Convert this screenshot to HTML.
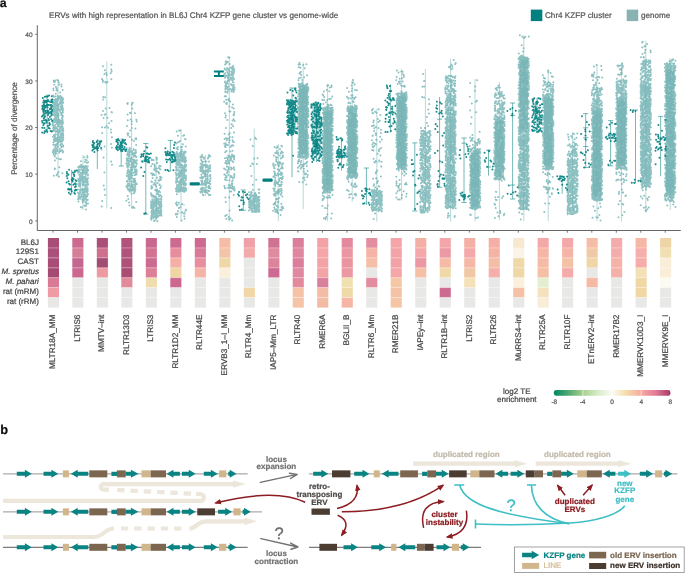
<!DOCTYPE html>
<html><head><meta charset="utf-8"><style>
html,body{margin:0;padding:0;background:#fff;}
svg{display:block;font-family:"Liberation Sans",sans-serif;will-change:transform;text-rendering:geometricPrecision;}
</style></head><body>
<svg width="685" height="574" viewBox="0 0 685 574">
<rect width="685" height="574" fill="#fff"/>
<defs><linearGradient id="gg" x1="0" y1="0" x2="0" y2="1"><stop offset="0" stop-color="#72b2b3" stop-opacity="0"/><stop offset="0.07" stop-color="#72b2b3" stop-opacity="1"/><stop offset="0.93" stop-color="#72b2b3" stop-opacity="1"/><stop offset="1" stop-color="#72b2b3" stop-opacity="0"/></linearGradient><linearGradient id="gt" x1="0" y1="0" x2="0" y2="1"><stop offset="0" stop-color="#00807f" stop-opacity="0"/><stop offset="0.07" stop-color="#00807f" stop-opacity="1"/><stop offset="0.93" stop-color="#00807f" stop-opacity="1"/><stop offset="1" stop-color="#00807f" stop-opacity="0"/></linearGradient></defs>
<g id="chart">
<rect x="299" y="83.7" width="8.5" height="74" fill="url(#gg)" opacity="0.72"/>
<rect x="323.4" y="107" width="8.5" height="86" fill="url(#gg)" opacity="0.72"/>
<rect x="348" y="106" width="8.5" height="72.4" fill="url(#gg)" opacity="0.72"/>
<rect x="397.4" y="92.6" width="8.5" height="76.9" fill="url(#gg)" opacity="0.72"/>
<rect x="446.4" y="95" width="8.5" height="114" fill="url(#gg)" opacity="0.3"/>
<rect x="470.8" y="149" width="8.5" height="60.4" fill="url(#gg)" opacity="0.72"/>
<rect x="495.2" y="117" width="8.5" height="63" fill="url(#gg)" opacity="0.72"/>
<rect x="519.6" y="56" width="8.5" height="78.5" fill="url(#gg)" opacity="0.72"/>
<rect x="519.6" y="134.5" width="8.5" height="74.9" fill="url(#gg)" opacity="0.3"/>
<rect x="544" y="94.5" width="8.5" height="74.9" fill="url(#gg)" opacity="0.72"/>
<rect x="592.8" y="106.7" width="8.5" height="94" fill="url(#gg)" opacity="0.72"/>
<rect x="617.2" y="97" width="8.5" height="72.4" fill="url(#gg)" opacity="0.72"/>
<rect x="641.6" y="82.3" width="8.5" height="104.5" fill="url(#gg)" opacity="0.3"/>
<rect x="666" y="63.1" width="8.5" height="135.9" fill="url(#gg)" opacity="0.72"/>
<path d="M58 79.5V177.2M83 155V210M106.8 61.3V208.4M131.6 101.7V208.4M156.2 157V221.5M181 129.3V221.3M177 204.8H185M177 212.9H185M205.4 155V196M229.3 56.5V221.3M225.3 188.2H233.3M254.2 128.6V212.1M278.3 144V221.3M303.2 62.5V209M327.6 83.7V221.3M352.2 79.2V202M376.8 108.8V221.6M372.8 162H380.8M401.6 68.9V200.6M425.4 68.9V212.7M450.6 58.8V221.6M475 78.8V221.6M499.4 82.3V220M523.8 35.2V221M519.8 209.4H527.8M548.2 70V221M572.6 132.8V214.7M597 64.8V221M621.4 63.1V221.6M645.8 40.5V211.8M670.2 57.9V210" stroke="#72b2b3" stroke-width="0.5" fill="none"/>
<path d="M54.3 84.8h0M53.5 90.2h0M56.6 88.3h0M58.1 80.5h0M57.3 80.1h0M53.7 80.7h0M61.5 86.5h0M55.1 81.5h0M62.7 89.9h0M56.9 89h0M53.2 95.6h0M55.8 93.7h0M53.9 81.9h0M61.4 84.6h0M58.9 82.5h0M56.6 90h0M53.4 88.5h0M54.9 80.5h0M57.2 90.7h0M58.9 84.7h0M55.9 87h0M60.1 92.6h0M58.8 97h0M62 98.1h0M55.8 98.9h0M54 99.9h0M60.7 97.7h0M57.9 96.6h0M59.8 96.2h0M58.8 99.1h0M56 99.5h0M59 98.8h0M57.5 98.3h0M62.7 99.4h0M59.7 97.9h0M60.1 96.2h0M63.2 98.6h0M55.7 99.3h0M59.8 97.5h0M57.6 96.1h0M53.9 96.7h0M60.8 96.2h0M55.3 96.5h0M61.9 97.6h0M57.5 96.3h0M62.1 98.2h0M61.9 99.3h0M57.1 111.7h0M62.1 115.1h0M54.3 140.2h0M55.2 107.4h0M57.8 109.8h0M55.5 124.7h0M57.1 100.2h0M58.7 115.5h0M60 140h0M59.2 121.7h0M53.3 128.4h0M61 137.8h0M61.2 136.7h0M56.9 116.5h0M59.4 104.3h0M53.4 102.6h0M54.4 108.8h0M53.3 114.3h0M54.3 100h0M56.6 104.3h0M62 101.1h0M54.3 125.8h0M56.4 110.6h0M54 115.3h0M63.2 135.7h0M57.8 119.6h0M53.8 103.6h0M55.5 114.4h0M54.4 134.8h0M62.8 101h0M54.3 122.2h0M53 122.8h0M63.1 122.2h0M60.1 136.3h0M56.6 111h0M60.9 107h0M61 122.4h0M55.1 113.8h0M63.1 134.1h0M61.2 135.8h0M60.5 134.4h0M58.2 109.5h0M53 114.9h0M55.7 101.2h0M60 110.9h0M57.4 140.2h0M63.2 139.4h0M56.6 140.1h0M55.1 109.3h0M54.9 108.3h0M62.2 126.2h0M57.8 135.3h0M61.2 127.4h0M59.7 103.6h0M61 138.2h0M57.8 131.5h0M61.1 107.5h0M61.2 114h0M56.9 140.8h0M62.7 116.9h0M54.5 130.4h0M54.3 105.3h0M61.2 138h0M61.5 106.1h0M59.7 141.2h0M58.5 114.7h0M52.9 105.5h0M59.6 140.8h0M62.6 122.1h0M61.9 118.2h0M54.9 134.7h0M55.8 110.6h0M58.9 110.1h0M57.1 110.9h0M62.3 105.5h0M57.6 114.9h0M62.3 124.5h0M62.4 117.7h0M58.3 121.1h0M52.9 122h0M54.6 118.5h0M61.2 100.2h0M57.7 107.2h0M58.6 130.5h0M58.2 113.7h0M61 123.3h0M58.6 104.5h0M55.6 110.4h0M58.1 132.4h0M60.8 123.6h0M57.4 138.3h0M58.1 125.7h0M60 121.5h0M58.4 119h0M62.7 120.1h0M62 129.4h0M55.5 139.6h0M62.7 123.5h0M54.2 135.3h0M57.4 105.1h0M55.3 103h0M59.8 103.1h0M62.2 132.9h0M60.3 106.5h0M54.2 127.7h0M63 137.1h0M62.8 109.2h0M57.9 116.7h0M61.5 141.6h0M57.3 106.8h0M56.3 121.7h0M56.1 108.2h0M52.9 130.3h0M57.4 123.3h0M56.2 100.8h0M58.1 126.2h0M63.1 102.7h0M63 133.1h0M55.5 104.4h0M61 101.7h0M54.1 111.4h0M62.4 117.7h0M55.4 134.4h0M62.4 106.3h0M60.1 124h0M53.3 103.8h0M57.2 128.9h0M62.6 103h0M61.2 126.6h0M61.8 103.5h0M61.8 102.8h0M56.3 119.1h0M62.5 123.2h0M54.1 111.3h0M55.2 122.1h0M54.4 104.6h0M54.8 102.1h0M55.9 113.1h0M55.8 131.9h0M54.6 121h0M52.9 114.6h0M52.9 110.5h0M58.5 130.8h0M57.7 108h0M53.8 139.3h0M57.3 134.4h0M61.5 120.8h0M58.1 116.5h0M63.1 128.9h0M61.5 114.4h0M59.4 129.7h0M56.4 117h0M54.1 102.3h0M60.6 103h0M54.4 110.7h0M61.6 103.5h0M59.8 136.6h0M55.3 111.8h0M57.6 112.3h0M57.4 106.6h0M62.9 111.1h0M58.5 140.9h0M62.9 110.3h0M56.5 113h0M56.7 100h0M58 119.9h0M58.1 108.4h0M55.5 100.2h0M56.9 103.8h0M52.9 101.8h0M55.2 112.8h0M58.3 124.6h0M59.7 131.5h0M62 130.1h0M56.2 116.4h0M54.3 141.4h0M59.5 130.4h0M61.6 101.8h0M59.3 137.5h0M61.3 130.8h0M58.3 105.9h0M61.6 121.2h0M61.5 133.8h0M62.2 124.5h0M60 128.7h0M53 109.7h0M56.5 105.6h0M61.6 104.4h0M59.4 123.5h0M59.9 126.3h0M52.7 120.6h0M60.6 133.5h0M58.4 121.1h0M53.4 127.7h0M55.4 130.9h0M55.5 103.1h0M54.9 130.6h0M63 131.1h0M56.8 120.7h0M59.9 120.1h0M59.2 132.2h0M53.5 127h0M55.4 106.2h0M55.9 131.2h0M52.8 123.8h0M55.5 102.5h0M60 128.2h0M55.8 128.4h0M57.6 121.7h0M54 119.6h0M54.8 137.5h0M62.6 141.1h0M57.6 100.7h0M63 134.4h0M55.5 118.9h0M62.7 108.8h0M58.9 108.8h0M58.3 106h0M54.1 140h0M58.1 134.4h0M60.2 137.2h0M62.2 109.7h0M53 120.4h0M57.9 100.2h0M55.9 118.9h0M56.3 105.9h0M61.6 113.3h0M60.7 100.1h0M54 135.2h0M60.3 138.9h0M55.8 137.9h0M56.9 115.6h0M58.9 141.9h0M57.2 115.1h0M53.2 111.6h0M61.5 104.3h0M62.6 112h0M55.5 110.5h0M54.7 121.5h0M62.8 115.7h0M61.3 137.1h0M62.4 126.5h0M58.5 139.5h0M53.2 130.2h0M57.5 130.8h0M59.5 131.6h0M53.2 112h0M54 138.9h0M56.3 119.8h0M60.5 112.5h0M55.5 141h0M55.9 127.6h0M56.9 123.4h0M54.4 107h0M62.3 108.7h0M55 120.9h0M63.3 138.1h0M54.2 118.9h0M53.7 108.1h0M53.7 114.4h0M55.4 110h0M62.1 123.9h0M57.1 131.5h0M58.3 117.4h0M56.3 115.8h0M55.6 102.6h0M54 140.6h0M59.4 121.1h0M55 136.2h0M55.3 111.4h0M57.4 116.8h0M61.7 140.1h0M52.9 136.7h0M60.2 101.4h0M57.7 137.6h0M52.7 124.7h0M62.5 116.4h0M61.8 134.7h0M55.3 140.8h0M54.3 104.6h0M59.9 121.9h0M60.4 139.5h0M60.8 127.2h0M58.5 119.2h0M61 101.7h0M62.5 109.8h0M55.9 127.1h0M55.4 105.4h0M60.1 126.7h0M53.4 104.7h0M58.9 122h0M55.1 116.3h0M52.8 125.2h0M57.6 112.7h0M59.5 140.3h0M57.7 137.1h0M55.3 109.9h0M60.2 140.3h0M52.9 112.9h0M59.8 120.9h0M55.4 117.6h0M62.5 128h0M53.1 109.5h0M57.2 114.2h0M54.8 128.7h0M60.5 133.5h0M54.9 121.2h0M56 140.7h0M55.1 134.4h0M60.8 109.3h0M62.8 112.4h0M54.7 120.8h0M57.1 109.4h0M62.8 127.9h0M56.9 106.1h0M63 108.9h0M53.2 106h0M56.9 102.5h0M62.1 137.7h0M63.3 130.8h0M56.2 139.1h0M62.6 107.8h0M53 131.3h0M56.7 127.9h0M56.2 115.7h0M52.7 107.1h0M56.4 111.8h0M54 140.1h0M54.9 140.5h0M61.4 115h0M57.3 151h0M57.7 142.5h0M62.4 146.1h0M56.6 144.1h0M53 151.9h0M61.3 146.5h0M53.1 150.4h0M53.4 142.4h0M55.4 152.1h0M62.2 150.2h0M55.6 145.7h0M59.2 152.5h0M60.3 144.9h0M55.6 145.5h0M60.7 142h0M59.4 152.1h0M53 152.4h0M57.7 144.6h0M62.8 152.5h0M55.4 146.3h0M57.9 146.7h0M54.6 152.2h0M60.5 150.8h0M60.9 151.1h0M56.2 148.7h0M56.5 145.5h0M53.5 150.6h0M60.7 144.2h0M53.4 144.7h0M58.6 142.4h0M63.1 145.6h0M63.2 151.7h0M53.6 144.9h0M58 143.1h0M57.4 149.8h0M57.1 144.6h0M59.8 148.8h0M61.7 150.2h0M54 149.3h0M55.8 151.2h0M56.7 148.2h0M54.8 150.1h0M55.3 144.7h0M62.1 143.7h0M56.2 148.4h0M63.2 146.4h0M55.2 147.6h0M59.6 150.9h0M53.8 152.9h0M61.4 147.2h0M62.4 173.2h0M55.8 154h0M54.7 155.9h0M58.9 176.4h0M56.6 175.3h0M57.5 173.8h0M60.9 159.2h0M53.8 175.7h0M59.3 167.3h0M56.6 158.2h0M54.9 156.4h0M59.1 159.1h0M54.9 168.6h0M56.2 153.3h0M54.7 169.3h0M54.9 160.5h0M58.5 172.1h0M53.8 154.5h0M81.2 164.7h0M87.3 157.6h0M85 161.9h0M88.1 162.3h0M86.6 160.2h0M86.8 162.7h0M85.4 159.8h0M81 161.3h0M84.3 157.3h0M87.4 155.9h0M78 171.4h0M87.5 169.9h0M79.2 178.8h0M78.1 167.1h0M84.4 191.6h0M85.5 191.8h0M84 168.4h0M86.4 179.4h0M87.1 196.3h0M86.9 168.4h0M87.7 199.8h0M79.9 170h0M78.1 170.1h0M86.3 197.4h0M86.4 189.5h0M80.7 189.4h0M78.7 169.7h0M79.9 194h0M82.2 177.8h0M80.4 166.8h0M85.3 176.5h0M81.1 179.6h0M83 201.7h0M84.3 197.5h0M82.1 167.1h0M85.9 182.1h0M85.2 178.8h0M80 185.9h0M78.7 197.9h0M79.5 196.3h0M79.8 166h0M88.1 194.2h0M82.9 166.2h0M86.1 184.2h0M82.9 172.8h0M86.5 178.8h0M87.7 175.6h0M80 176.5h0M83 191.9h0M84.4 170.1h0M86.1 169h0M86 191.8h0M81.5 189.2h0M81.9 180.8h0M78.6 198.9h0M78 198.9h0M80.5 173.6h0M83 199.3h0M87.1 180h0M82.6 174.6h0M85.7 185.7h0M84.6 193.9h0M81.2 178.9h0M86.6 171.7h0M85.6 190.5h0M82.4 172.3h0M83.8 194.6h0M82.6 170.7h0M80.2 198.7h0M80.9 173.1h0M86.6 192h0M79.4 171.7h0M81.2 175.2h0M79.4 185.3h0M79.7 178.1h0M85.4 202.1h0M87.9 169.8h0M81.8 169.8h0M86.1 202.4h0M82.3 193.1h0M84.5 173.3h0M79.9 170h0M78.1 180.4h0M86.1 180.8h0M83 191.7h0M82.6 189.4h0M84.1 171.2h0M85.6 181h0M82.3 199.6h0M85.6 187.2h0M80.1 181.6h0M87 192.7h0M85.1 194.6h0M84.9 197.5h0M82.5 189.7h0M84.4 177.6h0M82.1 169.6h0M85.3 194.9h0M80.4 189.3h0M82.5 181.7h0M82 189h0M87.6 191h0M84.6 172.8h0M81.8 194.8h0M88 184.1h0M83.5 167.4h0M86 172h0M83.2 200.8h0M83.8 169.7h0M85.3 186h0M84.5 185h0M83.2 196.7h0M87.7 181.2h0M85 173.8h0M85.8 180.5h0M88.1 170.5h0M78.3 179.2h0M81.9 176.2h0M82.1 166.5h0M85.1 181.6h0M80.5 179h0M85.6 174.3h0M83.3 200.8h0M86.2 174.1h0M79.9 180.5h0M85.9 170.8h0M84.4 196h0M83.7 183.4h0M87.9 174.4h0M84.5 179.1h0M86.4 196.3h0M80.8 183.3h0M79 186.3h0M81.5 196.8h0M80.5 197.5h0M80.4 179.9h0M79.7 181.8h0M85.4 166.1h0M80.3 176.4h0M82.8 177.2h0M84.5 181.9h0M81.5 190.4h0M86.8 200.4h0M86.5 168.1h0M86 199.5h0M86.5 171.2h0M77.9 189.4h0M87.8 166.4h0M80.4 190.3h0M79.2 169.8h0M85.9 174.6h0M79.3 178.8h0M86.1 199.5h0M87.1 172.2h0M86 188.5h0M87.2 190.7h0M86.6 195.2h0M85 173.3h0M85.6 185.6h0M87.1 182.2h0M80.5 186.5h0M79.2 174.7h0M78.3 184.2h0M79.2 183.3h0M83 184.2h0M86.8 186h0M86.6 166.2h0M83.7 183.3h0M86.6 190.6h0M82.1 179.9h0M78.5 201.5h0M84.4 189.6h0M84.2 167.1h0M87.6 191.3h0M88.1 178.2h0M82.8 184.9h0M78.1 199.2h0M84.3 192.6h0M86.8 178.5h0M82.7 179.5h0M85.9 185.4h0M82.3 173.8h0M83.6 181.6h0M80.8 196.6h0M82 196.6h0M80.6 184.6h0M88 184.7h0M86.1 190.2h0M81.1 178.2h0M83.9 177.1h0M86 189.5h0M85.4 167.5h0M83.5 198.8h0M80.9 167.8h0M79.7 166.2h0M84.2 200.1h0M86.1 190.3h0M84.2 199.7h0M84.3 188.8h0M84 191.8h0M80 191.2h0M82.6 190.7h0M78.8 194.2h0M78.1 172.7h0M87.4 194.7h0M81.6 190.3h0M86 196.4h0M80.4 186.8h0M82.2 177.2h0M82.3 177.8h0M87.6 189.7h0M83.7 168h0M79 167.5h0M83.8 196h0M82.4 200h0M81.8 166.5h0M87.6 187.9h0M82.7 202.3h0M78.8 181.3h0M80 189.8h0M77.9 171.6h0M84.9 166.2h0M87.9 170.5h0M86.9 169.3h0M77.9 170.8h0M80.3 192.6h0M79.7 193.1h0M85.9 167.9h0M86.8 192.4h0M78.6 193h0M85.2 189.3h0M87.6 183h0M87.9 175.4h0M77.8 192.5h0M84.6 166.5h0M78.5 196.2h0M85.4 177.5h0M86.8 172.1h0M78.3 184h0M83.8 179.6h0M84.9 206.1h0M86.2 204h0M84.5 205.5h0M82.1 207.4h0M86 205.7h0M86 209.6h0M80.8 207h0M88 203.4h0M102.2 133h0M105.7 108.6h0M111.7 71.4h0M107.5 82.1h0M111.6 112h0M105.7 114.2h0M103.2 97h0M112 137.3h0M101.9 79.3h0M105.2 82h0M111.1 132.4h0M102 127.3h0M109 123.3h0M111.9 112.4h0M103 66.3h0M111.5 120.9h0M104.7 114.8h0M109.5 108.1h0M104.9 70.2h0M102.8 82h0M103.3 99.5h0M103 80.6h0M101.6 114.9h0M103.6 117.9h0M111.3 64.8h0M111.4 79.2h0M110.9 129.6h0M106.2 72.9h0M111.3 69.6h0M108.2 127.7h0M105.1 97.3h0M106.6 126.2h0M103 111h0M102.1 79.3h0M107.4 117.7h0M110.7 73.3h0M105.9 82.8h0M104.4 74.1h0M105 127.5h0M106.7 75.1h0M111.1 161.6h0M111.9 147.8h0M111 143.9h0M103.7 185.4h0M104.5 172.5h0M103.6 157.5h0M112 164.8h0M111.3 207.9h0M104.6 146.6h0M102.1 200.9h0M104.6 189.4h0M101.7 206.5h0M105.1 194.9h0M101.5 149.5h0M135 113.3h0M127.3 103.4h0M128.4 133.5h0M132.7 102.8h0M131.8 127.9h0M127.4 133.6h0M133.9 141.1h0M127.6 104h0M131.6 124.2h0M127.6 114.6h0M127.8 120.3h0M135.4 128.6h0M132.4 108.6h0M128 135.6h0M136.2 139.2h0M130.8 119.5h0M131.9 139.8h0M136.3 119.8h0M129.9 137h0M129.9 112.8h0M136.7 121.6h0M136 138.2h0M135.3 138.7h0M131.8 104.4h0M136.2 145.1h0M130.8 113.2h0M130.2 130.5h0M127 125.9h0M131.7 121.5h0M127.8 102.9h0M134.5 190.7h0M133 189.2h0M135.7 183.6h0M126.7 186.9h0M129.1 176.1h0M129.2 177.8h0M136.1 171.7h0M129 175.2h0M130.9 170.7h0M129.3 189.8h0M133.2 161.2h0M132.6 153h0M131.7 190.1h0M131.2 159.6h0M127.9 171.3h0M127.7 153.2h0M130.6 160.7h0M128.9 160.5h0M132.1 151.6h0M132.8 184.9h0M133.2 173h0M133.8 156.6h0M132.1 168.1h0M131.3 174.8h0M128.9 161.5h0M131.7 157.5h0M132.5 164.7h0M130 148.2h0M128.8 185.9h0M131.5 172.4h0M136.8 160.3h0M134.5 160.8h0M127 154.7h0M131 186.3h0M130.4 150.4h0M134.1 167.2h0M128.7 152.5h0M134.1 190.2h0M129.9 154.5h0M133.5 163.3h0M135.3 175h0M131.8 184.1h0M134.2 180.4h0M131.3 181.4h0M133.8 182.5h0M127.6 188.2h0M126.3 186.3h0M132.5 181.6h0M136.5 169.8h0M130.7 173h0M135.6 182.4h0M130.3 174.6h0M131.2 167.7h0M129.4 179.7h0M132.2 165h0M129.7 164.7h0M135.3 182.6h0M131 169.8h0M129.5 155.9h0M132.4 154.1h0M127.2 173.5h0M129.7 188.5h0M135.2 185.1h0M128.5 190.2h0M136 166.6h0M126.8 148.2h0M131.6 172.7h0M134.5 188.5h0M136.9 171.6h0M131.8 170.6h0M130.4 178.1h0M132.6 163.5h0M136.3 163.3h0M131.9 177.7h0M130.3 152.1h0M132.3 165.5h0M135.6 173.1h0M131.5 190.4h0M132.9 167.2h0M129.9 191.8h0M134.9 171.2h0M129.7 155.3h0M135.1 191h0M127.5 170.4h0M133.6 187.3h0M136.8 184.1h0M130.8 187h0M129.4 154.6h0M131.7 170.4h0M128.2 156h0M132.7 175.6h0M136.8 163.3h0M126.7 175.9h0M134.6 165.9h0M133.6 161.3h0M129.5 147.9h0M132.5 185h0M128.4 177.3h0M132.2 169.8h0M133.2 159.5h0M136.9 171.2h0M130.7 173.1h0M128 153.1h0M127.4 181.3h0M128.1 152.1h0M135 170.8h0M134.8 174.9h0M126.4 150.5h0M129.7 181.8h0M130.1 179.4h0M129.1 155.2h0M135.9 152.1h0M130 173.5h0M130.4 167.6h0M135.7 150.1h0M136.5 173.5h0M132.9 167.2h0M126.8 158.7h0M135.4 188.9h0M135.8 161.6h0M129.5 183.8h0M136.5 174.4h0M136.4 169.7h0M130.4 158.5h0M128.6 179.5h0M135.6 161.4h0M134.7 169.2h0M128.1 158.5h0M128.3 163.6h0M129.4 190.7h0M127.5 172.6h0M130.4 171.3h0M127 165.6h0M135.1 153.2h0M128.9 163.3h0M129.3 156.2h0M126.7 158.2h0M129.9 177.1h0M133.8 154.6h0M129.2 151.8h0M127.7 184.7h0M135.2 167.3h0M128 183.4h0M134 163.3h0M136.5 164.4h0M136.4 156.9h0M128.7 170.1h0M127.7 167.8h0M129.1 179h0M132.5 187.6h0M128.9 164h0M128.6 174.6h0M127.6 186.3h0M132.1 170.4h0M134.5 159.7h0M133.3 164.7h0M129.6 172.8h0M127.2 165h0M135.3 155.5h0M133.3 161.9h0M132.3 152.5h0M131.6 163.7h0M127 160.9h0M128.7 161.5h0M133.9 153.3h0M130.6 160.2h0M134.5 188h0M135.4 186.8h0M129.2 153.6h0M133.5 149h0M130 177.1h0M133.3 166h0M128.9 178.7h0M130 185.2h0M128.2 175.6h0M136 152.8h0M133.9 180.2h0M126.7 149.5h0M128.4 154.9h0M130.3 161.1h0M129.6 149.4h0M128.2 176h0M132.3 184.9h0M129 179.4h0M133.6 167h0M126.3 163.2h0M134.5 184.7h0M126.8 160.4h0M132.7 185.5h0M128.9 149.8h0M134.7 152.6h0M136 157h0M127.2 180.9h0M130.5 178.5h0M135.1 180.8h0M127.3 160.2h0M130.8 189.6h0M133.6 188.9h0M135.1 180.4h0M131.1 175.5h0M133.7 150.1h0M131.7 166.7h0M127.7 188.8h0M126.8 181.5h0M134.8 178.8h0M132.1 159.3h0M133.1 190.6h0M128.9 171.8h0M130.1 150.3h0M128.4 165.9h0M127.7 161.5h0M133.4 179h0M128.9 158.2h0M131 170.5h0M130 189.2h0M135.7 161h0M132.3 154h0M134.9 162.5h0M134.4 172h0M133.4 155.2h0M131.2 174.2h0M135.1 181.6h0M129.4 152.8h0M128.5 163.7h0M129.3 150.4h0M133.7 156.4h0M127.5 167.5h0M131.3 162.1h0M128.1 163.8h0M126.4 150.9h0M134.3 207.9h0M133.9 193.3h0M132.3 207.7h0M131.5 193.7h0M128.3 198.9h0M126.4 200.7h0M133.1 206.7h0M136.2 202h0M129 202.4h0M127.8 195.9h0M134.5 192.4h0M129.4 205.4h0M153.6 159.9h0M156.8 159.7h0M157 158.2h0M156.3 157.6h0M151.8 160.2h0M151.7 159.2h0M160.1 176.8h0M158.5 180.4h0M152.1 187.1h0M158.5 194.7h0M159.7 165.8h0M152.7 175.2h0M156.9 193.7h0M152.4 187.7h0M151.5 187.7h0M154.8 170.2h0M157.2 163h0M154.1 169.4h0M155.4 185.5h0M157.5 191.4h0M156.9 190.8h0M160.1 192.3h0M158.8 168h0M159 173.6h0M159.7 184.6h0M154.9 166.5h0M160.9 186.5h0M151.4 186h0M152 182.1h0M159.4 180.3h0M160.7 166.2h0M153.6 184.4h0M155.6 168.8h0M157.1 189.7h0M151.1 166.2h0M159.4 166.1h0M156.8 168.5h0M158.2 171.9h0M152.4 174.9h0M156.6 191h0M159.5 184.9h0M151 193.3h0M152.5 173.6h0M160.2 178.8h0M151.3 188.5h0M159.6 168.4h0M155.1 184.6h0M152.6 178h0M155.1 190h0M157.4 190.9h0M154.4 165h0M160.4 169.5h0M151.4 181.6h0M154.7 168h0M157 177.7h0M154.6 175.1h0M157 162.7h0M151.1 173.3h0M161.4 177.4h0M152.4 164h0M153.8 184.3h0M156.2 171.4h0M156.9 171h0M161 179.7h0M151.3 194.7h0M159.1 180.7h0M159.1 190.9h0M157.6 183.1h0M153.9 174.3h0M160.2 188.3h0M158.1 193h0M159 172.4h0M156.3 186.5h0M154.6 183.1h0M155.2 180.4h0M154.5 164.5h0M161.4 196.3h0M154.8 196.9h0M153.4 196h0M152.3 196.4h0M160.1 195h0M155.6 196.8h0M154.1 197.3h0M151.6 195.7h0M154.2 196.2h0M156.7 197.9h0M154.5 198.7h0M157.1 198.7h0M152.8 195.3h0M161.4 197.3h0M159.1 196.4h0M160.1 207.3h0M156 200.3h0M153.8 216.4h0M151.1 204h0M153.7 202.2h0M153.2 212.6h0M153 206.7h0M160.1 210.6h0M153 211.5h0M161.1 213.2h0M151.7 210.6h0M160.2 214.6h0M152.3 205.6h0M156.6 202.6h0M157.7 215.9h0M153.1 216.8h0M158.8 205.3h0M155.2 211.5h0M154.5 212.1h0M155.3 200.1h0M157.5 199.9h0M156.1 205.5h0M153.6 210.5h0M151 207.9h0M156.9 216.9h0M151.5 218.1h0M158.6 210.8h0M151.9 205.4h0M152.4 202h0M151.9 213.8h0M155.4 214.7h0M157.1 209.4h0M157.9 209.7h0M154.4 210.6h0M153.6 213.3h0M159 212.7h0M154.2 214h0M161.3 213.9h0M153.8 207.7h0M160.9 209.1h0M151 201.5h0M157.8 208.2h0M154.7 213.9h0M153.3 218.1h0M151.9 213.6h0M152.3 199.5h0M156.2 200.2h0M152.8 209.7h0M154.8 217.1h0M152.8 201.9h0M160.7 213.2h0M151.2 202.1h0M153.5 214h0M156.2 218h0M154.5 211.3h0M155.8 214.5h0M160.5 205.2h0M158.7 201.1h0M157.7 200.3h0M160.1 206.8h0M156.9 200.2h0M160.6 206.9h0M157.5 217.2h0M153.6 203.3h0M155.5 204.1h0M153.1 203.5h0M157.7 213.7h0M161.4 204.8h0M156.9 203.2h0M160 202h0M153.7 215.8h0M159.6 213.5h0M154.4 204.5h0M160.3 208.4h0M158.1 202.1h0M155.7 210.5h0M160.3 210.2h0M160.3 203h0M159.2 206h0M152.8 215.7h0M161.4 215.7h0M151.2 204.7h0M161.2 201.2h0M160.6 199.2h0M158.7 201.9h0M152.7 200.9h0M151.9 212.2h0M160.6 205.6h0M160.2 212.8h0M151.2 217.9h0M159.3 203.5h0M151.3 212.3h0M153.4 208.7h0M152 207.3h0M161.4 199.4h0M160.2 205.1h0M156.1 201.3h0M155.4 201.6h0M158.2 202.5h0M158.7 201.9h0M152.1 208.7h0M156.2 205.8h0M154.6 216.7h0M161.2 203.2h0M158.7 216h0M152.8 204.3h0M151.6 204.1h0M156.3 199.8h0M156.8 206.9h0M151 206h0M157.8 212.3h0M156.7 209.5h0M161.3 212.3h0M158.5 215.9h0M154.3 206.7h0M161.2 207.1h0M155 206.5h0M152.4 206.9h0M151 218.3h0M160.7 210.7h0M157.4 203.9h0M153.5 206.3h0M152.1 202.8h0M159.2 215.3h0M151.4 216.5h0M154.3 212.4h0M156.7 211.5h0M161.2 205.1h0M158.8 199h0M156.3 215.5h0M161.4 210.4h0M157.6 203.5h0M154.9 213.3h0M155.1 212.7h0M157.4 209.2h0M154.3 212.1h0M156.7 211.1h0M157.4 203.3h0M160.5 204.1h0M158.5 208.1h0M156 209.1h0M152.4 203.3h0M156.5 216.9h0M156.5 209.1h0M153.4 214.7h0M159.6 202.3h0M157.7 207.9h0M160.4 215h0M151.4 215.7h0M159.7 206.4h0M152.2 214.8h0M153.6 202h0M154.7 201h0M156.4 214.5h0M151.8 207.7h0M161.5 206.6h0M155.7 212.4h0M159.4 208.2h0M152.5 213.6h0M154.8 212.1h0M153.4 209h0M154.5 206.2h0M151.1 206.4h0M156.9 202.9h0M152.8 200.1h0M153.8 212.9h0M153.5 205.3h0M151.9 215.1h0M160 211.3h0M155.4 202.9h0M157.4 221.2h0M151.4 219.7h0M154.8 219.9h0M154 220.9h0M177.8 147h0M181.6 149.6h0M179 130.4h0M180 141.1h0M179.1 141.8h0M184.1 135.3h0M183.2 135.7h0M182 147h0M185.6 139.3h0M185 139.1h0M180.3 130.6h0M176.2 143.4h0M176.5 148.4h0M177.6 142.5h0M181.6 149.7h0M181 147h0M182.9 144.2h0M177.9 135.8h0M177.2 147.8h0M177.9 149.6h0M176.7 131.5h0M185.8 146.6h0M182.7 168.2h0M185.3 161.9h0M177.3 179.2h0M183.1 153.7h0M184.6 153.1h0M178.2 163.3h0M179.1 175h0M177.3 174.2h0M179.1 188.4h0M177.3 185.6h0M186.1 183.9h0M176 167.3h0M182.5 166.8h0M181.5 160.5h0M180.6 155.2h0M180.3 181h0M176.9 179h0M177 185h0M186.3 188.9h0M181.3 189.5h0M179.4 163.2h0M181 181.9h0M176.7 189.2h0M184.9 171.1h0M181.4 175.7h0M177.2 155h0M185.2 162.4h0M178.1 185.7h0M176 188.9h0M186 175.7h0M185.7 165.4h0M176.2 178.1h0M180.5 164.9h0M183.6 161.4h0M184 158.7h0M176.4 163.5h0M176.7 174.1h0M184.1 173.8h0M180.6 175.6h0M181.1 152.8h0M182.6 155.3h0M181.8 156.8h0M179.7 165.7h0M177.4 178.3h0M185.7 158.3h0M184.6 164.9h0M180.8 186.9h0M176.7 157.5h0M176.9 187.1h0M181.4 171.5h0M180.7 156.2h0M181.4 158.1h0M179.6 172h0M180 159.4h0M177 159.7h0M184.9 161.1h0M185.1 171.8h0M185.7 152h0M184.1 171.2h0M183 174.6h0M183.7 160.7h0M178.5 157.6h0M179.9 152.7h0M178.8 172.4h0M176.6 187.6h0M178.2 174.9h0M184 175.6h0M176.4 180.3h0M182.1 161.4h0M176.1 191.3h0M183 176.5h0M179.3 184.5h0M180.6 184.3h0M175.8 188.8h0M180.1 189.6h0M176.6 167.9h0M183.5 161.3h0M177.3 179h0M177.2 165.4h0M178 159.4h0M186 164.8h0M184.1 191.9h0M181 170.9h0M185.3 183h0M182.4 181.9h0M182.3 159.5h0M184 185.7h0M183.3 155.2h0M177.4 165.6h0M182.8 190.6h0M177.1 181.7h0M185.6 185h0M183.6 188.1h0M184.2 185.2h0M180.3 175.4h0M184 184.9h0M178.9 186.8h0M181.3 190.4h0M176.9 189.8h0M184 190.7h0M184.6 161.6h0M177.8 160.8h0M178.2 170h0M185.3 171.4h0M183.2 179.2h0M184 167.3h0M182.9 183.6h0M184.5 189.6h0M176.6 167.9h0M184.6 177.9h0M182 165.2h0M184.1 185.4h0M180.9 151.6h0M176.9 152.1h0M180.1 184.4h0M180.5 176h0M178 165h0M184.7 165.8h0M178.8 176.5h0M178.6 155h0M180.4 179.9h0M184.3 178.2h0M182.9 156.3h0M184.4 153.1h0M178.6 158.9h0M179.5 190.3h0M185.1 160.5h0M185.2 176.2h0M181 167.4h0M181.1 190.2h0M177.7 191.5h0M177.4 185.1h0M175.7 172.8h0M185.7 158.5h0M184.3 169.9h0M179.4 161.6h0M181.6 155.5h0M181.1 186.4h0M185.5 166.7h0M182.8 187.7h0M182.3 154.5h0M185.9 169.4h0M182.7 166.1h0M179.7 177.1h0M182.9 172.6h0M181 188.2h0M186 166.2h0M184.5 153.7h0M181.6 179.2h0M183.7 169.6h0M183.4 187.6h0M176.1 181.8h0M177.2 164.6h0M185.1 190.1h0M181.9 157.3h0M176.2 174.8h0M183.6 167.3h0M178.7 177.4h0M178.8 182.4h0M180.2 173.5h0M182.6 191.1h0M182.9 184.1h0M185.9 166.8h0M183 180.2h0M177.4 162.7h0M184.5 174.8h0M179.4 183.6h0M181.2 157.1h0M177.4 187h0M177.5 181.4h0M176.3 164.1h0M179.8 163.5h0M185.9 190.7h0M179 159h0M177.8 189.7h0M180.3 164.4h0M178.5 155.8h0M179.8 167.4h0M178.5 190.5h0M185.3 159.7h0M184.6 169.7h0M184 177.3h0M177.3 164.2h0M180.7 182.1h0M182.8 174.1h0M178.6 182h0M185.4 166.1h0M178.8 172.9h0M178.5 177h0M176.1 182.7h0M181.7 185h0M185.7 165.8h0M178.3 162.2h0M181.5 154.2h0M182.9 182h0M184.3 168.2h0M179 155.9h0M186 177.6h0M183 177.1h0M179.9 182.8h0M183.6 189.6h0M179.9 165.3h0M179.4 184.1h0M184.9 158.9h0M181.2 173h0M185.3 178.6h0M179.3 156.8h0M180.1 154.1h0M184.7 171.8h0M181.8 178.5h0M181.8 167.8h0M184.7 162.5h0M184.6 183.4h0M182.8 157.5h0M181 182h0M185.2 187.9h0M184.4 181.6h0M185 177.7h0M183.2 156.7h0M182.2 180h0M176.4 162.6h0M184.4 175.9h0M178 162.5h0M176.7 160.5h0M186 178.8h0M179.5 184h0M176.5 179.8h0M179.1 185.4h0M182.4 151.5h0M178.6 157h0M180.4 153.8h0M184.3 173.9h0M184.5 153h0M178.1 155.9h0M179.3 177h0M181.7 164.8h0M184.1 160.2h0M184.6 159.9h0M181.4 184.2h0M183.9 152.6h0M181 152.6h0M176.4 168.6h0M183.4 177h0M179.9 175.1h0M181.9 172.2h0M184.9 160.6h0M184.2 191.8h0M179.2 190.4h0M176.5 191.4h0M177.1 170.8h0M182.9 169.8h0M180.5 180.2h0M177.7 165.3h0M178.7 167.8h0M183.5 159.3h0M180.3 172.4h0M183.2 159.4h0M178.5 159.4h0M183.1 174.1h0M183.6 190.9h0M185.5 189.9h0M183.3 180.7h0M177.9 153.9h0M184.9 151.9h0M182.4 180.7h0M179.5 162.1h0M182.4 158h0M178.9 191.7h0M177.6 153.2h0M185.2 165.8h0M180.5 184.1h0M176.8 155.5h0M183.9 157.6h0M186.2 170.5h0M184.1 188.4h0M184.4 170.7h0M176.9 156.6h0M181.1 174.3h0M178.4 159.9h0M185.3 152.3h0M185.7 180.2h0M180.3 191.2h0M179.8 181.1h0M184.6 184.4h0M175.8 156.8h0M181.9 160.1h0M175.8 166.8h0M184 185.1h0M176.2 170.2h0M181.4 187.5h0M179.1 154.3h0M185.1 176.8h0M182.5 171.1h0M178.3 159.8h0M179.8 188.2h0M182 155.6h0M177.8 156.5h0M181.9 169.9h0M183.2 177.2h0M176.4 169.2h0M176.3 180.8h0M179.9 170.5h0M183.3 178.7h0M182.6 161.1h0M180.7 179.5h0M185.3 157.2h0M176.4 175.7h0M186.2 161.1h0M179.9 160.7h0M184.4 183.4h0M183.6 177.1h0M176.7 153h0M184.2 191h0M176.2 152.9h0M185.6 161.2h0M182.8 160.3h0M182.5 189.2h0M178.5 188.7h0M175.9 157.6h0M176.8 182.1h0M183.2 190.9h0M184.3 159h0M181.1 158h0M184 155.7h0M185.4 187.5h0M184.7 151.5h0M184.4 174h0M182.3 171.8h0M184.2 175.5h0M176.3 154.6h0M178.8 208h0M175.8 203.6h0M176 213.8h0M184.3 216.3h0M177 205.4h0M177.9 211h0M176.9 204.6h0M181.5 220.6h0M176.7 202.3h0M184.7 213.4h0M176.8 216.9h0M178.9 202.8h0M177.3 214.3h0M186.1 209.8h0M175.8 214.5h0M176.9 194.2h0M182 212.3h0M180.5 207.2h0M182.2 203.9h0M185.4 211h0M184.1 213.5h0M184.6 218.7h0M203 161.7h0M202.1 155.1h0M201.8 164h0M206.3 161.6h0M202 161.6h0M201.1 156.4h0M204.2 164.8h0M206.1 161.5h0M200.8 157.2h0M209.1 155.1h0M210.3 156.3h0M207.8 158.6h0M208.5 156.4h0M204 157.5h0M201.3 160.2h0M208.5 157.5h0M204.1 157.9h0M202.5 162.6h0M202.4 156.9h0M204 158.8h0M205.1 161.4h0M200.6 163.7h0M209 161.6h0M200.4 157.3h0M201.3 159.4h0M207.6 177.4h0M201.3 167.5h0M201.9 177.9h0M204.8 171.2h0M200.8 168.2h0M205.1 174.8h0M206 190.3h0M202.5 166.9h0M206.1 185.1h0M210.3 188.5h0M201.3 188.2h0M205.7 190.5h0M201.9 171.5h0M202.4 188.3h0M202.9 167.2h0M205 190h0M200.9 184.7h0M203.5 177.2h0M207.1 170.5h0M201.4 174.8h0M205.2 191.6h0M200.2 169.9h0M205.6 182.6h0M205.1 165.7h0M205.8 185h0M205.4 171.3h0M207 181.3h0M208.6 168.9h0M207.9 190.5h0M204 188.1h0M202 189.4h0M206.4 171.1h0M201 189.3h0M200.5 170.9h0M201.6 176.9h0M208 170.2h0M210.1 180.7h0M207.3 175.9h0M210.2 165.3h0M205.2 171.3h0M210.2 178.8h0M210.6 178.3h0M202.4 181.8h0M202.2 187.5h0M204.9 192h0M210.3 171.1h0M204.4 173.7h0M207.2 174.3h0M204.1 165.6h0M208.9 169.4h0M206.5 165h0M204.9 172h0M207.6 180.2h0M202.6 168.7h0M210.3 168.3h0M201.6 169h0M206.3 179.1h0M200.7 188.9h0M201.9 171.3h0M204.9 180.8h0M209.5 176h0M209.2 182.9h0M203 190.8h0M204.4 190.4h0M209.8 166.4h0M200.3 167.8h0M203.2 172.8h0M209.3 191.1h0M205.7 176.3h0M208.7 187.9h0M205.5 182.6h0M202.7 168.1h0M206.3 182.8h0M209.6 186.6h0M202.1 191h0M209.6 167.1h0M202 180.4h0M202.8 183.7h0M204 171.4h0M207.3 179.1h0M208 167h0M205.1 181.9h0M208.6 183.1h0M205.1 165.3h0M207.6 183.3h0M202 182.5h0M208.4 190.9h0M204.7 171.3h0M202.3 190.9h0M210.3 176h0M202.6 189.3h0M203.9 184.9h0M208.2 182.9h0M202.5 168.4h0M202.9 170.8h0M201.5 166h0M204.6 176h0M206.3 167.1h0M206.2 190.4h0M207.6 174.6h0M202 176.8h0M200.3 178h0M201.8 183.3h0M210.3 175h0M209 185.7h0M206.8 182.3h0M210.3 184h0M208.2 170.3h0M202.8 173.1h0M206.5 187.2h0M209.4 187.9h0M202.2 180.9h0M205.8 165.4h0M203 184.6h0M200.2 166.9h0M207.5 169.7h0M202.5 165.1h0M207.6 172.2h0M200.3 191.7h0M210 168.1h0M201.7 191.2h0M205.6 174.1h0M204.5 173.6h0M202.8 177.9h0M201 166.5h0M201.1 169.4h0M207.5 181.8h0M208.5 172.1h0M203.7 184.7h0M202.1 178.3h0M206 190.1h0M201.7 166.4h0M204.2 183.7h0M202.5 184.4h0M208.6 186.5h0M206.3 167.5h0M207.6 170.2h0M208.5 186.7h0M201.1 171.2h0M206.1 182.9h0M202.1 168.7h0M201.2 180.7h0M202.7 182.1h0M204.6 172h0M207.8 179.4h0M207.8 165.8h0M203.2 171h0M207.4 182.3h0M209.7 181.6h0M203.4 170.5h0M202.9 194.7h0M202.5 192.6h0M208.9 195.1h0M210.3 194.9h0M203.4 195.2h0M207.7 193.3h0M206.6 192.2h0M200.6 192.4h0M225.6 61.8h0M233.3 66.1h0M226.1 61.3h0M229.4 57.7h0M227.8 61.9h0M229.6 63.9h0M225.1 64.5h0M228.1 57.2h0M226.7 61.5h0M226.4 63.4h0M229.1 75h0M232.2 85.1h0M228.7 76.4h0M233.9 90.6h0M225.1 82.7h0M230.8 78.5h0M224.4 74h0M233.6 92h0M228.9 70.1h0M227.2 82.7h0M232 68.6h0M228.6 86.6h0M228.2 69h0M234.2 69.2h0M227.1 68.1h0M225.4 86.5h0M224.7 69.5h0M229.6 71h0M225.8 88.2h0M232.1 71.3h0M227.6 77.7h0M226.6 70h0M225.2 91.8h0M231.9 73.5h0M233.6 89.7h0M234.1 79h0M227.1 82.3h0M231.6 78.8h0M225.4 85.7h0M234.2 71.8h0M232.6 69.5h0M226.6 75.5h0M229 73.4h0M225.6 92.3h0M227.4 88.8h0M231.9 71.2h0M226 75.6h0M232.7 77.6h0M230.1 89h0M232.1 67.1h0M233.5 82.4h0M227.5 91.3h0M232.7 88.6h0M227.9 73.6h0M227.7 76.4h0M225.2 76.5h0M233.6 72.6h0M230.7 77.4h0M232 89.6h0M233.7 73.1h0M234.5 87.5h0M232 85.5h0M226.7 87.7h0M228 83.7h0M225.4 88.4h0M227.6 80.7h0M227.7 87.9h0M233 88.5h0M225.5 89.4h0M231.9 90.9h0M230.9 84.2h0M233.2 68h0M228.8 80.9h0M232.3 75.5h0M233.2 86.9h0M227.6 72.3h0M225.1 73.2h0M224.3 75.2h0M226.4 87.3h0M224.7 68.6h0M226.1 85.8h0M228.3 78.7h0M234.1 87.4h0M230.7 74.8h0M229 89.8h0M231.8 89.9h0M233.3 74.8h0M225.1 81.5h0M232.8 81.9h0M229.1 80.1h0M233.3 77.5h0M226.2 83.9h0M227.9 76.1h0M231.4 91.4h0M233.7 70h0M230.3 67.7h0M231.6 77.9h0M225 77.8h0M232.7 80.3h0M227.8 87.1h0M231.9 72.5h0M226.3 87.4h0M234.5 89.5h0M228 77.9h0M233.9 85h0M227.2 72h0M231.8 75.3h0M229.8 71.6h0M231.1 79.7h0M234.1 70.5h0M229.9 137h0M225.9 127.9h0M229.8 133h0M233.2 126.3h0M233.8 108.6h0M224.2 101.7h0M233.5 114.9h0M234.1 132.6h0M233.9 115.2h0M225.5 117.4h0M232.5 120.6h0M230.4 111.4h0M226.9 104h0M229.4 111.2h0M225 113.3h0M227.6 92.8h0M231.9 124.4h0M226.7 103h0M225.9 115.5h0M233.6 119.3h0M230.2 101.5h0M231.9 124.6h0M231.5 124.2h0M232.9 104.6h0M224.6 133.7h0M228.7 134.5h0M224.7 96.3h0M231.2 128h0M228.9 98.8h0M234.6 120.9h0M232.1 107.5h0M226.1 103.4h0M228.3 99.7h0M227.2 120h0M226.3 99.7h0M226 96.3h0M229.3 106.6h0M229.1 100.7h0M234.3 112.1h0M234 114.1h0M226.1 162.9h0M225.5 169.6h0M224.8 146.3h0M234.3 175.6h0M227.8 159.2h0M227.7 160.4h0M228.2 175h0M233.2 145.4h0M224.1 168.5h0M231.7 183.7h0M230.7 156.5h0M228.3 187.6h0M227.2 160.8h0M231 167.5h0M234.1 177.4h0M227.9 145h0M232.4 183.8h0M231.2 169.5h0M234 155.7h0M228.3 167.2h0M225.2 147h0M232.5 186.4h0M227.4 138.5h0M229.3 163.4h0M233.5 157h0M229.6 156.2h0M230.8 188.1h0M227.5 163.2h0M230.5 158.3h0M226.8 180.2h0M228.1 157.4h0M233.7 157h0M226.9 166.6h0M232.7 155.3h0M231.3 145.8h0M226 138.2h0M232.5 140.3h0M226.4 145.1h0M226.8 140.2h0M231.6 177.3h0M234 187.1h0M233.8 167.3h0M233.8 141.9h0M226 160.9h0M233.1 178.1h0M225 158.2h0M232 185h0M234.4 169.8h0M224.6 139.1h0M224.2 143.8h0M230.7 176h0M225.7 143.2h0M230.5 147h0M234.3 174h0M234.4 156.8h0M228.1 160.9h0M226.5 150.9h0M234.5 190.6h0M225.9 175.8h0M225.6 146.9h0M231.8 156.3h0M229.6 140.2h0M224.4 174.4h0M232.4 161.2h0M228.8 168.7h0M230.4 185.5h0M228.2 155.5h0M233.1 188.9h0M229.9 187.3h0M225.9 144.8h0M231.3 158.1h0M232.5 137.3h0M229.5 180.2h0M232.5 137.3h0M231.1 159.8h0M231.7 168.3h0M234.2 159.5h0M233.8 189.6h0M227.4 170.8h0M226.9 157.7h0M232.4 186.7h0M232.7 180.3h0M231.3 191.5h0M232 154.5h0M230.5 151.4h0M233.1 145.7h0M226.9 163.9h0M224.9 187.8h0M232 188.2h0M232.1 145.2h0M233.6 168.5h0M228.5 169.3h0M224.9 188.3h0M225.1 179.7h0M225.2 152.2h0M228.7 184.9h0M226.7 177h0M230.9 177.2h0M229.2 142.4h0M226.3 176.7h0M226.9 173h0M233.8 157.4h0M234.6 188.9h0M230.1 160.5h0M232 181.5h0M233.2 162.1h0M234.1 159.1h0M225.3 163h0M225.5 178.2h0M224.6 174.4h0M229.7 191.4h0M225.4 177.7h0M228 172h0M232.6 150.7h0M229.1 138.8h0M233 141.8h0M224.4 186.1h0M229 162.6h0M231.7 176.5h0M233.9 155.9h0M225.4 197.4h0M225.3 215.9h0M229.3 197.4h0M225.7 201.9h0M229 219.2h0M226.7 215h0M226.3 218.7h0M230.5 218.6h0M232.2 220.5h0M229.6 210.5h0M228.7 217h0M233.7 194.9h0M256.1 179.8h0M251.4 175.9h0M257.6 158.2h0M258.7 189.6h0M256.1 139.1h0M253.2 163.9h0M250.4 139.6h0M254.1 158.6h0M252.8 145.9h0M257 163.9h0M250.6 166.1h0M252.8 184.8h0M259.3 189.5h0M255.1 137.8h0M253 189.9h0M252.2 163.5h0M251.1 192.1h0M251.9 192.4h0M254.9 193.9h0M256.2 194.8h0M259 193.1h0M254.7 193.9h0M256 194.6h0M255.3 193.1h0M259.2 192.9h0M259.2 192.7h0M249 192.2h0M251.1 193.7h0M250.2 203.7h0M256 209.3h0M258.7 206.7h0M256.1 212h0M248.9 207.2h0M253.4 195.8h0M252.2 211.6h0M249 204.7h0M258.5 202.1h0M257.6 205.1h0M251 195.2h0M257.7 198.1h0M258.8 196.7h0M258.2 199.6h0M252.3 203.8h0M253.2 211.5h0M249.6 206.9h0M259.3 209.2h0M256.8 196.9h0M250.5 199.6h0M255.9 201.2h0M259.4 211.3h0M255.5 212h0M250.6 206.2h0M254.7 207.4h0M258.4 201.1h0M250.4 199.4h0M250.5 197.7h0M257.4 205.1h0M254.2 197.7h0M254.8 204.8h0M254.7 202.1h0M249.5 195.3h0M251.4 202.2h0M251.5 207.9h0M251.5 209.1h0M254 196.6h0M252.5 201.6h0M251.3 208.1h0M257.7 206.5h0M254.2 202.7h0M255.3 210.8h0M249.6 198.1h0M252.4 196.4h0M255.8 196.5h0M252.2 202.2h0M258.8 203.8h0M250.5 199.2h0M252.3 200.2h0M256.4 210.6h0M250.7 202.3h0M250.2 195.8h0M255.8 209.5h0M255.5 197.7h0M254.3 196h0M250 200.7h0M256.5 207.7h0M250.7 203.7h0M253.5 206.5h0M249.9 206.3h0M248.9 210.4h0M253.1 198.8h0M249.8 198.4h0M259.4 206.8h0M251.7 200.7h0M251.3 206.5h0M256.2 201.9h0M250.6 202.4h0M254.7 196.2h0M258.7 211.9h0M254.2 196.7h0M251 203.4h0M254.2 206.5h0M252 208.8h0M257.5 211h0M250.4 203.1h0M250.2 203.3h0M256.3 206.7h0M259.2 204.9h0M256.5 195.8h0M250.1 208.7h0M249.5 200.5h0M256.6 205h0M256.3 201h0M256.4 201.3h0M259.3 199.7h0M248.9 202.5h0M256.6 196.6h0M255.6 209.8h0M258.1 197.7h0M250.1 207.3h0M256 201.5h0M249.3 195.1h0M258.2 201h0M252.3 212h0M257.2 210.5h0M255.1 209.8h0M255.7 211.6h0M254.9 211.2h0M254.4 198.4h0M252.5 203.3h0M254.3 201.4h0M251.3 205.1h0M254.2 199.7h0M253.3 203.6h0M250.9 206.4h0M251.8 204.1h0M256.4 208.2h0M254.4 208.4h0M258.7 199.3h0M252.9 203.7h0M253.2 200h0M257.6 207.1h0M256.6 203.3h0M253.7 198.6h0M252.1 201.1h0M256.9 201.1h0M251.1 207.5h0M257.2 199h0M256.1 206.2h0M256.3 205.9h0M249.5 199.7h0M249.2 201.2h0M254.5 211.4h0M259.1 206.5h0M251.3 208.8h0M250.1 200.8h0M256.7 208.6h0M252.8 203.3h0M254.1 199.6h0M258.4 207.2h0M258.1 209.5h0M253.4 202.5h0M259.2 200.4h0M250.6 198.1h0M258.7 199.8h0M252.4 209.6h0M258.3 209.6h0M250.9 202.3h0M252.9 208.2h0M258.5 197h0M253.1 202.5h0M251.6 205.2h0M253 195.3h0M249 201.5h0M257 201.4h0M256.1 200.7h0M250.9 205.7h0M256 195.3h0M252 205.4h0M258 198.4h0M251.4 210.5h0M255 205h0M249.3 200.5h0M255.7 200.6h0M254.3 205.3h0M251.2 197.1h0M253.3 200.3h0M258.5 201.2h0M259.4 197h0M258 199.1h0M255.1 199.2h0M249.3 201.5h0M257.5 208.6h0M257.1 199.6h0M259.4 203.2h0M252.9 195.9h0M255.5 198.9h0M257.8 208.3h0M253 204.4h0M276.5 147.9h0M282 146.4h0M277.4 146.5h0M276.8 151.1h0M274.7 147h0M280 148.9h0M277.3 147.3h0M281.4 145.7h0M281.8 179.2h0M280.8 174.2h0M275.3 153.1h0M280.2 209.7h0M278.3 192.4h0M275.1 180.1h0M279.8 161.9h0M275.7 193.5h0M274.4 190.5h0M274.8 188.6h0M276.3 182.3h0M274.4 184.8h0M279.5 180.7h0M276.3 159.6h0M278.8 192.6h0M281.3 188.8h0M275.4 186.1h0M281.8 178.3h0M281 185.8h0M277.8 173.5h0M281.7 210.3h0M274.1 191h0M273.4 188.5h0M283.3 208.1h0M275.8 195.6h0M274.9 202.7h0M278.5 201.7h0M282.4 152.4h0M281.8 178.1h0M278.6 193.2h0M275.2 203.7h0M276.6 205.9h0M276.6 153h0M273.8 155.4h0M274.3 189.3h0M276.1 161.1h0M282.8 168.3h0M282.2 206.4h0M277.7 211.5h0M276 199.7h0M281.6 207.6h0M275.4 195.8h0M282.8 157h0M279.5 184.9h0M274.5 203.7h0M277.9 193.8h0M277.8 199.1h0M283.1 163.3h0M280.9 168.5h0M275.6 201.9h0M277.2 193.6h0M275.3 165h0M276.9 209.3h0M278.3 182.3h0M281 153h0M282.3 196.6h0M275.2 173.1h0M280.8 172.5h0M277.3 191.3h0M274.6 183.2h0M278 207.2h0M281.3 182.2h0M280.7 163.4h0M281.6 172.8h0M275.9 157.1h0M278.1 190h0M279.1 174.3h0M277.6 164.6h0M281.5 151.5h0M281.8 166.8h0M279.4 184.9h0M274.3 189.4h0M276.1 198.6h0M281.3 203.8h0M281.6 192.6h0M280.1 177.9h0M275 209.2h0M277.4 157.5h0M274.6 182.3h0M282.2 164.8h0M274.6 175h0M279.1 162.5h0M278 162.9h0M277.7 184h0M281.9 182h0M282.9 152.4h0M273.4 163.5h0M279 198h0M275.3 184.1h0M276.2 198.8h0M275.4 195.5h0M279.9 186.2h0M278.1 174h0M279.8 155.4h0M274.6 193.4h0M280.8 184.8h0M281.9 157.5h0M273.5 204.2h0M273.9 166.5h0M273.9 166.7h0M275.7 181.1h0M277.9 169.6h0M281.4 174h0M274.2 195.3h0M273.1 165h0M274.1 171.4h0M281.3 193.7h0M275.2 211.8h0M281 153.6h0M282.9 176.4h0M276.3 175.2h0M283 155.8h0M277.7 182.5h0M281.1 177.9h0M278 201.8h0M277.3 162.2h0M277.3 205.5h0M278.9 191.5h0M279.1 179.4h0M278.9 166.3h0M273.8 203.9h0M282.3 173.8h0M273.1 210.8h0M279.7 189.5h0M278 202.6h0M276.2 159.3h0M280.7 194.7h0M279.8 163.8h0M280 191.3h0M277.7 152.7h0M279.3 171.1h0M274.4 171.8h0M276 192.1h0M276.2 199.4h0M281.6 184.5h0M280.8 158.4h0M282.9 155.5h0M280.7 152.9h0M274.9 173.8h0M278.3 175.4h0M274.3 176.6h0M276.2 183.1h0M277.1 210.1h0M275.4 177.8h0M276.4 210.2h0M281.8 190.6h0M281 175.3h0M274.2 168.3h0M277.8 154h0M275.2 204.4h0M281.1 178.1h0M274.6 168.2h0M277.5 182.9h0M282.5 208.4h0M278.9 165.8h0M273.4 176.7h0M282.7 178.4h0M279.2 169.8h0M273.7 194.5h0M274.2 207.5h0M280.6 214.9h0M277 212.3h0M278 213.3h0M299.5 62.8h0M298.8 67.2h0M300 64.4h0M299.4 73.5h0M302.3 79.9h0M300.5 67.8h0M298.4 80.3h0M298.9 78.2h0M302.2 82.5h0M307.1 75.2h0M298.6 64.6h0M304.1 77.2h0M300.8 77.8h0M299.9 73h0M300.9 71.8h0M301.1 74.9h0M304.7 68.3h0M306.4 64.3h0M300.3 73h0M303.3 64.9h0M305.5 121h0M302.3 111.4h0M300.8 149.8h0M307.4 156.3h0M307.9 157h0M306.5 102.7h0M300.1 129h0M304.8 157.5h0M303.8 143.6h0M307.1 89.6h0M300.6 96.7h0M300 129.3h0M305.5 117.9h0M304.9 90.8h0M302.9 91.4h0M305.2 131.8h0M299.9 86.9h0M302 154.8h0M301.9 115.1h0M305.7 135.2h0M302.2 131.8h0M303.4 125.8h0M308 97.6h0M306.1 155.1h0M302.8 157.1h0M300.5 145.8h0M305.5 138.7h0M306.7 153.2h0M300.7 148.8h0M302.9 142h0M301.8 106.8h0M306.8 142.8h0M305 146.2h0M299.6 96.3h0M300.1 125.7h0M299 108.6h0M305.5 95.2h0M306.9 100.2h0M306.9 108.1h0M300.7 106.1h0M298 112.9h0M301.9 115.9h0M307 84.6h0M297.9 111.5h0M300.3 154.8h0M298.2 102.4h0M305.4 91.1h0M303.2 126.8h0M300.9 101.9h0M301.8 155.5h0M307.3 156.9h0M306.9 92.9h0M305.4 85.3h0M305.3 143.6h0M306.5 124.4h0M303.6 95.1h0M302.1 103.4h0M305.4 97.9h0M306.2 126.1h0M304.3 130.2h0M306.5 151.9h0M301.4 125.6h0M301.8 152.4h0M301.4 91.3h0M307.8 136h0M304.9 131.5h0M306.1 153.1h0M302.8 116.7h0M301.3 139.9h0M304.5 91.8h0M300.5 143.6h0M307.4 134.3h0M299.3 93.1h0M301.4 120.2h0M308.5 154h0M306.3 116.7h0M299.7 130.4h0M299.7 155.6h0M302.7 89.3h0M303 85h0M308 114.2h0M306.9 114.3h0M304.1 141.4h0M301.1 101.3h0M302.1 120.1h0M303.3 131.5h0M304.3 107.6h0M300 157.4h0M298 108.5h0M298.5 90.6h0M306.8 115h0M308.1 135.3h0M304.1 145.6h0M298 126.7h0M300.7 112.1h0M298.6 129.6h0M301.9 123.8h0M302.2 120.1h0M305.7 91.3h0M304.2 142.9h0M304.3 92.3h0M308.4 148.2h0M298.4 139.8h0M304.9 148.7h0M307.7 104.2h0M307.4 144.8h0M304 102h0M301 111.7h0M304.4 140h0M303.7 108.3h0M303.9 152.4h0M303.9 151.3h0M298.2 157.1h0M303.8 117.7h0M308.2 137.5h0M303 129.8h0M303.6 130.6h0M307.9 135.9h0M301.3 84.7h0M298.5 148.6h0M298.2 142.2h0M306.4 131.7h0M301.9 101.3h0M305.4 100.5h0M304.3 122.8h0M304.1 107.8h0M306.2 154.3h0M300.5 154.1h0M302 121.9h0M306.4 109.3h0M303.8 96.6h0M307.8 141h0M300.8 85.1h0M307.8 120.2h0M306.8 95.8h0M303.7 113.1h0M298.6 152.4h0M299.6 108.1h0M301.1 93.6h0M304.1 135.6h0M306.4 92.7h0M299.4 121.2h0M306.6 144.4h0M307.9 99.7h0M300.3 143.7h0M307.1 83.8h0M298.9 144.8h0M306.1 140.4h0M306.7 130.6h0M301.4 156.6h0M307.7 145.4h0M305.1 106.9h0M306.9 134.3h0M300.8 125.6h0M303.7 102.3h0M307 93.7h0M300.5 149.5h0M305 135.3h0M306.2 92.7h0M301.1 140.4h0M300.9 91h0M302.8 140.8h0M299.6 144h0M301.6 91.6h0M299.6 148.8h0M305.9 89.1h0M305 90.5h0M300.5 89.9h0M307.2 132.8h0M302.7 114h0M301.5 86h0M306.3 101.6h0M306.2 136.6h0M305.3 123h0M302 93.1h0M300.9 105.4h0M300.2 138.4h0M300.9 107.8h0M304.7 147.6h0M301.9 119.3h0M307.9 151.9h0M303.9 117h0M300.6 147.5h0M299 102.8h0M306 120.8h0M302.5 95.3h0M303 157h0M306.8 112h0M301.9 149.7h0M304.6 92.8h0M307.7 138.5h0M301.2 132.5h0M301 121.8h0M302.9 116.7h0M307.5 151.2h0M303 152.2h0M299.4 155.1h0M304.7 151.9h0M302.3 148.3h0M298.2 157h0M306.6 146.4h0M306.7 111.4h0M305.9 99.5h0M302.3 118.4h0M306.4 98.2h0M298.8 137.8h0M300.2 156.1h0M302.3 111.5h0M307.3 126.4h0M304.6 153.6h0M299 110.8h0M303.4 88.8h0M302.6 126.9h0M302.3 156.4h0M302.3 109.7h0M307.9 96.4h0M303.7 127.4h0M300.6 115.2h0M303.1 107h0M308.3 116.7h0M300.1 125.4h0M299.6 87.7h0M306.2 109.3h0M300.4 149.5h0M302.6 141.4h0M303.5 123.5h0M298.6 86.8h0M305.2 133.1h0M307.6 111.8h0M301.1 144.4h0M303.8 88.7h0M300.3 132.1h0M303.1 86.9h0M305.7 86.2h0M300.9 130h0M300.4 116.7h0M299.8 97.5h0M302.7 144.1h0M301.6 136.6h0M304.2 143.4h0M302.1 132.1h0M299.9 125.3h0M305 155.8h0M304.7 123.1h0M301.4 91.1h0M306.8 100.8h0M302.6 84.7h0M306.2 148h0M301.1 136.9h0M305.4 100.9h0M305.6 105.8h0M306 109.6h0M306.5 126.1h0M301.9 156.6h0M298 156.7h0M298.2 148.6h0M302 124.1h0M301.2 140.7h0M306.2 99.1h0M305.9 124.4h0M298.3 119.9h0M300.2 140.8h0M297.9 118.6h0M305 102.9h0M304.6 140.2h0M305.7 116.5h0M300.1 133.2h0M304.2 123.3h0M300 137.6h0M301.5 106.7h0M301.6 90.8h0M304 137.7h0M305.7 96.5h0M305.9 92.3h0M298.9 94.6h0M303.4 102.3h0M307.3 103.7h0M300.9 153.1h0M305.3 139.2h0M300.6 125.2h0M308 154h0M301.4 84.7h0M300 107.5h0M307.4 115.5h0M306.8 85.5h0M298 106.6h0M300.8 150.3h0M299.1 99.4h0M299.2 110.9h0M300.6 97h0M302.6 126.5h0M303.5 106.3h0M305.6 141h0M307.6 109.1h0M303.9 142.3h0M301.4 118.9h0M307.3 93.6h0M298.9 128.7h0M307.3 152.2h0M305.3 86.2h0M303.6 101.3h0M301.6 145.4h0M305 120.6h0M304.5 97.9h0M308.3 115.2h0M305.4 97.6h0M300.8 86.7h0M299.5 92.4h0M299.7 122.8h0M298.9 142.5h0M307 129.8h0M300.2 93.1h0M302.9 140.3h0M301.5 152.7h0M308 113.2h0M308.1 109.1h0M300 149.6h0M307.9 124.1h0M306.9 92.4h0M305.8 141h0M299 128.2h0M299 154.6h0M305.6 141.7h0M305.2 107.2h0M305.9 114.1h0M307.8 86.9h0M306.4 112.1h0M306.5 118.6h0M303.7 106h0M303.1 85.6h0M307 89.6h0M302.4 133.8h0M307.9 155.8h0M298.8 154.5h0M305.6 135.8h0M298.1 128.5h0M302.5 152.1h0M306.5 127.7h0M298.2 104.1h0M300.8 152h0M299.3 86.7h0M305.7 157.3h0M299.5 99.2h0M304.9 150.1h0M299.3 126.8h0M307.9 114.3h0M302.3 83.9h0M308.5 87.9h0M308 91.4h0M305.7 145.9h0M305.3 86.8h0M303.1 120.2h0M303.3 94.4h0M299.3 143.1h0M302.4 148.5h0M300.4 103.4h0M304.8 117.7h0M307.3 125.9h0M303.3 121.5h0M300.2 156.9h0M301.4 84.9h0M299.2 106.9h0M298.3 114.6h0M303 151.8h0M305.3 148.7h0M305.9 137.7h0M305.6 106h0M303.8 98.9h0M306.1 127.8h0M301.5 96.1h0M306.4 144.7h0M299.2 156.1h0M299 99.3h0M305.8 137.3h0M306.2 131.7h0M303.9 121.9h0M304.8 151.9h0M304.1 132.2h0M305.9 120.2h0M299.3 126.1h0M302.4 115.2h0M303.8 115.7h0M302 110.5h0M301.8 115.3h0M298.9 155.6h0M305.5 85h0M302.7 112.9h0M301.8 127.5h0M298.1 101.4h0M307.9 148.4h0M302.8 104.9h0M298.5 107.7h0M306.8 149.8h0M300.6 101.5h0M306.3 135.4h0M302 118.5h0M306.4 101h0M307 147.6h0M304.2 92.2h0M305.5 156.6h0M299.4 117.7h0M305.7 88.2h0M306.5 88.8h0M302.9 133h0M307.8 149.7h0M299 129.3h0M302.4 127.3h0M307.7 102.2h0M299.2 137.7h0M301.5 100.6h0M301.3 126.1h0M306.5 116.2h0M305.5 97.2h0M307.9 108.2h0M301.4 154.1h0M299.1 128.5h0M304.5 114.1h0M301.5 130.9h0M299.2 86.2h0M299.7 125.2h0M304.5 106.4h0M303.4 150.4h0M304.1 102.5h0M306.2 104.1h0M300.7 95.2h0M307.5 116.2h0M299.9 95.9h0M300.2 93.4h0M302.1 108.3h0M302.2 139.9h0M302.1 118.9h0M307.5 141h0M307.7 115.2h0M308.3 102.2h0M305.1 122.6h0M300.8 111.9h0M307.3 93.7h0M305.3 110.3h0M303.5 117.8h0M299.8 99h0M305.1 108.6h0M297.9 123.9h0M302.5 136.3h0M300.7 88.8h0M306.6 99.4h0M301.4 124.4h0M301 102.1h0M301.6 104.4h0M306.3 142.2h0M307.3 135.4h0M299.1 132.1h0M299.6 87h0M303.5 102.8h0M304.1 144.5h0M300.5 115.5h0M305.9 156.3h0M298.4 109h0M300.6 156.4h0M299.1 146.4h0M301.7 132h0M301 149.5h0M300 91.2h0M308.3 143.3h0M305.1 131.3h0M300.8 104.6h0M308.3 90.1h0M304.4 86.9h0M299.9 109.6h0M307.8 116h0M299.6 102h0M304.9 130.3h0M299.8 121.5h0M299.1 148.4h0M300.5 96.6h0M302.9 121.7h0M305.6 124.7h0M302.9 149.9h0M306.7 86.8h0M301.3 85.1h0M304.3 94.3h0M299.3 141.6h0M306.9 105.5h0M299 134.7h0M306.3 134.5h0M299.5 113.9h0M301.3 132.5h0M299.6 93.6h0M299.2 113.5h0M303.7 112.2h0M302.2 124.6h0M298.8 142.9h0M307.8 108.1h0M307.7 147.7h0M303.6 140.3h0M304 142h0M300.6 92.4h0M307.2 90.9h0M302.2 107.5h0M299 123.5h0M306.3 135.9h0M307.2 142.6h0M299.4 107.2h0M305.2 140.1h0M301.5 111.2h0M306.7 95.1h0M306.5 117.8h0M301.3 108.8h0M305.8 121.7h0M301.6 149h0M302.2 135h0M306 147.4h0M301.7 124.8h0M307.3 104h0M301.1 143h0M300 90h0M298.3 155.1h0M303.5 143.6h0M303.6 124.7h0M303.8 114.1h0M307.7 90.4h0M299.4 91.3h0M304.7 133.5h0M305.2 143.4h0M298.4 152.6h0M300.4 84.5h0M299.5 141.3h0M306.1 123h0M303.5 95.3h0M305.8 150.4h0M303 113.1h0M308.1 104.3h0M305.1 141.6h0M305.7 106.2h0M306.4 119.7h0M307.2 110.6h0M302.7 134.4h0M306.4 125.3h0M308.1 122.9h0M307.4 84.2h0M303.1 136.5h0M299.5 146.6h0M305.5 108.7h0M301.9 144.6h0M304.8 157.3h0M299.2 87.1h0M303.9 89.3h0M300.7 107.5h0M298.7 116.8h0M306.8 151h0M302.6 125h0M304.3 106.5h0M308.2 109.4h0M305.6 154.5h0M298.7 144.8h0M301.6 92.9h0M302.4 93h0M306.7 156.7h0M300.2 154.6h0M298.1 100.1h0M298.5 104h0M301.1 122.8h0M303.8 133.6h0M301.1 127.9h0M305.2 138.1h0M302.9 136.6h0M300.9 118h0M302.8 86.7h0M299.9 129.3h0M307.2 147.3h0M306.6 146.9h0M299.8 119.8h0M305.7 103.8h0M299.1 156.6h0M301.6 84.2h0M304.2 109.5h0M306.8 92h0M307.5 108.7h0M301.1 108.1h0M308.1 96.7h0M306.7 127.3h0M303.7 88.4h0M308.3 137.9h0M299 153h0M308.5 111.3h0M308 123.3h0M298.2 102.5h0M300.7 153.7h0M301.7 125.2h0M307.8 126.4h0M307.2 153.8h0M306.6 102.7h0M302.3 85.1h0M300.6 153.6h0M304.1 110.9h0M305.4 101.2h0M298.9 132h0M298.7 151.8h0M301.6 135.2h0M298.7 94.3h0M306.4 157.5h0M306.3 117.7h0M307.7 155.5h0M300.8 123.1h0M308.3 122.1h0M305 137.7h0M302.2 146.1h0M306.9 125.1h0M307 98.4h0M303.6 85.5h0M299.5 126.2h0M302.6 151.9h0M302.3 97.4h0M302.4 127.5h0M298.9 83.9h0M299.3 136.5h0M306.5 102.6h0M307.2 147.5h0M298 96.6h0M304.2 139.5h0M298.1 110.7h0M300.4 115.6h0M308.3 127.2h0M298.7 99.2h0M299 135.1h0M302.6 100.2h0M301.3 156.7h0M302.9 107.1h0M302.2 95.7h0M301.3 135.5h0M299.9 142.6h0M304.5 91.2h0M307.6 117.2h0M305.8 91.5h0M301.8 133.3h0M304.4 93.2h0M302.9 139.8h0M305.2 118.7h0M302.4 128.8h0M302.8 97.5h0M307.4 124.4h0M303.8 157.3h0M300.3 108h0M305.7 130.4h0M305.2 102h0M302 157.6h0M302.5 153.2h0M307.1 132h0M301.6 98.7h0M298.6 156.5h0M303 106.4h0M304.6 138.8h0M305 152.5h0M298.7 83.8h0M302.5 86.4h0M303.5 85.7h0M300 130.5h0M302.3 147.1h0M301.7 154.7h0M303.6 129.6h0M306.2 103.2h0M300.5 84h0M307.3 107.4h0M298.3 120.7h0M304.4 105.8h0M299.1 143.6h0M302 141.4h0M302.4 122.5h0M308.4 116.1h0M307.6 151.7h0M305.3 138.1h0M298.3 94.2h0M305 145.2h0M301.2 130.4h0M307.7 103.5h0M298.1 123.1h0M301.6 108.9h0M308.3 88.7h0M306.5 150.5h0M302.3 84h0M305.6 92h0M306.3 143.6h0M299.2 142.3h0M298.9 84.7h0M306.7 146h0M300.4 121.9h0M299.2 147.1h0M297.9 107.7h0M302.3 156.4h0M306.4 140.8h0M308.4 126.7h0M307.7 141h0M298.8 155h0M300.3 139.2h0M301.5 107.7h0M298.5 156.9h0M299.3 115.9h0M303.2 157.5h0M303.4 135.6h0M301.5 140.5h0M305.8 114.3h0M307.3 176.9h0M306.9 166.1h0M304 177.8h0M303.9 168.8h0M298.9 159.8h0M299.2 166.2h0M305.5 159h0M304.4 177.7h0M305.6 163.3h0M304.5 180.2h0M303.9 163.9h0M300.8 168.5h0M307.1 161.8h0M307.8 175h0M300.7 162.4h0M298.5 171.6h0M303.6 166h0M307.5 170.9h0M304.7 173.5h0M306.2 173.7h0M297.9 167.7h0M306.3 184.5h0M299.1 161.2h0M304.9 163.8h0M298.1 161.3h0M298 171.2h0M302 164.8h0M297.9 163.3h0M300.5 164.8h0M302.3 166.6h0M301.3 167.5h0M306.8 158.2h0M303.1 177.9h0M300.4 157.8h0M302.7 182.3h0M306.6 163.3h0M299.2 182h0M303.8 171.4h0M301.3 160.9h0M305 174.6h0M328.1 104.8h0M329.8 87.5h0M331.5 105.2h0M330.9 98.7h0M327.2 85.7h0M325.9 102.6h0M331.5 87.1h0M322.4 100.1h0M328.2 85.2h0M328.8 105.9h0M323.4 104.1h0M324.2 97.1h0M323.9 91.4h0M322.8 94.5h0M329.2 99h0M330.4 104.8h0M331.5 85.5h0M332.2 96.4h0M323.2 95.2h0M324.1 100.1h0M328 106.6h0M327.5 104.7h0M329.3 91.3h0M327.2 100.2h0M326.8 90.1h0M324.7 168.5h0M327.4 120.6h0M323 163.6h0M332.6 130.3h0M330.5 130h0M323.2 133.3h0M331.5 148.8h0M322.8 173.8h0M328.9 167.5h0M329.3 148.5h0M324.2 151.9h0M323.7 166.8h0M331.3 133.6h0M327.7 155.9h0M327.5 168.1h0M328.2 140h0M326 108.9h0M332.9 110.4h0M329.2 185.1h0M331.4 120.6h0M330.8 131.3h0M328.7 163h0M325.1 170.8h0M328.1 178.7h0M331.2 172.1h0M326.7 128.9h0M323.1 138.1h0M329.6 182.3h0M328.1 149.1h0M323 182.7h0M329.6 137.8h0M327.6 153h0M324.7 129.3h0M325.9 164.6h0M331.9 187.6h0M325.2 190.4h0M323.4 151.2h0M323.1 137.9h0M332.4 150.1h0M326.2 172.6h0M332.2 130.8h0M331.3 111.5h0M323 180.6h0M329.1 188.8h0M326.8 140.4h0M327.9 159.3h0M331.8 181.6h0M322.4 135.1h0M329.2 174h0M323.1 163.3h0M331.8 113.5h0M327.3 138.3h0M324.4 190.7h0M323 161.6h0M330.1 155.3h0M330.4 120.5h0M331.1 190.3h0M332.3 175h0M328.1 168.6h0M330.8 177.9h0M329.4 161.1h0M325.9 122.3h0M331.4 135h0M325.4 174.2h0M322.9 192.5h0M325.8 112.3h0M332.4 113.6h0M326.4 137.8h0M327.9 180.5h0M327 161.2h0M332.4 146.6h0M327.9 130.8h0M323.8 148.2h0M327.7 119.6h0M326.9 175.7h0M332.2 112.1h0M331.7 118.8h0M329.2 110.9h0M325.1 119.6h0M330.3 143.3h0M326.7 144.4h0M327.8 141.6h0M332.4 131.1h0M323.7 123.4h0M326 154.2h0M322.7 169h0M326.2 165.2h0M325.5 186.7h0M325.7 144.2h0M325.3 152.9h0M326.7 164.6h0M325.4 167.9h0M328.2 146.3h0M329.2 168.8h0M323.2 143.9h0M323.9 116.7h0M324.2 122.8h0M325.9 163.9h0M324.8 185.1h0M324.2 128.1h0M329.5 119.4h0M325 156.7h0M329.5 176.7h0M328.7 143.9h0M327 163.5h0M326.2 114.9h0M326.3 188.4h0M323.2 161.9h0M331.5 173.6h0M326.2 139.1h0M325 151.1h0M323.7 125h0M327.7 166.1h0M332.5 189.2h0M332.3 182.2h0M322.6 179.1h0M332.6 118.1h0M328.8 182.1h0M326.9 160.3h0M323.8 143.5h0M325.2 154.1h0M331.5 117.5h0M331.6 156.4h0M328.4 132.3h0M331.1 130.8h0M329.2 125h0M325.8 154.7h0M327.5 113.9h0M331 152h0M324.3 124.5h0M330.8 133.3h0M329 127h0M323.2 109.8h0M327.6 167.9h0M327.3 116.7h0M326.4 187.9h0M326.8 154.9h0M322.8 150.5h0M328.4 182.9h0M325.3 136.9h0M332.2 123.1h0M326.3 179.3h0M328.2 158.9h0M322.7 124.2h0M324 170.2h0M322.5 155.6h0M324 108.9h0M328.8 163.2h0M329.3 192.2h0M322.4 151.9h0M327.5 189.4h0M322.7 180.8h0M327.3 178.8h0M326.6 125.6h0M328.5 113.5h0M329.7 125.8h0M329.6 121.9h0M329.8 160.1h0M325.4 188.7h0M326.5 165.7h0M331 183.9h0M328.7 172.7h0M331.9 129.5h0M332.4 190.3h0M331 136.1h0M331.2 165.4h0M327.1 176h0M330.7 141h0M328 163.3h0M322.6 182.1h0M327.2 108.2h0M331.2 115.4h0M331.7 114.6h0M323.7 126.4h0M329.5 171.8h0M328.6 142.3h0M332.4 154.6h0M328 150.7h0M326.7 146.7h0M323.5 166.3h0M332.1 166.5h0M328.1 172.5h0M323.3 137.4h0M328 114.9h0M331.5 182.7h0M330.2 122.8h0M327.4 176.4h0M324.3 180.8h0M327.8 135.9h0M327.1 169.5h0M331.5 133h0M326.7 140.7h0M327.4 126.2h0M326.1 167.7h0M327.5 163.9h0M332.5 108h0M328.1 131.8h0M324.5 189.5h0M324.5 112.5h0M331.3 120.2h0M322.7 151.5h0M327.7 130.4h0M325.5 122h0M327 184.8h0M328.6 127.1h0M327.8 116.7h0M323.2 162.7h0M325.6 154.2h0M328.8 171h0M328.7 185.2h0M324.3 122.7h0M330.9 167.5h0M326.7 112.4h0M327.3 131.3h0M328.2 182h0M330.4 171h0M328.9 130.9h0M327.3 139.3h0M329.4 152.6h0M331.2 121.5h0M325.6 120.8h0M332.7 180h0M332.4 138.5h0M332.4 110.2h0M322.7 124.3h0M324 172.5h0M322.4 171.7h0M326.1 117.7h0M327.3 114.3h0M330.1 136.8h0M332.5 149.4h0M324.1 179.5h0M331.8 185.9h0M327.9 155.6h0M325.7 121.6h0M324.4 125.9h0M325.7 159.8h0M328.4 173h0M323.2 178.1h0M327.7 179.9h0M324.8 161.4h0M326.6 166.9h0M328.5 169h0M325.5 119.1h0M322.5 171.7h0M328.1 161.3h0M325.8 168.5h0M327.4 148h0M323.1 171.4h0M325.1 150.9h0M325.1 157.7h0M324.8 124.7h0M326.2 184h0M330.1 182.7h0M328.2 130.1h0M332.2 107.8h0M323.5 161.3h0M327.5 151.6h0M325.4 164.7h0M328.9 185.2h0M331 113.3h0M325.5 183.1h0M331.4 168.2h0M323 182.8h0M324.9 179h0M329.6 176h0M331.9 147h0M332.8 176.1h0M328.4 189.4h0M329.4 170.2h0M327.6 141.4h0M324.6 150.7h0M331.3 129.5h0M329.7 179.8h0M327.7 166.2h0M329.4 156.3h0M327 107.6h0M324.5 190.4h0M323.1 147.2h0M331 128.9h0M330.8 109.8h0M331.5 175.6h0M332.2 129.1h0M327.1 139h0M328.1 188.8h0M323.5 165.6h0M325.1 107.4h0M331 116.1h0M332.5 128.5h0M324.3 165.3h0M325.7 168.1h0M323.1 152.3h0M330.6 178.6h0M329.6 157h0M323.7 136.2h0M330.1 135h0M323.7 155.4h0M327.3 127.7h0M322.8 108.2h0M323.7 145.7h0M323.7 183.4h0M330.7 171.4h0M328 134.1h0M328.8 192.3h0M332.6 140.3h0M332.4 129.3h0M326.8 133.7h0M329.2 134.1h0M329.6 182.9h0M332.8 122.7h0M327.7 169.2h0M323.4 180.1h0M330.6 158.4h0M329.4 173.8h0M327.4 112.4h0M328.7 130.1h0M327.1 141.1h0M328.5 153.3h0M325.3 183.6h0M324.3 130.6h0M331.3 116.7h0M323.6 186.1h0M331.9 138h0M332.7 181.3h0M325.5 192.4h0M324.9 112.7h0M322.5 150.2h0M327.3 128.8h0M323.9 165.6h0M325.8 117.6h0M323.6 114.8h0M330.8 115.9h0M322.8 182.6h0M331.2 176.2h0M325.5 163h0M323.2 177.5h0M332.4 111h0M332 126h0M322.8 171.9h0M329.2 115.1h0M329.4 119.6h0M324.8 164.8h0M324.5 148h0M329 181.9h0M328.9 166.4h0M331.7 112.2h0M327.8 174h0M327.5 157.8h0M328 172h0M327.8 130.9h0M322.4 125.4h0M331.5 151.8h0M324.5 168.9h0M328.5 150.7h0M327.2 156.8h0M329.6 150.8h0M327.8 182.8h0M329.5 174.4h0M325 117.3h0M326.1 134h0M325.4 149.2h0M330.1 192.8h0M329.7 138.9h0M324 186.5h0M332.5 161.1h0M331.6 139.3h0M325.7 176.1h0M330.8 119.4h0M326 142.7h0M330 146.9h0M332 183.9h0M324.2 172.9h0M322.4 138.8h0M325.9 124.3h0M327.3 122.2h0M329.2 118.3h0M324.9 142.4h0M325.8 166h0M331.2 109.1h0M331.6 171.9h0M325.1 132.3h0M323.9 166.9h0M329.2 190.1h0M322.8 154.2h0M326.8 131.4h0M323.8 191.3h0M323.1 157.9h0M330.2 190.5h0M330.2 176.9h0M324.9 122.5h0M328.1 110.4h0M324.3 114h0M332.1 122h0M325.3 174.9h0M324 190.5h0M326.3 119.1h0M323.3 176.3h0M328.1 174.8h0M325.9 175.7h0M323.3 110.6h0M327.7 169.2h0M324.4 172.7h0M324.5 131h0M329.8 180.2h0M330 120.3h0M327.2 110.3h0M330.4 129.1h0M329.5 168.8h0M322.8 124h0M329.7 162h0M331.2 107.8h0M326.1 184.2h0M329.2 151.6h0M329.2 186.6h0M330.4 151.3h0M322.6 149.1h0M326.7 154.1h0M326.5 135.8h0M325.6 126h0M331.7 171.2h0M331.3 146.3h0M327.8 117.8h0M330.6 171h0M324.1 140.3h0M328.8 189.6h0M326 163.2h0M328.3 116.7h0M331.7 141.8h0M330.3 164h0M330.3 156h0M332.9 118.5h0M328.6 156.9h0M323.3 123.3h0M330 167.7h0M325 164.3h0M330.4 148.9h0M331.9 162.1h0M330.5 114.7h0M328.9 108.1h0M323.1 152.9h0M329.4 143h0M323.1 181.6h0M330.7 150.8h0M331.8 117h0M325.9 187.7h0M323.8 125h0M326.7 125.9h0M332.2 167.8h0M332.4 155h0M329.3 143.7h0M326.7 107h0M323.7 109h0M323.5 176.6h0M327.9 132.8h0M322.6 152.2h0M329.5 116.5h0M323.3 141.8h0M326.2 148.2h0M322.8 193h0M323.1 122.5h0M332.5 154.4h0M323.5 173.9h0M326.1 153.4h0M329.8 191h0M325 159h0M327.9 144.6h0M328.3 139.6h0M326.8 114.7h0M326.5 191.9h0M330.3 150.5h0M330.1 176.9h0M329.8 139.8h0M328.8 124.2h0M324.3 108.4h0M326 122.1h0M322.5 170.5h0M323.3 182.4h0M332.4 188.7h0M331.2 159.8h0M327 187.9h0M322.7 180.6h0M329.2 174.2h0M323.9 173.8h0M327.8 114.2h0M329.6 159.2h0M328.3 122.4h0M325 190.3h0M332.5 177.5h0M327 164.9h0M327.3 143h0M323.1 117.7h0M324.1 131.1h0M326.1 184.4h0M328.3 182.3h0M331.8 184.2h0M327.1 168.2h0M328.3 128h0M331.1 133.8h0M329 110.7h0M326.8 136.2h0M332.7 153.6h0M326.1 192.4h0M332.4 189.3h0M328.3 152.2h0M330.7 124h0M330.4 148.7h0M328.9 186.3h0M328.1 166.8h0M327.2 118.3h0M324.2 112.4h0M326.3 191.3h0M326.9 118.6h0M328.7 112.2h0M324.6 126.6h0M332.1 161.8h0M329.9 108.2h0M327.5 157.1h0M322.4 143.2h0M327.8 137.3h0M332.8 135.8h0M331.3 136.3h0M330.7 176.7h0M327.6 149.3h0M323.5 179.5h0M322.4 126.3h0M327.1 149.3h0M332.2 189.2h0M327.6 141.9h0M330.3 116h0M324.1 151.6h0M322.8 182.4h0M327.4 123.6h0M323.8 192.7h0M330.7 129.9h0M332.1 135.9h0M324.8 108.6h0M331.3 133.6h0M329.4 115.8h0M332.6 183.3h0M322.8 176.3h0M324.6 148.5h0M324.9 117.5h0M328.4 170.2h0M325.3 118.2h0M332.1 112.7h0M327.3 171.9h0M332.7 189.7h0M325 124.8h0M329 123.5h0M327.8 158.2h0M327.9 173.6h0M329.4 134.1h0M322.8 188.6h0M323.8 148.8h0M326.9 171.3h0M329.4 179.1h0M328.4 189.5h0M332.6 158.2h0M325.9 176.1h0M332.1 115.9h0M332.1 112.5h0M329.3 187.3h0M328.7 188.6h0M328.6 171.1h0M323.1 126.1h0M327.1 170.9h0M328.2 117.7h0M325.1 129.8h0M328.9 182.3h0M331 171.3h0M327.1 144.6h0M326.1 144.2h0M331.7 174h0M329.8 132.6h0M322.4 125.5h0M330.5 165.9h0M332.8 135.4h0M325.7 168.8h0M331.2 172.4h0M332 119.1h0M325.2 144.4h0M327.9 139.5h0M325.4 152.3h0M329 112.2h0M329.7 168.7h0M331.4 141.1h0M323.7 108.5h0M328.2 108.6h0M324.7 152h0M322.3 152.2h0M332.5 110.1h0M323 183.2h0M327.7 163.4h0M331.2 153.3h0M332.3 162.1h0M332 165.6h0M331 117h0M332.1 134.5h0M332.5 175.1h0M326.4 172h0M330.6 152h0M328 112h0M329.9 155.9h0M328.7 136.4h0M326.3 170.3h0M331.9 165.6h0M327.9 138.8h0M331.2 148.6h0M325.3 130.2h0M329.2 140.8h0M332.7 120.3h0M330 150.3h0M322.6 142.5h0M328.4 140.2h0M332.7 114.8h0M327.2 157.5h0M324.9 109.5h0M329.2 136h0M327.4 122h0M328.3 130.3h0M327.8 166.2h0M328.9 171.5h0M329.3 114.2h0M330.3 148.6h0M326 187.6h0M324.7 180.1h0M322.4 162.9h0M327 177.9h0M327.6 146.1h0M324.7 139h0M328.9 166.5h0M325.2 111.7h0M325.3 187.1h0M328.4 132.2h0M332.3 139.1h0M323.7 191.5h0M324.1 126.3h0M325.3 145.2h0M331.7 165h0M322.6 113.1h0M325.6 116.6h0M326.9 118.5h0M330 138.3h0M332.7 190.2h0M329.1 143.2h0M328.8 118.4h0M331.7 183h0M324.1 119.1h0M329.7 184.6h0M323 172.6h0M322.5 160.2h0M330.7 170.4h0M322.3 134.7h0M332.9 170h0M326.2 160.4h0M330.9 135.3h0M326.2 190.3h0M332.9 126h0M327 143.8h0M330 133.7h0M327.3 191.5h0M326.5 180.5h0M330.8 143.3h0M330.3 190.5h0M331.1 167.6h0M332.4 186h0M326.4 152.7h0M327.9 107.6h0M322.3 137.6h0M325.6 192.4h0M322.5 187.2h0M330.6 137.9h0M329.4 164.9h0M323.3 149h0M330.4 178.5h0M328.3 148.1h0M327.5 176.1h0M327.4 147.9h0M330.1 170.3h0M330.5 135.8h0M329.4 139.3h0M331.8 139.5h0M330.5 187.9h0M326 139.8h0M328.7 144.3h0M328.1 109.9h0M323 186.8h0M328.4 183.6h0M330 192.8h0M330.3 168.8h0M323.5 143.2h0M331.6 180.5h0M324.6 169h0M327.8 149.9h0M327.5 138.3h0M332.7 146.3h0M332.6 160.9h0M324.2 185.1h0M326.3 173.3h0M328.3 158.4h0M325.5 170.6h0M326.2 165.3h0M327.5 174.3h0M332.9 162.3h0M322.4 131.1h0M327.9 184h0M331.1 162.6h0M326.4 183.6h0M326.4 191.9h0M331.1 169.5h0M326.8 138.2h0M325.9 138.5h0M331.3 142.4h0M332.8 112.2h0M328.2 175h0M325.5 162.2h0M331.6 172.8h0M327.6 139.8h0M325 125.8h0M329.1 180.3h0M329.1 145.5h0M322.3 122.9h0M328.4 137.7h0M328 122.9h0M325.1 135h0M326.1 170.6h0M330.2 170.8h0M322.6 139.3h0M328.1 179.5h0M329.6 156.9h0M331.9 154.2h0M332.6 107.8h0M326.6 160h0M331.8 185h0M322.4 158.3h0M326.7 160.6h0M331.1 156.4h0M331.3 118.3h0M325 133.7h0M323.4 110.2h0M327.9 130h0M324.1 187.8h0M326.3 131.9h0M326.1 162h0M323.9 164.6h0M328.4 110.8h0M323.7 169.2h0M329.4 111.1h0M332.1 112.6h0M324 166.4h0M322.9 142.2h0M326 114.5h0M331.9 182.5h0M329.1 171.8h0M327.7 157.2h0M327.6 163.4h0M331.2 141.2h0M326.6 132.9h0M332.5 165.4h0M326.9 136.6h0M324.5 141.6h0M330.7 137.5h0M327.4 123.2h0M328.4 131.4h0M323.5 173.5h0M324.3 148.8h0M329.5 162.6h0M324.7 126h0M325.8 133.1h0M331.6 183.8h0M326.5 175.1h0M324.4 146.3h0M332.4 146.6h0M326.5 114.9h0M331.3 123.8h0M327.5 132.9h0M329.6 111.5h0M330.8 151.2h0M330.2 169h0M325 129.6h0M322.8 158.4h0M329.9 187.6h0M326.1 149.4h0M328.2 113.7h0M323.5 173.5h0M329.6 115.5h0M330.7 147.4h0M332.7 142.4h0M325.7 182h0M328.5 153.1h0M331 145.7h0M331 167.6h0M327.7 128.7h0M328.5 153.7h0M330.9 108.4h0M324 145.5h0M328.2 180.5h0M330.1 170.7h0M332 160.6h0M325.8 111.8h0M329 197.6h0M322.6 199.2h0M324.1 196.9h0M327.1 208.3h0M322.4 206.1h0M325 207.9h0M322.9 195.6h0M326.5 197.3h0M327.2 197.7h0M330.1 197.6h0M325.7 217.8h0M332.5 195h0M329.2 195.4h0M327.4 214.4h0M323.9 218.2h0M331.9 213.4h0M331.3 218.4h0M327.7 205.4h0M326.3 217h0M322.6 200.2h0M323.8 198.8h0M325.6 219.3h0M353.1 79.9h0M353.6 102h0M351.4 95.4h0M352.6 101.2h0M352.2 88.6h0M348.9 91.8h0M355.7 97.2h0M347 96.7h0M355 90.1h0M352.3 82.7h0M352.6 97.5h0M347.1 88.1h0M348.7 98.1h0M352.5 95.3h0M348.1 98.6h0M354.8 105.3h0M348.9 102.6h0M350.9 98.5h0M354.3 98h0M356.9 90.2h0M351.8 90.9h0M348.5 98.4h0M350.4 103.2h0M348.4 103h0M353.2 82.5h0M351.6 85.6h0M354.6 84.6h0M354.2 99h0M347.4 115.7h0M347.8 148.2h0M352.7 157.8h0M355.6 173.5h0M355.7 153.4h0M350 142.7h0M354.4 110.4h0M353.6 154.2h0M351.7 143.1h0M350.9 172.5h0M357 116.1h0M356.4 161.1h0M351.5 177.4h0M352.1 117.3h0M351 141.5h0M349.6 162.9h0M349.1 176.3h0M355.7 126.6h0M354.6 122.9h0M351.2 125.8h0M349.5 140h0M356.9 165.6h0M348.6 173h0M351.6 107.9h0M352.7 159.6h0M357.4 175.6h0M349.7 155.4h0M347.6 135.1h0M354.9 134.5h0M348.9 128.9h0M356.4 145h0M348.1 152.7h0M349.3 137.3h0M351.3 164.8h0M356.2 138.1h0M351.7 127.5h0M350.1 177h0M353.8 145.1h0M353.6 130.2h0M355.7 136.5h0M354.6 146.3h0M354.3 147.5h0M348.5 134.2h0M350.4 132.3h0M355.1 107h0M352 144h0M347.6 157h0M354.5 115.1h0M356.1 108.9h0M357.1 142.8h0M351.2 168.2h0M351.5 130.9h0M351.8 161.7h0M357.4 158.1h0M352.3 160.2h0M352.1 159.7h0M351.4 148.1h0M357.4 173.7h0M352.8 147.1h0M352.9 113.5h0M349.5 173.3h0M349.6 162.1h0M349.9 157.7h0M355.1 149.1h0M355.8 108.3h0M349.5 143.9h0M352.8 128.2h0M348.8 159.7h0M349.4 111.1h0M351.2 151.9h0M354.6 161.2h0M353.1 132.6h0M353.4 116.6h0M349.4 152.9h0M348.4 154.3h0M352.7 176.4h0M354 172.8h0M354.7 121.5h0M350.9 150.5h0M355 156.2h0M349.2 155.2h0M356.5 175.9h0M356.7 137.4h0M350.6 177.9h0M349.5 119.8h0M348.4 141.5h0M354.7 123.2h0M353.4 107.4h0M354.4 135.5h0M352 124.7h0M347.1 121.4h0M350.8 168.6h0M356.8 127.4h0M352.6 132.8h0M351.3 116.2h0M355.6 169.4h0M356.6 165.2h0M347.5 122.7h0M353.8 115.4h0M350.8 145.5h0M349.2 157.6h0M351.3 150h0M355.1 116.1h0M355.4 119.3h0M351.5 161.1h0M349.1 138.8h0M354.3 116.1h0M352.9 132.8h0M349.7 132.6h0M355 117.8h0M348.5 137.3h0M348.5 169.2h0M348.6 122.6h0M355.1 146.5h0M356.7 108.2h0M355.7 156.9h0M351.5 136.5h0M349.7 112.8h0M349.9 169h0M355.7 171.2h0M348.4 172.7h0M355.7 136.6h0M349.5 128.5h0M352.6 107.5h0M349.1 145.8h0M353.6 124.8h0M355.2 118.5h0M351.4 169.1h0M352.9 115.4h0M348 127.4h0M352.8 157.4h0M349.5 125.7h0M356.6 158.4h0M353.1 131.5h0M351.8 122h0M350.1 148h0M352.6 149.8h0M348.2 109.1h0M348.5 136h0M353.2 145.6h0M356.3 151.3h0M355.1 150h0M356.2 114.4h0M353.2 173.3h0M352.7 165.9h0M348.6 137.5h0M354.5 140.8h0M356.4 163.5h0M356.9 143.5h0M347.1 132.9h0M352.6 136.9h0M349.4 162h0M354.6 107.8h0M355.9 119.8h0M348.3 147h0M355.1 143.7h0M357 122.2h0M348.5 110.1h0M354.1 149h0M356.7 149.6h0M347.4 120.6h0M350.6 144.9h0M351.1 134.7h0M349.9 169.9h0M352.9 156.1h0M356.6 126.6h0M350.1 124.5h0M354.3 119.9h0M350.8 156.2h0M353.2 114.5h0M352.7 130.4h0M346.9 153.5h0M355.6 109.3h0M347.8 168.8h0M351.4 122.1h0M350.2 166.3h0M347.9 175.2h0M347.5 171.5h0M357.2 149.6h0M356.6 158.3h0M357 131.4h0M349.8 171.4h0M356.6 161.9h0M351.1 121.5h0M353 161.8h0M351.5 172.4h0M348.7 138.4h0M356.2 125.9h0M356.4 124.9h0M352.9 164.1h0M346.9 127.9h0M355.7 114.5h0M357.1 175.4h0M356.8 126.3h0M350.8 137.9h0M355.6 171.8h0M349.9 155.1h0M348.8 113.8h0M348.9 125.1h0M350.2 147.3h0M356.2 121.6h0M346.9 132.7h0M352.7 106.7h0M352.8 108.1h0M351.9 107.9h0M352.6 150.8h0M355.8 121.7h0M355.5 176.4h0M357.2 173.5h0M352.7 132.6h0M355.2 136h0M349.3 118.2h0M352.7 138.7h0M350.5 177.7h0M351 106.3h0M347.9 169.5h0M353.3 143.6h0M350.4 166.8h0M357 150h0M352.9 176.4h0M353.8 130.5h0M354.1 158.9h0M351 154.9h0M350.6 157.8h0M348 122.8h0M348.7 146.1h0M350.1 126.4h0M351.3 132.9h0M352.5 176.6h0M351.1 145.8h0M355.5 145.6h0M352.3 143.8h0M348.9 131.4h0M347.8 121.4h0M347.3 126.6h0M353 136.1h0M354.9 114.3h0M353.5 138.7h0M355.3 137.1h0M348.2 155.2h0M349.7 145.7h0M350.8 160.1h0M347.3 122.2h0M348.2 177.4h0M356.8 124.2h0M351.3 109.7h0M354.1 137.3h0M357.2 162.6h0M347.8 129.1h0M347 121.6h0M353.5 125.5h0M348 170.7h0M356.3 125.4h0M351.1 148.5h0M347.5 111.2h0M353.4 121.7h0M352.2 110.2h0M346.9 165.2h0M351.3 126.8h0M354.7 150.2h0M351.5 155.1h0M353.5 130.5h0M356.7 139.3h0M353.1 144.3h0M352 154.2h0M353.9 141.6h0M357.5 149.4h0M352.1 128.1h0M355.5 176.6h0M350.1 146.1h0M351.3 118.9h0M351.5 136.9h0M352 124.5h0M348 147.5h0M354.4 153.7h0M349.5 120.1h0M351.9 108.8h0M351.3 154.9h0M353.3 148.6h0M347.5 109.2h0M356.7 142.7h0M351.6 157.1h0M348.3 124.8h0M355 152.8h0M347.8 134.4h0M354.4 126.1h0M351.1 161.8h0M351 170.2h0M349.1 107.7h0M354.4 170.4h0M349.9 112.3h0M352 134.6h0M356.7 107.8h0M349.7 144.5h0M353 108.3h0M354.5 173.5h0M356.2 168.2h0M347.5 154.2h0M353.1 128.5h0M349.2 136.1h0M356.1 110.9h0M350.1 154.3h0M356.1 140h0M353.6 116.4h0M356.5 122.9h0M356.9 164h0M352.3 133.7h0M350.6 129.3h0M357.2 175h0M356.5 178h0M353.9 141.4h0M351.5 171.7h0M355.4 172.5h0M350.7 126.6h0M348.6 156h0M349 124.5h0M356.5 113.7h0M355.6 178.2h0M354.8 142.5h0M351.6 155.7h0M348.3 143.7h0M350.5 123.5h0M353.9 131.9h0M349.4 123.5h0M355.2 169.3h0M355.2 173.5h0M352.1 120.1h0M355.4 166.4h0M352 122.5h0M347 148.7h0M354.8 123.6h0M351.6 154.3h0M352.5 147.3h0M347.8 131h0M355.1 159.7h0M355.1 137.5h0M354.2 165.9h0M357.1 164.5h0M356.9 108.9h0M355.1 138.7h0M347.9 159.4h0M347.8 148.5h0M350.5 159h0M349.8 133.3h0M353.7 164.6h0M354.8 127.6h0M355.4 119.4h0M355 149.8h0M357.3 150.6h0M351.8 156.3h0M352.9 148.8h0M350.1 126.7h0M355.6 163.8h0M354.2 175.9h0M351.1 142.5h0M353.8 157.1h0M354.8 174.3h0M349.9 133.8h0M355.2 109.3h0M351.1 137h0M352.1 109.8h0M349.8 171h0M354.9 159.8h0M353.2 153.8h0M354 124.1h0M357.1 148.3h0M350.7 143.3h0M353.5 171.6h0M353.8 130.7h0M348.9 117h0M351.8 170h0M349.2 164.1h0M349.4 140.1h0M353.2 164.1h0M351 134.5h0M349.1 121.3h0M350.2 156h0M351 113.6h0M357.4 138.8h0M351.2 133.9h0M354.5 176.4h0M351.1 139.2h0M348.5 122.3h0M353.7 140.2h0M352 113.7h0M353.3 118.5h0M354 130.9h0M351.2 162.7h0M347.7 133.7h0M353.5 121.3h0M348.4 164.4h0M356.6 176.7h0M352.6 132.5h0M350.4 154.7h0M354.6 132.5h0M351.5 141.1h0M348.1 146.7h0M350 140.1h0M352.5 118.1h0M352.5 156.8h0M354 142.1h0M357.3 136.5h0M347 121.5h0M354.3 147.2h0M351.1 133.7h0M349.5 130.8h0M356.1 163.3h0M352.9 126.2h0M348.3 139.3h0M352.5 159.1h0M356.5 177.7h0M349.7 171.4h0M355.5 113.9h0M354.2 113.8h0M354.4 118.7h0M347.8 109.9h0M352.4 168.8h0M357.2 138.6h0M349.3 162.8h0M351 157.1h0M350.2 139.6h0M350.1 122.4h0M348.9 125.7h0M350.9 169.3h0M355.5 146.6h0M348.6 155.1h0M356.8 175h0M350.4 166.8h0M353.7 166.1h0M350.9 108.3h0M352.7 156.5h0M355.3 174.6h0M357.3 166.5h0M356.5 130.8h0M355.4 106.2h0M352.2 112.4h0M347.7 137.9h0M355.2 152.1h0M349.5 122.2h0M352.5 161.8h0M350.2 107.3h0M349.8 174.3h0M351.7 126.9h0M355.5 170.2h0M354 133.9h0M347.6 108h0M353.6 132.9h0M347.4 116.2h0M348.9 167.8h0M347.8 110h0M349.9 111.7h0M353.9 147.9h0M352.4 126.7h0M353 130.1h0M353.5 113.9h0M356.7 106h0M352.8 121.2h0M351.6 119.7h0M353.7 125.2h0M355.9 162.4h0M351.7 176.5h0M350.6 145.8h0M352.3 126.9h0M347.5 176.5h0M350.3 160.1h0M349.7 149.3h0M352.2 158h0M351.6 128.5h0M347.9 106.3h0M347.8 171.7h0M354 134.8h0M356.8 108.6h0M357.1 121h0M353.1 137.4h0M347.8 149.7h0M354.8 142.6h0M354.7 163.2h0M348.3 155.3h0M352.3 135.6h0M355 108.9h0M352.9 113.4h0M348.6 125.3h0M353.5 175h0M353.3 159h0M356.1 146.9h0M350.9 110.6h0M353.2 121.9h0M356.7 134.6h0M349.8 122.9h0M354.5 172.4h0M350.9 137.1h0M348.5 159.1h0M349.3 158.3h0M347.7 164.4h0M356 172.2h0M348.6 107.8h0M355.6 172.2h0M355.4 127.1h0M349.5 148h0M351.3 155.8h0M355.9 116.3h0M349.5 157.9h0M354.1 136.9h0M349.6 132.9h0M357 144.1h0M349.6 112.9h0M357.3 141h0M347 177.9h0M348.4 152.5h0M348.3 121h0M357.4 142.2h0M350.8 175.9h0M354.2 171h0M356.4 111.4h0M357.3 125.8h0M356.4 115.6h0M352.4 143.1h0M352.1 119.2h0M352.8 161h0M352.6 177h0M348.3 171.5h0M353.3 159.3h0M350.5 169.9h0M355.5 139.5h0M350.8 124.5h0M353.8 167.3h0M347.1 141.4h0M351.3 161.3h0M351 123.2h0M355.8 115.9h0M357.1 163.7h0M348.6 154.8h0M357.5 136.6h0M350.5 106.1h0M348.7 116.8h0M353.5 125.9h0M356.1 110.9h0M348.7 137.1h0M352.5 113.3h0M352.2 131.3h0M350.7 113.8h0M347.8 142.6h0M355.8 142.3h0M348.3 148.7h0M347.8 151.7h0M347 116.3h0M348.8 144.4h0M348.2 126.2h0M348.4 170.8h0M355.4 154.8h0M353.1 138.5h0M355.6 130.1h0M347.7 155.6h0M348.4 157h0M348.8 140.8h0M353.8 141.1h0M350.3 159.1h0M351.7 110h0M352.8 172.2h0M355 150.8h0M357 152.2h0M354.7 175.1h0M348.4 164.4h0M354.4 125.2h0M356 148h0M350.4 162h0M353.9 118.4h0M352.1 114h0M351.2 126h0M353.6 153.4h0M347.5 150.7h0M354.4 170.7h0M353.4 171.7h0M356.3 152.8h0M353.6 160h0M347.2 108.9h0M355.9 157.9h0M349.1 134h0M355.8 138h0M348.3 160.7h0M349.1 120.6h0M349.6 160h0M351.3 170.3h0M351.3 120h0M356.2 116.1h0M351.3 107.7h0M347.3 133.4h0M357.4 122.1h0M351.4 168.2h0M356.5 169.2h0M354.6 168.1h0M352.3 147.1h0M353.3 157.9h0M348.8 176.5h0M354.9 171h0M355.9 138h0M351 126.7h0M357.2 147.8h0M355.9 123.6h0M356.7 153.6h0M353.9 127.7h0M356.3 170.3h0M355.8 156.6h0M352.8 151.9h0M352.4 119.9h0M356.9 176.7h0M350.1 109h0M355.8 123.3h0M355 119.2h0M350.5 120.2h0M348.2 176.4h0M349.8 148.1h0M347.6 160.7h0M349.6 155h0M350.4 175.3h0M347.2 154.5h0M353.6 174h0M354.8 172.2h0M354.8 110.4h0M349 133.6h0M353.9 170.5h0M347.7 131.3h0M347.5 153h0M347.4 123.3h0M354.8 118.5h0M357.4 125.4h0M355.4 126.2h0M353.7 159.3h0M348.4 149.8h0M356.7 166h0M348.9 144.5h0M349.6 112.2h0M350.3 176.4h0M352.5 126.3h0M355.3 108.5h0M350.2 162.4h0M356.4 108.2h0M355 164.6h0M357 121.2h0M347.2 152.4h0M354.3 177.1h0M356.3 119.3h0M353.6 149.2h0M349.2 108h0M347 163.4h0M347.6 120h0M348.4 148.2h0M351.7 162.8h0M356.6 162.6h0M348.9 176.4h0M355.3 187h0M356.8 186.2h0M353.5 186.3h0M354.6 184.4h0M351.4 185.1h0M355.7 195.5h0M348.7 181.7h0M355 183.4h0M354.5 194.3h0M349.4 197.5h0M347 190.1h0M353.3 186.7h0M355.3 184.5h0M351.6 183.4h0M349.3 194.5h0M351.1 194.1h0M348 179.5h0M355.6 193.8h0M356 194.4h0M355.2 194.1h0M353.2 198.2h0M348.6 190.9h0M373.6 150.5h0M377.1 183h0M374.3 146h0M381.9 139.4h0M380 141.8h0M377.9 118.9h0M374 130.9h0M375.7 133.5h0M375.8 161.1h0M373.1 178.7h0M376.1 178.3h0M375.7 173.2h0M381 129.7h0M379.2 160.5h0M379 151.2h0M379.4 186.5h0M375.2 187.5h0M380.9 133h0M380.9 176.5h0M375.9 144.2h0M373.6 185.7h0M373.3 122.3h0M375.9 133.4h0M376.4 139.9h0M375.1 111.7h0M372.1 150.1h0M381.1 147.9h0M381.5 161.8h0M376.7 178.6h0M372.1 110.5h0M380.4 155.6h0M372.9 135.7h0M377.2 170.4h0M372.9 146.8h0M377.6 153.8h0M381.1 166.5h0M380.3 115h0M375.9 134.9h0M380.1 136.7h0M372.3 144.6h0M373.1 147.3h0M372 110.1h0M376.3 139.7h0M372.9 108.9h0M377.3 182h0M377.2 188.4h0M378.8 186.3h0M372 140.2h0M379.9 120.8h0M374.7 162.6h0M378.3 122.1h0M374.1 184.3h0M377.2 189.8h0M373.4 125.7h0M381.3 166.6h0M374 125.3h0M373.7 120.4h0M375.9 127.1h0M378.5 128.1h0M374.3 128.3h0M373.3 142.8h0M372.5 113h0M378.6 109.2h0M376.6 112.8h0M378 181h0M375.8 133.7h0M374.9 143.5h0M373.2 113.2h0M373.7 120.4h0M372.6 135.7h0M373.6 158.8h0M378.8 150.2h0M379.4 149.2h0M376.2 172.1h0M372 126h0M375.4 204.5h0M372.4 196.1h0M381 193.8h0M380.5 199.9h0M374.1 207.7h0M380.9 194.7h0M377.8 195h0M376.4 209.7h0M381.6 198.9h0M381.3 208.1h0M373.9 204.8h0M371.7 191h0M377.3 209.4h0M381.7 208.5h0M381.8 195h0M373.4 195.8h0M382.1 195.7h0M375.2 209.7h0M380.2 200.1h0M381 206.9h0M374 197.6h0M381.4 200.8h0M380.7 202.9h0M376.9 194.1h0M377.5 209.3h0M380.1 206.7h0M378.8 199.3h0M376.2 204.5h0M380.1 200.9h0M382 208.5h0M378.7 197.7h0M380.5 201.6h0M376.4 195h0M380 195.4h0M371.6 204.9h0M373 192.3h0M379.7 202.4h0M372.3 197.2h0M378 202.3h0M374.4 199h0M374 197.3h0M375.5 207.1h0M377.3 205h0M374.5 194.8h0M380.6 204.1h0M373.1 209.3h0M372.6 195.4h0M375.6 194h0M381.2 205.1h0M373 202.4h0M373 197.9h0M377.6 195.9h0M373.3 200.5h0M381 195.8h0M377.9 203.2h0M374.7 196.8h0M371.7 206h0M381.6 203.7h0M372 203.3h0M379.8 190.7h0M376 193.9h0M378.7 203.7h0M378.7 196h0M376.5 209.2h0M378.8 198.3h0M378.8 208.3h0M379.8 209.5h0M374.2 210.1h0M373.7 204.1h0M375.1 192.5h0M374.6 209.9h0M381.3 196.5h0M379.5 210.6h0M380.2 197.4h0M371.6 191.4h0M375 191.3h0M380.6 195.1h0M380.5 199.4h0M375.4 200.2h0M372 197.1h0M381.6 199.5h0M381.4 210.4h0M376.2 192.1h0M373.1 207.5h0M373.7 191.4h0M379.3 191.8h0M382 205h0M378.9 191.1h0M373.4 206.7h0M381.9 191.7h0M372.2 206.6h0M378.5 193.9h0M376.1 193.6h0M372.5 193.1h0M377.3 200.2h0M371.5 207.8h0M372.3 197.5h0M373.3 201.6h0M381.8 197h0M378.6 203.6h0M373.6 202.7h0M381.8 204.4h0M380.4 191.9h0M373.6 197.2h0M380.5 203.8h0M373.6 193.5h0M373.7 200.5h0M382 200.6h0M376 190.5h0M373.3 194.2h0M381.5 202.4h0M377.4 199.9h0M380.6 204.7h0M375 210.3h0M381.2 193.7h0M380.9 202.7h0M379.9 193.1h0M372.9 192.5h0M375.3 192.5h0M378.5 198.7h0M376.1 209.7h0M375.9 202.1h0M374.3 198h0M374.2 190.1h0M380 205.2h0M376.2 204.4h0M373.5 198.6h0M382.1 195.1h0M375.8 202.3h0M376.7 201.2h0M375.9 196.2h0M381 199h0M374.6 208.7h0M373.9 199.6h0M372.9 210h0M371.6 200.1h0M376.4 199.7h0M373.1 190.3h0M376.5 200.5h0M372.1 196.4h0M375.2 196.8h0M377.9 192.2h0M377.1 194.6h0M371.7 204.9h0M378.3 200.5h0M378.8 208.8h0M378.5 207.6h0M380.1 194.7h0M376.7 205.9h0M372 209.4h0M375.3 209.1h0M379.9 201.4h0M376.8 193.5h0M371.9 190.3h0M373.8 210.1h0M372.8 199h0M376.9 209.6h0M374.4 208h0M374.1 199.7h0M379 202.4h0M377.7 202h0M381.6 196.5h0M373.3 190.4h0M381.8 204h0M374.1 207.8h0M376.3 209.8h0M378.4 202h0M380.8 203h0M374.8 208.9h0M374.8 208.7h0M373.2 204.4h0M374.7 203.4h0M378.5 210.9h0M381.7 198.1h0M379.4 192.4h0M371.7 203.6h0M372.7 199.7h0M372.6 211h0M377.3 203.3h0M381.4 192.6h0M378.1 202.1h0M373.1 195.5h0M371.9 196.8h0M376.8 194.2h0M379.6 198.2h0M373.7 193h0M378.8 201h0M373.7 196.6h0M375.4 192.6h0M379.9 198h0M375.1 213.5h0M373.7 218.9h0M381.8 211.4h0M401.4 91.2h0M396.7 77.1h0M399.9 81.2h0M401.3 71.6h0M400 83.5h0M403 86.3h0M396.8 70.4h0M402.7 81.4h0M398.7 82.1h0M403.9 77.1h0M401.9 78.3h0M403 74.3h0M396.3 80.3h0M404.8 86.8h0M406.3 92.3h0M401.2 85.5h0M403.8 75.2h0M399.7 78.8h0M402.7 71.7h0M404.5 85.7h0M398.5 72.5h0M397.7 84h0M406.1 160.8h0M399.1 141.1h0M404.4 135.8h0M403.2 119.1h0M405.9 138.8h0M403.4 152.3h0M405.7 134.5h0M403.6 138.9h0M397.4 116.5h0M398.7 135.5h0M398.6 167.2h0M399.8 161.5h0M402.4 107.3h0M406.8 117.4h0M397.4 140.1h0M397.5 116.4h0M401.9 130.6h0M403.4 116.9h0M405 126.8h0M399 144.8h0M396.6 156.4h0M396.6 110.7h0M402 165.8h0M406.8 157.3h0M405.8 99.6h0M403.7 94.2h0M400.4 153.6h0M404.4 161h0M399.3 130.9h0M397.1 104.8h0M401.9 134.2h0M401.9 107h0M399.5 98.7h0M397.9 144.1h0M397.7 132.8h0M398.5 160.4h0M406 164.2h0M399.3 166.8h0M397 145h0M403.6 167.4h0M397.8 95.4h0M400 100.7h0M404.7 164.7h0M404.9 117.7h0M402.1 93.4h0M397.1 122.5h0M403.3 163.3h0M403.1 169.2h0M397.7 140.4h0M405.8 129.2h0M403.1 135.6h0M400.1 128h0M398.6 93.5h0M397.3 106.9h0M404.3 96.8h0M403.7 169.1h0M398.5 156.5h0M400.3 157.9h0M398.8 158.3h0M401.9 115.6h0M399 109.8h0M404.7 148.5h0M403.2 168.2h0M401.3 119.6h0M402.6 137.6h0M402.3 163.1h0M401.4 166.5h0M396.6 126.9h0M401.4 117.5h0M401 93.5h0M399.1 101.5h0M406 160.6h0M402.5 101.4h0M396.9 130h0M402 115.5h0M402.3 125.3h0M402.8 97.7h0M398.3 139.6h0M406.2 136.2h0M402.8 161.1h0M404.2 132.6h0M403.8 127.5h0M402.2 121.3h0M402.5 149h0M400.4 139h0M403.2 119.5h0M401 126.9h0M399.4 121.7h0M405.6 140.7h0M403.2 107.6h0M403.1 133.5h0M400.5 143.6h0M400.2 93.4h0M403 132.7h0M403.3 163.9h0M400 142.8h0M397.7 153.7h0M401.5 160.7h0M403.6 127.5h0M406.9 134.3h0M397 101.9h0M398.7 138.3h0M406.9 110.1h0M399.4 133.3h0M398.7 120.6h0M397.7 112h0M404.1 167.7h0M397.5 120.3h0M405.7 167.6h0M405.5 99.9h0M406.7 135h0M400.9 126.5h0M402.4 93.2h0M405.6 111h0M405.7 109.8h0M404.9 118.3h0M406.2 147.5h0M400.1 136.8h0M398.8 112.8h0M399.5 100.5h0M405 117h0M401.6 93.1h0M398 131.6h0M398.5 145.9h0M398.1 149.7h0M399.6 160.2h0M397.9 99.9h0M397.7 108.3h0M406.6 116.7h0M400.5 121.4h0M397.1 150.5h0M405.5 99.3h0M398.2 117.8h0M404.2 106.7h0M400.5 167.8h0M401.2 147.3h0M399.6 108.3h0M399 118.7h0M397.3 153.6h0M404.1 122.3h0M406.5 95.1h0M403.2 139.9h0M398.5 107.4h0M406.6 157.4h0M405 93.7h0M397.1 108h0M397.3 138.5h0M405.2 157.3h0M397.8 114.6h0M404.2 132.1h0M403.8 95.5h0M400.3 102.1h0M397.2 105.3h0M399.5 133.7h0M405.9 162.7h0M401.7 148.4h0M399.8 142.3h0M402.1 128.7h0M401 125h0M406.8 158.1h0M405.4 149.2h0M397.1 116.1h0M401.6 109.7h0M404.1 151.4h0M404.6 163h0M396.9 115.6h0M399.8 129.7h0M405.9 159.5h0M404.5 134h0M401.8 148.5h0M406.4 126.6h0M402.4 153.9h0M397.9 168.5h0M402.1 151.8h0M397.6 117.3h0M405.5 137.3h0M405.8 106.1h0M398.4 168.5h0M401.4 135.1h0M397.6 118.4h0M406.3 113.2h0M406.4 157.2h0M401.6 130.9h0M400.8 97.3h0M406.8 137.3h0M403.3 97.5h0M406.6 96.2h0M403.7 108.1h0M398.5 141.4h0M400.8 128.1h0M400.5 106.3h0M403.8 97.5h0M402 167.3h0M401.8 123.3h0M404.1 103.7h0M397.4 145.7h0M397.6 121.7h0M396.5 146.5h0M397 159.5h0M398.3 156.8h0M403.8 133.3h0M405.6 164.8h0M403.9 104.3h0M398.1 125.7h0M406.2 128.1h0M403.7 94.1h0M405.7 134.3h0M398.9 129.1h0M397.4 158.1h0M399.4 145.6h0M398.1 96.7h0M398 158h0M397.9 163.2h0M396.9 164h0M402 143.3h0M406.1 138.5h0M406.8 110h0M404.9 136.4h0M406.9 111.9h0M401.3 148h0M405.6 109.3h0M406.8 135.7h0M404.2 160.6h0M398.1 148.1h0M403.9 156.4h0M397 100.1h0M398.6 100.4h0M404.4 151.4h0M400.2 146h0M397.9 164.7h0M401 110.1h0M404.1 112.6h0M404.2 156.8h0M402.4 117.5h0M402.1 116.8h0M397.9 133.4h0M404.9 157.6h0M397.3 152.4h0M404.2 110.6h0M402.8 154.7h0M400.8 164.3h0M401.3 110h0M400.3 115.8h0M399.7 152.8h0M402.6 147.4h0M401.7 94.3h0M403.2 159.3h0M403.1 158.1h0M396.7 169.1h0M398.4 125.3h0M399.4 150.8h0M403.2 143.7h0M402.8 93.9h0M399 117.9h0M403 142.2h0M403.8 109h0M396.9 98.4h0M406.1 160.9h0M406.8 165.4h0M402.3 149.6h0M402 133.3h0M406.5 165.2h0M398.4 126.1h0M400.8 134h0M406.1 154.8h0M397.2 140.3h0M397.7 133.7h0M405 133.9h0M401.3 144.4h0M406.2 104.8h0M401.5 159.6h0M403.5 96.6h0M400.5 123.4h0M399.2 121.7h0M403.2 103.4h0M400.9 132.5h0M401.6 150.3h0M399.1 105h0M403.4 135.6h0M404.2 141.3h0M404.4 120.1h0M399 137.4h0M402.9 102.2h0M406.4 157.7h0M405 155.4h0M398.9 138h0M405.4 115.4h0M401.4 113.6h0M396.5 134.8h0M398.4 101.2h0M404.6 153.8h0M398 99.3h0M398.1 168.5h0M402.5 154.1h0M404.1 159.7h0M404.5 100.1h0M396.7 147.6h0M399.4 165.1h0M401.9 128.3h0M402.3 135.3h0M405.3 97.7h0M397.3 132.8h0M398.3 131.3h0M403.9 125.8h0M398 150.6h0M406.6 114.7h0M398.3 140.9h0M398.9 139.5h0M403.3 98.3h0M397.8 101.2h0M406.5 144.8h0M404.2 97.9h0M396.9 103.6h0M396.5 93.9h0M405.9 148.8h0M397.9 93.6h0M400.6 96.2h0M398.3 117.4h0M397.4 155.3h0M397.8 141.2h0M397.7 142.9h0M406.8 107.7h0M401.1 113.1h0M406.9 143.4h0M397.5 134.8h0M403.5 144h0M400.4 137.5h0M397 155.7h0M402.1 134.6h0M404.6 163.2h0M400.4 111h0M400.3 138.4h0M406.8 97.4h0M397.8 127.5h0M396.5 104.3h0M397.8 162.6h0M406.3 135.9h0M402.6 151.7h0M403.4 114.5h0M398.5 154.6h0M400.7 110.2h0M405.7 138.6h0M399.1 138.1h0M397.9 148.4h0M396.4 100.8h0M402.4 136.9h0M402.2 128.3h0M398.5 107.1h0M400.6 137.6h0M406 131h0M404.2 128.5h0M401.5 97.3h0M398.4 96.7h0M400.4 107.1h0M406.2 104.8h0M399.5 115.7h0M400.2 98.1h0M402.1 152.9h0M402.8 161.3h0M400.8 142.1h0M401.1 156.8h0M398.7 103.3h0M396.9 153.9h0M402.9 106.5h0M401.2 145.1h0M400.8 142.8h0M396.7 138h0M406.6 124.3h0M399.9 136.8h0M406.6 140.5h0M400.7 128.4h0M405.3 155.8h0M403.4 110h0M400 115.6h0M400.1 154.3h0M401.5 162.9h0M397.7 159.3h0M396.7 123.7h0M405.7 158.6h0M401.2 130h0M400.4 167.2h0M397.8 116.1h0M404.8 163.3h0M404 133.1h0M403.4 156.9h0M403.2 100.9h0M401.3 159.6h0M403.1 125.4h0M398.7 107.3h0M406.8 144.9h0M403.3 101.3h0M396.7 131.3h0M399.5 105h0M397.7 145.8h0M402.9 121.3h0M406.9 150.6h0M398.3 157h0M402.7 135.6h0M402.6 135.1h0M398.8 122h0M405.6 143.9h0M403.3 145.1h0M399 166.3h0M405.1 136.8h0M396.3 142.8h0M405 131.9h0M400.5 108.2h0M401.1 168.2h0M402.6 134.4h0M401.1 158h0M403.8 161.7h0M402.8 123.5h0M396.8 115.7h0M396.8 129.9h0M405.2 115.6h0M398.4 167.2h0M400 105.4h0M397.8 127.2h0M398 154.6h0M399.2 134.1h0M397.5 142.3h0M405.3 130.6h0M398.3 93.9h0M405.2 98.2h0M398.9 144.2h0M398.1 161.8h0M404 130.2h0M397 138.8h0M398.3 96.2h0M405.8 165.3h0M396.8 115.7h0M398.4 141.4h0M406 161.2h0M404.5 152.7h0M405.1 152.5h0M404 121.8h0M403.7 93.6h0M406.7 126.8h0M401.1 153h0M402.5 147h0M396.4 140h0M399 109.9h0M406 146.7h0M404.3 140.9h0M397.8 141.5h0M402.5 112.2h0M400.7 150.6h0M399.8 146h0M398.1 116.8h0M402.4 124.4h0M406.2 101h0M404.1 93.2h0M406.2 119.3h0M396.6 114.6h0M400.3 145.7h0M403.4 155.5h0M403.3 126.5h0M399.8 145h0M403.2 107.6h0M396.8 136.4h0M400.9 105h0M401.9 99.5h0M399.4 123h0M404.1 150.3h0M402.6 97.8h0M402.7 168.9h0M398.8 168.3h0M399.8 109.6h0M398 110.6h0M401.6 112.2h0M404.5 155h0M404.4 95.7h0M399.1 141.7h0M405.4 93.1h0M399 103h0M404.7 116h0M406 165.3h0M405.3 157.9h0M396.9 128.9h0M397.8 110.7h0M397.7 101.5h0M396.8 117.1h0M405.4 115.3h0M401.7 111.2h0M396.5 158h0M402.1 148.5h0M405.7 94.9h0M397.4 153.8h0M402.4 166.5h0M398.6 141.4h0M403.8 95h0M398.2 147.5h0M402.4 95.2h0M400 116.3h0M402.3 159.4h0M403.7 101.7h0M402.3 148h0M401.3 165.9h0M396.9 142.6h0M399.5 115.7h0M401.7 125.6h0M403.6 101.4h0M399 96.8h0M396.6 137.6h0M404.9 117.9h0M400.3 148.9h0M404.3 105.4h0M397.2 159.4h0M402.1 124.8h0M398.4 145.9h0M402.8 155.8h0M406.4 154h0M403.4 145.2h0M399.2 115.5h0M404.9 121.3h0M399.3 138.4h0M401.8 162h0M403.2 167.9h0M400 149.1h0M401.4 168.9h0M400.6 144.4h0M398.2 132.8h0M400.7 120.9h0M398 149.7h0M403.1 107.8h0M405.6 129h0M401 94.1h0M404.3 156.5h0M401.8 119.7h0M396.4 123.1h0M398.7 98.8h0M398.3 159.7h0M402.2 114.6h0M403.2 146.2h0M399.9 116.4h0M404.7 93.6h0M399.4 121.6h0M401.5 108.5h0M399.8 104.1h0M398.3 100.7h0M399.8 133.2h0M405.5 100.8h0M400.7 97.2h0M396.9 115.1h0M401 115.3h0M399 145.6h0M405.8 121.8h0M401 141.4h0M404.6 108.9h0M398.8 164.2h0M400.3 158h0M396.6 129.4h0M398.9 111.3h0M405.1 108.2h0M399.7 165.7h0M399.5 154.3h0M398.4 137.3h0M401.8 162.5h0M404.7 138h0M401.5 132.9h0M401.3 147.3h0M399.5 136.9h0M398.7 104.3h0M402.6 167.3h0M398.3 94h0M401.7 137.5h0M405.9 168.7h0M404.8 98.1h0M404.2 168.2h0M400.3 165.9h0M403.6 141h0M403.9 153.9h0M399.9 155.7h0M402.6 153.8h0M399.7 166.5h0M405.4 140.3h0M403.7 151h0M397.9 103.8h0M403.2 117.1h0M403.3 95.1h0M398.4 101.8h0M402.1 113.9h0M406.3 147.8h0M397.2 110.2h0M402.6 158.6h0M403.9 163.3h0M400.1 102.6h0M401.1 109.5h0M405.4 114.6h0M398.3 161.5h0M406.5 169.5h0M405.6 122.2h0M404.1 165.3h0M403 120.5h0M399.9 151.6h0M397.2 129.2h0M404.7 104.6h0M403.7 116.3h0M403.8 125.6h0M397.2 114.6h0M399 143.9h0M401.2 108.3h0M405.7 130.8h0M400.9 146.2h0M402.7 126.5h0M399.5 102.6h0M406.3 139h0M398.5 138.8h0M404.7 167h0M400.2 109.7h0M404.4 95.2h0M405.1 109.4h0M404.5 147.8h0M398.9 136h0M402.6 95.4h0M401.8 93.6h0M397.8 152.1h0M402 126.2h0M398.4 104.2h0M398.1 139.5h0M398.6 104.3h0M405.8 164.6h0M402.4 101.2h0M396.6 124.2h0M403.2 111.9h0M406.5 94.1h0M400 114.6h0M397.8 165.6h0M401.3 102.6h0M399.7 116.7h0M406.4 137.4h0M396.8 124.5h0M405.3 121.3h0M396.9 125.9h0M398.7 111.8h0M399.7 119.6h0M403.9 144.2h0M397.8 96h0M405.6 155.8h0M398.2 153.2h0M397.1 145.9h0M398.6 144.5h0M405.2 157.2h0M404 128.5h0M405.8 165.2h0M402.8 142.4h0M403.5 120h0M401.2 103.4h0M397.3 99.1h0M400.8 144h0M406.4 108.6h0M402 114.9h0M398.3 130.3h0M404.3 169h0M399.5 161.2h0M405.9 162.7h0M398.2 165h0M397.2 104.6h0M403.7 99.5h0M401.2 96.5h0M404 119.9h0M403.9 96.2h0M399.4 166.3h0M404.2 123.6h0M405.3 116.1h0M398.7 169.2h0M397.8 128.8h0M400.5 135.5h0M404 167.4h0M404.9 168.9h0M400.4 156h0M397.5 143.7h0M406.1 119.4h0M398.1 168h0M400.6 130.6h0M402.6 140.3h0M405.6 112.7h0M404.5 127.2h0M406.7 148.1h0M402.5 132.2h0M398.7 152h0M404.9 96.1h0M404.2 146h0M398.4 154.1h0M403.1 160.1h0M402.2 165.2h0M396.9 159.2h0M402.2 105.3h0M400.4 143.9h0M405.7 98.1h0M405.7 98.1h0M403.8 110.5h0M398.8 138.2h0M398.9 117.9h0M399.2 133.6h0M399.3 134.4h0M403.7 101.9h0M406.4 112.7h0M399.1 123.8h0M405.9 147.8h0M404.1 121.1h0M406.8 118.1h0M396.7 115.7h0M402.1 92.9h0M399.3 140.6h0M400.6 124.4h0M398.3 120.5h0M403.4 134.5h0M405.6 94.7h0M401.3 112.5h0M403.4 109.3h0M402.5 123.8h0M401.7 124h0M406.7 99.3h0M399.8 125.3h0M399.4 157.7h0M400.8 153.4h0M402.4 101.6h0M398.4 114.2h0M406.2 168.7h0M404.9 184.2h0M399.5 190.3h0M402.5 173.5h0M404.3 175.4h0M398.6 188h0M406.6 193.7h0M406.6 184.4h0M396.5 183.5h0M400 183.9h0M401.8 198h0M398 199.4h0M396.5 181.4h0M403.8 171.1h0M398.7 170.5h0M406.1 183h0M396.3 176.8h0M403.7 191.3h0M406.1 173.8h0M406.2 196.4h0M402.1 195.1h0M397.6 191.3h0M400.1 189.5h0M399.6 179.9h0M404.9 172h0M396.4 193.3h0M396.5 185.5h0M398.1 186.5h0M399.7 199.4h0M399.1 185.8h0M396.4 197.6h0M424.2 81.1h0M422.2 96.9h0M428.1 126.1h0M422.5 86.8h0M424.3 86.5h0M428.3 109.5h0M421 127.9h0M424.1 81h0M424.9 128h0M428.9 113.6h0M424.1 97.5h0M426.9 117.1h0M423 130.6h0M425.3 128.1h0M426.9 122.9h0M429.2 103.9h0M423.1 73.9h0M428.8 99.2h0M428.4 146.2h0M423.8 138.2h0M427.7 168.9h0M429.1 173.7h0M424.2 187.6h0M424.2 173.6h0M423.3 202.3h0M422.7 145.8h0M428.7 151.5h0M422.7 187.1h0M429.6 165.3h0M422.5 209.5h0M420.7 208.1h0M423.5 212.6h0M420.4 209h0M429.9 187.2h0M426.2 198h0M422.6 143.7h0M429.3 208h0M423.7 149.1h0M423.3 181.1h0M429.3 148.4h0M426.8 140.1h0M425.1 164.1h0M428 202.2h0M420.3 194.3h0M428.5 197.2h0M422.5 131.1h0M429.3 190.7h0M429.5 175.1h0M422.9 138.2h0M428.5 198h0M426.1 149.2h0M427.9 166.8h0M423.5 163.5h0M427.5 193.2h0M427.7 160.6h0M425.4 152.4h0M423.7 146.3h0M421 165.2h0M423.8 156.5h0M425.5 157.7h0M429.1 204.5h0M421.5 155.2h0M429.5 138.2h0M427.9 193.1h0M424.4 205.2h0M421.1 145h0M428.2 163.6h0M424.7 138h0M422.4 137.6h0M427 176.2h0M423.5 208h0M420.8 150h0M420.5 146.3h0M421.3 131.1h0M424.9 174.8h0M425.2 205.1h0M421.6 138.1h0M430.5 188.2h0M422.6 192.2h0M424.7 159.2h0M423.1 166.4h0M420.4 143.6h0M430.4 202.9h0M424.1 210.9h0M422.3 187.2h0M420.1 140.2h0M428.6 158.2h0M422.6 174.1h0M425.8 170.3h0M424.8 147h0M424.8 206.9h0M427.8 211.9h0M429.8 141.5h0M424.8 187.6h0M427.1 146.4h0M425 146.5h0M424.5 143.4h0M426.4 210h0M426.7 172.9h0M426.5 184.5h0M422.4 154.3h0M430 180.5h0M425.3 202.2h0M426.3 155.1h0M425.4 134.8h0M430.4 195h0M422.2 138.4h0M426.6 170.2h0M421.2 209.7h0M425.2 141.5h0M420.4 195.8h0M427.6 162.1h0M422 165.4h0M428.2 136.8h0M425.8 172.7h0M428.2 186.8h0M424 163.8h0M420.9 206.1h0M425 194.5h0M422.8 174.5h0M423.3 208h0M420.7 157.2h0M428.9 203.8h0M421.7 135.1h0M420.4 154.6h0M429.1 171.7h0M425.4 189.8h0M423.3 211h0M422.9 157h0M425 180.2h0M425.3 141.2h0M429.4 210h0M429.2 182h0M425.4 170.7h0M422.2 187.9h0M425.4 179.5h0M425.4 155.3h0M426.9 145.5h0M424.8 140.4h0M425.8 135.5h0M428.8 138.9h0M428.7 132.5h0M430.2 155.4h0M421.6 157.9h0M422.7 185.7h0M425.2 197.4h0M426.4 152.8h0M422.9 149.2h0M422.6 137.7h0M421.8 148.9h0M424.9 165h0M425.9 179.6h0M426.6 186.7h0M429.2 169.5h0M423 142.6h0M429.7 132h0M424.4 202.9h0M426.1 199.8h0M429.7 207.1h0M423.1 158.1h0M430.2 165h0M423.9 169.2h0M424.2 132.9h0M424.5 206.6h0M429.6 195.9h0M427.9 207.6h0M423.3 171.6h0M428.6 207.8h0M420.7 191.7h0M427.4 184h0M423.6 142h0M422.8 168.1h0M421.7 139.8h0M420.2 168.4h0M424.5 195.8h0M422.8 153.8h0M426.4 156.8h0M424.7 189.4h0M426.2 189.4h0M427.8 197.3h0M420.4 193.5h0M421.3 159.7h0M421.8 198.8h0M423.7 206.5h0M427.5 143.4h0M424 146.1h0M426.8 166.9h0M427.1 173.3h0M430.4 195.8h0M424.6 181.7h0M423.8 171.5h0M425.9 199.1h0M428.8 187.9h0M429.5 187.9h0M427.5 168.1h0M425.3 203.3h0M423.1 198.1h0M429.1 144h0M430.3 176.1h0M422.8 179.9h0M429.6 140.9h0M421.9 151.7h0M427.7 174.1h0M420.6 177.9h0M427.3 194.9h0M429.9 157.6h0M428.2 171.4h0M423.4 138.4h0M427.4 192.8h0M427.4 188.3h0M429.2 133.3h0M422.7 134.4h0M425.4 155.7h0M424.6 138.8h0M423.7 142.4h0M421.3 159.1h0M420.4 196.6h0M429.6 147.4h0M430.1 164.1h0M425.6 156.1h0M424.4 174.1h0M424.4 211.8h0M425.5 196.1h0M429.1 159.5h0M420.3 206.5h0M428.1 179.9h0M424.4 172.4h0M421.8 189.8h0M422.2 169.8h0M428.4 201.6h0M428.4 163.4h0M427 175.3h0M428.3 150.5h0M430.7 184h0M424.4 152.4h0M422.8 194.7h0M429.1 193.5h0M427.8 144.6h0M423 154.7h0M428.4 159.8h0M424.2 183.1h0M428.7 186.8h0M429.3 147h0M426.8 173.6h0M422.4 201.3h0M427.6 169.2h0M424.2 132.3h0M424.9 175.3h0M429 172.2h0M427.7 140.3h0M421 154.1h0M421.5 168.8h0M421.9 168.5h0M421.6 167.3h0M422.3 212.4h0M426.5 167.2h0M421.5 186.1h0M424 200.3h0M424.7 137.8h0M423.9 181.8h0M423.4 190.5h0M430 197.7h0M420.8 197.7h0M425.7 165.3h0M422.1 162.3h0M421.4 179.1h0M424.5 144.7h0M424.2 212.4h0M427.2 209.9h0M429.8 183.8h0M427.9 178.6h0M428.5 169.6h0M420.1 202.5h0M420.4 207.3h0M420.9 183.3h0M424.7 192.8h0M429 142.2h0M429.6 151.2h0M426 162.4h0M428.2 167.4h0M425.5 160h0M423.7 149.8h0M422.9 140h0M427.4 153.7h0M421.7 142.9h0M426.9 210.5h0M429.3 138h0M426.6 193h0M425.8 209.6h0M420.2 142.4h0M425 138.4h0M428.9 176.2h0M420.9 136.8h0M424 138.8h0M428.4 207.5h0M426.4 134.6h0M422.5 145.8h0M422.7 157.3h0M422.5 155.2h0M426.4 159.1h0M427.8 177h0M420.4 153.8h0M423.4 177.7h0M424.4 148.2h0M426.4 208.3h0M420.6 189.6h0M427.5 175.4h0M428.2 201.6h0M430.6 135.1h0M428.3 132.3h0M429.9 169.5h0M428 208.4h0M427 137.8h0M424.6 140.6h0M423.3 141.6h0M425.8 135.3h0M422.7 138.5h0M423.2 194.5h0M429.3 178.3h0M428.8 183h0M422.7 207.2h0M430.6 146.2h0M423.5 206h0M421 206.7h0M429.3 149.6h0M429.2 139.5h0M428.3 149.2h0M425.4 141.4h0M426 177.9h0M420.5 201.5h0M429.1 188.9h0M422.6 173.6h0M424.7 196.1h0M428.3 152.4h0M428.8 193.4h0M420.3 171.3h0M426 132.9h0M426.7 134h0M428.3 141.9h0M427.4 132.6h0M430.7 149.2h0M425.6 169.8h0M423.1 200.4h0M423.2 210.4h0M423.1 134h0M426.4 161h0M429.7 136.4h0M428 194.5h0M420.7 211.8h0M429.2 187.1h0M424.5 145.6h0M429.9 147.3h0M428.9 169.5h0M426.5 151.6h0M423.7 192h0M421 152.9h0M424.4 182.3h0M423.5 147.3h0M421.4 157.1h0M421.7 179.4h0M423.9 148.7h0M427.6 211.8h0M429.1 148.4h0M423.6 207.7h0M426.8 196.1h0M429.7 176.3h0M427 185.8h0M424.9 207.5h0M420.2 139.5h0M425.1 190.1h0M430.4 202.6h0M422.2 151.8h0M420.3 177.8h0M420.9 139.2h0M424.8 155.3h0M427.4 147h0M428.9 193h0M428.1 175.6h0M427.8 196h0M426.2 156.9h0M422.7 198.4h0M420.2 160.3h0M421.3 180.1h0M422.1 167.4h0M429.5 140.5h0M430.3 157.9h0M426.3 191.3h0M427 170.6h0M422.1 197.2h0M423 175.2h0M422.4 146.3h0M430 195.4h0M422 166.3h0M423.4 145.4h0M429.5 161.4h0M425.3 173.9h0M422 182.2h0M424.8 161.3h0M423.3 136.3h0M426.5 177.7h0M420.9 152.7h0M421.7 177.6h0M430.3 131.3h0M430 190.8h0M428.3 157h0M426.8 200.6h0M423 133.8h0M424.7 161.6h0M422.1 177.8h0M420.3 149.1h0M421.3 163.8h0M420.3 150.1h0M422.5 199.8h0M426.2 172.5h0M425.9 134.4h0M422.6 196.5h0M427.8 182.5h0M423.9 176.8h0M427.2 172.8h0M427.9 166.7h0M428.1 192.2h0M421.6 166.4h0M423.2 145.2h0M420.7 176.9h0M421.7 156.4h0M422.2 174.7h0M420.8 198.2h0M428 160.2h0M424.3 199.1h0M429.4 208h0M423.6 177h0M427.4 146.8h0M427 135.9h0M422.1 149.7h0M424.2 181.3h0M421.7 135.6h0M424.2 195.5h0M426.7 194.7h0M423.7 131.2h0M422.7 180h0M430.7 141.8h0M427.1 157.5h0M430.6 167.1h0M420.4 149.6h0M427.5 184.1h0M421.3 199.2h0M425.1 145.4h0M421.5 153.8h0M420.6 142.5h0M421.5 166h0M421.1 133.3h0M426.9 188.4h0M428.6 159.2h0M424.5 134.7h0M420.7 207.2h0M425.2 143.2h0M420.8 159.7h0M428.5 199.6h0M424.5 178.9h0M425.4 176.5h0M423.5 177.5h0M425.6 197.6h0M426.3 150.3h0M425.4 194.5h0M425.9 157.5h0M422 187.4h0M424.4 203.4h0M425.6 165.2h0M421.9 193.1h0M425.3 146h0M424.7 132.3h0M422.2 141.5h0M429.6 160.9h0M423.1 181h0M425.5 183.1h0M424.8 131.2h0M428.7 188.4h0M420.3 209.9h0M424.1 173h0M428.8 167.4h0M425.9 166.7h0M429.3 193h0M425.7 178.7h0M424.1 139.3h0M428.3 146.6h0M421.5 185.8h0M429.4 178.3h0M424.1 200.3h0M425.7 160.9h0M430.4 165.1h0M429.6 200.6h0M421.2 212.7h0M423.9 208.3h0M426.5 152.3h0M422.3 163.6h0M422 210.7h0M424.3 137.9h0M428.6 198.4h0M424.4 168.1h0M428.6 142.4h0M422.4 192.9h0M429.6 185.6h0M422.6 160.4h0M426.7 191.8h0M420.1 163.2h0M427.6 157.5h0M425.2 146.3h0M423.8 193.9h0M427.3 141.2h0M426.5 187h0M424 205.1h0M424.9 172.7h0M423.6 200.9h0M424 150.7h0M428 198.3h0M428.8 146.3h0M423.7 211.7h0M427.4 195.5h0M422.6 181.3h0M429.3 131.1h0M428.8 158.1h0M429.2 200.8h0M427.8 190.9h0M430.1 198h0M429.4 206.1h0M429.9 157.3h0M422.1 138.5h0M425.9 201.8h0M423.6 208.9h0M421.7 136.4h0M428.7 203.2h0M427 166h0M430 134h0M422.2 154.1h0M425.2 170.7h0M427.7 170.8h0M428.5 146.1h0M424.3 157.6h0M450 67.5h0M452.4 68.2h0M451.5 75.8h0M448.7 75.8h0M451.5 69.3h0M450.2 66.6h0M455.7 62.9h0M453.8 60.1h0M449 67h0M455.3 64.1h0M451.4 64.6h0M452.3 66h0M450.9 86.6h0M445.6 78h0M445.3 88.4h0M448.3 85.9h0M448.7 90.1h0M447 76.9h0M452.1 82.3h0M454.1 89.4h0M451.2 94.2h0M452.4 76.9h0M451.7 82.7h0M449.5 79.3h0M452.5 80.6h0M449.2 94h0M452 85.6h0M449.1 90.5h0M452.2 81.1h0M450.6 81.9h0M451.2 88h0M449 94.5h0M449.6 80.1h0M454.4 93.1h0M447.1 77.1h0M453.6 80.5h0M447.1 89.1h0M454.5 91h0M449 91.5h0M448.1 91.6h0M446.8 93.7h0M448.5 83.5h0M453.4 91.6h0M451 86.1h0M451.5 81.6h0M453 76.9h0M450.1 94.2h0M451.5 84.8h0M455.1 83.2h0M450.5 80.1h0M453.2 89.1h0M446.6 81.8h0M446.6 89.1h0M445.5 91.7h0M453.9 92.7h0M454.7 85.6h0M452.4 90.8h0M446.3 80.9h0M446.3 78.2h0M452.7 88.8h0M449.4 94h0M454.4 82.9h0M455.7 91h0M455.4 76.2h0M453.8 83.8h0M451 80h0M452.9 90.3h0M446.2 89.2h0M445.9 93.4h0M451.3 91.6h0M447.7 87.8h0M453.4 91h0M455.2 80.7h0M454.4 83.9h0M449.3 80.4h0M445.7 80h0M446.9 78.7h0M450.4 85.8h0M455 78h0M450.8 88.1h0M449.7 81.2h0M449.8 93.3h0M455.1 85.6h0M454.3 83.6h0M452.8 77.3h0M448.2 78.3h0M454.6 77.6h0M453.7 93h0M446.5 85.5h0M454.8 85.9h0M445.3 89.7h0M455.4 94.8h0M445.5 87.2h0M451.9 89.6h0M450 76.1h0M446 76.3h0M453.4 88.9h0M447 82.2h0M447.7 81.2h0M448.2 86.6h0M445.5 93.3h0M451.9 80.4h0M446.2 146h0M448.3 139.1h0M447.8 186h0M452.5 167.9h0M445.8 142.5h0M446.4 156h0M455.1 122.4h0M455.5 115h0M445.6 113.2h0M454.2 98.5h0M448.2 197.2h0M448.9 134.4h0M448.5 167.2h0M452.2 148.4h0M446.7 126.4h0M452.2 169.5h0M449.9 95.4h0M451.6 191.5h0M455.6 172h0M449.5 118.1h0M454.8 111.9h0M454.6 161.8h0M448.9 169.9h0M448.2 175.9h0M451.9 152.5h0M447.9 183.5h0M451.1 181h0M446.3 166.5h0M446.3 155h0M453.7 166.8h0M449.9 138.7h0M451.2 166.2h0M454.2 206.7h0M449 173.2h0M452.5 101.3h0M452.8 120.5h0M454.4 169.4h0M450.4 101.8h0M448.9 133.8h0M454.1 124.4h0M451.1 146.9h0M451.2 108.4h0M446.6 167.2h0M448.1 133.6h0M446.1 158h0M449.4 207.1h0M445.7 200.5h0M454.8 180.6h0M449.3 145.2h0M448.5 166h0M455 123.1h0M450.6 168.4h0M453.7 147.4h0M448.3 179.3h0M449.6 130.6h0M449.7 101.3h0M452.4 108.1h0M448.8 132.9h0M448 119.9h0M454.7 121.2h0M451.1 146.9h0M455.4 131.4h0M447.1 163.2h0M445.3 172.6h0M453.2 208.4h0M449.8 119.3h0M453.5 198.7h0M451.4 184.6h0M452.2 117.5h0M446.9 160.9h0M450.9 101.5h0M448.8 199.6h0M446.4 167.7h0M454.7 195.1h0M452.9 129.3h0M449.9 179.3h0M445.8 195.4h0M446.5 127.8h0M453.1 189.2h0M452.3 121.1h0M451.3 153.3h0M451.3 142.5h0M448.7 158.8h0M447 136.8h0M454 166.9h0M451.5 121h0M447.2 139.5h0M445.7 102.1h0M446.7 179.8h0M450.7 127.1h0M451.5 117.5h0M447.7 149h0M452.1 172.4h0M448.9 203.4h0M451.9 183.5h0M445.7 160.2h0M449.8 130.1h0M446.4 100.2h0M446.5 188.9h0M447.8 158.9h0M449.5 155h0M450.1 125.3h0M455.3 126.7h0M446.6 147.5h0M447 179.6h0M453.5 179.8h0M450.8 200.2h0M453.7 180.2h0M451.7 187.9h0M453.2 196.9h0M449.2 138.6h0M455.1 190.7h0M455.1 138h0M452.7 185.5h0M448.2 133.6h0M452.6 128.1h0M447.7 147.8h0M453.9 111.7h0M447.1 116.7h0M445.9 155.6h0M447.5 141.1h0M451.2 192.9h0M450.3 151.3h0M454.2 97.1h0M445.4 202.7h0M453.6 159.4h0M455.5 191.6h0M454.7 198.1h0M455.8 111.7h0M452.1 207.3h0M448.1 195.1h0M446.5 144.3h0M455.8 148.7h0M450.2 175.4h0M447.5 130.9h0M448.4 144h0M451.4 150.7h0M451.6 141.2h0M450.6 142.2h0M454.2 150.4h0M451.5 197h0M448.5 181.5h0M448.6 113.6h0M453.4 110.9h0M452.1 199.5h0M446.7 119.9h0M451.4 182.9h0M455.8 111.6h0M455.5 180.9h0M453.6 207.1h0M455.3 200.9h0M449 113.2h0M452.1 156.2h0M448.2 112.3h0M455.5 183h0M455.2 149.2h0M454.8 194.8h0M449.4 116.6h0M453.9 170.7h0M446.6 189.8h0M445.6 172.2h0M445.9 130.4h0M446.6 153.3h0M449.6 170.2h0M448.7 187.3h0M446.6 207.9h0M450.6 104.3h0M454.3 152.3h0M447.2 98h0M449.9 123h0M452.3 188.6h0M449.4 122h0M451.2 182.5h0M449.1 107.3h0M450.1 97.8h0M448.5 121.4h0M454.5 133.7h0M446.2 104.5h0M449.8 110h0M455.2 144.6h0M448.1 177.9h0M451.1 110h0M447.7 189.9h0M449.2 182.2h0M455.4 204.2h0M453.8 114.9h0M449.4 162.3h0M454.9 154.1h0M451.3 149.9h0M445.6 151.4h0M446.4 181.5h0M445.4 197.6h0M448 159.7h0M451.9 173.1h0M454 180.1h0M446.5 207.6h0M450.4 121.2h0M449.5 200.8h0M450.9 118.7h0M446.1 131h0M450.1 187.1h0M446.4 191.1h0M446.5 133.5h0M450 191.4h0M445.8 164.1h0M449.4 145.2h0M447.8 175.3h0M448.8 207.2h0M450.3 153.6h0M445.9 134.1h0M455 99.5h0M451.8 206.7h0M447.4 110.2h0M445.7 131.5h0M448.3 134h0M454.2 132.2h0M455.9 158.7h0M446 130h0M453 181.9h0M449.2 188.2h0M446.4 187.9h0M452.6 177.3h0M451.8 159.5h0M449.9 147.9h0M451.7 149.2h0M448.9 191.5h0M449.4 158.5h0M452.8 114.5h0M454.6 95.7h0M447.1 100.6h0M449.9 180h0M450.5 129.1h0M452.1 201.2h0M455.4 136.1h0M446.3 122.8h0M453.8 178.7h0M449.5 185.7h0M447.5 172.7h0M455.3 125.5h0M455.3 192h0M452.8 157.9h0M449.5 136.3h0M453.2 200.7h0M446.9 202.1h0M455 142.1h0M454 200.7h0M448.1 196h0M446.4 176.4h0M445.4 147.2h0M447.4 144.3h0M452.4 141.7h0M454.6 172.1h0M448.5 201.5h0M449.7 133h0M454.2 123.9h0M452.3 185.4h0M448.4 168.9h0M453.4 126.6h0M455.8 105.5h0M447.5 111.5h0M455 181.7h0M455.3 112.8h0M446.6 153.1h0M447.8 157.3h0M452 168.8h0M455.1 190.2h0M452.5 193.3h0M454.5 178.2h0M450.6 190.5h0M455.5 202.2h0M447.5 117.5h0M451.1 165h0M450.6 143.2h0M449.7 118.7h0M453.3 162.6h0M446.4 175.5h0M450.4 118.9h0M448.2 183.1h0M447.7 179.2h0M454.3 129.6h0M454.2 117.4h0M445.6 157.8h0M451 148.6h0M449.3 109.2h0M450.3 150.3h0M449.4 200h0M448.4 197.2h0M446.9 180h0M453.2 161.6h0M445.8 189.3h0M446.9 179.8h0M448.5 205.1h0M447 192.3h0M451 207.5h0M455 120.2h0M453 185.1h0M447.8 143.8h0M454.3 167.5h0M452.8 179h0M450.2 102.1h0M451 128.1h0M451.7 171.2h0M448.6 95.3h0M449.8 127.5h0M447.3 127.5h0M450.5 120.4h0M447.6 195.6h0M452.3 204.6h0M454.7 197.2h0M455 180.8h0M452 117.1h0M447.1 136.1h0M452.2 126.3h0M446.4 110.2h0M453.9 191.4h0M447.4 98.5h0M450.9 95.4h0M446.9 207.2h0M450 160.8h0M451.5 178h0M446.4 178.5h0M453.6 206.5h0M445.4 107.4h0M453.5 187.6h0M455.1 138.4h0M450.7 167.1h0M450.4 99.7h0M449.9 138.2h0M454.3 134.3h0M446.3 137.1h0M454.2 123.6h0M449 153.9h0M455.7 194.8h0M446.8 142.5h0M446.5 131.6h0M452.8 194.6h0M452.2 131.7h0M455.8 191.6h0M450.2 114.8h0M450 168.8h0M450.1 155.3h0M451.4 141.7h0M448.4 140.1h0M453.6 142.4h0M450.3 112.6h0M455.1 121.5h0M449 95.9h0M452.8 204.9h0M453.1 121.9h0M446.3 152.2h0M445.8 106.9h0M449.6 127.5h0M454.7 205.7h0M452.4 157.7h0M453.9 165.8h0M452.2 137.2h0M447.7 119.8h0M449.6 125.4h0M451.6 128.8h0M448.6 99.6h0M453.7 164h0M449.9 184.8h0M445.6 166.1h0M452.4 200.4h0M446.4 185.3h0M448.5 142.2h0M453.4 191h0M455.6 113.1h0M446.7 118.4h0M449.9 158.9h0M445.8 203.8h0M452.9 198.4h0M446.9 131.2h0M445.6 175.5h0M446.2 128.4h0M455.8 134.8h0M451.1 191.4h0M452 168.6h0M454.1 184.6h0M455.3 204.9h0M455.4 134.1h0M446.5 123.6h0M445.8 169.2h0M455.7 194.9h0M448 186.4h0M445.9 155.3h0M454 145.9h0M447 117.4h0M449 135.5h0M448.7 133h0M452.1 103.1h0M451.8 151h0M454.9 132.1h0M451.2 183.3h0M454.3 138.7h0M449.7 144.7h0M445.9 159.7h0M446.2 151.6h0M453.7 199.8h0M447.5 108.9h0M451.1 170.8h0M449.6 141.2h0M449.6 120.7h0M446 100.8h0M445.6 121.9h0M447.4 122.2h0M451.6 135.4h0M452.8 208h0M451.2 188.5h0M452 181.8h0M449.2 96h0M452.6 109.9h0M449.9 136.5h0M455.6 112.7h0M446.8 126.6h0M448.7 137.4h0M452.7 116.5h0M445.4 144.1h0M446.6 203.1h0M455.8 193.9h0M453.4 157.3h0M447.4 95.6h0M452.7 185.4h0M448.1 108.6h0M453.7 103.7h0M449 168.1h0M450.6 159.5h0M451 124.8h0M452.9 95.9h0M447 204.2h0M451.6 144.7h0M453.5 173h0M453.3 132.5h0M453.6 136h0M451.4 152.9h0M447.2 196.9h0M449 151.8h0M453.6 102h0M447.1 117.4h0M453.6 110.5h0M448.8 175.3h0M449.1 150.7h0M445.7 151.2h0M455.5 127.8h0M452.7 131.5h0M450.2 165.7h0M452.7 165.8h0M453.6 160.6h0M447.7 129.2h0M453.7 147.4h0M445.4 151.7h0M454.8 147.9h0M451.4 114.1h0M451 127.5h0M448.8 182h0M450 114.7h0M445.6 207.1h0M447.6 129.6h0M453.6 148.9h0M451.5 159h0M450.9 120.5h0M448.8 180.4h0M455.6 97.2h0M455.5 152.6h0M448.9 164.6h0M455.2 115.3h0M451.4 181.9h0M448.5 97.1h0M446.3 143.2h0M450.3 148.8h0M450.9 118.2h0M454.6 203.5h0M448.5 188.7h0M450.4 121.5h0M447.5 201.4h0M454.3 103.5h0M450.7 96.3h0M451.4 207.1h0M448.5 96h0M452.5 180.5h0M450.2 104.8h0M447 149.8h0M448.6 109.9h0M455.4 140.5h0M454.8 132.3h0M450.3 97.3h0M445.9 112.1h0M452.7 128.1h0M448.4 164.2h0M452.8 177.9h0M452.6 193.6h0M453.6 105.2h0M454.6 203.8h0M446.6 169.9h0M450.5 193.8h0M455.1 178.1h0M445.6 119.3h0M454.7 201.8h0M450.2 104.8h0M451.8 192.8h0M455.9 154.5h0M449.2 98.3h0M455.5 112.8h0M448.1 161.6h0M455 194h0M455.4 150h0M452.6 119.6h0M447.7 208.2h0M454.1 175.1h0M448.1 193.6h0M446.5 138.8h0M454.4 152.7h0M454.6 128.9h0M450.3 125.2h0M453.9 170.5h0M449.1 202.4h0M453.3 139.6h0M453.7 185.8h0M454.5 125.5h0M451.6 182.1h0M453 133.1h0M453.1 102.9h0M453.4 142.7h0M449.1 162h0M450.6 131.1h0M448 110.4h0M447.4 167.7h0M450.9 199.8h0M447.2 131.6h0M449.5 126.5h0M448.6 110.5h0M455.2 204.9h0M455.4 199h0M455.5 175.1h0M449.6 168h0M452.2 114.3h0M455.2 205h0M450 206h0M455.9 173h0M454.4 177.3h0M451.2 194.1h0M449 194.6h0M449.9 189.1h0M454.1 119.5h0M452 185.4h0M448.1 148.6h0M452.4 191h0M454 171.4h0M453.7 98.1h0M446.8 192.3h0M454.5 100.4h0M451 124.8h0M447.3 201h0M445.9 151.4h0M454.4 194.5h0M453.7 144.8h0M453.9 112.2h0M453 187.2h0M448.5 98.8h0M454.1 170.5h0M452.6 151.1h0M451.5 147h0M447.4 127.4h0M451.2 194.3h0M448.4 131.6h0M450.8 133.4h0M450.1 113h0M449.4 135h0M445.8 136.7h0M448.5 195.9h0M455.3 180.2h0M449 138.4h0M455.3 172.1h0M452.2 155.8h0M448.6 107.3h0M452.2 146.8h0M453.1 138.5h0M447.9 190.5h0M446.4 155h0M451.4 131.5h0M447.3 189.4h0M452.3 186.2h0M446 188.8h0M446.8 153.9h0M452.5 183.3h0M455.8 121.3h0M449.4 197.2h0M453.5 119.7h0M454.4 133.6h0M454.3 126.7h0M451.5 135.3h0M451.9 130.9h0M449.1 101.7h0M451.6 135.3h0M450.5 186.4h0M446.9 203.5h0M449.5 178.6h0M448.8 119.2h0M450.5 137.7h0M453.7 150.9h0M449.5 185.4h0M451.6 182.7h0M454.1 98.9h0M452.1 195.8h0M454.9 152.7h0M451.5 206.7h0M450.8 101.3h0M450.2 118.1h0M447.6 163.6h0M450.5 102.4h0M450.9 172.6h0M455.9 188h0M448.9 205.9h0M451.4 146.2h0M455.3 119.9h0M455.5 182.5h0M450.6 139h0M446.4 154.4h0M452.3 124.4h0M446 200.6h0M450.7 133.2h0M448.1 141.7h0M448.6 114.6h0M448.3 101.5h0M454.6 102.2h0M450.6 168.6h0M452.5 131.7h0M454.2 134h0M447.8 191.4h0M449.2 153.9h0M447.8 207.1h0M447.7 99.4h0M451.9 202.4h0M450.5 178.6h0M449.8 175.4h0M452.2 154.9h0M455.3 185.5h0M454 167.8h0M447.5 113.4h0M446 199h0M447.9 147.4h0M448.5 157.1h0M446.4 198.2h0M455.4 189.1h0M453.8 141.2h0M447.7 165.4h0M446.6 154.3h0M446.1 130.2h0M454.7 115.6h0M454.5 153h0M448.6 147.4h0M449.1 150.7h0M445.7 206.1h0M447.6 117.6h0M449.4 152.9h0M451.8 108.8h0M451.1 195.6h0M450.6 133.6h0M445.8 123.1h0M449.4 129.6h0M449.6 183.5h0M446.6 194.6h0M447.2 130.7h0M447.1 184.8h0M450.7 159.2h0M450.9 178.7h0M455.4 127.9h0M447 150.1h0M450.7 157.1h0M445.7 105.9h0M452.9 151.6h0M452.1 136h0M453 124.5h0M451 185.6h0M449.6 199.8h0M445.4 138.1h0M453.4 138h0M449.9 183h0M451.7 145.7h0M450.8 101.2h0M446.6 191.5h0M450.6 103.9h0M449.3 164.6h0M455.2 142.5h0M455.7 208.2h0M448.7 114.6h0M454.9 125.2h0M451.2 165.3h0M453.7 104.9h0M447.7 206.3h0M445.4 128.2h0M447.8 191.1h0M454.5 114.3h0M450 171.9h0M455.4 122.6h0M453.1 134.1h0M449.4 168h0M449.7 206h0M447.7 124.4h0M450.1 99h0M453 201.1h0M448.5 134.6h0M454 186.6h0M448 130.6h0M453.9 124.9h0M452.4 149.5h0M453.8 172.2h0M445.6 156.7h0M447.9 170.5h0M451.5 192.4h0M452.6 173.4h0M454 192.1h0M454 199.6h0M453.2 124h0M453.3 135.1h0M451.4 158.5h0M447.2 105.6h0M446.3 109.6h0M454.9 193.9h0M450.1 134.9h0M452.7 160.4h0M455.6 104.7h0M446.5 98.5h0M448.8 177.4h0M451.2 167.9h0M450.8 149.8h0M449.6 187.8h0M451.5 182.3h0M446.4 195.9h0M445.6 128.8h0M451.1 98.3h0M447.2 147h0M447.4 112.7h0M451.2 196.6h0M451.3 142.5h0M450.5 144.4h0M455.7 103.4h0M453 161.7h0M446.4 197.6h0M447.7 101.9h0M447.4 114.4h0M454.1 139.8h0M452.9 162.5h0M455.1 151.8h0M446.7 195.2h0M455.4 171.9h0M451.1 188.4h0M446.2 140.2h0M446.3 126h0M453.5 103h0M449.2 152.5h0M448.7 176h0M447.8 199.2h0M447.6 117.6h0M454.7 203.7h0M455.1 118h0M452.7 98.8h0M447.7 147.3h0M447.7 162.9h0M453.2 155h0M454.9 143h0M447.2 197h0M445.4 119h0M446.1 135.2h0M446.6 129.5h0M448 149.8h0M453.7 200.6h0M451 135.5h0M446 104.7h0M446.2 188.4h0M447.8 136.9h0M447.6 119h0M455.2 120.1h0M452.2 122.4h0M455.2 122.3h0M450.7 196.9h0M453 202.7h0M450.8 197.2h0M446.1 104h0M455.5 190.8h0M454.7 142.7h0M448.6 198.3h0M453.6 181.5h0M447.8 171.2h0M448.8 100.9h0M450.8 125.6h0M449.5 135.3h0M446.8 130.8h0M452.4 126.9h0M454.8 127h0M450.2 194.3h0M452.2 128.8h0M454 196.3h0M447.6 119.1h0M455.3 100.5h0M449.5 126.8h0M448.4 182.4h0M445.5 177.3h0M445.6 141.3h0M448.3 188.5h0M453.3 187.8h0M448.5 107.7h0M452.6 185.5h0M446.7 142.9h0M449 114.2h0M452.2 151.1h0M452.6 194.1h0M450.9 158.3h0M445.8 164.8h0M451.1 100h0M454.5 144.1h0M449 121.5h0M452.2 123.7h0M446.4 186.5h0M452.5 139h0M453.5 179.2h0M452.9 113.8h0M454.7 146.4h0M454.2 117.3h0M451.7 199.4h0M449 114.3h0M454.6 137h0M449.7 114.6h0M450.9 137.1h0M445.6 178h0M446.2 121.6h0M452.2 151.2h0M453 184.6h0M455.8 113.5h0M447.4 96.8h0M452.1 166.9h0M452.5 139.5h0M448.6 146.5h0M449.8 130.7h0M452.9 107.4h0M451.4 114.2h0M453.9 200.7h0M447.3 188.2h0M445.4 186.8h0M448.2 120.8h0M455.7 172.3h0M450.6 119.3h0M453 127.7h0M454.9 96.2h0M447.2 129.2h0M453 189.2h0M454.6 184.8h0M449.9 146.7h0M450.5 185.4h0M451.8 122.8h0M453.4 144.9h0M453.7 194.4h0M451.2 102.8h0M445.8 145.9h0M445.4 127.9h0M447.6 175.5h0M454.5 115.3h0M452.6 125.6h0M452 170.6h0M447.6 103.8h0M449.4 188.9h0M450.6 129.4h0M452.8 99h0M455.5 183.1h0M452.6 131h0M454.4 201.9h0M455.4 147.6h0M451.3 156.9h0M447.3 160.6h0M450.6 139.6h0M451.2 184.7h0M455.6 134.4h0M447.2 104h0M455.7 134.7h0M449.5 148.2h0M447.8 188.8h0M446.1 186.2h0M455.3 162.7h0M447.9 163.8h0M453.8 119.3h0M455.2 125.3h0M446.4 144h0M453.1 178.1h0M445.4 171.4h0M450.5 137.2h0M446.3 199.3h0M449 144.1h0M450.1 166.3h0M450.4 131.3h0M445.7 157h0M448 131.5h0M449.1 126.6h0M449.2 126.4h0M447.8 173h0M446.1 203.6h0M453 128.6h0M448.5 169.5h0M452.9 127.3h0M453.8 137.9h0M446.9 198.5h0M447.8 217.5h0M454.8 216.1h0M454.6 217h0M448.3 213.3h0M449.1 215.8h0M448 215.6h0M470.9 123.8h0M475.8 101.7h0M469.8 96.7h0M476.2 112.2h0M471.5 117.3h0M470.2 82.9h0M470.1 110.5h0M475 90.7h0M477 100.7h0M475.2 86.6h0M471.8 103.4h0M479.6 131.7h0M472.4 134.9h0M477.1 80.2h0M473.4 147.8h0M478.2 140.6h0M476 143.6h0M475.2 145.5h0M475.6 146.8h0M469.8 145.9h0M479.3 142.8h0M477 142.8h0M479.6 143.4h0M472.7 137.9h0M478.9 139h0M471.7 148.7h0M472.3 140.4h0M477.2 144.3h0M478.5 140.1h0M475 142.4h0M474.5 141.4h0M470.1 137.4h0M472.8 148.6h0M480.1 141.2h0M470.7 140.7h0M473.9 147.4h0M472.9 144.8h0M472 138.5h0M475.4 146.2h0M477.4 145h0M476.9 143.9h0M471.7 139.3h0M478.6 142.2h0M478 139.7h0M477.5 198.9h0M471.1 155.5h0M472 197.8h0M475.9 150.4h0M478.4 191.1h0M476 192.1h0M479.5 170.8h0M474.5 165.2h0M475.8 155.7h0M475.2 190.5h0M470.2 171.6h0M470.2 187.3h0M476.2 194.8h0M476.7 201.1h0M472.7 195h0M475.9 205.8h0M473.8 182.1h0M476.4 199.9h0M476.2 182.4h0M480.2 196.5h0M479.9 160.9h0M474.3 166.1h0M478.3 193.4h0M473 169.6h0M474.8 181h0M472.9 173.3h0M479.6 149.7h0M479.4 170.1h0M470.9 186.9h0M473.7 159.8h0M470.8 160.9h0M474.9 195.3h0M475.2 158.2h0M478.6 190.1h0M471.9 175.3h0M476 151.3h0M480.2 180.9h0M470.3 164h0M477.1 181h0M472.6 163.2h0M478.7 160.4h0M472.6 183.7h0M472.4 170.7h0M478.5 150.4h0M473 195.4h0M479.6 169.8h0M477.1 164.9h0M472.9 204.3h0M473.1 196.4h0M471.2 208.2h0M477.1 159.6h0M474.5 169.8h0M471.4 200.8h0M476.2 162.6h0M474.5 163.2h0M476.4 162.2h0M470.2 188.5h0M479.6 196.6h0M478 167.1h0M479.2 167.6h0M477.2 206.7h0M473.4 173.8h0M479 160.2h0M477.2 205.3h0M473.2 204.4h0M474.8 154h0M476 209.3h0M476.6 199.6h0M474.9 173.9h0M473.8 163.6h0M479.5 207h0M477.2 186h0M476.5 168.6h0M470.5 203.5h0M471.5 207.9h0M469.9 151.8h0M477.5 173.4h0M479.7 163.6h0M471.2 195.3h0M472 196.1h0M470.2 192h0M473.4 197.3h0M470.4 190.6h0M473.8 179.2h0M474.2 157.8h0M470.1 207.7h0M473.3 207.1h0M478.3 197.6h0M476.2 184.2h0M474.4 207.6h0M474.8 197.8h0M480.3 168.6h0M479.8 157.5h0M471.6 193.9h0M470.1 202.7h0M479.9 192.5h0M479.4 195.1h0M477.4 191.1h0M479.5 203.8h0M471.5 171.2h0M470.8 171.9h0M474.3 203.6h0M470.9 208h0M476.1 176.6h0M477.2 171.4h0M470 165h0M475.4 202.6h0M478 168.7h0M472.9 155.2h0M478.8 178.8h0M474.6 184.4h0M479.6 186.8h0M471.7 171.6h0M471.1 181.5h0M476.7 163.8h0M471.6 176.2h0M480 149.1h0M476.4 199.9h0M474.8 182.7h0M480.2 207.5h0M476.6 206.2h0M479.5 188.7h0M474.9 163h0M473.1 183.3h0M475.9 184.6h0M474.6 204.8h0M475.5 173.6h0M470 149.2h0M479 150.7h0M477.7 201.4h0M476.2 164.7h0M475.4 158.1h0M476.9 180.8h0M479.5 156.3h0M480.3 184.6h0M477.4 154.6h0M480.2 198.4h0M473.2 163.3h0M477.1 202.9h0M476.1 155.7h0M478.2 167h0M477.4 155.4h0M471.4 173.2h0M478.2 164.3h0M479.9 206.2h0M479.1 151.4h0M473.8 186.9h0M477.3 151.3h0M472 181.4h0M470.5 181.3h0M478.7 206h0M480.2 193.3h0M474.8 159.8h0M479.3 206.7h0M470.9 187.7h0M475.6 178.9h0M472.7 181.5h0M472.9 162.4h0M479.9 163.9h0M471.9 159.2h0M471.1 208.3h0M473.9 151h0M476.7 182.6h0M479.4 201.4h0M478.2 149.9h0M476.2 162.3h0M471 198.8h0M479.6 181.8h0M476.5 173.7h0M473.6 195.3h0M477.1 155.5h0M479.5 150.3h0M475.6 178.1h0M475.4 157.6h0M476.6 175.6h0M472.7 154.6h0M477.9 181.7h0M470 189h0M473.9 205.8h0M480.1 187.5h0M473.5 199.5h0M475.1 164.4h0M471.1 179.2h0M478.6 185.9h0M476.2 159.8h0M472 181.5h0M471.2 200.7h0M470.5 196.1h0M472.6 202.8h0M476.7 191.1h0M477.9 189.7h0M474.4 165.4h0M477.2 184.8h0M473.5 173.7h0M470.7 186.8h0M473.9 181.6h0M473.2 190.3h0M477.1 152.4h0M470.5 168.3h0M479.8 151.6h0M471.2 179.4h0M475.6 152.9h0M470.2 175.2h0M475.1 181.8h0M470.9 184h0M476.3 149.4h0M475.1 149.1h0M478.9 172.5h0M471.3 181h0M478.4 157.8h0M476 162.9h0M472.9 170.2h0M476.3 171.2h0M473.3 170.8h0M478.7 170.7h0M477.8 208h0M473.7 195h0M476.8 193h0M472.3 208.7h0M475.1 149.1h0M473.1 191.7h0M471.8 207.7h0M478.7 187.8h0M473.8 208.5h0M471.2 193.1h0M471.1 179.2h0M475.4 195.9h0M480 152.5h0M478.8 178.8h0M475.9 204.4h0M476.9 175.5h0M471.6 179.1h0M477.8 149.1h0M477.3 204.4h0M478.6 181.2h0M472.7 169h0M479.1 196.4h0M475.3 182.7h0M473.8 186.1h0M470.4 174.7h0M478.2 184.5h0M477.1 170.3h0M477 193.2h0M474.4 159.5h0M479.1 185.4h0M470.8 150.3h0M478.1 160.6h0M475.4 158.5h0M477 167.3h0M472.6 174.8h0M479.2 181.1h0M475.4 201.1h0M479.5 192.3h0M476.2 191.8h0M470.9 195.5h0M472.5 183.5h0M470.6 179.2h0M475.2 166.3h0M480.1 198.2h0M476.3 207.9h0M473.8 197.9h0M473 156.3h0M475.7 189.8h0M472 155.8h0M479.7 190.5h0M475.2 175.9h0M477.5 203.1h0M475.5 189.7h0M473.2 198.4h0M478.3 152.2h0M470.8 190h0M474.6 205.8h0M470.5 176.6h0M478.3 158h0M475.7 191.7h0M473.5 181h0M480.1 196.6h0M472.5 154.3h0M477 195.7h0M471.1 196.3h0M474.7 173.7h0M475.7 150.4h0M475 159h0M470.7 195.3h0M477.6 205.6h0M470.7 170.9h0M474.3 190.5h0M474.7 209.2h0M473.3 186.1h0M474 157.9h0M475.1 162.3h0M477.4 164.1h0M476.9 200.8h0M470.3 166.2h0M473.9 194.4h0M471 208h0M478.8 186.2h0M473.9 167.7h0M469.9 164.7h0M473.9 207.1h0M469.7 198.9h0M474.9 203.4h0M472.9 199.2h0M474.6 163.1h0M473.2 173.8h0M470 159.7h0M471.2 150.2h0M478.5 161.4h0M475.6 189.1h0M473 153.4h0M479.2 206.4h0M473.5 203.2h0M472.4 188.2h0M475.4 187.8h0M470.3 184.5h0M472.7 163h0M473 180.3h0M475 171.7h0M473.5 183h0M475.8 169.9h0M477.5 186.8h0M471 187h0M476.5 170.4h0M479.3 192h0M476 193.2h0M472.6 185.9h0M473.6 183.7h0M472 169.1h0M480 206.8h0M475.2 167.5h0M478.5 153.1h0M478.7 165.2h0M475.1 163.1h0M476 190.7h0M477.5 203.7h0M473.8 178h0M474.5 172.9h0M470 198.9h0M477.1 167.3h0M478.2 155.6h0M479.1 170.3h0M477.9 163.3h0M473.2 200.8h0M477.9 183.1h0M475.8 205.9h0M479.1 203h0M471.9 207.6h0M476.2 176.6h0M470.8 185.9h0M479.5 183.7h0M471.6 181.6h0M479.3 167.6h0M470.6 174.3h0M475.8 166.2h0M474.9 158.9h0M476.7 178.2h0M471.7 165.8h0M471.6 177.1h0M473.9 182.8h0M471.7 200.4h0M472.7 181h0M471.1 157.3h0M475.2 182.8h0M476.9 186.4h0M480 153.6h0M472.5 205.6h0M478.1 159.2h0M476.5 154.1h0M479.9 167.7h0M474.9 157.1h0M471.1 156.6h0M478 192.3h0M480.2 158.4h0M472.8 158.1h0M472.4 164h0M469.8 185.1h0M478.3 197.7h0M476.6 206.7h0M472.8 157h0M479.6 156.9h0M477.3 185.6h0M477.7 195.3h0M471.6 207.5h0M474.7 171.1h0M475 185.9h0M473 164.1h0M470.5 189.7h0M470.6 198.9h0M479 174.7h0M475.2 160.2h0M470.9 161.6h0M479.2 186h0M479.4 173.8h0M476.9 168.6h0M471.6 201.5h0M472.7 193.1h0M471.2 172.9h0M472.8 203.2h0M478.7 173.1h0M475.8 173.6h0M478.1 184.5h0M479.1 176.1h0M480.2 162.8h0M478.3 149.7h0M479 180.3h0M470.7 158.6h0M474.1 195.6h0M478.7 165.7h0M471.9 185.2h0M476.1 183.9h0M475.2 151.9h0M471.7 185.1h0M473.7 203.2h0M473.1 182.8h0M480.1 175.1h0M474.6 172h0M474 164.5h0M479.9 166.2h0M471.2 205.5h0M479.2 195.6h0M479.7 189.4h0M479.4 165.4h0M476.9 196.2h0M477.4 176.9h0M471.6 206.1h0M476.5 150.6h0M479.2 152.9h0M480.3 200.5h0M474.3 157h0M477.1 152.8h0M470.9 156h0M471.4 161.4h0M479.5 201.6h0M477.1 191.3h0M471.9 175.1h0M470.6 160.6h0M472.7 154.4h0M470.4 182.4h0M475 183h0M470.5 167.4h0M478.7 173.4h0M477.2 193.6h0M471.5 167.2h0M470.6 195.5h0M473.5 176.9h0M470.2 160.6h0M475.8 167.3h0M478.3 179.2h0M479.9 187.6h0M472.9 162.6h0M471.2 170.2h0M475 165.9h0M472.8 172.5h0M477.4 195.9h0M475.5 204.7h0M476 184.2h0M473.2 204.8h0M475.1 200.5h0M478 195.4h0M476 166.6h0M471.4 176.3h0M479.8 172.1h0M471.1 169.4h0M474.7 190.5h0M471.1 185.9h0M474.5 180.6h0M474.7 183.6h0M480.2 182.4h0M470.3 155.9h0M471 170.1h0M477.6 151h0M469.8 199.5h0M471.9 160.3h0M480.2 172h0M473.8 153.7h0M471.8 180.9h0M477.2 169.4h0M478.1 190.2h0M473.2 191.2h0M469.9 157.2h0M478.1 217.5h0M476.1 218h0M470.2 214.4h0M470.9 214.9h0M501.8 92h0M499.4 92h0M495.5 88.7h0M496.9 89.8h0M496.6 88.1h0M498.3 87.6h0M499.6 91.4h0M496.8 90.3h0M499.7 87.5h0M498.5 85.5h0M495.7 93.2h0M501.3 100.7h0M501.7 106.8h0M496.4 94.9h0M495.5 115.2h0M500 96.9h0M503.4 103.9h0M500.3 113.5h0M498.8 103.6h0M495.3 116.7h0M502.2 104.4h0M495.1 109h0M503.9 112.4h0M495.9 110.8h0M495.6 114.5h0M501.5 93.1h0M502.4 109.5h0M494.8 105.6h0M501 93.6h0M497.8 111.2h0M498.1 111.3h0M501.4 103.8h0M501 109.4h0M501.4 96.1h0M502.1 111.7h0M500.4 108h0M504.7 98.6h0M496.8 116.3h0M502.1 108.7h0M497.2 104.2h0M495.8 101.3h0M499.6 112.2h0M496.4 117h0M501 116.6h0M495.2 106.1h0M499.4 94.3h0M500.8 95.7h0M503.9 98.4h0M494.6 108.4h0M501.3 113.6h0M498.1 98h0M503.6 109.1h0M502.7 102.4h0M504.2 115.6h0M502.8 107.7h0M501.7 94.5h0M497.8 113.4h0M497.8 113.3h0M497.6 113h0M500.7 106.2h0M495 95.6h0M498.7 101.2h0M504.3 108.2h0M495.4 115.6h0M495.3 109.9h0M495.2 94.3h0M501.6 114.5h0M500.2 105.3h0M495.2 107.9h0M503.7 104.3h0M501.6 93.5h0M499.8 94.5h0M494.9 97h0M498.6 94.2h0M495.6 116.3h0M497.3 103.4h0M496.4 101.6h0M504.5 102.3h0M502.9 96.1h0M499 112h0M499.9 109.5h0M494.7 116.8h0M502.8 111.1h0M504.4 108.6h0M500.6 94h0M494.9 110.8h0M502.8 105.7h0M498.1 109h0M503.8 112.6h0M496.7 98.3h0M502.1 112.7h0M504.6 103.1h0M500.4 116.4h0M495 101.9h0M498.3 93h0M495 103.2h0M503.3 98.1h0M497.9 110.8h0M504 95.3h0M502.2 114.7h0M501.3 160h0M500 134h0M497.5 117.1h0M495.3 128.7h0M498.8 162.7h0M502.4 137h0M501.2 157.3h0M496.1 173.9h0M494.9 145.3h0M502.1 163.3h0M497.7 119h0M502.8 121.5h0M496.7 155.2h0M504 161.1h0M498.2 172.1h0M498 118.5h0M501.6 133.6h0M503.1 137.9h0M503.6 134.6h0M499.8 175.5h0M502.5 119.2h0M495.5 170.9h0M495.1 162.9h0M497.2 137.1h0M500.9 126.9h0M499.4 179.1h0M496.9 176.4h0M497.1 125.1h0M497.6 168.6h0M503.3 138.9h0M498.3 155.3h0M495.6 171.9h0M500.6 129.7h0M501.4 148.1h0M501.4 168.3h0M501.8 128h0M495.1 131.8h0M498.2 135.7h0M495.3 148.8h0M498.1 156.9h0M499.2 179.3h0M502.7 169.4h0M501.1 155.1h0M503.7 122.4h0M503.9 177.9h0M496.4 122.1h0M496 136.9h0M495.1 133.1h0M503.3 153.9h0M503 138.1h0M500.2 171.6h0M496.8 171.4h0M500.9 155.5h0M504.6 117.2h0M499.6 133.4h0M499.2 166.8h0M504.6 124.9h0M499.3 171.8h0M494.2 137.4h0M504.5 136.7h0M495.7 164.6h0M495 157.9h0M504.2 148h0M499.4 118.7h0M495.1 178h0M502.6 145.3h0M499.8 170.1h0M499.8 153.4h0M504.5 159.4h0M496.5 158.6h0M499.3 131.6h0M502.5 159.1h0M496.1 134.2h0M502.2 122.7h0M494.2 118.9h0M502.6 144.8h0M496.9 178.8h0M495.3 139.1h0M496.2 125.4h0M501.6 167h0M502.3 161.1h0M504.4 129.7h0M496.9 150.5h0M496.7 167.7h0M502.2 118.1h0M504.6 125.1h0M497.7 170h0M500.4 177.9h0M497.1 151.3h0M500.6 173.7h0M497.4 135.3h0M497.6 135.8h0M500.2 176h0M502 156.5h0M500.5 120.9h0M495 166.3h0M499.3 175.7h0M504.4 118.1h0M502.9 142.7h0M494.5 178.7h0M499.3 134.2h0M501.6 135.8h0M499.2 139.9h0M502.3 142.9h0M498.2 151.1h0M498.8 171.9h0M495.5 179.5h0M501.5 122.9h0M494.6 173h0M501.8 138.5h0M500 162.4h0M503.3 160.3h0M498.1 153.5h0M497.6 130h0M503.2 168.5h0M496.6 139.8h0M494.7 178.6h0M498.4 141.5h0M494.5 161h0M494.5 159.9h0M498.8 130h0M496.1 165.2h0M494.4 158.2h0M497.4 126.8h0M502.7 121.8h0M502.9 153.2h0M500 146.5h0M504 118.8h0M500.9 136.8h0M498.4 170.5h0M502.2 138.7h0M503.7 167.7h0M497.7 142.5h0M500.4 148.8h0M502.9 159.4h0M496.8 156.7h0M502.3 165.8h0M495.2 169.7h0M503.1 142.3h0M495.8 141.7h0M501.6 119.4h0M497.8 118.9h0M495.9 145.9h0M501.9 145.8h0M497.5 121.5h0M500.7 159.1h0M497.1 152.5h0M504 139.4h0M497.2 147.4h0M495.3 146.7h0M504.1 153h0M494.1 158h0M496.2 170.1h0M497 119.3h0M494.1 150.5h0M498.4 179.4h0M501.3 117.6h0M494.3 178.6h0M495.3 127h0M498.1 140h0M504.3 118.9h0M497.1 165.3h0M499.2 156.7h0M496.6 167.4h0M501.9 177.2h0M500.1 156.4h0M494.3 158h0M499.3 173.1h0M497.9 129.5h0M502.4 162.5h0M498.2 130.6h0M494.8 179.3h0M504.2 141.8h0M499.6 162.5h0M494.8 145.3h0M497.7 164.4h0M504.4 121.7h0M499.1 122.5h0M499.8 160.8h0M501.9 141.9h0M501.5 132.4h0M504.3 143.4h0M496.5 170.8h0M498.8 173.2h0M495.7 138.5h0M494.5 128h0M498.2 130.9h0M503.7 160.1h0M504.3 160.5h0M503.3 176.6h0M494.6 135.2h0M498 154.3h0M494.4 178.8h0M497.1 176.6h0M501.8 159.8h0M502.3 147.2h0M495.4 169.9h0M504.5 168.4h0M500.4 168.9h0M495.1 154.7h0M497.2 152.3h0M504 131.7h0M496.2 133.3h0M499.8 171.1h0M495.9 172.2h0M498.5 173.8h0M500.6 172.8h0M497.9 138.4h0M500 124h0M503.7 121.6h0M497.5 133.2h0M499.2 141.3h0M494.9 175.3h0M499.8 139.2h0M503.4 149.5h0M501.2 151h0M498.1 159.1h0M496.3 144.9h0M504.3 124.2h0M495.3 159.5h0M498.4 170.2h0M502.5 143.1h0M501.3 135.7h0M501.2 166.3h0M495.4 127.5h0M500.6 164.4h0M504 139.9h0M504.6 151.8h0M502.9 128.6h0M495.9 179h0M499.1 129.7h0M500.3 137.1h0M494.5 123.7h0M495.3 123h0M502.5 138.5h0M495.8 153.7h0M504.5 154.6h0M495.5 177.6h0M495 160.9h0M497.5 171.4h0M503.8 156.8h0M497.5 145.3h0M501.2 120.6h0M501.3 159.3h0M497.7 122.3h0M495.8 134.3h0M496.5 124h0M503.3 171.2h0M497.5 155.4h0M503.7 137.7h0M495.3 125.7h0M497 176.6h0M497.2 177.1h0M497.5 123.3h0M503.2 171.2h0M499.7 155.4h0M497.8 144.7h0M498.3 176.1h0M500.3 123.8h0M497.5 140.6h0M501.2 176.5h0M503.9 146.2h0M496 128.6h0M495.3 178.3h0M497.1 163.7h0M504.1 123.6h0M497.5 162.3h0M501.7 130.2h0M497.2 164.4h0M497.8 119.4h0M497.3 151.4h0M499.1 165.4h0M499.9 130.7h0M501.6 125.7h0M496.6 178.4h0M500.2 128.1h0M495.3 132.3h0M496.1 148.7h0M499.5 159.9h0M503.7 131h0M502.5 151.3h0M496.8 166.5h0M497.2 131h0M501.9 149.2h0M496.9 124.7h0M502.6 118h0M500.4 175.6h0M498.7 153.9h0M498.1 137.6h0M496.6 117h0M497.7 147.1h0M495.7 155.8h0M504 141.3h0M504.6 130.8h0M504.4 117.1h0M503.8 178.1h0M504.5 179.8h0M502.7 148.6h0M502.8 128.4h0M503.2 127.7h0M501.4 165.4h0M497.6 165.9h0M503.9 168h0M501.3 157.2h0M498.4 131.8h0M500.3 161.9h0M495.5 151.6h0M499.2 117.9h0M504.6 168.8h0M504.5 125.9h0M504.4 134.7h0M502.6 143.1h0M500.9 152.9h0M495.5 121.2h0M494.7 174.1h0M504.2 155.7h0M500.2 157.2h0M502.5 161.5h0M495.3 135.4h0M500.8 136.4h0M497.8 130.6h0M497.7 146.3h0M504 157.8h0M502.6 150.8h0M503.6 131.7h0M495.3 171.1h0M498.5 118h0M494.2 132.7h0M502.8 127.3h0M500.9 147.9h0M495.2 148.3h0M504 179h0M504.3 145.2h0M498.5 159.4h0M504.6 124.4h0M498.5 119.4h0M501.8 137.4h0M494.7 141.2h0M494.4 141.6h0M504 154h0M504.3 158.9h0M500 152.6h0M494.3 153h0M499.1 136.8h0M503.6 151h0M497.7 161.5h0M500.6 179.1h0M499.6 121.6h0M498.3 135.6h0M503 155.5h0M504.1 162.6h0M495.3 153h0M503.4 153.9h0M504.4 137.9h0M500.6 121.4h0M500.3 131.2h0M499.7 132h0M503.9 128.8h0M499.5 175h0M499.9 127.7h0M503.9 129.8h0M495.4 170.1h0M500.9 126.2h0M495.4 133.1h0M494.5 127.9h0M495.6 171.5h0M497.1 121.5h0M502.4 118.7h0M499.8 165.1h0M503.9 178.9h0M495.8 153.6h0M494.2 164.2h0M502.4 177.2h0M495.4 159.5h0M502.4 167.8h0M498.7 176.3h0M503.4 140.5h0M501.2 143.7h0M496.3 164.4h0M502.7 152.6h0M496.7 178.9h0M499 138.3h0M494.1 127.4h0M502 158.6h0M495.5 143.3h0M495.4 142.5h0M494.8 156.4h0M494.7 134.3h0M503.8 148.6h0M495.4 160.1h0M501.2 125.6h0M500.4 122.5h0M495.2 119.3h0M498.3 172.6h0M494.6 137.2h0M500 163h0M495.1 162h0M497.5 141.1h0M498.7 117.5h0M499.4 150.2h0M498.9 162.4h0M496 146.7h0M496.5 142.5h0M501 144.1h0M496.5 147.2h0M495.5 164.4h0M503.5 169.5h0M496 129.8h0M494.5 152.2h0M499.3 149.2h0M496.1 166.6h0M494.9 164.2h0M498.6 149.7h0M499.2 140.5h0M501.6 138.2h0M494.1 159.1h0M497.3 143.8h0M502.9 158.4h0M503.6 166.2h0M499.9 175.3h0M501.6 180.8h0M503.8 215.3h0M495.4 197.2h0M495.7 199.8h0M496 191.8h0M504.3 213.7h0M500.3 213h0M503.8 215.2h0M498.1 196.9h0M496.1 191.9h0M497.5 212.6h0M503.2 196.3h0M494.5 203.7h0M495.1 204.8h0M496.7 200h0M500.1 211.1h0M502.1 198.1h0M498.5 216.2h0M495.7 207.9h0M494.9 218h0M518.8 53.4h0M523.1 51.4h0M525.3 37h0M522.4 55.5h0M524.1 37.9h0M528.8 36.5h0M523.6 48.3h0M522.4 36.7h0M519.9 35.2h0M521.7 45.3h0M525.7 93.4h0M528.5 59.5h0M524.3 105.2h0M528.6 59h0M521.1 85.8h0M523.6 111h0M519.6 72.1h0M527.1 124.8h0M525.7 132.1h0M528.2 90h0M523.3 61.5h0M524.2 124h0M526.7 118.6h0M528.7 79.1h0M526.6 58.5h0M519.7 56.9h0M520.5 58.9h0M522.9 100.1h0M528.1 100.6h0M519.2 82.2h0M528.9 126.7h0M528.1 131.8h0M519.6 98.8h0M528.6 128.7h0M520.4 84.2h0M522.8 60.2h0M522.2 74.1h0M527 83.1h0M520.3 88.2h0M523.6 102.7h0M523.5 61.9h0M521.2 78.9h0M529.1 126.5h0M528 94.5h0M527.7 89.1h0M521.7 96h0M528 80.8h0M528.4 124.1h0M521.1 128.5h0M525.8 58.3h0M522 102.1h0M526.2 75.3h0M520.1 116.9h0M521.9 81.7h0M526.6 78h0M522.1 57.4h0M519.2 118.3h0M528.8 89.9h0M526 132.5h0M525.1 117.4h0M518.8 88.2h0M518.5 94.1h0M524 63.2h0M522.7 126.4h0M519.9 96.2h0M528.1 104.3h0M519.1 133.2h0M523.4 74.7h0M528.2 93.2h0M524.8 112.6h0M525.6 69.7h0M525.8 95.2h0M522.6 56h0M522.8 81.5h0M526.9 95.8h0M520.7 97.3h0M524.6 94h0M524.7 59.8h0M525.3 100.1h0M526.5 108.8h0M521.9 62.8h0M525.2 77.3h0M522.4 125.8h0M518.7 117.4h0M524.2 75.8h0M526.3 126.4h0M528.7 126.1h0M528.4 77.1h0M524.6 68.6h0M519.7 71.9h0M525.9 81.2h0M520.2 110.3h0M528.7 83.5h0M527.2 102.7h0M519.7 134.5h0M527.2 60h0M521.8 119.9h0M525.9 119.5h0M525.8 82.3h0M523.9 117.8h0M520.6 98.3h0M519.2 61.9h0M529 118.4h0M527.7 119.6h0M519.6 92.6h0M524.2 127.8h0M526.1 102.1h0M528.4 74.2h0M525 100.2h0M524.5 83h0M520.3 130.7h0M525.9 73.1h0M523.7 111.7h0M524.1 115.2h0M521.8 72.2h0M522.4 80.6h0M528.1 68h0M520.6 82.9h0M523.5 65.3h0M523.2 61.4h0M523.5 67.1h0M521.1 66.3h0M519 131.2h0M527.2 95.8h0M520 115.9h0M524.5 80.1h0M528.2 113.4h0M520 98.3h0M524.6 58.7h0M521.2 124.7h0M526.5 110.5h0M520.6 56.2h0M520.9 94.5h0M525.4 64.3h0M525 67.7h0M518.9 134.1h0M519.6 75.4h0M526.8 93.3h0M521.8 115.6h0M524.3 81.4h0M519.3 98.4h0M527 127.5h0M519.4 113.9h0M520 99.5h0M520.4 128.9h0M524 63.9h0M523.2 94.7h0M524.4 113.2h0M527.8 89.1h0M524.1 72.4h0M526.9 61.4h0M524.5 71.8h0M519.4 111.1h0M523.8 62.9h0M520.6 103.7h0M528.5 82.6h0M520.3 106.8h0M521.3 104.1h0M518.6 58.6h0M528.7 118.9h0M526.3 74.5h0M520.2 116.2h0M527.9 131.4h0M521 59.8h0M522.6 113.1h0M518.8 66.3h0M528.5 126.1h0M526.4 91.2h0M529 108.6h0M523.6 79.3h0M528.4 103.7h0M526.8 128h0M522.1 97.7h0M526.4 132.9h0M521.5 131.8h0M523.3 92.5h0M527.9 89.1h0M526.3 94.3h0M528.1 95.9h0M521.7 121.3h0M527.6 134.4h0M525.7 118.6h0M520 90.4h0M522.3 63.9h0M527.8 105.3h0M525.9 85.8h0M528.1 102.8h0M518.6 128.1h0M521.6 113.9h0M519.2 130h0M518.9 85.3h0M519 104.3h0M524.7 62.6h0M518.6 68h0M527.4 124.9h0M527.5 95.2h0M527.8 102.1h0M518.9 64.2h0M521.7 109.4h0M526.4 100.9h0M521.6 96.1h0M522.6 130.5h0M524 91.2h0M524.2 58.8h0M520.3 104.2h0M523.3 111.1h0M522.5 130.2h0M528.3 62.7h0M528.7 78.1h0M522.2 108h0M527 95.4h0M519.9 124.8h0M519.5 79.1h0M521.4 96.5h0M525.5 78h0M520.7 132.2h0M523 97.2h0M522 100.6h0M521.6 70.3h0M523.7 127.9h0M518.7 130.7h0M528.3 70.9h0M524.7 64.7h0M519.9 69.8h0M527.7 93.4h0M518.7 100.1h0M529 72.7h0M524 117.6h0M521.9 81.4h0M520.9 58.8h0M522.4 122.5h0M528.6 122.9h0M521.6 109.4h0M519.8 90.3h0M522.2 74.2h0M527.6 59.1h0M522.2 95.3h0M523.3 105.1h0M522.6 81h0M521.7 90.8h0M523.4 84.9h0M527.1 123.5h0M523.5 123.8h0M519.1 130.8h0M525.6 122.4h0M527.5 58.1h0M524.9 81.8h0M525.4 60.4h0M522.2 107.8h0M526.9 82.2h0M518.5 127.7h0M524.1 79.4h0M522 80.8h0M527.5 100.3h0M522.6 119.2h0M528.9 124.5h0M520.4 67.4h0M519.5 132.5h0M529.1 76h0M520.6 120.1h0M529 88h0M526.7 75.8h0M523 75.9h0M525.5 129.7h0M528.7 89.6h0M528.5 126.4h0M519.8 97.3h0M520.4 80.9h0M520.1 78.1h0M526.7 108.8h0M527.1 57.7h0M523.9 119.1h0M519.6 133.1h0M519.7 58.8h0M526.6 67.3h0M519.8 105.4h0M526.1 120.9h0M521.4 101.1h0M528.9 86.2h0M519.1 103.6h0M524.5 90.1h0M524.2 110.2h0M525.7 72.8h0M525.6 95.5h0M528.1 133.4h0M526.6 81h0M522.2 72.5h0M526.8 60.5h0M527.3 73.4h0M527.2 103.2h0M520.4 110.4h0M527.1 113.7h0M526.8 90.2h0M519.5 81.2h0M519.3 95.9h0M528.3 84.7h0M526.4 123.4h0M520.1 87.1h0M519.4 96.8h0M527 116.3h0M521.9 62.8h0M522.6 97.6h0M518.9 110.6h0M525.5 115.3h0M519.3 73.7h0M520.1 66.5h0M520.1 92.4h0M522.5 57h0M518.8 59.3h0M524.8 119.9h0M521.5 76.5h0M523 88.4h0M520.3 104.4h0M525.2 103.6h0M527.1 123.6h0M524.7 116.2h0M528 60.1h0M524.9 107.1h0M519.4 84.4h0M528.1 64.8h0M522.7 92.4h0M523.6 126.5h0M522.7 81.7h0M525 94.9h0M518.9 111.7h0M526 115.1h0M522.2 128.4h0M528.9 65.7h0M527.5 78.6h0M526.2 128.2h0M523.9 78.3h0M521.4 100.7h0M528.9 101.5h0M524.9 101.9h0M521.2 91.1h0M519.5 122.6h0M525 93.1h0M520.3 133.5h0M525.3 130.6h0M521.9 59.8h0M527.8 66.9h0M527.9 107.6h0M523.1 59.6h0M520 123.3h0M525 82.7h0M520.8 124h0M518.9 73.6h0M525.3 100.7h0M519.9 59.4h0M525.2 92.5h0M527.9 59.7h0M525.1 99.3h0M522.5 106.3h0M522.6 102.7h0M523.9 114h0M522.5 60.2h0M527.9 61h0M523.2 62.1h0M522.9 113.6h0M520.6 57.8h0M521.2 88.4h0M520.8 121h0M525.7 130.6h0M523 74.1h0M520.2 101.7h0M520 127h0M523.9 109.5h0M519.4 122h0M524.5 66.9h0M521.1 75.9h0M526.6 80.9h0M520 97.8h0M520.2 106.6h0M521.4 56.1h0M523.7 86.4h0M520.1 74.7h0M519.7 120.6h0M527 97.2h0M525.5 83.6h0M525.4 77.5h0M528.7 61.8h0M528.7 130h0M523.4 109.1h0M527 104.6h0M523.7 125.7h0M520.5 82.1h0M526 78.9h0M525 62.7h0M526.8 59.8h0M523.3 73.4h0M526.4 123.4h0M525.6 65.2h0M529 86.2h0M525 74.1h0M523.8 92.9h0M522.9 105.9h0M525.1 117.4h0M520.7 76h0M524.3 107.1h0M523.1 68.6h0M522.9 128.3h0M525.1 79.2h0M522.3 60.6h0M518.9 128.1h0M522.2 66.6h0M518.9 73.4h0M525 96.3h0M526.1 57.8h0M525.2 99h0M525.2 74.8h0M528 134.4h0M518.7 85.1h0M526.6 84.4h0M525 88.3h0M523.1 109.5h0M526.4 73.1h0M524 92.8h0M524.3 82.8h0M527.3 103.9h0M524.4 111.1h0M526.6 122.5h0M519.5 116.7h0M523.3 128.8h0M526.4 77h0M525.1 69.6h0M525.7 60.3h0M526.2 117.3h0M526.8 97.9h0M523.5 72.4h0M521.5 99.7h0M528.4 128.7h0M518.7 100.1h0M526.2 81.1h0M526.1 97.2h0M526.9 99.9h0M528.6 123.4h0M526.4 95h0M521.2 121h0M519.6 130.2h0M519.3 91.5h0M526.3 125.3h0M522.1 60.2h0M520.8 111.2h0M521.8 70.6h0M523.8 86.9h0M521.6 75.1h0M519 127.8h0M520.7 71.7h0M525.3 94.9h0M528.5 94.1h0M519.6 93.9h0M524.8 65.4h0M526.6 63.2h0M521.2 111.4h0M528.8 131.5h0M520 84.1h0M521.6 92.6h0M519.9 120h0M522.8 94.6h0M522.8 120.3h0M518.7 65.3h0M522.5 89.6h0M526.3 87.9h0M524.1 83.2h0M518.6 64.5h0M525.8 88.8h0M528.5 81.5h0M519.7 61.9h0M520.7 75.1h0M520.3 65.1h0M521.9 132.8h0M528 125.4h0M526.7 91h0M525.2 114.7h0M524.9 101.6h0M525.2 62h0M527.9 103.5h0M523.7 116.3h0M521.4 104.2h0M520.2 74.5h0M521.7 102.7h0M526.2 73.5h0M519.8 126.3h0M522.3 133.1h0M525.7 89.6h0M527.5 127.4h0M525 122.2h0M518.6 105.4h0M519.1 98.1h0M521.5 127.1h0M519.1 106.2h0M520.5 120.3h0M521.7 60.8h0M524.8 109.2h0M522.9 78.8h0M520.4 56.7h0M528.7 64.1h0M525.4 71.1h0M519.3 106.7h0M527 116.5h0M519.6 115.8h0M525.4 61h0M526.2 131.3h0M525.6 57.4h0M520.6 64.3h0M525.9 87.5h0M521.3 83.2h0M522.2 114.3h0M519.4 85.4h0M526.5 77.8h0M524 57.2h0M525.4 78.7h0M523.6 75.1h0M528.4 107.2h0M523.8 66.8h0M518.7 104.5h0M520.8 66.6h0M518.5 88.4h0M523.2 72.8h0M528.7 118.4h0M519.5 126.4h0M524.5 63.3h0M519.8 96.8h0M528.4 95.8h0M523.2 93.7h0M525.1 82.2h0M524.7 131.4h0M525.9 83.1h0M524.9 98.2h0M519.5 87.7h0M521.8 191.5h0M522.4 139.4h0M526 150.7h0M527.3 136.2h0M519.6 178.5h0M522.8 189.4h0M521.6 179.1h0M522 145.8h0M528.9 178.6h0M523.8 184.3h0M526.5 190.5h0M519 163h0M520.1 200h0M521.7 147h0M523 186.7h0M520.2 165.5h0M526.3 192.7h0M528 181.5h0M527.2 137.3h0M523.6 192.6h0M528.9 163h0M528.6 193.7h0M526.4 137.3h0M518.9 155.1h0M527.9 195.9h0M524.3 193.4h0M519.5 177.1h0M521.5 184.3h0M519.4 195.9h0M521.3 149h0M521.8 174.3h0M523.7 162.9h0M524.2 145.7h0M523.1 136h0M524.1 179.4h0M524 135.8h0M522.5 202.3h0M527.3 154.6h0M527 197.5h0M520.8 169.4h0M525.2 143.2h0M525.5 145.8h0M523.2 144.9h0M525.3 183h0M524.7 157.8h0M526.6 201.6h0M518.9 168.3h0M520.6 140.7h0M525.7 136.6h0M519 181.7h0M523.4 206.9h0M520.5 201.9h0M528.4 184.5h0M521.5 186.4h0M521.9 204.6h0M523.7 164.1h0M527.8 155.6h0M519.5 169.7h0M526.5 158.9h0M519.2 202h0M527.6 190.1h0M524.3 134.7h0M525.1 202.2h0M526 204.6h0M527.5 153h0M519.7 171.1h0M518.7 164h0M518.7 200.8h0M520.2 200.5h0M525.6 140.1h0M524.1 176.9h0M522.5 157.2h0M528.2 165.8h0M527.7 175.5h0M522.1 176.3h0M523.9 144.7h0M518.7 184.6h0M525.6 161.6h0M528.8 155.4h0M526.5 176.5h0M527.4 148.8h0M519.9 160.6h0M520.5 167.8h0M528.1 168.5h0M520.7 163.9h0M522.2 189h0M527 178.5h0M520.9 153.9h0M525.5 142.9h0M528.3 139.8h0M527.5 139.4h0M526.5 193h0M522.5 207.9h0M524.7 187.2h0M524.3 134.5h0M521.7 184.5h0M519.5 155.5h0M520.3 136.8h0M518.8 138.5h0M523.9 157.5h0M520 187.8h0M527.5 203.7h0M519.6 168.7h0M518.7 176.6h0M525 144h0M528.3 160.7h0M525.8 180.3h0M523.8 198h0M525.4 164.8h0M520.4 142.2h0M526.7 142h0M520.4 181.1h0M520.1 200.4h0M522 149.7h0M524.9 193h0M526.3 209h0M526.2 193.3h0M524.1 190.3h0M526.3 206.1h0M525 172.9h0M522.2 171h0M527.3 184.5h0M519.1 183.5h0M522.9 163.6h0M521.7 208.3h0M519.2 156h0M522.2 136.9h0M524.4 165.9h0M528.6 137.6h0M520.3 197.2h0M526.2 168.1h0M521 142.3h0M524.3 151.8h0M527 190h0M518.8 161.2h0M522.4 141.9h0M521.6 141.4h0M523.6 193.8h0M522.9 156.9h0M529 197.5h0M519.4 186.6h0M527.8 195.8h0M520.2 168h0M527.1 185.3h0M527.2 207.9h0M520.3 152h0M527.7 205.4h0M519.1 185.3h0M524.6 143.6h0M526.3 206.4h0M524.8 177.4h0M527.4 169.8h0M527.9 169.5h0M523.5 167.4h0M525.5 208.6h0M518.6 167.9h0M520.9 166h0M519 165.2h0M522.5 165.2h0M521.9 195.2h0M524.7 190h0M526.9 179.6h0M519.9 200.4h0M518.9 155.5h0M519.1 178.1h0M528.1 156.4h0M522.8 164.5h0M526.9 154.9h0M523.6 172.8h0M520.2 198.9h0M528 136h0M526.4 193.6h0M524 194.7h0M520.6 141.5h0M520 187.7h0M522.8 179.5h0M526.6 203.9h0M519.8 161.1h0M525.2 175.3h0M523.6 137.1h0M521.9 145.3h0M528.3 190.4h0M522.2 142.1h0M528.5 172.9h0M526.9 201.4h0M526.5 146.2h0M518.9 185.1h0M523.9 165.4h0M520.2 148.5h0M518.5 165.1h0M524 159.6h0M524 154.8h0M523.4 201.4h0M525.7 163.3h0M519.8 200.8h0M528.1 196.5h0M520.5 203h0M522 201.6h0M521.5 160.8h0M525.2 193.7h0M521.7 145.6h0M527.3 177.9h0M525.6 180.1h0M527.5 157.6h0M524.9 180.6h0M524.6 155.7h0M522.7 158.3h0M523.2 205h0M522.9 148.7h0M526 151.6h0M526 150.4h0M522.9 169.3h0M528.9 178.1h0M520.7 179h0M520 158.5h0M528.1 182h0M521.4 139.1h0M524.1 143.1h0M520.1 197.1h0M522.7 196.5h0M524.9 174.7h0M528.5 204.7h0M524.7 207.9h0M526.8 206.2h0M524.8 177.6h0M520.2 157.7h0M521.2 168.8h0M528.4 134.6h0M528.7 150.3h0M521.2 172h0M519.5 164.4h0M521.8 175.9h0M520.8 134.7h0M528.2 165.8h0M527.3 151h0M522.2 167.4h0M523.9 163.8h0M525 158.5h0M527.9 191.1h0M524.7 165.9h0M524 145.6h0M520.5 200.5h0M518.6 140.1h0M522.5 153.4h0M522.6 175.5h0M524.5 208.3h0M521 200.2h0M524.2 152.9h0M526 134.8h0M526.1 158.3h0M527.4 173h0M528.5 149.7h0M522.8 208h0M518.6 177.8h0M523 176.5h0M526.4 192.8h0M529 187.3h0M522.1 136h0M528.2 180.4h0M526.8 158.4h0M523.7 195.4h0M526.4 186.8h0M527.4 184.3h0M527.3 138.8h0M524.8 138.5h0M524.1 161.4h0M521.5 197.6h0M526.5 172.2h0M524.4 174.6h0M528.8 180.4h0M523.1 140.6h0M518.9 195.5h0M522.3 192.7h0M526.6 147.8h0M526.3 185.9h0M526.4 190.5h0M527.5 208.8h0M519.4 139.4h0M522 183.1h0M528.2 159.5h0M522.9 152.7h0M525.6 207.1h0M520.6 179.4h0M522.8 194.7h0M522.4 206.3h0M522.9 163.6h0M526.4 202.8h0M518.9 180h0M522 146.3h0M522.1 188.7h0M523 161h0M527.1 135.6h0M528.7 157.3h0M524.7 202.6h0M526.1 179.2h0M529 139.1h0M524.4 179.5h0M524.7 187h0M524 196.4h0M520.3 158.7h0M522.6 156.7h0M524.3 158.7h0M522.1 180.3h0M525.8 169.5h0M520.6 209.3h0M525.9 139.4h0M526.4 193h0M519.3 159.9h0M527.3 161.8h0M525.5 150.8h0M528.1 160.8h0M524.9 135.6h0M526.2 156.1h0M522.9 174.5h0M523.4 208.4h0M525.2 183h0M524.7 158.1h0M528.9 205.3h0M525.1 166.7h0M519.6 185.3h0M524.6 154.9h0M523.1 200h0M524.6 195.2h0M528.3 196.7h0M522.6 159.1h0M526.9 137.8h0M527.8 173.2h0M523.3 141.6h0M520.7 197.4h0M527.8 174.8h0M520.7 192.9h0M522.5 167.4h0M519.3 167h0M524.4 202.3h0M525.6 199.2h0M522.3 139.5h0M521.7 146.1h0M526.7 192h0M526.5 135.9h0M518.7 137h0M519.5 202.5h0M527.1 180.3h0M527.2 138.3h0M527.4 160.6h0M523.5 193.4h0M523 180.1h0M524.8 141.3h0M519.2 180.6h0M521.1 170.4h0M525 164h0M522.2 154.9h0M526.1 136.6h0M529 194h0M522.7 169.2h0M525.1 161.8h0M519.3 177.8h0M528.3 168.4h0M525 158h0M519.7 207.7h0M522 205.7h0M521.8 172.8h0M523.2 156.1h0M524.5 183.6h0M526.2 141.3h0M519.4 168.7h0M528.4 162.7h0M528.2 187.6h0M519.8 156.9h0M520.7 138.5h0M518.9 201.4h0M518.9 185.9h0M528.6 134.8h0M527.8 191.4h0M520 154.6h0M526.6 195.7h0M525.9 153.9h0M519 181h0M520.2 207.3h0M521.8 182.2h0M526.9 170.8h0M521.4 144.1h0M521.9 166.3h0M527.5 183.7h0M525.2 196.1h0M525.5 174.7h0M526 156h0M528.3 147.7h0M526.4 191.9h0M524.8 169.7h0M525.5 168.5h0M523.9 140.5h0M527.8 165.2h0M527.7 140.8h0M528.7 205.5h0M521.7 155.4h0M526.9 146.1h0M520.9 187.8h0M521.1 187.1h0M519.2 193.2h0M522.9 200.5h0M524 201h0M526.7 143.7h0M518.8 188.4h0M520 145.4h0M524.3 165.1h0M528.2 178.6h0M524.2 170.2h0M528.6 186.5h0M524.1 203.5h0M519.6 163.1h0M520.6 146.8h0M524.9 169.3h0M524 142.3h0M527.9 200.1h0M527.3 199h0M523.8 170h0M528.8 140h0M518.7 166.2h0M526.4 199.4h0M520.8 184h0M524.7 139.6h0M524.2 150.3h0M522.4 187.3h0M527.8 196.2h0M518.9 208.2h0M526.4 170.6h0M526.2 160.2h0M523.8 144.7h0M522.6 209.3h0M524.4 140.4h0M523.9 147.4h0M528.8 201.1h0M525.9 186.9h0M525.4 166.1h0M522.8 174.5h0M523.5 159.7h0M526.3 135.3h0M522.1 180.1h0M526.3 189.2h0M524.3 170.2h0M518.9 141.7h0M521.5 195.8h0M522.8 189.3h0M527.7 192.1h0M520.1 139.4h0M519.5 168h0M522.9 135.2h0M528.3 141.1h0M518.8 196.7h0M526.2 180.7h0M518.8 140.8h0M526.6 150.7h0M520.1 143.4h0M523.4 188.2h0M519.6 174.5h0M522.6 143.5h0M522.9 173.2h0M526.2 196.6h0M525.5 188.7h0M524.8 159.7h0M528.1 151.2h0M525 163.4h0M526.1 189.5h0M519 144.5h0M524.1 155.9h0M521.4 158.1h0M519.9 190.8h0M523.5 149h0M527.3 142.6h0M528.1 179.8h0M524 155.8h0M527.4 171.1h0M525.2 165.1h0M523.2 206.4h0M526 140.4h0M525.4 154.5h0M528.1 208.9h0M519.4 145.2h0M522.2 204.1h0M523.9 155.4h0M524.7 154.2h0M526.7 151.2h0M527.3 201.7h0M521.1 205.6h0M523 160.3h0M524 139.9h0M527.6 146h0M521 146.7h0M526.1 149.3h0M521.8 172.8h0M524.6 177h0M519.8 200.6h0M521.2 175.4h0M528.5 147.2h0M521 193.2h0M520.5 194.9h0M521.3 147.6h0M527.9 205.2h0M521.5 189.1h0M525.4 201.1h0M528.2 145.7h0M527.7 165h0M528.4 135.1h0M527.8 153.4h0M518.7 176.5h0M523.4 164.2h0M525.9 203.4h0M522.7 141h0M526.2 208.8h0M521.3 168h0M520 203.9h0M523.5 164.5h0M527.4 179.4h0M524.7 189.9h0M526.5 194.6h0M519.6 157.4h0M526.2 203.1h0M524.3 150.2h0M521.9 166.3h0M526.3 143.7h0M519.3 212.4h0M522 213.9h0M520.7 219.5h0M528.7 209.9h0M545.4 82.1h0M553.4 82.3h0M542.9 75.3h0M545 78.6h0M548.3 70.6h0M543.8 81.1h0M551.8 76.6h0M552.8 76.7h0M543.9 81.2h0M550.6 72.9h0M548.2 72.1h0M543.8 77.7h0M552.2 86.8h0M548.1 94.4h0M544.4 83.3h0M550 83h0M547.3 91.3h0M553.5 89.9h0M548.6 85.7h0M545.4 89h0M551.2 84.6h0M552.8 88.5h0M546.8 86.3h0M551.2 91h0M553.3 89.6h0M547.8 90.7h0M552.9 86.5h0M550.2 88.8h0M548.6 82.3h0M552.1 88.4h0M549.3 85.4h0M551.1 90.5h0M548.1 90.8h0M545.2 84.7h0M542.9 89.5h0M551.6 90h0M549.8 84.9h0M553.1 84.7h0M552.8 90.6h0M543.3 85.6h0M552.2 90.6h0M552.8 92.7h0M547.1 84.3h0M549.2 94.4h0M547 94h0M550.2 84.4h0M551.1 91.4h0M553.4 91.7h0M550.3 93.7h0M548 86.3h0M547.3 83.3h0M546.6 86.7h0M543.6 92.2h0M546.7 87.3h0M550.2 86.4h0M552.3 89.4h0M551.1 91.7h0M552.8 93.3h0M545.5 89.5h0M549.6 85.1h0M545 90.1h0M549 94.5h0M545.8 95.3h0M545.8 142.3h0M548.8 139.9h0M543.1 166.4h0M545.9 96.1h0M546.9 156h0M551.9 125.4h0M551.6 167.5h0M548.7 160h0M547.1 127.1h0M547.4 101.5h0M547.9 95.5h0M543.1 125.1h0M546.9 136.5h0M552.2 139.2h0M546.8 162.2h0M553.1 137.4h0M545.8 168.4h0M544.6 115h0M548.4 166.4h0M552.1 111.8h0M545.9 160.8h0M546.8 137.9h0M552.9 156.9h0M545.6 162.4h0M545.1 97.9h0M550.9 135.5h0M552.2 132.8h0M548.4 121.7h0M551.7 130.1h0M547.8 137.5h0M553.1 122.2h0M543.2 128h0M553.3 161.8h0M546.7 149.4h0M544.2 143.6h0M546.5 106h0M548.2 112.5h0M549.1 147.7h0M551.9 126.5h0M544.6 120.9h0M548.1 158.7h0M550.1 100.6h0M551.5 99.3h0M549 126.5h0M549.8 151.8h0M546.6 166.1h0M551 110.3h0M549.5 165.8h0M548.8 105.8h0M547.7 111.5h0M545.4 161.7h0M549.8 167.4h0M544.7 139.9h0M552.4 125.6h0M552.6 143.6h0M552.6 152.5h0M545.8 117.6h0M544.2 104.3h0M547.1 147.1h0M546 109h0M546.9 114h0M553.2 136.2h0M553.2 133.9h0M548.9 152.2h0M544.5 133.8h0M546.2 135.2h0M546.9 94.6h0M548.1 99.2h0M544.3 130.2h0M547.7 163h0M549.5 119.1h0M547.5 102.3h0M544.5 135.8h0M544.5 104.1h0M549.6 158.8h0M549.3 159.4h0M547.7 137.5h0M548.2 118.9h0M553 107h0M545.3 129.3h0M552.5 158.5h0M552.3 108.3h0M548.6 161.8h0M543.1 119.4h0M548.6 143.7h0M549.9 161.8h0M550.2 160.1h0M552.9 146.7h0M553.4 124.4h0M545.6 138.3h0M551 157.1h0M548 113.2h0M551 107.2h0M550.2 149.6h0M544.3 112.8h0M547.7 135.4h0M552.6 113.4h0M547.3 142.3h0M545 147.2h0M544.3 151.9h0M549.8 138h0M553.1 123.4h0M549.6 168.4h0M545.4 109.5h0M546.8 154.9h0M548.4 123.1h0M544.2 119.8h0M546.9 118.3h0M543.3 119.6h0M552.4 154.1h0M550.7 106h0M551 147.3h0M546.9 155.8h0M551.6 120h0M547.7 149.5h0M549.3 128.5h0M544.3 104.7h0M549.2 138.4h0M543.7 150.2h0M543.5 153.2h0M543.1 116.3h0M549.8 107.6h0M552.2 150.4h0M552.4 159.8h0M548.6 110.7h0M550 107.9h0M552.6 113.1h0M551.2 154.5h0M545.9 164.5h0M549 162.6h0M550.4 157.7h0M543.4 136.3h0M549.6 162.1h0M548.2 109.7h0M552.9 123.5h0M543.2 117.8h0M552 169.1h0M549.9 106.9h0M551.9 102.7h0M545.3 125.2h0M551.8 140.4h0M543.9 141.5h0M546.8 143.1h0M552.5 161.6h0M549.4 155.5h0M546.5 155h0M553.2 142.3h0M551.1 104.1h0M543.5 138.7h0M550.6 153.3h0M553.4 110.7h0M551.2 147.5h0M544.5 131.9h0M551.4 115.3h0M546.2 160.6h0M544.2 156.5h0M551.2 118.9h0M544.7 147.3h0M549.9 167.1h0M553.3 155h0M549.2 157.3h0M547 118h0M553.4 158.5h0M549.5 166.7h0M548.1 118.3h0M544.6 148.1h0M543.4 141.6h0M548.4 118.4h0M551.8 163.4h0M545.1 134.4h0M545.7 130.5h0M543 168.7h0M545.8 127.3h0M549.2 135.5h0M543 128.6h0M546.2 166.7h0M547.7 127.3h0M545.8 115.3h0M552.7 103.4h0M547.1 150.4h0M543.4 160.9h0M551.1 145.3h0M550.2 160.9h0M550 104.1h0M547.3 127.1h0M550 150h0M544.9 129.5h0M548.5 161.6h0M547.5 115.6h0M545.9 144.3h0M550.6 128.7h0M548.5 143.2h0M546.4 144.1h0M553.4 167.1h0M550.2 157h0M546.6 99.1h0M552.8 115.3h0M549.9 142.2h0M553.5 140.1h0M545.4 133.2h0M545.7 168h0M548.8 142.7h0M551 166.1h0M551.2 168.6h0M544.4 141.5h0M546.7 106.6h0M544.8 120.9h0M552.4 142.8h0M551 135.5h0M546.9 122.4h0M544.5 142.5h0M550.2 148.2h0M552.8 120.1h0M550.5 155.1h0M548.9 128.7h0M553.4 141.7h0M545.7 142.6h0M549.2 158h0M549.4 128.2h0M547 130.3h0M552 134.4h0M552.8 161.3h0M543 144.7h0M543.1 158.2h0M547.2 160.3h0M546.9 129.7h0M551.7 152.1h0M546.1 163.4h0M546.9 169.3h0M549.1 135.6h0M548.6 106.3h0M545 116.7h0M549.2 97h0M550.5 99.5h0M550.6 142.9h0M551.8 118.6h0M550.1 161.4h0M552.3 113.4h0M546 131.9h0M546.6 118h0M551.9 129.9h0M548.2 111.4h0M544.5 103.3h0M547.1 128.6h0M551.8 116.5h0M543.4 95.8h0M543 99.9h0M545.6 119.7h0M546.5 150.5h0M548.2 102.9h0M548.4 165.2h0M551.4 106.7h0M545.6 101.2h0M550.5 150.3h0M547.2 132.7h0M548.3 100.2h0M544.5 127.2h0M545.5 148.9h0M546.3 113.7h0M548.4 136.1h0M547.2 150.2h0M547.3 126.4h0M552.5 95h0M551 116.9h0M551.8 151.6h0M552.2 147.4h0M550.2 115.7h0M553.5 106.7h0M547.4 165.7h0M545.5 138.5h0M549.7 140.5h0M543.7 99.2h0M543.2 161.7h0M550.5 127.5h0M546 112.9h0M547.1 152.6h0M548.7 102.9h0M545.7 117.1h0M544.9 159.9h0M545.7 154.3h0M549.6 165.7h0M552.3 107.5h0M545.2 112.1h0M552.9 158.6h0M552.6 97.9h0M548.5 130.2h0M552.5 95.2h0M551.3 102.5h0M545.5 125.3h0M551.8 164.5h0M544.4 153.2h0M544.4 135.8h0M552.6 135.3h0M551.9 138h0M548.4 119h0M549.6 123.6h0M546.1 144.9h0M550.9 130.6h0M546 114.3h0M552.5 147.3h0M550 108.6h0M543 110.3h0M544.6 100.8h0M553.1 169.1h0M547.6 107.2h0M551.3 154.4h0M544.2 161.8h0M549.4 122.6h0M545.7 124.8h0M546.7 123h0M550.5 162.8h0M548.6 121.2h0M549.6 121.3h0M546.9 155.7h0M550 117.7h0M546.3 97.1h0M548.1 110.8h0M545.3 125h0M549.9 109.3h0M543.6 136.6h0M543.5 162.6h0M544.9 117.7h0M544.3 137.5h0M543.4 100.9h0M543.6 133.5h0M549.4 138.4h0M548.8 143.7h0M553.2 105.9h0M543.2 134.6h0M543.5 146.3h0M547.7 119.4h0M549.4 155.5h0M546 153.9h0M546.9 159.3h0M545.6 155.7h0M543.9 118.1h0M550.2 156.4h0M546.8 143.5h0M551 129.9h0M543.5 142.6h0M552.1 118.1h0M553.3 146.8h0M544.1 122.8h0M547.5 133h0M552.7 133.1h0M546.5 151.6h0M550.1 141h0M548.4 118.5h0M544.6 152.8h0M546.8 119.6h0M547.7 142.9h0M545.6 95h0M549.1 167.5h0M544.4 120.1h0M543.1 98.6h0M547.9 139.1h0M546.4 138.6h0M550.3 162.2h0M545 104h0M551.6 124.8h0M544 107.1h0M547.4 110.9h0M545.4 157.3h0M547.3 143h0M547.9 141.7h0M547.3 110.5h0M547.6 115.4h0M549.1 101.3h0M553.4 143.9h0M548.3 99.9h0M550.4 137.6h0M543.2 94.9h0M548.8 132.2h0M550 133.8h0M545.1 99.9h0M546.3 121.8h0M551.9 167.8h0M549.6 151.8h0M551.3 156.1h0M546.8 115.9h0M553.5 152.8h0M553.1 146.8h0M550 148.3h0M553.1 100.4h0M547.3 135.4h0M547.1 112.5h0M550.3 100h0M553.5 146.1h0M551.8 139.6h0M550.2 156.9h0M550.1 101.2h0M546.2 112.1h0M548.9 120.2h0M544.6 152.7h0M552.6 146.4h0M544.9 119.6h0M544.7 141.9h0M553.5 106.9h0M551.6 123h0M542.9 134h0M546.2 135.5h0M544.3 106h0M545.7 140.8h0M550.9 108.5h0M545.1 121.3h0M546 100.1h0M546.6 131.4h0M547.8 151.6h0M542.9 94.7h0M551.5 117.9h0M546.4 154.8h0M548.5 166.6h0M550.4 142.4h0M550.5 159.5h0M544.6 106h0M546.8 120.8h0M547.3 168.8h0M545.1 113.1h0M549.2 112.5h0M545.6 96.1h0M543.9 157.1h0M547 159.6h0M548.7 150.4h0M552.9 96.1h0M544.1 111.8h0M552.6 123.3h0M551.2 127.5h0M546.2 118.7h0M545.2 99.3h0M547.4 166h0M543.7 158.9h0M548.8 144h0M551.4 110.7h0M546.9 138.2h0M545.8 125.5h0M552.1 130.9h0M548.6 143.2h0M543.5 102.9h0M548.8 110.4h0M551.4 123.8h0M553.1 110.6h0M550 98.9h0M551.9 130.3h0M551.3 100.5h0M548.6 150h0M549.9 151.2h0M546.3 137.6h0M545.6 157.7h0M542.9 135.4h0M545.2 108.3h0M544.4 163.2h0M544.9 153.8h0M549.2 137.3h0M552.2 150.6h0M546.2 99.8h0M551.7 138.9h0M553 146.3h0M551.4 129h0M553.4 121.9h0M552.4 104.6h0M549 108.5h0M550.8 161.8h0M551.3 163.9h0M553.2 149.1h0M551.3 148.5h0M552.8 96.5h0M547.3 163.5h0M547.8 100.9h0M545.1 120.3h0M549.4 147h0M553.2 140.1h0M552.3 109.8h0M545.7 142.9h0M549.2 168h0M543.5 95.3h0M553.3 138.1h0M543.5 98.3h0M549.5 148.3h0M543.4 156h0M547.3 134.7h0M552.6 111.9h0M549.8 161.1h0M551.4 156.2h0M553.1 135.8h0M552.3 98.9h0M546 125.5h0M552.4 133.1h0M550.7 142.9h0M546.5 145.3h0M549.2 153.6h0M544.7 104.9h0M547.5 102.6h0M549 106.3h0M551 102.9h0M551.5 159.3h0M550.3 115.2h0M547 121.2h0M551.3 105.3h0M545 127.3h0M545.1 115.5h0M551.9 132.4h0M548.4 169.3h0M551.4 105.9h0M544 154.9h0M549.3 145.6h0M544 136.9h0M548.4 162h0M545.2 132.9h0M549.2 115.2h0M549.9 113h0M553.2 151.1h0M548.1 148.9h0M546.8 150.9h0M547 165.8h0M552.6 115.2h0M544.5 143.6h0M546.1 118.2h0M543.3 96.3h0M549.3 163.7h0M548 104.6h0M544.7 157.4h0M548.2 114.6h0M553.4 125.8h0M549.3 122.4h0M545.3 102.6h0M545.4 160.6h0M550.9 95h0M546.3 166.6h0M548.2 116.5h0M546.9 132.3h0M551.6 145.1h0M547.2 94.8h0M551.7 132.4h0M553.2 99.6h0M543.9 119.2h0M543.6 123.1h0M543.2 119.4h0M547.1 118.9h0M552.4 143.6h0M551.6 136.6h0M544.7 110.7h0M551.3 156.3h0M551.1 127.3h0M551.9 98.6h0M547.6 114.6h0M552 101.1h0M543.6 158.2h0M545.2 140.1h0M548.8 128.4h0M547.8 166.2h0M547.5 103.1h0M543 136.7h0M551.1 163.8h0M545.9 138.5h0M546.9 124h0M545.1 164.4h0M552 154.8h0M553 112.6h0M549.8 159.7h0M547.9 161.9h0M546.9 104.7h0M552.9 120.9h0M549.9 135.7h0M546.9 103.3h0M543.7 158.4h0M546.6 99.8h0M548.5 116.3h0M551.1 165.2h0M548 146.6h0M548.5 130h0M551.4 157.8h0M543.8 119.7h0M547.6 119.9h0M544.9 168.7h0M548.8 98.2h0M549.1 100.7h0M550.6 115h0M545.7 125.3h0M546.4 146.5h0M551.4 122.8h0M551.5 102.8h0M552.3 127.9h0M545 110.6h0M545.3 108h0M548.7 108.3h0M544.4 154.7h0M552.6 130.1h0M552.6 135.1h0M543 151.3h0M552 117.7h0M551.8 123.2h0M543.3 136.4h0M544.2 111h0M551.5 128.3h0M543 132.5h0M543 156h0M549.8 161.5h0M546.6 124.4h0M547 115.3h0M553.3 132.9h0M551.7 112.6h0M549.6 160.8h0M549.5 161.6h0M544.1 159.8h0M550.7 125.3h0M545.1 163.8h0M548 140.9h0M548.2 114.5h0M543.9 133.1h0M549 147.1h0M545.4 144.4h0M548.6 96.4h0M549.1 168.9h0M550 111.7h0M544.1 97h0M544.8 102h0M549.1 163.7h0M547.1 145.2h0M549.7 100.5h0M545 118.5h0M552.4 99.3h0M546.8 149.9h0M553.3 110.6h0M548.7 166.6h0M551.6 125h0M546.6 137.2h0M552.7 167.3h0M553.3 114.1h0M553.4 158.2h0M546.2 166.1h0M544.9 154.5h0M545.6 107.9h0M546.4 117.1h0M549.6 157.7h0M551.6 95.7h0M551.2 106.8h0M553 113.2h0M549.4 142.5h0M551.9 115.3h0M551.7 100.3h0M547.2 136.5h0M543.2 124.7h0M547.9 131.3h0M545 122.3h0M547.7 138.1h0M545.3 110.6h0M543.2 107.4h0M544.8 148.1h0M546.9 145.4h0M545.2 102.2h0M546.3 148.7h0M543.8 136.6h0M547.7 165.7h0M545.2 154.6h0M545.4 164.9h0M552.4 145.8h0M544.1 141.8h0M551.2 159.6h0M549.5 145.4h0M546.1 98.6h0M545.4 119.4h0M544.3 154.6h0M544.8 114.1h0M552.2 107.4h0M543.4 97.3h0M546.1 152.2h0M544.6 116.4h0M544.1 139.9h0M549.7 126.6h0M547.6 94.6h0M543.3 104.6h0M543.2 153.9h0M553 108.3h0M547.6 98h0M548.9 147.4h0M547.4 167.1h0M545.7 160.7h0M553.4 123.5h0M549.3 126.3h0M552.2 158h0M543.1 163.2h0M552.8 121.7h0M545.3 122h0M551.8 113h0M547 136.8h0M545.7 108.7h0M548.1 113.2h0M548.6 98.7h0M550.8 139.3h0M551 135.4h0M551.7 107.2h0M546.6 110.5h0M544 139.7h0M551.5 155.7h0M546.4 148.2h0M544.9 108.2h0M549.6 111.4h0M548.9 112.2h0M552.3 152.1h0M546.4 189.3h0M553 188.7h0M543.8 186.8h0M547.9 183.6h0M546 169.8h0M547.9 192.1h0M551.9 193.9h0M548.6 182h0M549.8 174.3h0M548.6 173.3h0M550.3 182.2h0M552.7 188.2h0M551.8 193.2h0M547.6 173.3h0M547.4 188.1h0M549.1 169.4h0M543.2 172.3h0M545.3 173.9h0M547.2 175.3h0M549.3 189.3h0M546.9 180h0M546.6 181.6h0M547.1 193h0M548.8 189.3h0M549.2 181.1h0M547.9 190.2h0M545.9 187h0M545.3 187.4h0M552.8 177h0M549.7 187.8h0M549 203.5h0M545.2 203.4h0M544.3 212.1h0M549.9 196.7h0M568.8 139.4h0M573.9 134.1h0M574.7 143.9h0M573 133.5h0M569.5 144.2h0M576.2 144.1h0M573.7 142.3h0M568.5 137.1h0M568 134.5h0M575.1 143.7h0M576.5 137.8h0M574.6 139.3h0M577.3 133.4h0M571.2 136.1h0M572.2 137.5h0M570.1 155h0M572.3 153.8h0M575.9 148.4h0M573.5 146.9h0M575.5 148.9h0M574.2 148.9h0M573.7 151.4h0M572 153.2h0M575.8 156h0M568 145.6h0M575.4 152.6h0M574.8 156.1h0M572.9 150.1h0M568.4 153.4h0M567.6 154.9h0M572 152.8h0M576.3 152.3h0M573.7 155.7h0M574.5 152.2h0M570 154.7h0M569 151.6h0M571.9 159.1h0M576.7 153.5h0M571.7 151.5h0M572.3 145.8h0M573.2 150.5h0M573 155.4h0M576.6 149h0M569.5 156.1h0M571.8 158h0M573.4 146.4h0M573.7 153.2h0M570.6 155.2h0M568.1 158.6h0M575.3 145.4h0M573.5 147h0M571 147.6h0M572.8 150.2h0M574.1 147h0M570 154.3h0M572.2 159.9h0M577.5 145.5h0M573.3 151.3h0M576.1 156.5h0M577 155.6h0M577.7 159h0M570.7 153.4h0M574.2 150.1h0M574 155.8h0M570.3 146h0M575.3 151.1h0M574.9 153.9h0M574.5 159.2h0M570.3 156.4h0M576.5 155.9h0M570.4 155.3h0M571.4 158.9h0M571.2 153.7h0M576.2 152h0M576.8 154h0M568.1 206.7h0M577.3 209.4h0M575.8 172.1h0M574.1 197h0M576.7 169.4h0M572.3 180.2h0M569.3 161.6h0M570.4 211.9h0M569.4 211.3h0M572 199.6h0M567.4 196.6h0M572.4 193.2h0M574.1 176h0M570.2 168.5h0M574.2 164.3h0M576.8 166.2h0M569.6 213.5h0M567.4 209.8h0M575.3 197.1h0M573.8 203.6h0M576 170.4h0M571 201.9h0M570.6 180.7h0M568.3 199.1h0M572.5 202.9h0M571.9 184.1h0M571.1 181.1h0M568.5 185.9h0M573.1 174.8h0M567.7 184.7h0M572.2 186.2h0M567.9 177.9h0M576.7 184.7h0M567.8 171.7h0M571.9 170.5h0M572 191.7h0M574.3 202.4h0M577.7 208.2h0M569.6 208.3h0M575 170.2h0M576.3 211.5h0M569.9 201.7h0M573.6 186.5h0M573.7 197h0M569.5 196.7h0M572.3 185.8h0M569.2 165.4h0M572.1 195.4h0M577.2 184.8h0M573.2 208.3h0M575.7 193.6h0M573.8 213.5h0M568.2 185.9h0M567.8 201.2h0M569.3 176h0M574 207.2h0M567.4 191.5h0M577.2 173h0M571.3 167.3h0M568.8 175.3h0M575.3 166.9h0M570.3 185.5h0M572.1 203.8h0M568.8 195.4h0M570.6 160.5h0M576.5 162.3h0M568.5 182.4h0M570.1 202h0M573.9 203.3h0M568.5 204.4h0M569.5 202.2h0M575.8 211.5h0M570 160.8h0M573.4 210.1h0M573.9 183h0M572.7 164.9h0M577.9 183.7h0M574 160.2h0M571.5 182.8h0M575.4 188.9h0M574.3 170.1h0M568.3 191.5h0M573.5 188.2h0M569.5 187.1h0M570.5 182.6h0M569.4 199.7h0M570 166.5h0M567.8 192.6h0M571 164.9h0M576.2 174.4h0M573.5 197.9h0M569.4 184.5h0M577.4 180.2h0M573.2 207.7h0M573.2 203.5h0M567.6 199.7h0M577.2 207.1h0M576.1 198.7h0M568.8 192.3h0M571.5 173.7h0M571.7 192h0M574 160.3h0M571.1 187.1h0M573.7 193.1h0M574.7 198h0M575.7 212.8h0M567.8 207.4h0M570.1 199.8h0M568.9 207.7h0M572.8 180.2h0M574.6 162.5h0M568.9 209.8h0M569.6 172.3h0M573.2 173.5h0M573.9 161.5h0M570.4 203.3h0M569.9 195.8h0M571 197.7h0M568.5 166.3h0M574.8 174.5h0M567.6 212.8h0M569 203.7h0M572.3 207.1h0M576.2 173.9h0M571.8 203.3h0M574.7 180.5h0M577.3 181.1h0M573.6 211.8h0M568.6 205.4h0M571.5 183.6h0M570.7 181.1h0M569.4 205.2h0M567.3 165.1h0M567.7 195.3h0M573.7 210.1h0M571.5 172.5h0M568.7 207.7h0M572.3 189.3h0M576.3 189.2h0M573.1 173.9h0M572.5 168.9h0M568.5 164.2h0M575.1 190.3h0M567.6 190.2h0M576.1 195h0M567.8 206.1h0M567.5 201.2h0M572.2 199.2h0M570.9 163.7h0M575.1 173.9h0M571.8 180h0M567.3 184.2h0M570.4 160h0M572.3 200.8h0M568.4 168.3h0M572.7 197.9h0M571.1 161.3h0M572.2 214.2h0M577.6 210.9h0M569.6 161.7h0M567.8 208.6h0M571.3 168.6h0M571.3 201.8h0M573.5 166.9h0M572.5 185.6h0M574.8 163.3h0M568.8 182.9h0M572 203.8h0M568.1 194.6h0M573.3 175.9h0M576.4 191.8h0M573.8 178.3h0M567.6 197.9h0M574.4 174.9h0M576.1 161.1h0M571.3 189.6h0M576.2 183.2h0M571.9 175.3h0M570.8 195.1h0M576.7 186.3h0M577.1 205.1h0M571.7 188h0M576.6 169.2h0M575 161.5h0M574.9 191.8h0M568.5 160.3h0M570.1 188.2h0M576.8 173.1h0M569.2 178.2h0M570 170.4h0M574.7 177.5h0M573.8 163.1h0M574.2 194h0M567.6 191.7h0M570.6 188.5h0M574.6 188.3h0M573.5 185.6h0M577.4 189.8h0M574.1 198.4h0M568.4 190.9h0M573.9 164.2h0M570.6 177.9h0M570 174.5h0M568.5 182.5h0M571.2 176.7h0M577.1 166.4h0M573.6 213.8h0M574.7 213.2h0M570.4 200.7h0M575.6 205.7h0M569.4 174.9h0M572.7 183.9h0M572.1 189.8h0M573.7 171.6h0M577 210.9h0M575.6 190.8h0M567.6 210.7h0M574.5 192.3h0M567.5 161.9h0M577 210.2h0M577.9 175.2h0M574.8 181.2h0M568.7 185.5h0M573.2 211h0M567.7 186.5h0M575 173.6h0M574.4 211.1h0M576 207.2h0M571.2 194.2h0M569.2 185.3h0M570.7 203.5h0M569.7 205.6h0M568.8 164.3h0M573.9 193.1h0M571 214h0M568.2 206.9h0M574.7 162.4h0M569.7 185h0M572.3 190.4h0M571.7 197.9h0M573.4 179.9h0M570.9 189.5h0M575.3 180.7h0M572.5 181.8h0M570 166h0M576.8 199h0M570.9 189.6h0M575.8 193.1h0M567.7 214.2h0M571.9 163.4h0M573 161.8h0M567.6 180.3h0M572.8 167.1h0M570 209.1h0M573.8 180.9h0M573.8 208.1h0M571 201.2h0M576.4 173.4h0M568.7 194.7h0M568.3 199.6h0M574.6 203.1h0M571.5 207.8h0M577.2 173.6h0M572.6 161.3h0M568.4 176.5h0M577.8 171.3h0M577.2 165.4h0M574.8 178.2h0M567.6 180.7h0M568.5 194h0M568.9 162.8h0M570.6 209.5h0M571.1 191.1h0M568.2 179.4h0M575.7 160.6h0M577.2 174.6h0M576.3 163.9h0M576.2 205.5h0M567.9 188h0M575.9 201h0M575.5 172.3h0M573.7 161.7h0M568.6 160h0M576.8 185.3h0M575.1 206.2h0M577.2 162.7h0M574.2 170.6h0M571.1 188.2h0M575.4 182.5h0M577 171.8h0M570.4 210.4h0M576.4 188.7h0M567.9 188.7h0M569 192.2h0M568.9 203.1h0M570.4 189.7h0M577.5 195.8h0M571.1 200.5h0M574.2 188.2h0M572.6 173.6h0M568.8 187.7h0M569.2 198.2h0M577.1 195.7h0M576.7 191.9h0M571.6 191.8h0M575.9 186.2h0M572.9 203.4h0M570.4 192.1h0M573 169.5h0M570.5 167.4h0M573.7 164.2h0M568.7 170.5h0M571.1 161.4h0M572.1 210.4h0M572 187.7h0M576.4 171.4h0M571.5 199.3h0M576.3 191.4h0M568.7 194.8h0M567.8 160.5h0M577.3 175.9h0M569.2 191.2h0M573.8 191.4h0M575.2 202.3h0M570.2 197.3h0M568.8 172.9h0M570.7 174.9h0M569.2 182.8h0M575.9 196.3h0M571.9 189.8h0M575.7 171.4h0M569.5 168.6h0M575.8 178h0M569.4 189.1h0M576.6 163.8h0M576.9 212.4h0M572.9 203.7h0M569.6 205.5h0M573.7 163.2h0M575.5 189.2h0M570.1 186.6h0M574.5 207.2h0M569.4 176.9h0M571.4 191.1h0M572.6 178.9h0M573.3 206.1h0M575.9 168.5h0M568.3 181h0M570.6 167.5h0M576.8 160.4h0M568 182.4h0M575.6 200.5h0M570.6 162.7h0M572.6 194.2h0M574.7 186.5h0M567.8 164.1h0M571.2 212.4h0M572.3 187h0M576.4 166.2h0M575.7 173.7h0M571.9 192h0M576.3 175.4h0M577.7 186.5h0M570.6 201.5h0M576.2 202.8h0M571.2 203h0M570 184.5h0M568.6 199h0M569.6 201.1h0M573.3 162.1h0M573.6 171.8h0M577.1 208.8h0M572.5 201.9h0M570.4 208.2h0M569.8 190.6h0M574.2 208.6h0M568.3 208.9h0M567.9 184.6h0M575.6 212.6h0M568.1 169.3h0M574.5 188.9h0M569.1 165h0M571.2 201.8h0M569.3 178.9h0M572.3 179.6h0M574.7 171.5h0M574.7 187.5h0M576.1 192.7h0M576.5 163h0M571.9 203.9h0M568.3 173.3h0M577.2 206.1h0M572.3 200.3h0M577.5 165.4h0M567.8 201.9h0M576.7 167.3h0M571.3 177.5h0M568 165.3h0M577.3 179.1h0M571.6 200.2h0M576.3 180.2h0M571 171.1h0M573.5 201.7h0M570.1 198.8h0M571.9 186.3h0M570 183.9h0M568.6 203.3h0M570.9 189.8h0M574 166.8h0M574 209.3h0M570.8 185.3h0M569.1 174.2h0M574.1 203.5h0M574.1 172.4h0M567.4 192.2h0M574.5 201.3h0M570.1 164.5h0M571.3 209.7h0M572.9 195.8h0M567.4 189.8h0M596 77.8h0M601.6 70.1h0M602.2 77.6h0M593 80.3h0M599.2 77.3h0M593.4 75.5h0M593.8 85.1h0M595.5 84.2h0M593.6 74.5h0M594.4 72.5h0M595.8 85.1h0M601.2 65.9h0M597.7 80.1h0M591.8 75.9h0M593.9 66.4h0M599.2 83.3h0M593.4 76.7h0M594.3 86.8h0M595.9 82.6h0M596.6 64.9h0M597.9 77h0M592.1 74.6h0M601.4 105h0M600 104.4h0M596.6 101.6h0M596 92.5h0M600.4 88.9h0M594.5 92.9h0M598.8 97.5h0M601.3 100.9h0M597.7 101.2h0M598.6 104.7h0M596.9 106h0M596.9 89.1h0M599.3 104.9h0M597.6 96.8h0M601.9 88.9h0M595.9 92.1h0M591.8 92.8h0M597.3 88.2h0M591.8 95.3h0M599.6 90h0M599.1 88.4h0M597.5 95h0M594.9 100.8h0M594.1 101.5h0M597.4 97h0M597.3 94.8h0M597.5 102.7h0M593.2 89.6h0M598.1 95.3h0M592.9 99.1h0M601.4 102.9h0M594.8 94.4h0M598.3 91.5h0M593.2 87.8h0M596.7 106.3h0M601.9 102.8h0M599.9 95.2h0M596.8 88.8h0M600.7 103.5h0M598.2 102.9h0M595.5 100.1h0M597.8 104.7h0M597 89.5h0M593 90h0M597.1 88h0M594.9 89.3h0M601.7 94.5h0M593.1 106.2h0M596.6 103.7h0M596.9 101.5h0M596 92.7h0M599.4 99.1h0M594.8 104h0M602 105.7h0M596.7 87.5h0M596.5 91h0M601.6 89.3h0M593.9 106.1h0M596.7 89.9h0M594.9 101.8h0M599.6 100.2h0M596.5 91.3h0M593.4 105.5h0M596.8 95.9h0M602.2 89h0M598.1 92.4h0M591.7 105.2h0M597.7 102.2h0M599.5 105.9h0M592.1 90.6h0M595.7 103.9h0M594.1 98.3h0M597.3 99.4h0M594.6 105.5h0M593.9 105.4h0M594.2 103.5h0M599.4 105.6h0M600.2 91.5h0M599.6 105.4h0M593.9 96h0M597.4 91.6h0M593.9 94.2h0M593.4 101.1h0M600.9 89.9h0M594 88.9h0M600.1 92.9h0M598.3 94.3h0M594.8 94.6h0M592.5 103.3h0M592.1 94.3h0M594.5 100.3h0M599.2 105.2h0M596.5 102.3h0M597.6 98.3h0M601.3 87.7h0M596.6 90h0M597.9 99.4h0M595.7 92.5h0M597 102.4h0M599.2 101.8h0M598 180.7h0M600.9 170.4h0M595.6 163.7h0M595.5 193.7h0M593.3 171.2h0M592.6 180.8h0M597 157.1h0M599.8 182.5h0M600.9 148h0M594.9 174.9h0M598.9 156.6h0M597.3 192.7h0M601.3 128.9h0M594 197.6h0M599.4 141.7h0M596.1 195.8h0M595.6 115.6h0M600.3 114.1h0M594.2 127.5h0M596.1 174.6h0M593.1 168.2h0M597.1 107.6h0M595.6 186.4h0M595.5 191.1h0M599.2 147.9h0M598.2 127.5h0M599.7 200.5h0M601.8 169h0M597.8 177.8h0M598.4 111.9h0M601.4 169.1h0M600.3 115.8h0M600.1 121.1h0M595.2 186.9h0M592 108.2h0M593.4 157h0M602.2 159.6h0M601.4 175.7h0M593.9 181.8h0M602.1 114.4h0M595.5 197.3h0M601.4 161.6h0M595.8 135.5h0M601 155.2h0M597.9 113h0M595.9 156.3h0M596.4 124.7h0M593 162h0M596.8 175.1h0M595.2 140.9h0M593.9 167.3h0M596.5 166.4h0M594.4 112h0M592.7 112h0M593.5 128.6h0M594.5 160.8h0M599.5 141.5h0M594.3 107.8h0M594.5 121.5h0M595.4 116.7h0M591.8 179.4h0M597.2 115.7h0M596.9 125h0M594.3 153.5h0M598.9 142h0M593.9 107.2h0M592.7 158.7h0M602 149.2h0M594.8 116.9h0M595 160.7h0M592.9 156.6h0M596.5 167.8h0M600.7 195.5h0M592.7 122h0M600 118h0M593.9 137.5h0M595.5 112.2h0M602 164.7h0M600.3 136.3h0M595.9 198.3h0M592 123.4h0M594 130h0M595.2 162h0M597.7 174.7h0M598.7 162.6h0M598.7 145.1h0M596.5 112.8h0M596.5 149.7h0M598.2 178.4h0M597 111.9h0M601.4 181.9h0M601.4 136.7h0M600.3 137.9h0M594.2 186.7h0M597.1 166.5h0M601.7 174.3h0M602.1 122.5h0M591.9 109h0M593.6 158h0M597.1 137.2h0M594.6 156.9h0M600.9 118h0M600.5 171.8h0M600.9 194.1h0M592.3 153.5h0M595.3 191.9h0M593.3 166.9h0M598.8 143.4h0M592.9 149.3h0M596.3 141h0M600.9 195.6h0M591.7 186.6h0M599.1 195.3h0M596.8 110.1h0M596.1 192.8h0M594.8 159.6h0M595.2 198.3h0M599.8 123.1h0M600.5 162.8h0M595.3 166.4h0M597.4 183.7h0M595.2 156.3h0M591.7 140.9h0M599.3 176.8h0M594 143.7h0M592.8 120.4h0M597.9 162h0M600.2 156.2h0M596.9 145.4h0M596.8 134.6h0M601.2 108.4h0M597.7 181.9h0M601.8 173.9h0M601.6 134.7h0M598.2 123.4h0M592.5 167.2h0M592.9 181.1h0M594.4 120.3h0M601.8 168.5h0M592.3 164.8h0M599.4 147.4h0M598.4 112.1h0M598.5 152.1h0M598.1 142.2h0M592.7 118.8h0M595.9 115.7h0M602.1 193.2h0M594.7 128.1h0M602.1 181.3h0M596.9 194h0M600.8 138.5h0M594.3 134h0M594.5 118.6h0M596.4 111h0M597.4 200.5h0M599.6 138.9h0M594.2 129.4h0M602.2 169.4h0M592 124h0M600.7 190.1h0M595.2 149.8h0M597.1 109.9h0M595.5 121.8h0M601.9 115.6h0M599.5 174.4h0M600.1 156.5h0M595.5 152.3h0M601.6 176h0M596.6 115.1h0M599.3 168.5h0M598.5 109.1h0M596.1 173.2h0M599.7 136.7h0M594.3 154.6h0M592.8 160.1h0M599.9 142.1h0M594.4 129h0M596.1 156.8h0M600.7 200.1h0M598.8 172.5h0M594.9 144.1h0M594.8 167.8h0M600.6 121.2h0M602 130.9h0M593.4 165.9h0M600.6 162h0M601.8 134.9h0M596.9 155h0M592.8 126.1h0M601.5 155.2h0M597.3 155.5h0M600.9 157.1h0M597.3 173.3h0M592.4 125.6h0M598.5 185.6h0M598.1 154h0M593.6 177.6h0M599.7 154.1h0M598.4 189.6h0M598.2 182.8h0M599 183.5h0M595.9 199.1h0M596.9 194.7h0M600 162.9h0M596.3 150.6h0M595 144.1h0M593.2 172.6h0M593.7 161.2h0M598 125.2h0M593.1 153.5h0M599.6 120.7h0M599 167.6h0M598 137.3h0M596.1 137.5h0M593.4 135.4h0M592.6 195.4h0M593.9 152.9h0M601.9 194.5h0M594.5 195.5h0M598.2 155.2h0M598.9 186h0M598 145.4h0M600.2 143.5h0M597.7 192.1h0M596.8 128.5h0M601.4 183.3h0M598.9 153h0M600.5 120.9h0M592.4 195.2h0M596.7 144h0M600.6 130.3h0M601 112.5h0M594.8 155.4h0M596.5 110.3h0M594.5 187.9h0M601.7 149.3h0M600.4 197.3h0M600.4 178.8h0M602.1 122.1h0M599.9 191.1h0M591.9 120.5h0M593.9 185.1h0M592.9 111.7h0M599.1 164.2h0M599.7 108.9h0M601.1 127h0M598.2 137.6h0M598 192.3h0M592.4 137.5h0M601.5 166h0M598.5 136.9h0M599.3 132.6h0M600 156.4h0M596.9 125.8h0M597.8 120.9h0M594.1 110.3h0M600 113.9h0M596.4 139.8h0M593.7 111.4h0M593.7 194.6h0M599.5 173.5h0M598.6 134.6h0M601.9 155.9h0M595.2 118.9h0M599.2 154h0M596.5 127h0M593.7 179.3h0M593.3 109.9h0M596.7 153.3h0M592.1 196.9h0M592.7 154.4h0M594.1 128.6h0M597.2 159.9h0M594.3 191.6h0M599.1 167.6h0M599.9 162.5h0M593.6 132.1h0M591.9 119.5h0M593.4 198.9h0M597.8 152.6h0M601.1 129.2h0M601.1 130.2h0M598 175.4h0M592.4 164.5h0M592.3 172.1h0M601.6 108.7h0M591.9 155.9h0M596.3 130.8h0M595.4 130.5h0M595.9 150.1h0M592 138h0M598.1 160.8h0M599.5 149.7h0M597.4 200.4h0M598.6 157.2h0M600.6 186h0M592.4 149h0M593.2 146.3h0M593.2 117.4h0M598 119.7h0M600.6 162.3h0M592.1 148h0M596.7 179.6h0M601.2 139.7h0M592.4 124.9h0M601.8 188.4h0M592.2 188.6h0M598.2 131.6h0M598.4 175.9h0M599.9 166h0M597.5 193.4h0M597 156.1h0M598.6 149.1h0M592 124.6h0M597 195.8h0M600.4 184.6h0M600.9 123.1h0M596.8 142.6h0M596.1 152h0M594.1 188.7h0M596.6 154.9h0M592.5 133.6h0M599.7 177.7h0M596.9 113h0M598.9 155.1h0M601.6 123.3h0M593.2 172.7h0M597.3 200.2h0M599.1 176.8h0M596.7 148.2h0M600.5 109.8h0M592.5 169.9h0M599.5 165.3h0M600.8 124.5h0M595.2 171.3h0M599.6 157.6h0M600.5 185.7h0M597.4 134h0M599.8 194.6h0M593.2 123.4h0M591.8 194.5h0M592.1 119.1h0M592.1 164.6h0M601.5 132.7h0M596.4 130.4h0M599.9 138.6h0M596.2 109h0M601.9 111.5h0M601 194.3h0M601.7 148.9h0M593.5 178.1h0M597 146.5h0M598.2 120.5h0M592.5 175.4h0M599.7 162.6h0M600.4 189.3h0M592.8 173.3h0M598.5 169.4h0M593.7 141h0M592.7 141.2h0M597.3 168h0M594.6 198.7h0M593.4 137.4h0M596.5 193.1h0M591.9 180.6h0M600.4 189.2h0M594.3 154.9h0M602.1 161.8h0M597.1 124.3h0M599.6 198.1h0M593 108.3h0M594.8 149.2h0M597.6 131.1h0M598.3 174.2h0M593.6 183h0M592.5 126.4h0M601.8 164.8h0M595.1 124.5h0M593.6 154.7h0M594.2 187.4h0M593 173.9h0M595.9 200.4h0M596 150.2h0M594.7 159.4h0M597.7 156.2h0M596.1 117.6h0M595.9 186.2h0M591.7 163h0M592.5 165.8h0M601.7 140.6h0M594.5 151h0M596.4 179.4h0M594.2 146.1h0M593 131.9h0M596.1 154.8h0M595.7 153.4h0M594.9 163.1h0M597.3 123.1h0M592.1 135.9h0M596.4 160.5h0M593.5 143h0M601.8 188.5h0M600.1 119.8h0M593.7 193h0M599.3 184.3h0M598.2 151.9h0M595.6 140.9h0M600.9 170.1h0M593.4 134.9h0M598.9 152.9h0M592.6 127.6h0M594.8 111.7h0M598.7 169.6h0M593.7 194.7h0M598.8 120.5h0M594.8 164.1h0M597.5 109.2h0M596.8 155.9h0M597.6 135.2h0M598.5 160.5h0M596.8 118.8h0M593.1 183h0M602 171.8h0M594.1 112.7h0M597.4 177.7h0M600.4 156.9h0M597.6 135.7h0M602 192.9h0M596.7 141.7h0M597.4 117h0M593 172.4h0M598.4 172.2h0M596.1 165.9h0M600.1 120h0M599.1 179.7h0M593.2 171.6h0M599 190.5h0M592.5 198.7h0M595.8 191.8h0M599.6 109.7h0M592.1 166.1h0M597 136.6h0M594.8 196.4h0M602.1 109.2h0M600.3 122.2h0M597.1 112.6h0M597.9 164.6h0M594.5 199.1h0M597.6 133.7h0M599.3 123.3h0M595.9 172.5h0M595.1 132.3h0M596.4 154.1h0M593.7 112.1h0M601.8 180h0M596.5 123h0M595.8 148.6h0M591.7 159.7h0M602.3 199.3h0M598.7 161.8h0M594 152.3h0M593.5 187.5h0M601.8 109.6h0M592.3 177.9h0M595 180.9h0M593.2 171.6h0M596.4 189h0M597.3 158.8h0M596.8 111.9h0M592.7 156.9h0M596.8 165.3h0M594.1 183.4h0M595.5 159.2h0M593.1 129.3h0M593.2 147.9h0M600 126.8h0M601.3 178h0M596.2 181.4h0M592.4 112.5h0M601.9 170.7h0M595.5 185.5h0M599.9 186.7h0M600.8 166.2h0M598.6 127.8h0M597.2 179.4h0M599 182.8h0M598.7 129.9h0M598.5 176.2h0M592.3 131.4h0M599.5 149.4h0M601.5 177.5h0M596.9 183.7h0M597.3 136.4h0M594.8 189.7h0M601.1 125h0M599.4 195.6h0M600.3 198.5h0M598.8 164.1h0M601 158.2h0M600 131.6h0M596 172.3h0M592.5 108.9h0M599.2 189.4h0M597.5 186.4h0M596.2 137.5h0M594.3 143.4h0M596.1 137.2h0M593.2 121.4h0M600.9 191.5h0M594.4 110.5h0M596.3 154.6h0M597 181.3h0M598 136h0M598.3 173.4h0M602.1 115.8h0M593.7 143.5h0M593 140.6h0M601.5 125.6h0M601.3 123.7h0M594.2 181.6h0M592.4 192h0M602.2 146.5h0M600.7 135.8h0M598.7 158.2h0M600.3 194.6h0M598.9 129.3h0M598.3 142.4h0M594.5 181.6h0M593.3 129.4h0M602.2 120.3h0M593.3 185.7h0M592.7 116.7h0M599.8 167h0M594.6 155.3h0M594.2 132.1h0M592.1 157.8h0M599.8 188.7h0M601.5 143.9h0M597.7 190.5h0M597.7 110.4h0M600.1 136.2h0M600.1 160.4h0M594.4 128.2h0M595.5 128.7h0M596.6 157h0M598.5 197.5h0M594.7 165.6h0M592 176.4h0M602.2 163.3h0M600.9 117.2h0M595.3 132.1h0M595.6 143.2h0M596.5 194.2h0M592.5 140.9h0M597.1 194.6h0M594.1 199.9h0M597.6 137.6h0M600.6 190.3h0M592.4 184.8h0M597.1 152.4h0M593.5 175.7h0M599.1 146h0M596.5 107.5h0M601.4 149.2h0M599.6 200h0M601 163.3h0M592.6 173.3h0M592.2 154.9h0M599.8 123.8h0M592.9 193.8h0M599.6 172.2h0M598.7 197.1h0M598.2 175.7h0M592.5 197.7h0M595.4 146h0M601.6 199h0M593.5 135.3h0M594.3 159.8h0M599.1 198.2h0M595.3 180h0M597.8 157.1h0M597.1 175.6h0M593.7 145.3h0M599.7 128.4h0M598.3 168.5h0M593.2 189.7h0M595.6 187.4h0M601.9 142.1h0M594.4 140.2h0M599.5 196.4h0M598.6 151.1h0M594.8 116.5h0M600 156.3h0M601.8 193h0M600.7 187.9h0M598.3 170.1h0M598.7 117.5h0M595.9 185.8h0M593.8 118h0M600.9 190.7h0M593.5 133.7h0M596 174.7h0M601.2 133h0M598.3 120.5h0M592.8 197.1h0M592.6 162.6h0M592.5 164.5h0M597.9 158.8h0M595.9 178.7h0M601.2 119.1h0M598.8 167.3h0M601.5 153.7h0M594.2 157.4h0M599.3 151.3h0M596.3 151h0M594.6 136.4h0M595.4 141h0M597.9 171.9h0M595.5 107.3h0M599.3 106.7h0M600.7 131.5h0M598.7 167.9h0M598 180.9h0M600 176h0M598.9 113.3h0M594.4 186h0M600.9 142.4h0M594.2 194.1h0M596.9 153.5h0M593.9 161.2h0M600.8 142.7h0M600.8 129.1h0M592.5 197.7h0M594.5 192.4h0M596.7 118.2h0M598 200.6h0M597.9 132.3h0M593.5 173.3h0M596.6 195.1h0M598.6 120.4h0M594.7 154.2h0M591.9 189.3h0M598.1 133.4h0M592 120.9h0M593.2 178.3h0M595.8 124.6h0M596.8 147h0M599.8 114.1h0M598.5 107.9h0M594.1 165h0M601.5 131h0M594.6 175.2h0M599.8 116.9h0M593.6 118.5h0M597.7 172.1h0M592.7 172.6h0M602.1 138.3h0M595.5 172.3h0M592.7 136.9h0M598.2 129.3h0M599.2 131.5h0M591.7 137.6h0M592 110.6h0M600.5 170.1h0M599.9 158.7h0M593.4 158.8h0M595.6 128.5h0M600.4 159.8h0M595.9 185.2h0M595 184h0M599 161.6h0M599.4 172.7h0M594.4 172.8h0M599.6 187h0M594.6 185.3h0M595.3 143.7h0M597.2 185.7h0M600.9 166.5h0M597.2 141.4h0M595 152.6h0M597.9 154.6h0M597.8 114.5h0M593.8 139.8h0M600.6 169.7h0M600.6 171.2h0M596 123.2h0M592.4 128.3h0M593.2 169.3h0M597.1 185.2h0M600.8 148.2h0M601 136.5h0M598.7 173.6h0M597.1 183.2h0M599.1 141.6h0M599.4 122.9h0M601.5 116.9h0M594.8 195.1h0M599 138.3h0M596.8 196.2h0M597.1 148.8h0M600.7 116.9h0M599.4 167.6h0M593 184.8h0M599.1 134.3h0M597.6 123.4h0M594.9 154.9h0M597.8 114.2h0M599.6 117h0M593.2 188.1h0M598 168h0M594.9 163h0M601.7 130h0M592.8 179h0M595.7 126.5h0M593 147.6h0M599.1 190.8h0M595.8 135.9h0M594.2 122.6h0M601.1 130h0M592.5 157.6h0M595.1 191h0M599.6 110.1h0M600.1 177h0M601.2 117.6h0M598.4 122.5h0M599.2 199.6h0M598.6 143.2h0M598.6 155.7h0M601.5 160.8h0M595.8 177.6h0M598.9 177.4h0M599 130.7h0M593.5 160.3h0M597.4 159.6h0M600.4 155.4h0M601.2 172.5h0M600.9 122.4h0M591.8 187.7h0M601 146.9h0M601.6 133.1h0M600.4 112.4h0M598.2 199.1h0M597.4 154.2h0M595 143.5h0M596 175.3h0M592.3 163.5h0M602 200h0M599.6 132.6h0M599.9 158h0M600.5 125.3h0M598.2 151h0M592.1 167.3h0M599.4 154.9h0M596.3 121.2h0M593.8 156.8h0M594.4 180.1h0M597.6 151h0M600.2 122.1h0M593.4 106.8h0M598.6 179.6h0M601.1 173.9h0M600.1 172.5h0M601.7 126h0M595.7 173.3h0M594.3 181.3h0M599.1 183.5h0M601 119.9h0M596.6 174.9h0M596.7 181.5h0M592.1 191.1h0M599 114.1h0M597.1 153.5h0M598.8 136.5h0M596.6 199.7h0M596 179.9h0M597.2 150.6h0M595.3 185.2h0M599.9 110.9h0M601.6 189.4h0M593.5 140.3h0M594.4 113.7h0M595.1 158.9h0M599.1 147.2h0M595.5 150.8h0M600.6 122.1h0M597.2 109.1h0M601.4 154.6h0M598.7 142.3h0M600.2 154.9h0M601.8 155.9h0M593 158.7h0M592.7 194.8h0M595.6 111.2h0M598.3 168.2h0M598.3 115h0M599.1 172.6h0M595.3 162.2h0M592.9 113.2h0M596.8 119.3h0M597.4 167.3h0M595.4 170h0M597.9 124.2h0M595.7 184.4h0M601.4 121.5h0M598.7 117h0M596.3 143.8h0M594 190.7h0M601.4 183.3h0M602.2 185.3h0M592.5 180.6h0M592.7 137h0M596.6 133.6h0M601.3 145.1h0M599.2 196.3h0M600.9 155.7h0M592.2 113.9h0M597.3 190h0M598.9 187.4h0M595.7 158.1h0M601.7 176.7h0M594.2 156.4h0M594.8 144.7h0M595.3 185.1h0M595.9 158.3h0M601.4 113.7h0M599.4 169.3h0M601.8 136.9h0M595.9 150.8h0M599 111.4h0M598.5 167.8h0M596.5 118.8h0M592 149.5h0M597.3 109.5h0M598.9 116.9h0M600.2 127.7h0M595.6 137h0M599.4 140.1h0M601 162.9h0M601.3 136.3h0M600.6 127.5h0M599.2 184.4h0M592.6 128.7h0M596.5 137.6h0M594.3 198h0M596.3 170.6h0M602.2 114.9h0M592.9 128.6h0M592.2 119.7h0M591.8 164.1h0M593.9 176.1h0M600.6 206.8h0M600 203.6h0M600.5 220.6h0M593.5 206.6h0M592.5 217.7h0M598.2 208.2h0M598 217.4h0M595 210.7h0M599.4 215h0M596.4 217.2h0M622.2 65.2h0M621.9 74h0M625.1 76.4h0M620.9 73.9h0M619.7 69.3h0M616.8 78.8h0M620.1 65.5h0M623 66.2h0M623.3 79.4h0M621.6 72.4h0M621.4 69.6h0M619.6 75.1h0M618.2 66.6h0M622.1 63.6h0M618.1 74.6h0M621.1 72.8h0M617.5 65.4h0M625.8 76.1h0M622.4 68.1h0M621.7 70.4h0M621.6 68.6h0M618.8 65.7h0M621.6 82.8h0M622.2 90.5h0M622.9 85.3h0M626 87.3h0M617.5 86h0M619.4 87.4h0M623.9 94h0M621.2 96.2h0M623 93h0M617 81.5h0M626.1 95.2h0M616.8 86.5h0M624.9 83.6h0M623.9 86.2h0M619.2 92h0M618.1 81.5h0M618.7 84.5h0M623.4 88.4h0M618.9 88.8h0M616.3 95.4h0M620.6 93.6h0M616.1 92.9h0M626.2 80.5h0M621.4 88.1h0M625.4 80.8h0M626 86h0M620 81.8h0M625.8 94.5h0M616.7 95h0M625 93.2h0M623.7 94.8h0M621.4 83.1h0M616.4 82.5h0M622.8 89.8h0M616.9 94.9h0M621.4 94.3h0M619.1 92.6h0M623.8 88.2h0M616.5 85.7h0M623.3 85.2h0M626.6 81.3h0M621.8 88.8h0M624.2 81.5h0M620.4 89.6h0M617.5 93h0M625.4 84h0M626.2 83h0M626.6 93.9h0M622.6 93.8h0M624.6 83.6h0M626.1 93.3h0M616.7 92.6h0M623.8 94.3h0M616.6 89.6h0M616.8 83.7h0M620.9 80.4h0M623.5 80.5h0M626.2 81h0M620.5 93.1h0M617.8 91h0M622.3 96.4h0M617.1 84.5h0M618.7 84.5h0M619.9 90.9h0M620.5 85h0M625.9 91.5h0M617.6 93.1h0M617 95.6h0M623.6 80.6h0M617.6 89.8h0M624.3 96h0M624.2 83.7h0M621.6 82.5h0M620.7 88h0M623.7 81.3h0M625.7 86.9h0M619.3 80.6h0M621.5 94.5h0M625.4 82h0M621.8 82.4h0M621.7 88.8h0M618.6 84.3h0M622 88.2h0M623.3 95.3h0M624.3 80.9h0M620.3 91.3h0M624 96.2h0M618.7 88.9h0M624 82.3h0M625.3 92.3h0M623 80.2h0M616.7 87.8h0M625.9 86.4h0M625.6 83.7h0M624 90h0M625.3 86.6h0M618.2 87.7h0M622.8 91.1h0M618.7 87.4h0M618.2 90.5h0M617.7 93.1h0M621.1 92.6h0M625.3 90.4h0M622.3 86.9h0M625.3 90.4h0M626.3 96.5h0M623 95.1h0M617.2 90h0M618.3 86.4h0M621 84h0M616.9 124.2h0M623 122.6h0M625 142.7h0M620.2 141.5h0M626.1 142.6h0M620.5 131.8h0M624.3 164.4h0M620 132.2h0M623.5 108.8h0M620.2 160.6h0M626.1 155.2h0M624 113.2h0M626.2 111h0M617.3 130.2h0M619.2 117.2h0M621.1 168.9h0M618.6 103.5h0M622.5 152.7h0M619.6 112.5h0M624.2 147.3h0M624.9 108.9h0M620.7 117.7h0M624.9 124.6h0M621.7 118h0M621.6 130.3h0M625.3 147.3h0M624.2 129.5h0M620 122.6h0M619.5 109.8h0M618.6 145.3h0M617.3 121.4h0M620.1 126.5h0M616.1 115.7h0M623.9 104.1h0M625.6 139.6h0M626.4 104.2h0M619.8 154h0M619.8 129.2h0M622.3 164.9h0M619.2 104.8h0M621.3 122.6h0M625 134.3h0M624.5 118.8h0M622.6 147.2h0M625.2 147.2h0M622.6 154.9h0M617.1 101.6h0M616.4 102.5h0M620.3 110h0M621.8 128.2h0M623.3 135.6h0M624.3 123.8h0M617.8 159.2h0M620.8 148h0M620.8 158.7h0M622.7 110.3h0M626.4 124.9h0M623.7 108.4h0M624.9 145.5h0M617.3 141.7h0M621.6 152.3h0M626.2 100.1h0M617.2 102.9h0M625.5 129h0M624.5 147.2h0M620.6 136.5h0M625.5 106.8h0M622.2 124.6h0M618.8 114.9h0M617.7 151.1h0M623 129.1h0M621.4 141.7h0M625.9 111.5h0M624.3 165.6h0M626.3 160.5h0M618.5 100.9h0M616.9 123.1h0M623.3 140.5h0M625.3 140.3h0M622.8 138.7h0M624.3 151.6h0M616.5 166h0M618.2 140h0M624.7 156.1h0M616.6 152.4h0M617.9 107.7h0M625.2 168.3h0M623.7 157.6h0M624.1 139.7h0M625.8 129.8h0M620.3 147.3h0M622.4 114.7h0M619 131.9h0M625.6 107.2h0M619.5 165.5h0M617 97.4h0M622.7 143.9h0M623.9 152.6h0M623.2 141.8h0M621.9 159.8h0M620.8 145.5h0M619.1 114.2h0M626.3 102.3h0M621.1 153.5h0M626.4 156.6h0M623.7 97h0M621.1 125.8h0M618.6 105.7h0M624.5 149h0M620.9 100.9h0M618.5 131.1h0M623.5 97.7h0M625.2 136.5h0M623 106h0M618.2 129.2h0M619 126.1h0M618.7 112.6h0M616.2 156.7h0M617.2 114.6h0M625.7 155.6h0M620.3 119.7h0M619.9 127.5h0M618.5 108h0M618.1 161h0M624.4 160.5h0M622.1 161.8h0M620 117.8h0M616.8 132.5h0M619.8 153.5h0M625.7 151.5h0M618.8 138h0M618.5 164.6h0M622.6 135.2h0M623.9 97.4h0M616.9 168.6h0M619.4 149.6h0M616.2 119h0M622.4 124.7h0M623.1 113.9h0M619.3 114.4h0M622.6 129h0M616.8 145.4h0M623.5 124.6h0M620.3 112.8h0M622.8 161.3h0M624.8 133.1h0M621.8 148.4h0M617.4 145.7h0M619.3 133.4h0M617.8 133.4h0M622.7 103.4h0M622.5 112h0M616.2 108.9h0M624 151.3h0M622 151.5h0M623.6 99.1h0M621.6 123.2h0M619.5 151.9h0M622 103.6h0M622.8 109.8h0M624.4 140.4h0M616.7 129.7h0M621 139.3h0M626.1 112.5h0M623.5 156.3h0M621 101.2h0M618.3 157h0M622.7 142h0M625.5 102.3h0M620.6 133.7h0M622.7 138.8h0M624.8 113.8h0M625.7 124.1h0M623.8 158.2h0M623.5 122.3h0M625.7 101.4h0M618 110.2h0M619.7 141.6h0M620.1 135.9h0M617.3 130.1h0M621.8 119.7h0M623.3 125.9h0M621.5 113.1h0M624.4 115.7h0M624.6 117.8h0M621.2 126.5h0M616.8 162.4h0M616.6 165.5h0M617.3 105.9h0M622.4 133.2h0M621.5 158.2h0M618.5 106.9h0M620 97.5h0M620.8 139.7h0M621.3 120.9h0M621.8 101.4h0M621.7 120.5h0M624.3 124.1h0M616.9 129h0M622.7 124.7h0M622.8 110.4h0M625.8 117.3h0M626.2 132.6h0M619.3 109.3h0M618.5 129.6h0M619.2 123.7h0M619.2 153.7h0M624.8 157.1h0M618.4 121.6h0M626 139.1h0M625.3 103.3h0M620.9 133.5h0M626.5 114h0M618.5 113.2h0M617.7 156.9h0M616.2 145h0M616.5 133.5h0M621.3 143.7h0M618.3 112.2h0M626.4 107.8h0M616.5 133.5h0M618.2 109h0M618.2 142h0M626.5 97h0M624.4 137.2h0M617.3 97.6h0M621.6 140.2h0M626.4 163.6h0M621.1 98.6h0M622.4 99.2h0M619.9 166.8h0M621.4 118.4h0M625.1 144.8h0M618 101.7h0M618.3 125.3h0M620 151.2h0M619.5 118.9h0M626.4 119.6h0M621 149.2h0M622.1 98.4h0M624.6 112.9h0M616.1 155.5h0M625.1 97.8h0M618 135.7h0M623 109.9h0M619.6 142.6h0M618.1 109.1h0M617.2 145.6h0M624.1 127.5h0M623.5 150.1h0M619.7 97.8h0M622.8 126.2h0M622.4 103.1h0M626.3 167.7h0M620.6 128.8h0M621.1 111.7h0M620.2 150.1h0M623.5 122.1h0M616.1 152.6h0M621.9 161.7h0M624 156h0M617.3 152.3h0M621.5 106.2h0M616.1 113.5h0M624.5 136.6h0M626.2 112.6h0M626.2 106.1h0M619.4 150.2h0M621.7 135.8h0M624.3 124.2h0M624.2 148.5h0M625.3 121.6h0M619.6 102.4h0M621.2 141.6h0M624.2 103.7h0M622.6 155.6h0M624.7 110.8h0M625 147.5h0M621.4 134.7h0M623.2 130.7h0M617.9 120.6h0M617.3 130.8h0M624.6 111h0M624.9 98.6h0M625.6 146.4h0M622.2 146.7h0M617.7 110.2h0M624.9 159h0M626.3 112h0M624.4 145h0M619.6 152.3h0M618.9 126h0M622.2 108.6h0M624.8 123.9h0M617.2 119.7h0M621.3 99.9h0M625.5 167.8h0M624.2 144.5h0M624.3 98.9h0M618.4 140h0M623.4 99.4h0M621.4 102h0M622.8 99.1h0M626.2 99.7h0M616.7 152.5h0M626.2 97.7h0M624.4 156.9h0M624.7 131.6h0M624.8 150.5h0M617 117.3h0M622.4 131.2h0M621.8 162.8h0M616.4 113.1h0M626.1 109.5h0M623 97.3h0M621.3 164.7h0M622.7 159.7h0M620.1 126.4h0M618.3 101.2h0M623.4 101.7h0M616.1 143.8h0M616.5 127.9h0M619.5 140.7h0M617.8 140.3h0M623.1 163.3h0M625 151h0M616.6 128.5h0M622.4 138.6h0M622 151.5h0M618.2 135h0M617.2 110.2h0M623.8 122h0M620.8 101.6h0M617.1 140.6h0M626.5 104.8h0M617.5 152.8h0M620.8 168.3h0M625.4 111.5h0M618.6 125.3h0M626.4 134.8h0M622.4 114.9h0M616.4 135.7h0M619.4 104.4h0M623.5 151.8h0M622.7 104h0M617.9 155.3h0M622.2 133.8h0M618.4 140.1h0M622.1 147h0M618.4 167h0M617.5 112.5h0M620.5 145.2h0M623.3 136.3h0M622.9 108.6h0M623.5 105h0M617.9 159.3h0M617.6 139.6h0M620.5 149.5h0M619.7 110.5h0M624.7 148.1h0M623.3 117.9h0M622.9 124.7h0M618.3 134.2h0M616.2 108.2h0M618.8 164.8h0M625.3 145.7h0M624.3 125.2h0M623.1 113.9h0M621.7 140.5h0M617.1 156h0M623.7 125.3h0M617.3 146.6h0M616.4 124.2h0M616.5 132.8h0M622.8 163.2h0M617 158.5h0M617.7 126.9h0M622.3 125.7h0M626.4 157h0M624.6 122h0M625.8 157.2h0M624.3 115h0M622.3 101.6h0M618.8 163.1h0M622.4 122.4h0M623.1 122.1h0M617.1 105h0M618.2 101.5h0M618.6 136.2h0M625.6 122.4h0M625.9 149.3h0M619.3 163.5h0M622.2 109.3h0M617.9 154.8h0M617 124.1h0M619.3 156.7h0M623.6 129.3h0M620.7 100.7h0M625.5 121.2h0M623.2 102.1h0M618.6 136.9h0M626 158.1h0M626.4 121.8h0M623.5 138.3h0M618.4 126.8h0M623.1 99.8h0M621 130h0M625 130.5h0M625.1 110.5h0M620 133.3h0M624.4 125.4h0M620.4 136.3h0M621 114.6h0M620.3 139.5h0M621.6 125.8h0M623.6 132h0M619.9 117.6h0M616.9 115.7h0M620 153.7h0M625.6 104.7h0M617.5 115.1h0M625.8 142.9h0M617.3 130.3h0M619.8 150.4h0M624.6 152.3h0M619.9 97.2h0M624.6 155.7h0M625.2 115.7h0M622 120.6h0M618.7 133.8h0M618.5 134.2h0M626.7 118.4h0M623.8 125.1h0M621.4 119.6h0M616.9 137.9h0M621.2 144.8h0M617 149.3h0M617.9 115.7h0M625.4 119.2h0M618.7 154.9h0M618.8 119.6h0M616.4 160.4h0M626.3 145.6h0M624.5 120.7h0M619.6 121.8h0M618 120.8h0M616.2 128.8h0M624.6 159h0M619.5 162h0M616.6 135.6h0M626.7 107.3h0M623.9 115.6h0M619 158.5h0M623.7 156.5h0M618.2 158.9h0M626.2 136.3h0M619.3 162.5h0M616.4 99h0M620.4 113.9h0M625.7 149.8h0M622.6 118.6h0M625.6 130.9h0M622.8 114.4h0M624.6 143.9h0M624.5 153.5h0M622 105.8h0M621 113.6h0M624.9 103.8h0M622.5 118.9h0M624.2 147.1h0M617.4 138.5h0M625.5 118.2h0M626.3 141.5h0M622.7 128.2h0M624.8 102.4h0M623.7 162.8h0M617.8 101.7h0M626.5 135.3h0M619.5 111.3h0M621.6 153h0M619.1 167.8h0M625.3 148.1h0M624.8 128.7h0M617.3 116.9h0M624 129.6h0M625.6 155.6h0M624.5 156.3h0M620.7 162.6h0M623.8 153.7h0M620.1 105.3h0M624.9 108h0M618.3 167.9h0M616.2 140.9h0M619.6 133.7h0M620.6 143.5h0M619.1 109h0M619.4 160h0M618.8 162.3h0M616.8 164.1h0M625.9 124.7h0M625 113.3h0M622.5 97.6h0M616.6 148.5h0M625.7 160.4h0M621.1 144.9h0M620.6 148h0M616.4 123.5h0M622.6 125h0M616.6 138.2h0M622.3 123.2h0M624.2 169h0M624.4 152.4h0M625 168.8h0M617.5 168.2h0M625.9 138.3h0M620 138.5h0M625.9 100.4h0M620.5 149.9h0M620.6 160.7h0M623.5 131.7h0M617 97.4h0M619.7 132.3h0M625.6 153.2h0M623.3 99.5h0M619.1 160.1h0M622.5 131.3h0M622.7 167.9h0M623.5 130.1h0M618 100h0M619.7 116.3h0M624.2 116h0M625.4 148.7h0M617.6 111.6h0M626.2 162.4h0M617.4 119.7h0M622 136.5h0M626.3 121h0M623.6 141.9h0M620.5 149.5h0M616.9 105.8h0M620.9 101.7h0M616.2 165.6h0M622.1 137h0M622 132.9h0M621.5 105.1h0M623.4 97.4h0M621.7 117.9h0M623.7 128.5h0M618.2 139h0M622.3 108.6h0M622.6 137.9h0M625 154.8h0M618.5 131.3h0M626.1 119.3h0M625.5 101.7h0M620.8 133.3h0M620.4 134h0M620 141.3h0M618.1 115.1h0M624.4 121h0M617.2 131.3h0M624.5 146.6h0M621.2 106.6h0M616.3 146.4h0M618.7 156.6h0M625.9 123.6h0M619.6 106.8h0M618.1 166h0M623.6 134.9h0M618.8 155.8h0M621.4 103.6h0M618.9 104.9h0M617.8 134.9h0M625.7 153.3h0M624.1 110.2h0M619.5 155.4h0M622.6 116h0M618.2 98.2h0M626 102.2h0M623.6 118.1h0M617.5 121.7h0M621.4 142.3h0M619.9 98.3h0M621 152.2h0M617.8 139.8h0M623.7 156.1h0M619.7 119.7h0M618.6 157.8h0M617.6 169.1h0M622.8 117.5h0M624.7 138.9h0M623.5 105.4h0M619.1 158h0M618 110.8h0M623.9 110.5h0M624.1 132.8h0M622.3 97.8h0M621.4 103.7h0M624.8 103.1h0M624.7 158.8h0M622.8 130.7h0M619.5 121.5h0M618.7 152.9h0M618.1 154.1h0M619 128.4h0M622.2 110.8h0M617.4 103h0M617.1 157h0M625.7 154.3h0M625.9 111.3h0M623.8 161.3h0M619.4 101.6h0M623.9 168.6h0M624.1 144.2h0M624.8 109.4h0M620.4 132.5h0M626.5 168.4h0M621.3 112.8h0M621.9 133.1h0M621.2 136.4h0M622.7 155.2h0M621.5 111.9h0M616.2 169.1h0M619.6 135.7h0M621.7 101.5h0M625.5 163.1h0M618.3 129.9h0M618.8 158.2h0M618.4 144h0M619.1 160.8h0M623.1 121.5h0M619.9 159.1h0M626.1 134.9h0M621.7 142.7h0M621 159h0M620.1 157.3h0M619.8 161h0M625 166.8h0M618 118.1h0M617.3 154.6h0M618.1 138.6h0M623.5 134.7h0M619.8 100.1h0M624.8 115.5h0M618.9 148.5h0M616.9 143.3h0M623.4 101.1h0M619.9 132.4h0M622.3 115h0M618.8 163.7h0M622.7 104.7h0M618.4 102.6h0M616.9 101.5h0M618.1 151h0M619.3 163.6h0M623.7 122.1h0M617.5 150.5h0M617.6 133.7h0M617.9 152.1h0M623.7 165.4h0M624.7 120.5h0M619.9 102.3h0M616.5 168h0M619.4 148.4h0M624.6 126.4h0M624.3 146.1h0M626.3 150.8h0M621.2 122.8h0M618.6 143.9h0M625.8 100.9h0M619 167.9h0M624.6 115h0M617.8 104.2h0M619.8 113.3h0M617.8 99.2h0M619.1 141.4h0M618 103.1h0M621.2 158.8h0M626.5 139.1h0M617.9 140.7h0M622.7 128.6h0M619.6 150.6h0M619.9 97.8h0M616.7 140.8h0M618.4 119.3h0M625.8 129.2h0M619.2 101.1h0M626.3 97.9h0M619.1 107h0M624 157.5h0M624.6 140.1h0M622.9 100.6h0M626.4 128.5h0M624 103.2h0M622.9 131.7h0M623 108h0M624.4 120.2h0M620.5 167.2h0M618 138.1h0M622.2 152.5h0M620.3 175.2h0M619.2 172.2h0M626.6 170.1h0M621 180h0M616.4 173.9h0M626.6 174.2h0M623.8 182.2h0M624.3 180.3h0M626.4 180.2h0M619.1 192h0M617.3 179.4h0M623.4 178.7h0M622.5 203.9h0M618.6 204.2h0M622.5 192.6h0M618.7 179.7h0M616.3 180.5h0M625.9 195.6h0M625.9 176.3h0M623.1 192.6h0M621.4 173.2h0M623.3 174.2h0M621.8 189.6h0M621.5 179.5h0M625.4 196h0M623.3 204.5h0M618.9 193.9h0M621.8 184.1h0M616.4 172.6h0M619.9 200.9h0M624.4 212.1h0M618.5 217.3h0M622.3 215.3h0M644.9 52.7h0M642 42.4h0M642.6 54.1h0M645.5 45.9h0M645.3 50.1h0M643.5 56.9h0M642.1 47.5h0M647.1 44h0M644.4 46.4h0M642.7 41.7h0M650.7 52.2h0M644.9 52.6h0M644 57.6h0M641 57.3h0M650.5 50.4h0M645.7 68.2h0M641.6 68.4h0M644.8 70.9h0M642.5 77.7h0M650.2 60.8h0M650.2 62.6h0M646.1 72.4h0M645.4 63.5h0M640.6 73.6h0M646.9 76.7h0M645.5 78.6h0M648.8 80h0M649.6 67.2h0M644.8 66.5h0M645.3 64.6h0M646.3 60.1h0M641.3 63.9h0M646.5 75.4h0M642.5 71.6h0M640.7 79.3h0M644.8 61.8h0M644.8 65.2h0M650.5 80.4h0M642.7 64.6h0M643.7 67.3h0M647.8 61.8h0M644.9 61.9h0M649.3 62.1h0M641.8 67.3h0M642.8 75.9h0M644.5 66h0M645.6 65.9h0M643.5 62.9h0M645.2 73h0M647 62h0M647.2 74.6h0M646.1 69.2h0M650 67h0M648.1 70h0M645.1 75.2h0M644.6 63.2h0M644.4 75.9h0M645.2 62.9h0M650.6 75.9h0M642.4 77h0M647.6 65.1h0M644 65.9h0M650.9 79.1h0M648.6 79.1h0M642.8 71.8h0M643.4 67.9h0M642.6 72.5h0M644.5 79.9h0M650.6 70.9h0M647.9 75h0M650.3 60.5h0M640.8 70.1h0M650.9 69.7h0M646.5 68.5h0M650.8 69.3h0M646 77.1h0M642.6 64.8h0M650.1 65.9h0M648.8 66.8h0M647.5 79.7h0M649.1 70.7h0M647.5 80.7h0M649.3 75.6h0M644.3 60.5h0M645.5 77h0M643.3 71h0M648.6 78h0M643.5 61.1h0M645.2 69h0M648.9 77.4h0M642 78h0M643.9 64.1h0M641.5 77.3h0M641.5 80.4h0M644.1 64.2h0M643.5 81.4h0M642.3 64.4h0M640.8 74.6h0M650.5 62.7h0M645 74.2h0M650 76.1h0M649.3 61h0M650.2 61.1h0M650.6 72.6h0M644.5 82.1h0M642.8 62h0M648.9 74.7h0M642.1 82.2h0M645.6 61h0M649 72.2h0M641.9 69.2h0M650.9 74.6h0M647.8 78.2h0M645.7 63.9h0M646.3 62.3h0M649.2 78.9h0M643.6 68.3h0M648 81.3h0M647.6 71.7h0M648.5 60.6h0M648.7 72.4h0M645.8 63.4h0M648.9 63.8h0M642.2 64h0M645.4 64.2h0M644.4 108.4h0M644.1 176.8h0M641.9 84.4h0M640.6 178.6h0M641.2 96.8h0M648.2 144.7h0M643.4 161.7h0M650.8 119.3h0M646.9 158.4h0M644.1 86.9h0M641.5 84.8h0M641.9 119.1h0M647.7 130.3h0M646.5 94.5h0M642.9 85.1h0M647.5 92.4h0M649.9 139.2h0M647.7 140.3h0M649.6 180.9h0M647.1 172.1h0M649.5 144.2h0M642.7 155.1h0M650.6 139.7h0M641.4 161h0M649.9 149.5h0M645.2 121.2h0M650.7 101h0M642.6 157.3h0M646.8 124.5h0M642.8 144.9h0M647 135.5h0M645.3 170.5h0M641.9 175.1h0M645.3 168.7h0M645.6 149.5h0M642.1 159.3h0M646.8 136.8h0M645.8 93.9h0M640.9 161.2h0M648.3 175.5h0M650.7 88.4h0M641.9 95.7h0M650.3 175.2h0M643.9 132.7h0M643.4 114.2h0M644.4 166.9h0M649.8 119.1h0M647.7 150.5h0M644.6 143.1h0M642.2 182.4h0M650.3 121.1h0M647.9 82.8h0M648.9 130.4h0M641.5 180.7h0M649.7 99.7h0M640.8 145.4h0M641 95h0M648.2 110.2h0M648.4 96.7h0M647.4 127.7h0M648.8 157.2h0M650 173.7h0M650.7 152.5h0M646.2 129.5h0M649 92.2h0M644.6 103h0M641.2 137h0M644.1 158h0M649.8 172.7h0M640.8 92.1h0M649.9 146h0M644.2 168.1h0M641.6 166.1h0M641.8 160.8h0M644.1 112.5h0M649.3 143.9h0M642.2 95.4h0M643.2 87.7h0M650.7 127.6h0M643.1 137h0M647.8 126.2h0M645.8 162.8h0M645.9 100.3h0M649.9 166h0M644.4 93.7h0M650.6 87.3h0M649.2 84.5h0M650.8 148.1h0M646.9 89.9h0M647.3 106h0M640.7 116.1h0M641.1 85.7h0M641.7 135.1h0M647.1 102.6h0M641.4 107.2h0M645.2 170.1h0M644.7 132.7h0M645 155.3h0M649 155.4h0M646.2 89.3h0M650.8 168.8h0M640.9 110.8h0M645.7 119.9h0M641.5 109.2h0M640.9 158.5h0M641.6 133h0M646.9 185.4h0M644.7 146.4h0M648.6 99.5h0M643.3 92.4h0M646.6 171h0M642.7 120.2h0M649.7 105.3h0M644.8 116.8h0M649.3 178.2h0M642.8 111.5h0M642 94h0M649.7 93.7h0M646 145.2h0M644.1 138.5h0M643.4 86.7h0M645.6 91.9h0M649.9 155.9h0M646.7 154.1h0M647 138.9h0M649.7 182.5h0M644.9 94h0M644 161.7h0M649.4 186.8h0M649.8 84.7h0M640.5 132.3h0M643.6 150.8h0M644.8 171.7h0M646.6 170.3h0M649 137.1h0M646.9 177h0M650.4 91.6h0M646.2 109.9h0M640.9 137.3h0M641.6 184.8h0M648.6 174.6h0M649.4 151.1h0M641.3 145.5h0M646.4 126.1h0M648.8 144.7h0M648.5 180.4h0M650.9 162h0M640.5 97.8h0M642.7 112.1h0M640.8 132.2h0M643.1 138.5h0M644.5 108.8h0M646.4 151.4h0M642.9 151.4h0M646.6 111.9h0M649.4 112.4h0M646.1 82.6h0M640.6 119.9h0M644.8 124.6h0M642.2 177.9h0M642.8 120.6h0M647.4 141.4h0M649.6 152.2h0M645.7 125.8h0M648.1 176.3h0M643.4 121.2h0M642.9 164.6h0M646.3 117.5h0M650.3 145.7h0M641 108.2h0M646.6 148.6h0M645.7 84.7h0M646.3 129.8h0M645.9 112h0M646.6 173.6h0M643 135.2h0M642.9 120.4h0M649 110.9h0M648.9 150.4h0M643.2 147.6h0M643.6 149.3h0M644.7 127h0M641.1 157.5h0M647.9 128.7h0M647.1 184.7h0M645.7 108.3h0M643.7 109.7h0M644 152.6h0M649.7 173.9h0M647.4 99.7h0M640.7 86.6h0M647.4 173.6h0M641.1 113.3h0M648.4 162.3h0M641.8 168.9h0M650.6 98.7h0M647.6 131.3h0M650.6 158.2h0M650.6 104.2h0M648.9 112.6h0M648.1 87.8h0M649 106.7h0M649 136.5h0M645.2 126.7h0M641.2 104.3h0M650.2 104.5h0M647.7 83.6h0M646.9 111.4h0M645.5 102.2h0M650.9 127.5h0M650.9 167.4h0M641.3 104.7h0M649.9 124.5h0M645.1 166.9h0M643.8 135.7h0M641.7 163.2h0M646.8 104.4h0M640.6 181.1h0M650.3 91.1h0M641.2 134.2h0M642.2 138.3h0M644.2 153.8h0M643.3 178.5h0M644.7 143.9h0M644.8 136.5h0M644 156.9h0M644.6 86.3h0M643.8 84.7h0M648.3 167.1h0M644.9 113.4h0M642.5 124.5h0M650.3 149.1h0M650.6 119h0M644.9 171h0M641.4 182.3h0M642.1 172.7h0M645.1 109.2h0M643.5 85.9h0M642.5 85.8h0M644.8 166.1h0M647.4 110.6h0M641.7 103.6h0M649.6 92.7h0M650 91.1h0M649.7 177.7h0M642 85.2h0M648.3 131.1h0M641.1 91.9h0M641.7 84.3h0M648.9 183.5h0M648.4 161.8h0M642.2 112.9h0M643.7 98.1h0M641 98.7h0M648.6 113h0M644.7 137.6h0M648.4 123.6h0M640.9 136.4h0M649.9 119.9h0M646.4 116.4h0M640.5 86.7h0M642.8 157.6h0M644.1 97.6h0M650.9 177.4h0M644 157.2h0M646.9 155.3h0M646.3 123h0M642.2 142.3h0M644.3 87.2h0M641.2 182.5h0M641.6 166h0M647.1 185.5h0M642.6 143h0M642.5 168.5h0M648.6 86.7h0M642.8 86.5h0M645.3 141.3h0M642.4 87.5h0M647.2 154.8h0M644.6 124.5h0M650.9 122.9h0M650.8 139.6h0M647.5 184.2h0M649.2 157.8h0M642 122h0M643.2 130.7h0M643.3 146.5h0M647.6 113.5h0M649.2 95.6h0M648 147.9h0M644.7 138.5h0M648.8 99.8h0M648.6 125.2h0M642.4 147.1h0M649.3 169.2h0M650.3 101.2h0M647.5 177h0M642.5 99h0M649.3 117.6h0M645.4 109.3h0M641.7 156.8h0M643.3 117.5h0M647.1 101.7h0M650.4 148.1h0M643.6 183.1h0M647.4 89.8h0M641 118.2h0M644.4 154.5h0M641.8 169.2h0M640.7 154.8h0M646.6 136.1h0M644.6 166.7h0M644.1 175.8h0M651 173.2h0M649.8 98h0M644.4 165.7h0M649.6 109h0M641.8 114.7h0M641.2 164.2h0M647.5 104.2h0M650.2 176.5h0M641.3 147.1h0M646.2 179.6h0M643.7 145.1h0M642.3 105.9h0M645.7 167.8h0M651 115.2h0M644.1 161.2h0M648.4 176h0M645.9 112.7h0M649.1 102.8h0M643.3 104.5h0M643 136.7h0M648.4 87.1h0M644.5 160.8h0M650.3 100.8h0M648.4 104h0M644.3 170.8h0M644.3 176.6h0M646.9 104.6h0M640.8 94.1h0M646.8 141.7h0M647.4 161.3h0M645.8 94.9h0M643 166.5h0M647 146h0M641.3 168.6h0M647.7 134.4h0M647.9 150.5h0M640.9 138.8h0M648.4 166h0M642.3 108h0M644.4 171.4h0M643.5 136.8h0M641.9 110.5h0M649 139.5h0M640.9 109.8h0M649.8 167.4h0M642.5 153.9h0M644.7 153.9h0M642.6 113.2h0M640.9 94.1h0M649.9 112.6h0M647.9 129.3h0M643.7 102h0M642.8 121.6h0M644.5 138.2h0M645.9 186.7h0M648.5 89.2h0M643.6 130.5h0M644 131.5h0M648.6 173.8h0M650.2 167.5h0M645.3 125h0M648.9 112.1h0M648.2 151.1h0M648.4 163.4h0M644 147.4h0M646.5 137.7h0M641.4 153.9h0M644.8 167.6h0M649.1 159.5h0M646.9 129.8h0M645.8 125.8h0M648.5 86.2h0M642.3 148.5h0M649.3 173.8h0M648.6 118.2h0M644.2 92.3h0M642.8 154h0M643.7 150h0M642.5 130.3h0M650.7 119.3h0M648.4 142.1h0M640.6 170.2h0M641.8 153.1h0M645.1 172.6h0M643 174.4h0M647.8 94.4h0M650.5 101.5h0M641.5 158h0M646.5 161.7h0M641.5 170.6h0M650.9 170.2h0M642.9 172h0M650.3 107.1h0M647.6 134.3h0M645.3 131.4h0M649.1 132.9h0M644.3 172.1h0M646.4 94.5h0M647.8 110.5h0M640.7 106.5h0M641.2 180h0M649.1 129.7h0M646 161.8h0M650.9 183.4h0M647.8 105.6h0M649.9 186.7h0M642.2 89.6h0M643.5 130.1h0M647 121h0M649.5 179.3h0M642.6 167.1h0M648.6 182.2h0M641.7 115.1h0M646.9 181.4h0M646.3 159.4h0M649.3 110.8h0M648.6 171.8h0M647.6 168.5h0M649.3 186.7h0M645.8 111.9h0M641.3 143h0M645.6 100.4h0M647.3 99.4h0M650.4 144.5h0M647.5 140h0M645.4 162.8h0M649.8 166.4h0M643.2 155.7h0M642.2 124.4h0M650.4 106.1h0M643.9 174h0M640.5 105.8h0M645.2 162.5h0M648.2 116.6h0M648.1 145.2h0M646.7 182.6h0M646.8 126.1h0M648.2 173.9h0M646.5 147.9h0M650.3 172.2h0M646.6 132.7h0M643.9 129.1h0M645.9 167.4h0M646.7 179.4h0M648.7 90.2h0M649.7 182.2h0M646.3 83.2h0M649.3 170.6h0M649.7 90.4h0M646.2 129.1h0M647.6 173.3h0M649.6 172.3h0M643.2 139.2h0M650 156.9h0M642 106.1h0M640.9 101.7h0M641.7 167.4h0M644.9 106.9h0M647.2 89h0M649.9 103.4h0M643.4 146.8h0M643.5 183.2h0M643.3 177.5h0M646.6 95.4h0M644.7 175.5h0M645.4 90.4h0M643.2 175.7h0M648.1 178.4h0M644.8 94.7h0M646.9 100.8h0M646.2 85.9h0M650.6 83.7h0M647.3 172h0M642.5 110.3h0M643.6 149.2h0M643.3 175.4h0M644.4 121.5h0M645.8 160.4h0M647.6 87.5h0M642.8 124.7h0M645.1 185.9h0M650.9 154h0M640.9 180.4h0M640.7 91.3h0M643 145.1h0M649.1 173.9h0M645.5 151h0M649.5 101.4h0M643.2 121.2h0M648.7 149.3h0M649.1 178.9h0M649.9 176.8h0M640.8 153.1h0M645.7 172h0M646.8 147.5h0M650.8 173.2h0M646.9 138.5h0M645.5 137.6h0M640.8 87.2h0M647.2 168.2h0M642.5 183.6h0M644.2 162.2h0M644.1 148h0M649.8 88.6h0M647.3 155.2h0M641.9 122.5h0M648.1 103.3h0M646.8 107.5h0M641 138.3h0M647.7 177.7h0M650.8 184.3h0M649.6 180.2h0M642.4 158.1h0M643.7 102.7h0M647.9 90.8h0M645.1 165.4h0M650.9 113.3h0M647.7 123.7h0M642.5 142.4h0M647.3 173.8h0M643.4 144.6h0M647.3 137.3h0M643.6 88.9h0M645.3 86.7h0M641.5 143.9h0M644.1 150.6h0M647.9 112.9h0M641.9 85.9h0M649.3 134.2h0M643.6 136.6h0M650.9 116.9h0M641.2 148.8h0M650.4 150.4h0M644.3 95.5h0M641 88.4h0M648.2 134.6h0M646.7 128.1h0M642.4 162.1h0M650.1 165.3h0M648.4 109.8h0M642.6 131.7h0M645.9 164.6h0M647.4 99h0M645.3 163.8h0M643.4 128.2h0M648.8 90.6h0M647.1 99.4h0M650.4 101.8h0M643.8 100.3h0M644.4 87.8h0M649.5 127.3h0M650 87h0M648.8 116.4h0M649.2 124.5h0M650.2 122.8h0M645.8 91.4h0M646.3 176.9h0M649.5 118.4h0M643.3 115.8h0M649.9 114.4h0M649.4 110.3h0M646.7 175.7h0M643.4 144.2h0M649 142.8h0M644.4 118.8h0M641.2 85h0M644.4 184.5h0M640.6 85.1h0M648.1 125.2h0M649.7 96.7h0M650.1 111.4h0M645 104.6h0M640.8 116.6h0M645.4 101.7h0M642.1 117.5h0M646.5 98.8h0M648.1 168.4h0M649.6 180h0M645.6 174.9h0M641.9 152.9h0M649.4 139.2h0M649 110.6h0M641.7 156.9h0M644.6 96.3h0M642.3 107.3h0M648.4 142.2h0M650.4 178.8h0M650 148.3h0M649.6 114.3h0M650.6 93.9h0M651.1 91.2h0M650 168.7h0M647.6 182h0M646.2 164.6h0M648.4 162.1h0M650.5 94h0M647.6 161.3h0M641.9 168.1h0M643.9 114h0M643.7 84.7h0M648 91.5h0M642.5 91.3h0M650.1 161.9h0M647.6 128.3h0M643.9 97.9h0M646.7 159.7h0M646.6 180.8h0M643.3 161.4h0M642.8 161.1h0M643.8 128.6h0M641.2 127.3h0M640.7 179.1h0M643.8 155.8h0M645.2 100.7h0M648 110.8h0M646 104.8h0M646.2 133.8h0M648.4 157.3h0M648.1 126.8h0M651.1 171.6h0M647.7 111.1h0M643.6 174.8h0M650.5 133.9h0M649.9 94.4h0M647.6 130.5h0M646.5 167.1h0M648.2 142.9h0M647.5 172.6h0M640.8 151.7h0M650.3 101.5h0M645.3 102.3h0M651.1 174.3h0M649 85.1h0M650 92.6h0M644.1 181.8h0M641 138.1h0M643.5 113.9h0M646.9 101.2h0M641.1 82.6h0M646.7 90.6h0M649.2 122h0M644.2 157.8h0M644.4 153.4h0M644.3 159.3h0M645.7 142h0M644 83.3h0M641.6 103.2h0M641.9 175.3h0M644.9 94.9h0M650.2 139.2h0M647.5 108h0M650.1 164.1h0M641.5 95h0M640.7 93.1h0M646.4 94.8h0M649.5 144.8h0M648.4 163.7h0M649.9 181.2h0M645.2 105.9h0M645.5 151h0M645.5 169h0M644.1 90.5h0M643 186.5h0M645.8 152h0M650.6 147.7h0M644.3 116.8h0M649.3 169.9h0M641.6 171.9h0M642.7 168h0M648.2 110.5h0M645.2 151.8h0M646.9 89.9h0M650 106.6h0M643.9 179.6h0M644.4 181.3h0M645 113.6h0M646.6 128.1h0M643.1 151.7h0M645.2 162.6h0M645.6 171.2h0M641 148.1h0M648.9 107.4h0M646.1 137h0M651 104h0M645 106.8h0M644.9 173h0M646.5 102.5h0M642.5 181.3h0M645.9 162.4h0M647 146.2h0M649 180.4h0M646.7 178.3h0M648.3 177.2h0M646.5 130.8h0M644.8 175.5h0M642.9 160.4h0M646.6 121h0M648 87.5h0M643.6 186.4h0M643.7 161h0M642.7 89.7h0M644.9 90h0M648.9 151.2h0M640.7 124.7h0M647.4 134.5h0M647.4 132h0M647 139h0M641.5 167.2h0M641 172.9h0M648.9 142.1h0M640.6 146.4h0M648.3 124h0M647.5 170.2h0M643.9 164.3h0M646.8 149.5h0M648.2 185.6h0M646 179.8h0M644.2 125.8h0M650.8 99.7h0M641.6 130.3h0M647 141.1h0M647.3 91.5h0M647.7 155.1h0M650.3 109.3h0M646.8 132.4h0M646 142.6h0M644.7 166.2h0M640.9 154.8h0M641.1 131.6h0M649.2 132.1h0M649 185.5h0M648.6 128h0M642.8 144.8h0M646 111.8h0M643.5 149.4h0M643.4 171.2h0M643.5 110.3h0M642.1 105.1h0M648 106.6h0M641 98.7h0M643.8 116.3h0M650.1 144.3h0M648.1 183.9h0M648.4 102.4h0M645.6 120.3h0M645.5 141h0M646.3 185.2h0M645.1 142.8h0M645.9 97.3h0M650.8 167.4h0M648.4 141h0M647.3 173.4h0M651.1 154.2h0M649.5 125.8h0M647.6 185.6h0M640.9 154.8h0M644.7 93.3h0M645.2 173.2h0M650.1 101.1h0M645.8 96.4h0M641.2 151.7h0M650.1 186.7h0M642.5 157h0M648.7 100.3h0M650.2 154.4h0M642.4 125.2h0M643.1 140.5h0M647.8 94h0M645.7 129.9h0M641.4 115.6h0M641.9 104.7h0M644.9 127.6h0M648.8 139.8h0M645.6 142.1h0M646.3 103.3h0M647.3 114.8h0M641.4 140.4h0M646.8 139.7h0M650.5 84.9h0M644.6 95.1h0M648.8 140.4h0M646.8 164.9h0M645.1 183.3h0M645 146.2h0M646.4 87.4h0M650 169.8h0M646.5 186.1h0M647.5 103.3h0M646 139.2h0M644.3 92.3h0M648.2 168.3h0M641.3 84.7h0M648.1 169.1h0M641.1 137.5h0M648.7 83.5h0M648.8 145.9h0M650.9 159.6h0M646.4 112.4h0M649.7 165.2h0M646.5 116.3h0M647.2 140.6h0M647.6 145.8h0M651 155.6h0M645.1 88.5h0M641.7 122.1h0M641.2 151h0M643.1 103h0M642.1 185.2h0M648.4 186.6h0M649.6 120.9h0M645.7 152.8h0M640.7 93.8h0M646.9 159.5h0M641.9 115.6h0M648.7 86.9h0M649.5 96.8h0M646.6 94h0M645.2 92.5h0M649.3 150.8h0M644.2 123.9h0M646.9 183.6h0M647.6 113h0M645.5 85.8h0M649.3 159.7h0M646.6 87.3h0M640.6 126h0M642.1 116.8h0M640.8 159.3h0M648 169.2h0M642.3 162.2h0M651.1 149.4h0M650.5 100.4h0M646.6 101.8h0M645.6 82.6h0M648.4 108.3h0M643.5 100.4h0M649.2 133.7h0M647.1 177.9h0M642 124h0M646.2 169.1h0M642.6 105.7h0M648 125.6h0M649.9 126.5h0M647.7 100.5h0M650.2 134.3h0M641.1 127.9h0M647.9 118.7h0M640.7 143.1h0M646.2 141.2h0M649.6 137.4h0M643.2 133.9h0M649.2 137.1h0M642.8 177.3h0M644.5 158.4h0M641.8 130.1h0M644.3 117.9h0M646.7 139.6h0M646 100.7h0M649.2 130.9h0M641.6 136.3h0M640.7 165.1h0M641.9 178.9h0M644.8 92h0M649.4 130h0M649.6 160.1h0M648.9 143.8h0M643.7 89.8h0M647.3 160.2h0M640.6 84.5h0M642.6 99.8h0M641.8 168.3h0M650.9 160.9h0M644.5 93.2h0M644.2 164.5h0M641.7 166.1h0M644.6 107.5h0M642 185.5h0M640.6 90.3h0M641.4 155.6h0M643.2 174.7h0M641.2 106.7h0M640.8 123.1h0M647.4 87.3h0M641.7 165.4h0M643.5 132.8h0M646.1 105.9h0M647.8 119.7h0M640.8 196.5h0M646 189.6h0M643.8 207.7h0M640.7 205.2h0M647.3 209.2h0M646.3 187.2h0M642.4 198.5h0M645.9 207.1h0M646.1 211.2h0M645.5 210.2h0M644.2 195.8h0M642.6 187h0M649 196.9h0M648.7 207.5h0M647.8 199.9h0M641.8 188h0M647.2 198.6h0M642.7 190.3h0M672 60h0M673.2 59.3h0M675.4 60.7h0M672.5 60.3h0M671.5 61.3h0M669.6 61.1h0M667.6 84.2h0M675.3 179h0M675 144.5h0M666 176.2h0M669.5 72.1h0M668.1 148.4h0M674.2 188.7h0M671.7 146.6h0M666.1 76.9h0M672.7 175.1h0M668.9 170.2h0M672.4 166.6h0M668.8 139.1h0M674.7 165.2h0M667.8 175.3h0M666.9 94h0M673.7 77.2h0M672.1 79.1h0M672.2 139.7h0M664.9 137.4h0M671.5 72.3h0M668.2 73.2h0M674.1 116.1h0M665.5 194.6h0M674.4 150.2h0M669.6 82.7h0M674.5 150.2h0M667.6 172.7h0M671.4 71.3h0M675.2 165.8h0M673 195.5h0M670.3 124.5h0M667.4 109.8h0M674.3 186.8h0M671.6 183.9h0M667 84.9h0M673.7 64.4h0M666.4 186.1h0M667.3 150.7h0M675 148.7h0M668.1 112.9h0M671.8 95.1h0M672 138.4h0M670.6 100.2h0M669.3 119.8h0M672.7 79.7h0M665.6 138.6h0M669.4 195h0M667.3 65.5h0M670.2 71.8h0M666.7 187h0M666.8 194.9h0M675.4 65.9h0M665.5 177.7h0M673.9 131.2h0M667 79.4h0M670.4 99.5h0M667.8 179.6h0M672.5 112.5h0M667 151.7h0M671.1 142.1h0M668.5 77.7h0M667.9 98.2h0M671.3 77.6h0M673.6 131.2h0M673.6 101.9h0M673.2 68.4h0M671.5 112h0M666.4 160.7h0M670.5 67.5h0M667.3 167.6h0M673.9 105.1h0M672.7 155.9h0M672.1 193.5h0M665 116.7h0M675.1 187.8h0M665.9 78.5h0M666.6 79.6h0M675.1 94.1h0M671.5 90.7h0M667.3 166.6h0M672.8 162.3h0M675.2 187.1h0M672.2 192.5h0M667 156.4h0M669.6 153.3h0M665.2 104h0M675.3 144.8h0M671 93.5h0M670.7 171h0M673.7 189.8h0M665.2 137.6h0M674.4 105.7h0M666.2 117.3h0M669 146.1h0M665 139.9h0M669.1 174.1h0M671.5 77.6h0M666.7 182.9h0M670.8 63.6h0M668.3 76.4h0M670.2 126h0M671.8 177.4h0M673.1 185.2h0M673.9 122h0M670 78.5h0M671.4 101.4h0M672.7 78.5h0M665.8 186.6h0M666.6 159.1h0M673.3 99.1h0M671.3 106.5h0M670 97.8h0M675.1 183.8h0M667.1 141.1h0M666.2 153.4h0M665.7 182.3h0M665 68.1h0M675.1 168.4h0M673.4 197.8h0M673.9 86.7h0M669.2 124.5h0M666.4 90.7h0M672.6 138.5h0M672.6 191.7h0M670.2 160.8h0M665.6 89.6h0M674.5 92h0M668 101.6h0M671 132.5h0M666.4 120.5h0M671.1 198.8h0M669 81.6h0M667.4 80.1h0M670.4 109h0M667.2 168.2h0M675.3 112.5h0M667.6 91.8h0M669.2 197.1h0M669.8 115.3h0M673.5 93.2h0M665.3 151.2h0M672 137.8h0M675.3 151.2h0M665 106.3h0M671.6 191.1h0M666.1 196.3h0M668.8 137.2h0M665.3 159.6h0M666.1 90.1h0M670.3 137.7h0M669 176.5h0M671.7 186.3h0M665.3 198.6h0M666.7 160.3h0M664.9 196.5h0M674.9 171.7h0M665.4 71.8h0M669.3 115.6h0M665.9 122h0M674.1 80.3h0M670.2 112h0M675.3 95.5h0M670.2 187.7h0M666.3 80h0M672.8 167.3h0M668.4 169.2h0M668.6 94h0M669.1 189.5h0M673.5 162.1h0M668.7 76.8h0M667.1 178.6h0M672.9 128.1h0M672.1 85.3h0M668.5 92.9h0M674 115.5h0M673.7 191.1h0M669.3 125.8h0M668.8 191.6h0M675 122.2h0M670.5 63.2h0M670.1 183.6h0M672.8 154.1h0M670.3 179.4h0M668.6 65.9h0M666.6 149.1h0M674.6 161.1h0M666 184.9h0M671.5 175.2h0M669.6 155.2h0M666.5 130.5h0M671.5 168.5h0M673.2 101.6h0M671 71h0M666.2 168h0M666.9 155.9h0M673.8 147.5h0M671.6 105.1h0M673.7 155.4h0M666.1 193.6h0M665.3 148.9h0M672.4 113h0M672.1 191h0M665.2 196.3h0M665.2 82.1h0M674.6 138.9h0M665.9 75.5h0M674.4 123.9h0M670.5 173.6h0M666.6 102.6h0M671.6 122.8h0M674.7 85.8h0M672.6 191.5h0M673.7 181.2h0M668.2 81.2h0M669.3 133.2h0M667.6 148.9h0M671.8 66.1h0M666.2 97.5h0M670.1 99h0M670.7 142.9h0M669.8 151.3h0M665.9 139h0M665.5 184.1h0M668.4 152.1h0M672 66.4h0M671.5 166.9h0M670.8 133.4h0M667 84.4h0M665.5 98h0M666.6 156.6h0M666.2 146.8h0M672 88.2h0M665.2 109.4h0M674.4 176.3h0M675.4 109.7h0M665 194.4h0M666.2 166.7h0M667.2 127.7h0M669.1 132.5h0M666.7 177.4h0M666.1 145.1h0M668.6 185.8h0M668.2 116.8h0M672.2 184.8h0M672.9 184.6h0M672.6 77.7h0M668.9 87.8h0M671 87.9h0M667.8 88.1h0M670.2 194.8h0M674.5 135h0M670 113.1h0M673 187.2h0M670.5 177.5h0M668 79.9h0M665.3 120.6h0M671 87.7h0M669.4 177.3h0M671.9 140.1h0M673.2 149.9h0M673.6 71.4h0M669.9 132.7h0M668 176h0M670.3 133.5h0M669.9 88.9h0M671.3 145.1h0M667.1 67.8h0M671.2 131.2h0M667.6 109h0M669.4 69.8h0M664.9 181.6h0M665.3 185.5h0M669.7 141h0M666.8 93.1h0M671.6 88.1h0M673.5 152.3h0M666.9 106.3h0M674.8 133h0M674.4 178.7h0M674.6 151.4h0M675.4 103.6h0M674.1 138.2h0M665.4 120.3h0M672.9 82h0M669.6 124.5h0M669.2 156.7h0M672.4 172.6h0M669.8 124.5h0M670.6 137.4h0M665.5 119.9h0M675.1 146.5h0M669.4 180.4h0M671.3 103.5h0M667 93h0M669.9 152.3h0M666 193.9h0M673.7 151.6h0M669.7 138.4h0M666.8 127.5h0M674.2 143.5h0M670.9 77.3h0M670.3 80.6h0M670.4 65h0M671.8 90h0M674.7 180.1h0M667.1 90.2h0M671.2 127.1h0M669.6 73.4h0M675 175h0M666.9 133.4h0M675 100.1h0M666.5 145.6h0M672.2 198.8h0M669 77.7h0M668.8 72h0M671.3 196.6h0M674.1 136.4h0M669.9 79.5h0M667.8 126.1h0M669.6 186.9h0M668.9 194.1h0M673.3 83.2h0M673.2 87.9h0M668.6 124.2h0M674.5 148.7h0M673.1 180.6h0M675.3 138.2h0M669.1 137.2h0M667.1 73.6h0M669.8 80.9h0M665.3 174h0M668.7 73.3h0M667.3 171.5h0M674.7 172.3h0M670.5 133.9h0M667.8 103.3h0M674.4 181.6h0M665.6 196h0M674 77.6h0M672 197.3h0M675.4 122.9h0M672.1 104.8h0M667.9 66.3h0M674.1 138h0M670.8 71.9h0M668.7 149.3h0M670.3 169.8h0M674.8 107.4h0M667.3 135.1h0M667.6 151.9h0M665.3 139.4h0M668 70.4h0M665.5 198.7h0M668.4 186.2h0M670.8 68.7h0M668 184.3h0M666.8 117.8h0M667.1 74.8h0M674 132.2h0M669.9 192.3h0M665.6 88.7h0M674.6 167.8h0M665.1 108.9h0M674.7 138.7h0M673.1 176.3h0M672.1 124h0M668 160.3h0M675.4 163.7h0M675.1 77.8h0M665.6 139.9h0M666.7 85.1h0M669.2 162.6h0M670.5 173.4h0M665.8 175.7h0M669.3 108.1h0M668 111h0M670.4 80.2h0M671.6 129.6h0M665.4 66.9h0M666.7 66.4h0M673.6 93.2h0M668.8 173h0M673.8 78.5h0M674.7 119.6h0M667.8 132.2h0M665.3 122.2h0M671.7 89.3h0M666.7 126h0M667.1 191.1h0M673.5 119.6h0M669.8 110.8h0M674.4 113h0M670.1 143.2h0M666.5 195h0M670 104.4h0M674.8 81.5h0M666.1 178h0M665.5 183.2h0M671.8 105h0M675 126.1h0M665.6 90.1h0M672.4 82.7h0M671.7 96.9h0M667.9 190.6h0M667.7 74.5h0M670.1 168.6h0M673.6 153.5h0M669.4 132.6h0M665 71.2h0M671.3 162.7h0M672.6 88.3h0M667.7 132.1h0M666.5 176.8h0M671 178.8h0M672.7 182.2h0M668.1 68.5h0M668.9 120.6h0M669 171.7h0M672.2 174.4h0M665.8 156.9h0M674.3 133.4h0M665.3 178.4h0M671.4 104.7h0M665.9 69.7h0M670.9 151.6h0M668.8 97h0M667.4 67.7h0M675.1 114h0M671.3 140.2h0M671 95.3h0M675.1 139.3h0M671.5 106.5h0M670.4 78.7h0M664.9 63.9h0M667.7 121.9h0M670.7 67.8h0M671 173.4h0M669.8 181h0M672.4 125.6h0M674.5 173.4h0M673.2 124h0M669.8 71h0M673.2 85.7h0M670.1 76h0M668.6 112.2h0M666.2 73.9h0M666.6 66.8h0M671.9 166.8h0M668.9 158.9h0M668.3 165.3h0M671.3 122.5h0M672.9 193h0M670.1 115.4h0M666.5 76.2h0M668.1 65.1h0M670.9 70.8h0M665.8 105.1h0M673.8 81.3h0M674.8 96.5h0M672.2 161.8h0M673.8 151.2h0M666.4 177.8h0M668.5 164.5h0M667.9 169.3h0M668.4 102.4h0M666.9 98.7h0M674.9 152.6h0M666.9 194.4h0M674.2 159.3h0M666 140.4h0M672.5 172.1h0M673 134.4h0M666.9 105.3h0M664.9 116.2h0M672.2 156.7h0M675 107h0M666.1 166.3h0M667.1 195.8h0M669 100.9h0M672.9 165.8h0M674.8 139h0M673.2 128.3h0M666.8 162.7h0M671.7 127.3h0M668.9 189.9h0M666 193.3h0M670.2 109h0M667 148.9h0M674.2 67.6h0M665.9 100.5h0M667.3 86h0M668.7 83.6h0M669 193.4h0M674.1 152.7h0M674.4 108.8h0M674.8 180.8h0M665.7 181.8h0M673.1 185.7h0M673.5 109.6h0M669.2 105.1h0M669.3 186.9h0M673.4 181.3h0M673.9 135.6h0M673.4 183.7h0M673.5 92.2h0M670.7 150.8h0M671.9 134h0M672.7 101.9h0M674.2 75.2h0M666.7 64.9h0M674.3 126.4h0M675.2 134.5h0M670.4 183.7h0M671.1 130.9h0M667.7 129.7h0M673.2 95.4h0M673.7 113.5h0M672.2 167.7h0M669.9 160.9h0M672.9 145.3h0M672.3 124.5h0M675.3 70.5h0M669.3 155.8h0M667.1 138.4h0M674.1 160.4h0M673.6 193.6h0M668.8 98.3h0M668.6 158h0M674.6 163.3h0M673.3 182.8h0M670.3 155.6h0M674.3 146h0M675.5 156.1h0M669.2 143.8h0M670 172.2h0M668.1 127.3h0M668.5 80.6h0M665.8 112.5h0M673.8 118.9h0M675 160.3h0M665.3 91.1h0M667.5 86.7h0M666.9 86.7h0M669.9 104.4h0M674.6 76.3h0M665.4 105.5h0M667.8 140.4h0M670.6 97.6h0M669.1 103.6h0M675.4 112.2h0M672.1 141.3h0M671.9 143h0M665 164.9h0M669.5 138.7h0M666.8 103.9h0M669.2 104.6h0M668.4 94.1h0M671.1 194.2h0M671 195.8h0M667.2 127.5h0M674.5 69.7h0M673 63.6h0M668.6 172.6h0M668.7 98.8h0M667.2 120.9h0M672.3 142.8h0M672.2 99.7h0M667.8 83.6h0M672.7 160.4h0M669.1 112h0M672.3 182.8h0M674 129.4h0M666.5 164.5h0M675.3 126.1h0M674.8 68.2h0M666.4 189.1h0M667.9 87.8h0M666.4 160.9h0M667.3 158.4h0M667 169.1h0M673.3 83.5h0M669.8 63.2h0M669.5 120.1h0M667.3 70.4h0M668.3 143.5h0M671 196.8h0M669.2 74.8h0M667.3 115.2h0M669 106.9h0M665.3 158h0M667.6 152.5h0M672.1 141.8h0M674.8 106.2h0M666.9 75.8h0M665.9 157.9h0M671.3 177.4h0M672.2 157.8h0M671.1 95h0M673.1 145.8h0M670.6 188.6h0M668.9 194.2h0M666.3 158.1h0M667.8 162.8h0M667.3 174.5h0M666.6 102.5h0M671.6 163.7h0M665.9 93.2h0M666.5 112.6h0M670.5 192.8h0M665.2 173.9h0M670.9 168.7h0M666.8 101.7h0M672.6 83.2h0M674.9 159h0M666.1 175.5h0M672.1 180.4h0M670.3 164.4h0M671.5 98.6h0M670 71.8h0M668 71h0M671.3 100.2h0M669.1 66.8h0M669.3 70.3h0M673.9 178.4h0M669.2 141.5h0M666.1 172.2h0M666.9 173.7h0M674.6 92.2h0M667.4 142.4h0M670.5 118.1h0M672.7 118.1h0M667.7 157.7h0M673.2 194.3h0M673.8 88h0M671.3 138.8h0M669.8 71.3h0M666.7 82.1h0M673.9 166.9h0M675.4 143.9h0M671.9 73.1h0M669.7 79.5h0M667.1 166.7h0M665.7 186.4h0M671.9 175.6h0M672.7 80.1h0M674.1 153.7h0M666.3 167.5h0M667.5 158.4h0M672.6 123.5h0M672.3 127h0M668.7 166h0M665.2 109.8h0M666.4 73.2h0M675.5 124.7h0M674 175.1h0M674.4 156.2h0M667.8 131.8h0M666.6 182.7h0M672.4 121.6h0M669.1 100h0M675.2 151.6h0M671.1 71h0M668.7 92.3h0M672.4 194.5h0M671 108.9h0M669.4 176.5h0M670.2 185h0M669 64.2h0M669.3 131.4h0M674.9 134.7h0M665.2 143.7h0M665.7 89h0M667.3 76.8h0M671.1 105.5h0M667.8 72.5h0M665.3 67.1h0M675.3 135.4h0M671.2 154.8h0M670.6 87.8h0M667.6 177.7h0M665.4 85.2h0M668.5 125.2h0M673.7 191.7h0M669.3 138.9h0M675.3 139.1h0M665.8 165.7h0M666.7 180.6h0M665.4 81.2h0M673.3 145.9h0M672.8 149h0M669.1 185.5h0M672.8 78.7h0M669.9 156.3h0M670.4 107.3h0M674.4 136.9h0M672.8 191.5h0M670.5 83.7h0M666.7 87.5h0M666.9 78.3h0M673.5 116.9h0M671.3 191.5h0M669.6 128.6h0M666.2 96.9h0M664.9 87.3h0M671.6 113.2h0M669.1 101.4h0M671.2 169.2h0M667.4 80.9h0M665.1 126h0M666.2 133.3h0M666.6 179.9h0M668.9 107.4h0M669.4 138.1h0M674 73.1h0M667.6 150.6h0M672.4 120.1h0M674.2 91.7h0M667.1 97.6h0M668.3 180.8h0M673.9 75.3h0M671.3 188.1h0M665.7 158.3h0M666.6 90.4h0M671.3 165.5h0M668.7 72.3h0M667.5 103.1h0M667.3 135.4h0M670.9 82.1h0M666.5 179.7h0M665.8 66.1h0M670.7 103.9h0M671.9 131.3h0M675.4 177.6h0M672.5 74.7h0M674.1 165.7h0M666.7 186.9h0M667 99.1h0M666.8 164.7h0M675.3 76.4h0M669.4 104.1h0M671 68.6h0M670.6 82.3h0M669.2 92.8h0M671.1 103.2h0M674.4 118.3h0M670.5 135.9h0M674 84.7h0M675.4 95.1h0M669.6 71.1h0M667.8 75h0M665.3 114.7h0M670.1 64.3h0M669.8 73.9h0M665.2 95.9h0M672 72.7h0M667.3 160.8h0M666.1 169.9h0M674.1 63.4h0M667.3 153h0M667.8 171.1h0M674 176.3h0M670.4 153.1h0M671.7 108h0M674.5 179.2h0M672.4 82.7h0M666.9 95.7h0M666.9 159.7h0M665.8 151.1h0M672.5 88h0M669.6 129.8h0M673.6 87.1h0M671.7 174.8h0M666.4 183.7h0M665.5 155.4h0M666.4 82.7h0M675 122.5h0M670 139.8h0M675.2 102.4h0M672.1 182.4h0M666.7 63.3h0M667.4 113.7h0M670 171.8h0M665.7 135h0M669.9 104.2h0M665 154.4h0M672.6 99.9h0M667.9 183.8h0M670.2 93.4h0M666.5 127.7h0M669.4 129.9h0M668 163.9h0M672.7 197.2h0M672.6 95.2h0M671.9 165.3h0M667.6 185.2h0M666.9 113.6h0M671.6 84h0M673.2 72.9h0M672.4 108.9h0M670.3 196.9h0M673.8 180.7h0M670.3 181.1h0M672.8 135.8h0M667.4 142.7h0M671.1 181.2h0M671.7 154.3h0M670.1 160.2h0M666.1 105.2h0M670.6 113.6h0M665 194.9h0M675 105.6h0M674.3 159.6h0M669 87.1h0M674.3 128.8h0M670.6 144.8h0M670 194.2h0M671.5 183.2h0M672.6 133.5h0M668.2 138.6h0M671.3 149.9h0M667.5 113.1h0M668.1 102.4h0M670.1 138.3h0M672.1 137.3h0M673.2 63.9h0M667.8 174.6h0M672.1 168.3h0M675.4 181.8h0M668.3 187.7h0M665.4 173.2h0M669.7 192.2h0M666.7 179.2h0M673.2 195.9h0M666.2 91.3h0M672 190.2h0M671.7 157.9h0M665.5 105.4h0M675 188.1h0M669.1 165.6h0M665.2 168h0M667.3 63.3h0M674.7 121h0M666.2 106.5h0M667.5 183.3h0M670.4 187.4h0M670.9 147.1h0M668.7 116.9h0M669 182.7h0M667.3 83.9h0M668 192.5h0M666.9 119.9h0M668.3 193.9h0M673.6 197.3h0M672 186.7h0M670.2 105.6h0M667.8 140h0M671.7 178h0M665.2 195.4h0M674.2 176.5h0M668.4 156.7h0M672.8 135.5h0M670.9 92.3h0M665.8 124h0M674.9 105.3h0M674.9 188.7h0M672.4 140h0M666 176.7h0M671.1 144.9h0M668.5 138.8h0M670.7 69.8h0M673.8 66.1h0M675.1 84.9h0M666.9 177.7h0M674.3 147.1h0M668.2 64.6h0M674.7 98h0M670.3 180h0M671.8 92.3h0M673 143.3h0M668.9 171.3h0M671.2 87h0M666.1 89h0M665.2 143.5h0M675.5 192.3h0M666.5 176.7h0M668.1 101.6h0M671.3 96.4h0M666.2 125.9h0M673 187.2h0M670 145.2h0M670.9 96.3h0M668 104.2h0M666 128.9h0M674.5 149.6h0M668.4 179.5h0M667.8 190.1h0M666.4 114.8h0M669.8 170.7h0M673 144.9h0M666.6 98.3h0M666.2 189.8h0M675.5 163.3h0M674.6 113.4h0M670.4 121.1h0M669.4 181.7h0M673 116.6h0M667 178h0M674.7 113.1h0M672 136.8h0M668.9 137.9h0M670 154.9h0M669.4 196h0M670.5 144.9h0M671.7 198.6h0M667.1 68.1h0M670 189.5h0M668.1 166.8h0M674.2 122.7h0M666.3 76.1h0M667.4 181.2h0M669.3 153.6h0M672.1 179.4h0M672.5 124.3h0M669.7 82.2h0M666.7 131.7h0M674.9 180.2h0M667 70.3h0M672.6 167h0M666.8 88.1h0M674.1 71.2h0M666.9 136.7h0M673.3 134.2h0M665.1 109.8h0M671.8 89.1h0M665.3 91.4h0M670.7 123.7h0M668.5 159.8h0M675.3 150.1h0M670.6 160.6h0M665.7 74.4h0M672 103.2h0M670.2 132.9h0M672.3 124.1h0M673.6 126.2h0M672.8 117.8h0M671.1 98.9h0M671.7 115.9h0M669.8 192.9h0M669.4 151.3h0M666.6 193.6h0M672.3 165.7h0M670.5 172.9h0M666.4 161.4h0M668 155.8h0M667.4 139.8h0M671.1 97.4h0M666.4 72.5h0M670.1 134.2h0M669.5 140.1h0M671 197.7h0M668 198.5h0M674.8 157.4h0M673.1 109.1h0M674.5 67.7h0M665.5 143.8h0M668.4 173.4h0M675.1 79.2h0M671.9 118.7h0M670.9 108.4h0M666.9 84.4h0M670.2 170.6h0M673.3 164.2h0M671.4 152.7h0M667.6 86.7h0M670.8 186.2h0M671.6 155.9h0M668.4 127.9h0M667 176h0M673.3 81.5h0M673 165.4h0M673.7 105.8h0M670.9 165.9h0M674.2 194.2h0M668.1 152.3h0M666.4 167.2h0M665.8 187h0M669.4 87.9h0M673.5 185.3h0M669.9 189.8h0M671.7 192.3h0M675.4 67.6h0M672 79.5h0M665.9 128.4h0M666.2 125.3h0M673.5 191.6h0M675 132.3h0M668 138.1h0M675.4 136.8h0M673 84.9h0M671.8 199.4h0M668.9 199.8h0M665.1 199.7h0M673.3 204.5h0M672.8 200.4h0M675.4 206.9h0M670.9 201h0M669.9 201h0M666.7 200.3h0M667.3 205.4h0M666.4 200.7h0M673.7 202.1h0" stroke="#72b2b3" stroke-width="2.0" stroke-linecap="round" fill="none" opacity="0.8"/>
<rect x="287.8" y="100" width="8.3" height="34" fill="url(#gt)" opacity="0.3"/>
<rect x="312.3" y="101.4" width="8.3" height="55.6" fill="url(#gt)" opacity="0.3"/>
<path d="M47.1 94.5V133.4M71.6 169.8V194.4M97.3 140.4V169M121.2 138.5V166M118.6 166H123.8M145.8 143.5V214.2M143.2 143.5H148.4M143.2 214.2H148.4M170.3 140.4V171.6M167.7 140.4H172.9M243.3 190V210.3M240.7 190H245.9M240.7 210.3H245.9M292 88V177.2M289.4 88H294.6M289.4 134H294.6M316.5 101.4V162M341.4 137V170.7M366.4 168V205M363.8 168H369M390.4 84.4V132.5M387.8 113.3H393M414.8 142.9V211M412.2 142.9H417.4M412.2 211H417.4M439.6 97V187.3M437 119.2H442.2M437 187.3H442.2M464 138V202.5M461.4 138H466.6M461.4 143.2H466.6M461.4 202.5H466.6M488.5 150.2V175.6M485.9 150.2H491.1M485.9 167H491.1M512.6 103V199M510 103H515.2M510 115.4H515.2M510 185H515.2M510 199H515.2M537 98V132.8M562.2 176.3V193.8M559.6 176.3H564.8M585.7 113.6V167.6M583.1 113.6H588.3M583.1 127.8H588.3M583.1 137.7H588.3M583.1 146.5H588.3M583.1 167.6H588.3M610.6 120.6V165.9M608 120.6H613.2M608 165.9H613.2M635.5 110V183.3M632.9 110H638.1M660.6 116.4V176.3M658 116.4H663.2" stroke="#00807f" stroke-width="0.55" fill="none"/>
<path d="M47.6 96.7h0M42.8 98h0M49.1 95.4h0M44.8 96.8h0M51.8 96.2h0M47.8 96.2h0M46.2 96.5h0M52.3 99.3h0M44 104.4h0M44 108.7h0M51.3 100.1h0M50.4 105.1h0M51.1 104.9h0M43.6 105.5h0M47.6 100.2h0M51.4 107.7h0M48.4 101.1h0M47.1 104.5h0M44.8 101.8h0M51.5 106.3h0M47 101.3h0M52 109.7h0M43.2 102.4h0M52 111.3h0M42.5 105.8h0M45.9 111.1h0M48.4 110.9h0M43.6 109.9h0M44.2 109.4h0M50.7 104.9h0M43.8 110h0M46.1 102.6h0M45.9 106.2h0M44.5 101.5h0M51.2 108.7h0M47.7 100.5h0M42.3 109.1h0M43.1 110.1h0M47.6 107.2h0M45.1 107.5h0M48 105h0M48.8 105.1h0M46.5 105.4h0M48.3 100.3h0M44.3 105.9h0M50 109.2h0M43.8 105.5h0M43 105.7h0M46.4 101.5h0M46.5 101.1h0M42.3 106.1h0M42.8 107.6h0M50 108.8h0M42.5 106.1h0M45.8 106h0M43.3 111.4h0M52.3 110.3h0M50.4 108.8h0M52.1 102.3h0M51.8 105.9h0M43.6 111h0M51.6 109.5h0M45.5 100.8h0M43.6 109.1h0M44.8 110.8h0M43.4 109.8h0M51.5 106h0M44.6 102.5h0M45.2 106.1h0M43.8 100.4h0M51.6 101.9h0M51.2 108.2h0M50.1 102h0M47.4 101.4h0M45.6 107.6h0M47.7 110.5h0M51.1 107h0M52.2 101.3h0M46 120.8h0M44.7 123.2h0M47.9 125.9h0M49.9 117h0M43.7 118.2h0M42.4 122.4h0M44.5 123.5h0M52.1 120.9h0M48.8 120.2h0M41.9 116.4h0M43.5 112.5h0M46.4 120.6h0M51.2 119.2h0M44.3 113.8h0M42.1 121.1h0M45.6 112h0M45.6 113.5h0M48 115.1h0M44 120.2h0M46.8 120.7h0M51.6 113.9h0M43.5 115.4h0M48.5 113.3h0M50 124.2h0M44.6 117.6h0M48.6 112.2h0M45.5 119.9h0M46.5 121h0M49.5 125.1h0M51.3 115.5h0M47.4 112.6h0M44.4 117.7h0M50 112.8h0M47.6 112.2h0M43.4 125.2h0M48.2 114.8h0M48.6 119.1h0M43.7 123.4h0M45 116.3h0M51.1 112.7h0M49.3 123h0M50.7 112.1h0M46.7 122.4h0M46.6 122.4h0M43 115.2h0M42.3 127.7h0M49.7 128.5h0M50.7 131.1h0M44.7 131.3h0M46.4 130.1h0M47.3 131.8h0M48.6 128h0M44.2 133.1h0M42.1 132.5h0M44.4 127.9h0M51.7 131.5h0M45.3 131.5h0M75 187.1h0M72.7 178h0M75 193.8h0M69.6 184.6h0M75.6 180.3h0M73.5 179.1h0M75.7 184.6h0M69.3 189.7h0M69.1 169.8h0M72.5 180.2h0M75.6 189.9h0M75.1 170.8h0M75.4 189.8h0M69.2 183.9h0M74.8 190.7h0M75.9 186.6h0M67.3 178.3h0M74.7 183.4h0M74.2 174.7h0M68.8 192.7h0M73.4 184.7h0M68.5 181.2h0M74.2 176.1h0M71.2 189.3h0M74.8 172h0M68.8 188.8h0M75.7 184.1h0M71.8 191.6h0M72.5 181.5h0M68.4 174.5h0M73.7 174.2h0M72.3 178.7h0M71.8 179.7h0M66.9 173.5h0M70.3 194.3h0M73 172.4h0M68 189.2h0M70 184.5h0M66.6 182.6h0M76.7 170.6h0M71.5 191.1h0M69.1 183.8h0M70.8 189h0M74.4 193.1h0M76.4 189.9h0M66.8 176h0M68.3 174.7h0M66.9 171.9h0M75.5 183.5h0M76.3 181.1h0M97.6 148.1h0M96.6 142.1h0M94.4 148.8h0M93.5 145.7h0M100.1 142.1h0M94.1 146.9h0M93 141.1h0M97.3 146h0M94.2 142.9h0M99.5 146h0M98.2 147.9h0M92.8 142.3h0M96.3 147.1h0M92.7 147h0M95.6 147.9h0M101.1 148.1h0M92.3 144.9h0M97.1 148.8h0M94.9 148.4h0M100.7 142.1h0M93.8 143.8h0M98.3 143.8h0M97.5 140.4h0M97.5 144.5h0M99.5 141.5h0M101.1 147.9h0M99.5 143.4h0M99.9 143.9h0M101.2 141h0M97.2 149.2h0M97.6 150.5h0M92.3 150.6h0M94.4 151.9h0M93.2 149.5h0M122.6 140.9h0M125.6 149.4h0M124.2 140.7h0M123.7 149.2h0M117.9 142.7h0M119.3 149.1h0M121.7 143.3h0M124.6 143.3h0M116.4 141.6h0M122.5 145.8h0M123.3 149.1h0M125.8 150.2h0M121.2 144.9h0M119.1 140.5h0M116.8 146h0M117.7 147.4h0M126.1 144.2h0M116.4 139.7h0M118 144.2h0M116 147.8h0M124.9 149.3h0M120.4 148.7h0M122.9 142.2h0M120.4 145.1h0M120.6 142.9h0M124.6 147.1h0M117.7 150.2h0M120.6 142.3h0M119.6 145.8h0M116.9 141h0M120.8 142.7h0M125.5 151h0M126.1 149.7h0M122.4 150.9h0M116.6 149h0M122.3 147.2h0M121.9 142.3h0M121 150.8h0M119.1 146.9h0M125.2 142.9h0M118 138.9h0M120.7 147.3h0M122.9 139.6h0M122 143.3h0M121.5 143.9h0M120.1 145.8h0M117.9 140h0M121.7 150h0M125 139.9h0M117 141.8h0M147.3 147.5h0M144.3 151.2h0M146.6 147.3h0M142.6 161.8h0M148 162.2h0M147.5 156.7h0M141.3 156.3h0M144.5 160.3h0M145.8 158.1h0M148.5 161.6h0M146.8 153.5h0M145.4 157.6h0M144.9 161h0M149.9 157.7h0M145.7 157.3h0M149.2 158h0M148.3 159.5h0M141 157h0M146.4 159.6h0M148.6 160.4h0M142.9 154.4h0M149.1 154h0M141.5 154.2h0M146.5 160.2h0M147.7 153.8h0M145.6 159.8h0M147.8 153.8h0M146.7 157.1h0M149.1 162.5h0M142.1 161.3h0M146 156.4h0M150.9 153.4h0M143.3 155.8h0M143.3 156.2h0M146.4 161.2h0M145 158h0M143.8 153.8h0M148.9 161.3h0M143.3 176.1h0M141.1 167.6h0M144.5 172h0M145.7 213.2h0M144.4 213.5h0M165.4 148.3h0M173.9 147.9h0M174.2 145.1h0M174.9 142.4h0M172.4 156.3h0M168.2 154.2h0M168.5 155.3h0M169.7 152.5h0M171.9 162.3h0M173 161.7h0M175.4 160.7h0M168 159.8h0M169.4 154.2h0M167.5 151.6h0M174.7 161.2h0M173.1 155h0M174.4 160h0M170.6 160.2h0M173.7 152.6h0M171.6 154.9h0M170.7 155.5h0M166.8 162.1h0M171.9 157.3h0M174.9 157.4h0M174.6 155.9h0M175.2 159.1h0M167.3 152.4h0M174.5 154.6h0M167.8 151.6h0M175.4 159.3h0M169.7 153.4h0M172.3 159h0M172.9 159.7h0M167.8 154.2h0M172.3 151.7h0M167.8 153.7h0M171.8 162.1h0M171.9 158h0M172.3 158h0M165.8 154.8h0M165.3 152.1h0M166.6 155.4h0M170.2 152.7h0M172.3 162.2h0M173.1 154.4h0M166.1 153.4h0M169.4 154.8h0M169.7 159.1h0M166.1 159.5h0M168.7 171h0M165.4 170.1h0M167.5 170h0M173.4 170.3h0M239.2 206.2h0M245.9 195.3h0M248.4 198.9h0M242.9 191.8h0M238.1 194.3h0M239 191.9h0M242.6 197.5h0M241.1 200.3h0M243.5 204.3h0M239.9 209.9h0M243.2 200.4h0M247.1 197.5h0M247.2 194.3h0M241.6 197.3h0M244 202.5h0M239 195.8h0M241.9 209.4h0M244.9 192.3h0M293.3 95.5h0M287.5 92.5h0M295.5 88.2h0M296.2 98.4h0M294.8 88.9h0M290.4 90.1h0M295.7 90.4h0M295.5 97.8h0M296.5 92.6h0M292.8 91.1h0M289.2 122.9h0M287.8 113h0M288.7 127.1h0M289.7 104.6h0M293.4 121.8h0M295.7 117.8h0M289 125.6h0M288.6 118.2h0M288.3 108.2h0M290.4 102.6h0M293.6 130.1h0M289.1 103h0M292.3 120.1h0M287.8 100.9h0M293.1 119.2h0M294.8 102.7h0M292.9 108.2h0M290.3 118h0M290.9 132.2h0M292.4 114.4h0M297.1 128.5h0M292.4 126.2h0M293.4 124.4h0M296.9 132.6h0M289.1 125.8h0M291.4 119.3h0M294.9 107.9h0M294.2 107.5h0M291.2 116.6h0M294.3 124h0M297.2 133.6h0M289.5 127.2h0M292 122.8h0M291.4 132h0M287.1 112.2h0M292.3 116h0M287.9 110.5h0M287.5 116.5h0M291.4 105.8h0M292 111.8h0M290.8 118h0M287 104.5h0M296.9 119h0M290.5 109.6h0M294.5 110.9h0M295.1 116.8h0M288.2 100.2h0M290.6 107h0M290.8 113.6h0M291.4 132.8h0M296.8 119.6h0M293 121.8h0M290.3 128.2h0M296.8 101.2h0M292.9 118.2h0M294.5 102.3h0M293.5 112.7h0M296.3 109.6h0M289.7 112.5h0M289.1 130.4h0M291.9 109.2h0M288 133.3h0M295.1 107.2h0M291.1 102.6h0M294.2 126.6h0M288 127h0M290.5 130.3h0M291.7 127.7h0M291.8 130.3h0M288.4 108.8h0M287.3 116.9h0M295.9 105.6h0M295.8 119.5h0M291.8 105.1h0M287.9 115.9h0M296.4 109h0M292.1 124.6h0M295.8 120.7h0M293 132.4h0M295.9 101.7h0M289.3 105.6h0M292.1 104.7h0M291.6 119.8h0M288.3 116h0M292.4 124.4h0M295.5 110.5h0M296.4 131.9h0M287.5 133.5h0M291.5 113.2h0M294.5 108.7h0M288.2 130.8h0M296.9 117.2h0M291.5 130.2h0M291.5 103.6h0M295 117.6h0M289.7 106.3h0M286.9 133.5h0M287.8 120.8h0M291.2 125.5h0M289.1 131.5h0M289.2 129.8h0M287.7 101.6h0M290.8 102.6h0M290.5 133h0M287.2 124.4h0M292.4 117.5h0M292.8 103.3h0M290.2 115.2h0M294 128.2h0M287.9 104.1h0M289.5 101.8h0M296.9 121.6h0M295.8 132.9h0M295 104.2h0M291.7 125.9h0M293 133.9h0M289 104h0M293.1 104.4h0M295.7 121.2h0M286.9 100.3h0M289.5 133.1h0M295.8 109h0M295 103.8h0M292.6 130.5h0M286.9 120.7h0M293.2 120.6h0M292.2 126.2h0M289.1 103.9h0M287.6 122.2h0M289.4 103.6h0M292.5 127.1h0M296.8 112.1h0M289.3 119.8h0M295.7 119.2h0M291.3 112.5h0M297.1 119.6h0M288.7 121.7h0M290.1 119.8h0M294.2 116.1h0M292.1 100.7h0M293 110.7h0M291.7 127.9h0M289.8 121.4h0M292.1 108.7h0M289.1 118.1h0M292 126h0M289.4 112.1h0M296.2 128.5h0M289.4 131.9h0M293.4 102.4h0M295.7 100.8h0M290.3 123.1h0M293.9 115h0M290.6 105.4h0M293.9 126.8h0M287.9 119.9h0M289.5 107.4h0M293.5 101.1h0M296.4 119.5h0M296.4 118.9h0M292.2 115.9h0M291.6 109.6h0M291.9 131.9h0M290.5 100.1h0M293.3 106.7h0M291.7 117.3h0M294.7 131.5h0M287.1 103h0M293 123.8h0M292 122.2h0M291.5 134.9h0M293.1 155.7h0M288.1 135.1h0M321.4 121h0M315.8 139.8h0M315.1 107.3h0M321.2 117.6h0M321.4 124.8h0M311.8 116.4h0M312.1 151.4h0M317.5 145.2h0M320 117.2h0M321.5 125.3h0M321.1 132.4h0M315.2 153.1h0M318.9 139.8h0M311.5 137.8h0M319.2 139.7h0M312.3 112.2h0M317 105.1h0M320.1 107.3h0M321.7 124.5h0M315.8 142.2h0M315.7 111.6h0M320.3 135.2h0M314.7 151h0M318.2 102.7h0M318 139.6h0M319.7 146.1h0M319.8 136.2h0M321.1 108.4h0M312.3 138.5h0M318 110.8h0M321 118.4h0M316.4 116.9h0M321.1 129.4h0M320.6 118.3h0M317.2 141.6h0M320.5 154h0M317 143.1h0M313.6 103.8h0M312.5 137.6h0M314.9 137.2h0M319.9 122.9h0M319.1 148.1h0M316.9 126.2h0M320.9 156.2h0M312.1 135.2h0M311.8 151.5h0M318.2 107.9h0M319.1 112.3h0M313 139.6h0M321.7 151.9h0M321.5 137.9h0M316.2 145.9h0M321.1 147.2h0M312.2 140.1h0M318.6 122.1h0M313 121.7h0M312.8 126.8h0M312.3 127.8h0M313.5 141.8h0M312.4 153.4h0M318 136.5h0M317.8 112.5h0M317.7 131.9h0M316.3 111.7h0M317.7 147.9h0M314.8 115h0M311.9 150.3h0M316.6 128h0M311.3 125.3h0M320.1 107.3h0M314.3 126.7h0M311.8 126.5h0M319.9 105.9h0M313.3 143.6h0M312.1 119.1h0M316.7 119.1h0M316.6 143.2h0M321.7 148.5h0M311.8 132.9h0M318.3 108.9h0M320.7 108.6h0M311.9 104.4h0M315.5 156.8h0M317.5 132.3h0M314.8 108h0M319 121.9h0M318.5 144.9h0M316.1 111.5h0M313.1 152.3h0M317.7 120.8h0M311.6 156.7h0M316.1 139.8h0M320 130.8h0M317.5 106.7h0M319.2 119h0M315.6 141.1h0M319.3 109.9h0M317.2 140.4h0M321.2 142.9h0M318.5 115h0M314.1 146.3h0M314.6 151.6h0M317.4 154.6h0M320.5 155.5h0M315.2 144.9h0M317.4 126.9h0M315.6 146.2h0M313.6 151.4h0M312.8 130.4h0M314.3 110.9h0M317.2 104h0M315.4 135.9h0M317 145.8h0M312.2 139.4h0M311.5 119.7h0M320.1 110.3h0M317.5 108.9h0M318.3 122.4h0M319.9 149.9h0M321.3 155h0M321.6 123.6h0M314.2 143.8h0M316.7 119.7h0M312.3 148.4h0M318.3 150.9h0M315.5 134.4h0M315.5 122.6h0M315.9 141.2h0M320.4 141.1h0M311.5 106.2h0M313.3 153.7h0M315.5 146.7h0M311.4 113.9h0M317.5 125.2h0M311.4 104.4h0M320.5 117.4h0M314 143.1h0M315.6 123.8h0M314.3 140.8h0M316.5 121.1h0M315.8 114.6h0M316.5 143h0M314.9 104.5h0M313.7 133.1h0M317.1 123h0M313.2 121.7h0M312 150h0M312.3 151.8h0M317 132.2h0M317.8 124.2h0M314.6 150.5h0M313.4 104.7h0M317.5 150.2h0M315.4 143.3h0M318.5 119.4h0M320.8 133h0M314.9 110.3h0M320.7 139.8h0M319.5 127.3h0M318 107.5h0M318.5 119.7h0M313.2 117.9h0M318.8 116.4h0M320.8 141h0M312 124.4h0M314 146.4h0M316.4 141.3h0M311.6 126.1h0M319.1 114h0M320.5 127h0M316.9 146.3h0M311.3 156.1h0M316.8 123.7h0M320.4 104.4h0M317.3 109.7h0M315.3 116.5h0M314.3 127.3h0M318.2 110.9h0M312.1 136.2h0M312.4 155.5h0M314.2 113.8h0M316.4 121.7h0M312.4 151.6h0M317.8 133.3h0M315 115.7h0M320.5 126.1h0M316.3 144.6h0M315 105.2h0M315.8 146.8h0M317.9 123.1h0M318 103.6h0M312.5 139.5h0M320.2 124.6h0M316.8 116h0M317 120.6h0M314.9 123.1h0M318.5 152.8h0M314.8 156.9h0M315.1 127.3h0M315.1 149.6h0M313.1 139.2h0M314.1 131.6h0M315.1 152.2h0M317.2 154.4h0M317 120.4h0M318.5 153.2h0M317.2 147.2h0M312.8 135.8h0M318 147.6h0M314.5 137.4h0M316.8 143.8h0M321.6 119.2h0M318.4 144.3h0M318.5 148.1h0M321.2 122.8h0M318.3 151.8h0M316.5 125.6h0M320.5 103.9h0M317.5 147.6h0M319.7 127.3h0M315.5 102.6h0M317.6 115.3h0M317.6 121.1h0M315.6 151.3h0M311.4 107.8h0M316.2 147.8h0M311.6 125.9h0M311.3 107.1h0M311.8 151.2h0M316.2 119.3h0M313.6 159.9h0M317.9 160.2h0M312.3 161.9h0M312.4 158.5h0M313.5 158.4h0M319.7 157.2h0M319 158.4h0M319.6 161.1h0M337.1 139.8h0M340.3 138.3h0M342.1 140.4h0M339 146.8h0M344.9 147.6h0M342.3 139.3h0M336.9 139.3h0M338.3 139.6h0M336.5 137.1h0M345.2 146.5h0M337 156.5h0M345.1 149h0M339.8 152.1h0M341.7 155h0M337.8 151.7h0M343.6 149.8h0M336.6 156.9h0M341.7 150.8h0M341.3 151.2h0M338.9 153.3h0M340.6 149.8h0M337.6 156h0M344.6 153.6h0M339.8 153.9h0M344.3 157.1h0M339.3 157.7h0M340.9 153.1h0M342.6 156.3h0M341.6 153.7h0M339.9 156.7h0M338 150h0M337.2 151h0M342 157.5h0M340.9 155.9h0M338.5 153.4h0M340.6 156.7h0M343.9 152.4h0M346.6 156.5h0M340.6 153.1h0M340.6 156.2h0M341.2 150.6h0M338.9 151.5h0M339.8 155.7h0M339.3 154.4h0M344.3 149.8h0M343.5 155.7h0M338 154.2h0M344.9 153.3h0M342.3 155.8h0M338 154.4h0M345 149.3h0M338.8 149h0M343.5 152.4h0M345.2 155h0M339 157.1h0M337.5 151h0M337.3 151.7h0M342.2 157.4h0M336.8 153.2h0M338.7 156.9h0M338.3 167.7h0M337.6 161.2h0M339.2 164.7h0M343.6 165.1h0M337.6 160.6h0M340.4 164.4h0M340 163.5h0M337.5 159.8h0M342.8 167.2h0M342.8 166.6h0M364.5 203.3h0M366 190.7h0M369.4 189.2h0M368.6 202.7h0M369.9 193h0M363.1 203.7h0M363 198.4h0M369.5 204.7h0M368.9 193.2h0M361.9 190.9h0M362 195.3h0M370.1 194.1h0M364 196.5h0M367 189.2h0M370.6 195.2h0M366 188.4h0M365.1 194h0M365.2 188.7h0M363.2 195.9h0M366.7 191.4h0M387.5 88.2h0M389.1 93.8h0M388.6 95.3h0M389.9 86h0M386.8 85.5h0M391.2 91h0M387.1 87.1h0M389.8 91h0M392.2 109h0M385.3 100.5h0M393.5 98.6h0M386.8 114.6h0M388.4 105.3h0M389.5 120.1h0M386.1 114.9h0M387.5 98h0M389.8 113h0M393.8 118.8h0M395.6 113.6h0M394.4 121h0M389.4 99.2h0M391.6 100.6h0M386.2 109.6h0M390 99h0M389.4 112.6h0M391.8 108.8h0M392.6 114.4h0M387 107.4h0M385.6 118.7h0M387.2 102.1h0M391.7 111.9h0M390.5 99.5h0M392.3 111.4h0M392.8 98.8h0M389.2 103.8h0M394 100.1h0M393.7 112.5h0M386.3 109.9h0M386 107h0M393.6 99.5h0M389.2 97h0M393.1 98h0M385.5 121.8h0M395.3 106.1h0M388.4 103.3h0M394.8 121.7h0M392.2 106.7h0M388.9 116.9h0M389.1 122h0M395.2 129.3h0M389.5 126.6h0M391.5 126h0M394.7 122.2h0M385.5 132h0M388.5 122.1h0M393.2 123.5h0M390.9 131.1h0M387.6 131.9h0M417.3 204h0M417.9 192.5h0M413.2 171.7h0M418.4 178.5h0M416.9 154.8h0M419.4 175.2h0M419.2 191.2h0M414.4 171.1h0M411.8 159.9h0M411.8 164.2h0M415.5 185.5h0M417.4 193.1h0M415.1 209h0M415.1 184.8h0M413.1 175.4h0M413.1 164h0M440.7 112.6h0M436.8 105.4h0M441.6 103.8h0M437.2 108.8h0M439.8 161.3h0M437.8 132h0M442.5 135.8h0M435.8 124h0M441.7 110.8h0M444.1 132.9h0M441.8 113.5h0M437.3 126.2h0M437.7 150.8h0M439.1 113.6h0M435.3 128.9h0M438.5 170.9h0M435.7 124.2h0M436.3 108.1h0M440.1 102.4h0M443.2 145.5h0M442.8 116.6h0M435 153.1h0M436.5 111.8h0M442.2 162.3h0M436.9 101.7h0M440.9 174.5h0M444.2 178.6h0M437.4 184.8h0M439.6 176.2h0M442.7 178.2h0M443.4 174.9h0M438.5 181h0M438 186.8h0M444.4 183.8h0M444.6 185.7h0M442.5 178.8h0M437.5 184.8h0M444 178.9h0M437.6 184h0M466.8 144.5h0M468.1 150.9h0M466.3 156.9h0M460.4 158.6h0M465.4 154.3h0M460.1 150.1h0M468.2 149h0M468.5 153.7h0M459.5 155.1h0M467.6 146.8h0M463.9 199.6h0M462.9 196.8h0M462.5 195.9h0M464.9 196.9h0M460.6 193.6h0M464.8 198.6h0M464.2 197.1h0M469.2 195.7h0M464.3 195.1h0M465.1 195.1h0M463.2 195.2h0M462.3 192.5h0M465.2 196.8h0M459.3 200.1h0M461.3 195.4h0M468.2 196.8h0M487.3 166.7h0M484.6 152.7h0M484.8 160.3h0M493.6 163.5h0M492.4 169.6h0M485.2 161.7h0M489.2 151.2h0M490.4 160.6h0M486.2 158.1h0M492.8 166.4h0M491.3 161.6h0M488.6 150.8h0M510.3 109.3h0M512.4 113.7h0M512.5 108h0M507.4 111h0M512.1 115.6h0M515.8 110.8h0M507.6 193.7h0M511 194.3h0M515.5 191.8h0M508.8 185.4h0M517.7 187.2h0M513.2 192.6h0M517.2 195.4h0M535.3 110.4h0M540.9 120h0M533.1 120.8h0M537.5 124.5h0M532.9 130.4h0M532.7 110.3h0M536.6 108.5h0M535.4 113.6h0M541.5 123.7h0M536.6 118.1h0M538.2 125.9h0M534.4 119.4h0M539 117.4h0M537.9 102.3h0M537.7 119h0M541.4 122.3h0M541.5 131h0M533.5 126.9h0M539.3 123h0M536.5 116.3h0M535.7 111.2h0M533.9 112.1h0M537.9 126.2h0M537.1 131.8h0M541.7 131.5h0M537.3 101.4h0M541.3 119.9h0M539.7 112.6h0M535.5 106.8h0M538 112.1h0M533.5 107.2h0M533.5 98.9h0M540.7 128.3h0M536.5 108.7h0M537.6 112h0M532.2 106.3h0M541.8 117.4h0M538.2 126.9h0M536.1 102.2h0M542.1 115.2h0M539.2 119.6h0M539.5 114.4h0M542 104.2h0M538.8 131h0M540.7 112.2h0M534.3 98.3h0M540.4 119.4h0M539 107.7h0M540.1 129.6h0M540.1 115.8h0M536.6 128.4h0M535.3 106.2h0M541.8 110.8h0M538.3 98.3h0M533.6 104.3h0M536.2 111h0M534.5 124.5h0M532.3 121.9h0M535.1 110.1h0M537.3 103h0M534.8 110.1h0M539.9 107.7h0M538.9 111.2h0M540.3 122.4h0M538.9 126.8h0M535.3 115.8h0M532.6 131.1h0M532.9 101.6h0M541 111.9h0M538.9 130.6h0M534.3 130.5h0M535.3 117.2h0M541 117.2h0M537.1 103.6h0M533 100.7h0M537 110h0M540.5 99h0M539.8 98.4h0M535.5 108.3h0M532.1 126.3h0M533.4 114.1h0M539.4 123.9h0M540.1 105.3h0M533.4 103.3h0M536.1 103.9h0M534.7 130.5h0M537.4 113.3h0M533.9 127.6h0M533.3 109.7h0M539.5 130.7h0M535.5 115.4h0M535.5 118.4h0M539 110.4h0M532.9 100.3h0M542.2 104.2h0M536.2 103.5h0M536.7 112.3h0M539.4 121.9h0M534 127.4h0M538.5 131.8h0M535.2 122.3h0M532 117.6h0M535.7 127.9h0M537.6 120.8h0M534.6 118.3h0M533.9 122.7h0M536.7 129h0M532.1 129.8h0M532.5 99.4h0M532.7 115.5h0M561.6 181.1h0M563.1 180h0M560.7 178.2h0M560.1 176.3h0M562 176.6h0M559.6 178.3h0M563.6 179.6h0M557.2 176.3h0M559.4 179.6h0M562.9 179.7h0M567.1 176.5h0M563.8 177.1h0M564.8 178.8h0M564.2 180.1h0M558.5 179h0M563.8 177h0M562.2 184.7h0M565.9 188h0M566.8 184.5h0M567.2 189.8h0M557.6 189.6h0M558.4 193h0M584.6 154.9h0M586.8 122h0M582 116.3h0M584.2 167.4h0M590.5 164.7h0M589.7 131.6h0M588.9 163.6h0M585.3 129.4h0M587.9 150.2h0M585.2 163h0M581.1 152.6h0M583.6 159.9h0M580.7 152.4h0M585.5 135.5h0M585.9 139.8h0M589.3 167h0M581.1 134h0M589 124.7h0M586 152.1h0M582.6 153.5h0M585.4 139.3h0M585.4 131.6h0M615.1 123.9h0M612 122.7h0M606.7 127.6h0M609.6 124.5h0M615.7 123.9h0M607.3 139.1h0M614.5 141.5h0M613.8 133.7h0M605.8 137.4h0M615.7 140.6h0M610.8 141.1h0M610.5 133.4h0M611.6 137.8h0M615.6 139h0M613 137.9h0M615 138.2h0M614.1 134.7h0M615 134.4h0M608.9 135.8h0M612.1 137.6h0M615.7 137.9h0M608.7 135.3h0M614.1 136.3h0M609.4 133.8h0M606.4 136.8h0M612.2 135.1h0M609.3 138h0M612.1 162.6h0M608.4 164.7h0M614.2 160.7h0M609.9 160.7h0M615.1 160.8h0M608.4 165.1h0M632.7 112.1h0M635.5 111.1h0M630.6 110.1h0M633.1 110.5h0M634.8 179.8h0M638.4 180.7h0M634.4 182.9h0M634.2 182.7h0M631.8 182.7h0M640.5 181h0M662 130.7h0M665.4 119.8h0M658.4 124.9h0M655.9 134.4h0M661.8 138.5h0M660.7 139.3h0M658.7 138.1h0M661.8 150.1h0M665.4 149h0M660.8 138.2h0M658.1 134.7h0M665.3 138.5h0M661.3 147.6h0M658.2 136.4h0M660.4 139.7h0M655.9 148.1h0M656.7 147h0M659 148.5h0M659.6 143.9h0M665.7 149.8h0M660 143.9h0M659.1 141.8h0M656.1 139.8h0M655.5 150.7h0M664.4 139.9h0M660.2 147.8h0M665.8 146.7h0M663.3 136.9h0M658 149.6h0M657.4 141.8h0M665.3 156.1h0M655.6 164.3h0M659.4 157.8h0" stroke="#00807f" stroke-width="2.0" stroke-linecap="round" fill="none" opacity="0.9"/>
<rect x="189.6" y="182.2" width="10.3" height="3.2" rx="1.2" fill="#00807f"/>
<path d="M213.9 71.5H223.8M213.9 76.1H223.8M218.9 70.5V77.1" stroke="#00807f" stroke-width="2" fill="none"/>
<rect x="262.4" y="178.5" width="10.3" height="3.2" rx="1.2" fill="#00807f"/>
</g>
<path d="M37.3 25.2V230.5H680.8" stroke="#555" stroke-width="0.9" fill="none"/>
<path d="M35.2 220.9H37.3" stroke="#555" stroke-width="0.8"/>
<text x="32.5" y="223.5" text-anchor="end" font-size="6.5" fill="#555" stroke="#555" stroke-width="0.22">0</text>
<path d="M35.2 174.1H37.3" stroke="#555" stroke-width="0.8"/>
<text x="32.5" y="176.7" text-anchor="end" font-size="6.5" fill="#555" stroke="#555" stroke-width="0.22">10</text>
<path d="M35.2 127.5H37.3" stroke="#555" stroke-width="0.8"/>
<text x="32.5" y="130.1" text-anchor="end" font-size="6.5" fill="#555" stroke="#555" stroke-width="0.22">20</text>
<path d="M35.2 80.9H37.3" stroke="#555" stroke-width="0.8"/>
<text x="32.5" y="83.5" text-anchor="end" font-size="6.5" fill="#555" stroke="#555" stroke-width="0.22">30</text>
<path d="M35.2 34.3H37.3" stroke="#555" stroke-width="0.8"/>
<text x="32.5" y="36.9" text-anchor="end" font-size="6.5" fill="#555" stroke="#555" stroke-width="0.22">40</text>
<path d="M53 230.5V232.7" stroke="#555" stroke-width="0.8"/>
<path d="M77.5 230.5V232.7" stroke="#555" stroke-width="0.8"/>
<path d="M102 230.5V232.7" stroke="#555" stroke-width="0.8"/>
<path d="M126.5 230.5V232.7" stroke="#555" stroke-width="0.8"/>
<path d="M151 230.5V232.7" stroke="#555" stroke-width="0.8"/>
<path d="M175.4 230.5V232.7" stroke="#555" stroke-width="0.8"/>
<path d="M199.9 230.5V232.7" stroke="#555" stroke-width="0.8"/>
<path d="M224.4 230.5V232.7" stroke="#555" stroke-width="0.8"/>
<path d="M248.9 230.5V232.7" stroke="#555" stroke-width="0.8"/>
<path d="M273.4 230.5V232.7" stroke="#555" stroke-width="0.8"/>
<path d="M297.9 230.5V232.7" stroke="#555" stroke-width="0.8"/>
<path d="M322.4 230.5V232.7" stroke="#555" stroke-width="0.8"/>
<path d="M346.9 230.5V232.7" stroke="#555" stroke-width="0.8"/>
<path d="M371.4 230.5V232.7" stroke="#555" stroke-width="0.8"/>
<path d="M395.9 230.5V232.7" stroke="#555" stroke-width="0.8"/>
<path d="M420.3 230.5V232.7" stroke="#555" stroke-width="0.8"/>
<path d="M444.8 230.5V232.7" stroke="#555" stroke-width="0.8"/>
<path d="M469.3 230.5V232.7" stroke="#555" stroke-width="0.8"/>
<path d="M493.8 230.5V232.7" stroke="#555" stroke-width="0.8"/>
<path d="M518.3 230.5V232.7" stroke="#555" stroke-width="0.8"/>
<path d="M542.8 230.5V232.7" stroke="#555" stroke-width="0.8"/>
<path d="M567.3 230.5V232.7" stroke="#555" stroke-width="0.8"/>
<path d="M591.8 230.5V232.7" stroke="#555" stroke-width="0.8"/>
<path d="M616.3 230.5V232.7" stroke="#555" stroke-width="0.8"/>
<path d="M640.8 230.5V232.7" stroke="#555" stroke-width="0.8"/>
<path d="M665.2 230.5V232.7" stroke="#555" stroke-width="0.8"/>
<text transform="translate(16.9 128.5) rotate(-90)" text-anchor="middle" font-size="8.15" fill="#555" stroke="#555" stroke-width="0.22">Percentage of divergence</text>
<text x="-0.3" y="7.1" font-size="12.3" font-weight="bold" fill="#111" stroke="#111" stroke-width="0.22">a</text>
<text x="49" y="17.6" font-size="8.13" fill="#555" stroke="#555" stroke-width="0.22">ERVs with high representation in BL6J Chr4 KZFP gene cluster vs genome-wide</text>
<rect x="530.8" y="9.6" width="11.5" height="11.5" fill="#008080"/>
<text x="545" y="18.1" font-size="8.15" fill="#555" stroke="#555" stroke-width="0.22">Chr4 KZFP cluster</text>
<rect x="626.7" y="9.6" width="11.5" height="11.5" fill="#89b2b2"/>
<text x="641" y="18.1" font-size="8.1" fill="#555" stroke="#555" stroke-width="0.22">genome</text>
<rect x="47.9" y="238" width="11.1" height="10" fill="#a84e76"/>
<rect x="47.9" y="247.9" width="11.1" height="10" fill="#aa5079"/>
<rect x="47.9" y="257.9" width="11.1" height="10" fill="#a84e76"/>
<rect x="47.9" y="267.8" width="11.1" height="10" fill="#a54b73"/>
<rect x="47.9" y="277.7" width="11.1" height="10" fill="#d97a97"/>
<rect x="47.9" y="287.6" width="11.1" height="10" fill="#ef9ba6"/>
<rect x="47.9" y="297.6" width="11.1" height="10" fill="#e8e8e6"/>
<path d="M47.9 247.9h11.1M47.9 257.9h11.1M47.9 267.8h11.1M47.9 277.7h11.1M47.9 287.6h11.1M47.9 297.6h11.1" stroke="#fff" stroke-opacity="0.4" stroke-width="0.9"/>
<rect x="72.3" y="238" width="11.1" height="10" fill="#cb6990"/>
<rect x="72.3" y="247.9" width="11.1" height="10" fill="#d67d97"/>
<rect x="72.3" y="257.9" width="11.1" height="10" fill="#c46790"/>
<rect x="72.3" y="267.8" width="11.1" height="10" fill="#cc6890"/>
<rect x="72.3" y="277.7" width="11.1" height="10" fill="#e8e8e6"/>
<rect x="72.3" y="287.6" width="11.1" height="10" fill="#e8e8e6"/>
<rect x="72.3" y="297.6" width="11.1" height="10" fill="#e8e8e6"/>
<path d="M72.3 247.9h11.1M72.3 257.9h11.1M72.3 267.8h11.1M72.3 277.7h11.1M72.3 287.6h11.1M72.3 297.6h11.1" stroke="#fff" stroke-opacity="0.4" stroke-width="0.9"/>
<rect x="96.8" y="238" width="11.1" height="10" fill="#a94f78"/>
<rect x="96.8" y="247.9" width="11.1" height="10" fill="#d0708f"/>
<rect x="96.8" y="257.9" width="11.1" height="10" fill="#a34c73"/>
<rect x="96.8" y="267.8" width="11.1" height="10" fill="#ef9aa3"/>
<rect x="96.8" y="277.7" width="11.1" height="10" fill="#e8e8e6"/>
<rect x="96.8" y="287.6" width="11.1" height="10" fill="#e8e8e6"/>
<rect x="96.8" y="297.6" width="11.1" height="10" fill="#e8e8e6"/>
<path d="M96.8 247.9h11.1M96.8 257.9h11.1M96.8 267.8h11.1M96.8 277.7h11.1M96.8 287.6h11.1M96.8 297.6h11.1" stroke="#fff" stroke-opacity="0.4" stroke-width="0.9"/>
<rect x="121.3" y="238" width="11.1" height="10" fill="#b1547c"/>
<rect x="121.3" y="247.9" width="11.1" height="10" fill="#b1547c"/>
<rect x="121.3" y="257.9" width="11.1" height="10" fill="#ae5279"/>
<rect x="121.3" y="267.8" width="11.1" height="10" fill="#a84e74"/>
<rect x="121.3" y="277.7" width="11.1" height="10" fill="#e08a9a"/>
<rect x="121.3" y="287.6" width="11.1" height="10" fill="#e8e8e6"/>
<rect x="121.3" y="297.6" width="11.1" height="10" fill="#e8e8e6"/>
<path d="M121.3 247.9h11.1M121.3 257.9h11.1M121.3 267.8h11.1M121.3 277.7h11.1M121.3 287.6h11.1M121.3 297.6h11.1" stroke="#fff" stroke-opacity="0.4" stroke-width="0.9"/>
<rect x="145.8" y="238" width="11.1" height="10" fill="#ca6990"/>
<rect x="145.8" y="247.9" width="11.1" height="10" fill="#d3738f"/>
<rect x="145.8" y="257.9" width="11.1" height="10" fill="#cc6b90"/>
<rect x="145.8" y="267.8" width="11.1" height="10" fill="#dd8097"/>
<rect x="145.8" y="277.7" width="11.1" height="10" fill="#f1dcaf"/>
<rect x="145.8" y="287.6" width="11.1" height="10" fill="#e8e8e6"/>
<rect x="145.8" y="297.6" width="11.1" height="10" fill="#e8e8e6"/>
<path d="M145.8 247.9h11.1M145.8 257.9h11.1M145.8 267.8h11.1M145.8 277.7h11.1M145.8 287.6h11.1M145.8 297.6h11.1" stroke="#fff" stroke-opacity="0.4" stroke-width="0.9"/>
<rect x="170.3" y="238" width="11.1" height="10" fill="#cd6a8f"/>
<rect x="170.3" y="247.9" width="11.1" height="10" fill="#e88d9e"/>
<rect x="170.3" y="257.9" width="11.1" height="10" fill="#f5b0a6"/>
<rect x="170.3" y="267.8" width="11.1" height="10" fill="#f1d4a4"/>
<rect x="170.3" y="277.7" width="11.1" height="10" fill="#cc6790"/>
<rect x="170.3" y="287.6" width="11.1" height="10" fill="#e8e8e6"/>
<rect x="170.3" y="297.6" width="11.1" height="10" fill="#e8e8e6"/>
<path d="M170.3 247.9h11.1M170.3 257.9h11.1M170.3 267.8h11.1M170.3 277.7h11.1M170.3 287.6h11.1M170.3 297.6h11.1" stroke="#fff" stroke-opacity="0.4" stroke-width="0.9"/>
<rect x="194.8" y="238" width="11.1" height="10" fill="#ce6990"/>
<rect x="194.8" y="247.9" width="11.1" height="10" fill="#d97a98"/>
<rect x="194.8" y="257.9" width="11.1" height="10" fill="#e88e9f"/>
<rect x="194.8" y="267.8" width="11.1" height="10" fill="#f6b4a6"/>
<rect x="194.8" y="277.7" width="11.1" height="10" fill="#e8e8e6"/>
<rect x="194.8" y="287.6" width="11.1" height="10" fill="#e8e8e6"/>
<rect x="194.8" y="297.6" width="11.1" height="10" fill="#e8e8e6"/>
<path d="M194.8 247.9h11.1M194.8 257.9h11.1M194.8 267.8h11.1M194.8 277.7h11.1M194.8 287.6h11.1M194.8 297.6h11.1" stroke="#fff" stroke-opacity="0.4" stroke-width="0.9"/>
<rect x="219.3" y="238" width="11.1" height="10" fill="#f6bca5"/>
<rect x="219.3" y="247.9" width="11.1" height="10" fill="#f3c4a8"/>
<rect x="219.3" y="257.9" width="11.1" height="10" fill="#efd8a6"/>
<rect x="219.3" y="267.8" width="11.1" height="10" fill="#faefda"/>
<rect x="219.3" y="277.7" width="11.1" height="10" fill="#e8e8e6"/>
<rect x="219.3" y="287.6" width="11.1" height="10" fill="#e8e8e6"/>
<rect x="219.3" y="297.6" width="11.1" height="10" fill="#e8e8e6"/>
<path d="M219.3 247.9h11.1M219.3 257.9h11.1M219.3 267.8h11.1M219.3 277.7h11.1M219.3 287.6h11.1M219.3 297.6h11.1" stroke="#fff" stroke-opacity="0.4" stroke-width="0.9"/>
<rect x="243.8" y="238" width="11.1" height="10" fill="#f0a0a8"/>
<rect x="243.8" y="247.9" width="11.1" height="10" fill="#f3aaab"/>
<rect x="243.8" y="257.9" width="11.1" height="10" fill="#e8e8e6"/>
<rect x="243.8" y="267.8" width="11.1" height="10" fill="#e8e8e6"/>
<rect x="243.8" y="277.7" width="11.1" height="10" fill="#e8e8e6"/>
<rect x="243.8" y="287.6" width="11.1" height="10" fill="#f1d6a6"/>
<rect x="243.8" y="297.6" width="11.1" height="10" fill="#e8e8e6"/>
<path d="M243.8 247.9h11.1M243.8 257.9h11.1M243.8 267.8h11.1M243.8 277.7h11.1M243.8 287.6h11.1M243.8 297.6h11.1" stroke="#fff" stroke-opacity="0.4" stroke-width="0.9"/>
<rect x="268.3" y="238" width="11.1" height="10" fill="#d07294"/>
<rect x="268.3" y="247.9" width="11.1" height="10" fill="#e08a9f"/>
<rect x="268.3" y="257.9" width="11.1" height="10" fill="#dd849c"/>
<rect x="268.3" y="267.8" width="11.1" height="10" fill="#cc6a93"/>
<rect x="268.3" y="277.7" width="11.1" height="10" fill="#e8e8e6"/>
<rect x="268.3" y="287.6" width="11.1" height="10" fill="#e8e8e6"/>
<rect x="268.3" y="297.6" width="11.1" height="10" fill="#e8e8e6"/>
<path d="M268.3 247.9h11.1M268.3 257.9h11.1M268.3 267.8h11.1M268.3 277.7h11.1M268.3 287.6h11.1M268.3 297.6h11.1" stroke="#fff" stroke-opacity="0.4" stroke-width="0.9"/>
<rect x="292.7" y="238" width="11.1" height="10" fill="#db7f9b"/>
<rect x="292.7" y="247.9" width="11.1" height="10" fill="#e0869f"/>
<rect x="292.7" y="257.9" width="11.1" height="10" fill="#db7d9b"/>
<rect x="292.7" y="267.8" width="11.1" height="10" fill="#e0889f"/>
<rect x="292.7" y="277.7" width="11.1" height="10" fill="#e2899d"/>
<rect x="292.7" y="287.6" width="11.1" height="10" fill="#f5c2a6"/>
<rect x="292.7" y="297.6" width="11.1" height="10" fill="#f5c3a6"/>
<path d="M292.7 247.9h11.1M292.7 257.9h11.1M292.7 267.8h11.1M292.7 277.7h11.1M292.7 287.6h11.1M292.7 297.6h11.1" stroke="#fff" stroke-opacity="0.4" stroke-width="0.9"/>
<rect x="317.2" y="238" width="11.1" height="10" fill="#f3a2a6"/>
<rect x="317.2" y="247.9" width="11.1" height="10" fill="#f4a6a8"/>
<rect x="317.2" y="257.9" width="11.1" height="10" fill="#f3a2a6"/>
<rect x="317.2" y="267.8" width="11.1" height="10" fill="#f3a4a7"/>
<rect x="317.2" y="277.7" width="11.1" height="10" fill="#d9809c"/>
<rect x="317.2" y="287.6" width="11.1" height="10" fill="#f4bca4"/>
<rect x="317.2" y="297.6" width="11.1" height="10" fill="#f4bba4"/>
<path d="M317.2 247.9h11.1M317.2 257.9h11.1M317.2 267.8h11.1M317.2 277.7h11.1M317.2 287.6h11.1M317.2 297.6h11.1" stroke="#fff" stroke-opacity="0.4" stroke-width="0.9"/>
<rect x="341.7" y="238" width="11.1" height="10" fill="#e38a9e"/>
<rect x="341.7" y="247.9" width="11.1" height="10" fill="#eb96a2"/>
<rect x="341.7" y="257.9" width="11.1" height="10" fill="#ea949f"/>
<rect x="341.7" y="267.8" width="11.1" height="10" fill="#ec98a3"/>
<rect x="341.7" y="277.7" width="11.1" height="10" fill="#f1e0b0"/>
<rect x="341.7" y="287.6" width="11.1" height="10" fill="#efd9a8"/>
<rect x="341.7" y="297.6" width="11.1" height="10" fill="#f5b6a6"/>
<path d="M341.7 247.9h11.1M341.7 257.9h11.1M341.7 267.8h11.1M341.7 277.7h11.1M341.7 287.6h11.1M341.7 297.6h11.1" stroke="#fff" stroke-opacity="0.4" stroke-width="0.9"/>
<rect x="366.2" y="238" width="11.1" height="10" fill="#e38ea0"/>
<rect x="366.2" y="247.9" width="11.1" height="10" fill="#f5b4a5"/>
<rect x="366.2" y="257.9" width="11.1" height="10" fill="#f5bea6"/>
<rect x="366.2" y="267.8" width="11.1" height="10" fill="#e8e8e6"/>
<rect x="366.2" y="277.7" width="11.1" height="10" fill="#e38c9f"/>
<rect x="366.2" y="287.6" width="11.1" height="10" fill="#e8e8e6"/>
<rect x="366.2" y="297.6" width="11.1" height="10" fill="#e8e8e6"/>
<path d="M366.2 247.9h11.1M366.2 257.9h11.1M366.2 267.8h11.1M366.2 277.7h11.1M366.2 287.6h11.1M366.2 297.6h11.1" stroke="#fff" stroke-opacity="0.4" stroke-width="0.9"/>
<rect x="390.7" y="238" width="11.1" height="10" fill="#f5a5a8"/>
<rect x="390.7" y="247.9" width="11.1" height="10" fill="#f3a3a7"/>
<rect x="390.7" y="257.9" width="11.1" height="10" fill="#f2a2a6"/>
<rect x="390.7" y="267.8" width="11.1" height="10" fill="#f5a6a9"/>
<rect x="390.7" y="277.7" width="11.1" height="10" fill="#f4c7a5"/>
<rect x="390.7" y="287.6" width="11.1" height="10" fill="#f5c2a6"/>
<rect x="390.7" y="297.6" width="11.1" height="10" fill="#f5c5a6"/>
<path d="M390.7 247.9h11.1M390.7 257.9h11.1M390.7 267.8h11.1M390.7 277.7h11.1M390.7 287.6h11.1M390.7 297.6h11.1" stroke="#fff" stroke-opacity="0.4" stroke-width="0.9"/>
<rect x="415.2" y="238" width="11.1" height="10" fill="#f5b0a6"/>
<rect x="415.2" y="247.9" width="11.1" height="10" fill="#f4a8aa"/>
<rect x="415.2" y="257.9" width="11.1" height="10" fill="#eb98a4"/>
<rect x="415.2" y="267.8" width="11.1" height="10" fill="#f5c0a6"/>
<rect x="415.2" y="277.7" width="11.1" height="10" fill="#e8e8e6"/>
<rect x="415.2" y="287.6" width="11.1" height="10" fill="#e8e8e6"/>
<rect x="415.2" y="297.6" width="11.1" height="10" fill="#e8e8e6"/>
<path d="M415.2 247.9h11.1M415.2 257.9h11.1M415.2 267.8h11.1M415.2 277.7h11.1M415.2 287.6h11.1M415.2 297.6h11.1" stroke="#fff" stroke-opacity="0.4" stroke-width="0.9"/>
<rect x="439.7" y="238" width="11.1" height="10" fill="#f3a6aa"/>
<rect x="439.7" y="247.9" width="11.1" height="10" fill="#eb9aa4"/>
<rect x="439.7" y="257.9" width="11.1" height="10" fill="#f5bba6"/>
<rect x="439.7" y="267.8" width="11.1" height="10" fill="#f0d9a8"/>
<rect x="439.7" y="277.7" width="11.1" height="10" fill="#e8e8e6"/>
<rect x="439.7" y="287.6" width="11.1" height="10" fill="#cc6a90"/>
<rect x="439.7" y="297.6" width="11.1" height="10" fill="#e8e8e6"/>
<path d="M439.7 247.9h11.1M439.7 257.9h11.1M439.7 267.8h11.1M439.7 277.7h11.1M439.7 287.6h11.1M439.7 297.6h11.1" stroke="#fff" stroke-opacity="0.4" stroke-width="0.9"/>
<rect x="464.2" y="238" width="11.1" height="10" fill="#f5b0a6"/>
<rect x="464.2" y="247.9" width="11.1" height="10" fill="#f5a8aa"/>
<rect x="464.2" y="257.9" width="11.1" height="10" fill="#f5b8a6"/>
<rect x="464.2" y="267.8" width="11.1" height="10" fill="#f1c8a6"/>
<rect x="464.2" y="277.7" width="11.1" height="10" fill="#f4e1b7"/>
<rect x="464.2" y="287.6" width="11.1" height="10" fill="#e8e8e6"/>
<rect x="464.2" y="297.6" width="11.1" height="10" fill="#e8e8e6"/>
<path d="M464.2 247.9h11.1M464.2 257.9h11.1M464.2 267.8h11.1M464.2 277.7h11.1M464.2 287.6h11.1M464.2 297.6h11.1" stroke="#fff" stroke-opacity="0.4" stroke-width="0.9"/>
<rect x="488.7" y="238" width="11.1" height="10" fill="#f5afa6"/>
<rect x="488.7" y="247.9" width="11.1" height="10" fill="#f5b3a6"/>
<rect x="488.7" y="257.9" width="11.1" height="10" fill="#f3bda6"/>
<rect x="488.7" y="267.8" width="11.1" height="10" fill="#f5aeaa"/>
<rect x="488.7" y="277.7" width="11.1" height="10" fill="#e8e8e6"/>
<rect x="488.7" y="287.6" width="11.1" height="10" fill="#e8e8e6"/>
<rect x="488.7" y="297.6" width="11.1" height="10" fill="#e8e8e6"/>
<path d="M488.7 247.9h11.1M488.7 257.9h11.1M488.7 267.8h11.1M488.7 277.7h11.1M488.7 287.6h11.1M488.7 297.6h11.1" stroke="#fff" stroke-opacity="0.4" stroke-width="0.9"/>
<rect x="513.2" y="238" width="11.1" height="10" fill="#f7e8cf"/>
<rect x="513.2" y="247.9" width="11.1" height="10" fill="#fbf4e6"/>
<rect x="513.2" y="257.9" width="11.1" height="10" fill="#f0d9a7"/>
<rect x="513.2" y="267.8" width="11.1" height="10" fill="#f0d7a6"/>
<rect x="513.2" y="277.7" width="11.1" height="10" fill="#faf0dc"/>
<rect x="513.2" y="287.6" width="11.1" height="10" fill="#f5c1a5"/>
<rect x="513.2" y="297.6" width="11.1" height="10" fill="#e8e8e6"/>
<path d="M513.2 247.9h11.1M513.2 257.9h11.1M513.2 267.8h11.1M513.2 277.7h11.1M513.2 287.6h11.1M513.2 297.6h11.1" stroke="#fff" stroke-opacity="0.4" stroke-width="0.9"/>
<rect x="537.6" y="238" width="11.1" height="10" fill="#f5a8a8"/>
<rect x="537.6" y="247.9" width="11.1" height="10" fill="#f5b6a6"/>
<rect x="537.6" y="257.9" width="11.1" height="10" fill="#f5bba6"/>
<rect x="537.6" y="267.8" width="11.1" height="10" fill="#f4c0a4"/>
<rect x="537.6" y="277.7" width="11.1" height="10" fill="#e4efd2"/>
<rect x="537.6" y="287.6" width="11.1" height="10" fill="#f4e2bf"/>
<rect x="537.6" y="297.6" width="11.1" height="10" fill="#f9ecd8"/>
<path d="M537.6 247.9h11.1M537.6 257.9h11.1M537.6 267.8h11.1M537.6 277.7h11.1M537.6 287.6h11.1M537.6 297.6h11.1" stroke="#fff" stroke-opacity="0.4" stroke-width="0.9"/>
<rect x="562.1" y="238" width="11.1" height="10" fill="#f5a8aa"/>
<rect x="562.1" y="247.9" width="11.1" height="10" fill="#f5b4a6"/>
<rect x="562.1" y="257.9" width="11.1" height="10" fill="#f3c2a4"/>
<rect x="562.1" y="267.8" width="11.1" height="10" fill="#f5abaa"/>
<rect x="562.1" y="277.7" width="11.1" height="10" fill="#e8e8e6"/>
<rect x="562.1" y="287.6" width="11.1" height="10" fill="#e8e8e6"/>
<rect x="562.1" y="297.6" width="11.1" height="10" fill="#e8e8e6"/>
<path d="M562.1 247.9h11.1M562.1 257.9h11.1M562.1 267.8h11.1M562.1 277.7h11.1M562.1 287.6h11.1M562.1 297.6h11.1" stroke="#fff" stroke-opacity="0.4" stroke-width="0.9"/>
<rect x="586.6" y="238" width="11.1" height="10" fill="#f5bca6"/>
<rect x="586.6" y="247.9" width="11.1" height="10" fill="#f1c9a6"/>
<rect x="586.6" y="257.9" width="11.1" height="10" fill="#f0d6a6"/>
<rect x="586.6" y="267.8" width="11.1" height="10" fill="#e8e8e6"/>
<rect x="586.6" y="277.7" width="11.1" height="10" fill="#f5b9a6"/>
<rect x="586.6" y="287.6" width="11.1" height="10" fill="#e8e8e6"/>
<rect x="586.6" y="297.6" width="11.1" height="10" fill="#e8e8e6"/>
<path d="M586.6 247.9h11.1M586.6 257.9h11.1M586.6 267.8h11.1M586.6 277.7h11.1M586.6 287.6h11.1M586.6 297.6h11.1" stroke="#fff" stroke-opacity="0.4" stroke-width="0.9"/>
<rect x="611.1" y="238" width="11.1" height="10" fill="#f5abab"/>
<rect x="611.1" y="247.9" width="11.1" height="10" fill="#f5adab"/>
<rect x="611.1" y="257.9" width="11.1" height="10" fill="#f5b2a9"/>
<rect x="611.1" y="267.8" width="11.1" height="10" fill="#f5b0a9"/>
<rect x="611.1" y="277.7" width="11.1" height="10" fill="#e8e8e6"/>
<rect x="611.1" y="287.6" width="11.1" height="10" fill="#e8e8e6"/>
<rect x="611.1" y="297.6" width="11.1" height="10" fill="#e8e8e6"/>
<path d="M611.1 247.9h11.1M611.1 257.9h11.1M611.1 267.8h11.1M611.1 277.7h11.1M611.1 287.6h11.1M611.1 297.6h11.1" stroke="#fff" stroke-opacity="0.4" stroke-width="0.9"/>
<rect x="635.6" y="238" width="11.1" height="10" fill="#f5b8a6"/>
<rect x="635.6" y="247.9" width="11.1" height="10" fill="#f5aeaa"/>
<rect x="635.6" y="257.9" width="11.1" height="10" fill="#f5adaa"/>
<rect x="635.6" y="267.8" width="11.1" height="10" fill="#f3e0b6"/>
<rect x="635.6" y="277.7" width="11.1" height="10" fill="#f0d7a4"/>
<rect x="635.6" y="287.6" width="11.1" height="10" fill="#f0d7a4"/>
<rect x="635.6" y="297.6" width="11.1" height="10" fill="#e8e8e6"/>
<path d="M635.6 247.9h11.1M635.6 257.9h11.1M635.6 267.8h11.1M635.6 277.7h11.1M635.6 287.6h11.1M635.6 297.6h11.1" stroke="#fff" stroke-opacity="0.4" stroke-width="0.9"/>
<rect x="660.1" y="238" width="11.1" height="10" fill="#efd4a6"/>
<rect x="660.1" y="247.9" width="11.1" height="10" fill="#f1dfb1"/>
<rect x="660.1" y="257.9" width="11.1" height="10" fill="#faeed8"/>
<rect x="660.1" y="267.8" width="11.1" height="10" fill="#faeed8"/>
<rect x="660.1" y="277.7" width="11.1" height="10" fill="#fbfbf1"/>
<rect x="660.1" y="287.6" width="11.1" height="10" fill="#e8e8e6"/>
<rect x="660.1" y="297.6" width="11.1" height="10" fill="#e8e8e6"/>
<path d="M660.1 247.9h11.1M660.1 257.9h11.1M660.1 267.8h11.1M660.1 277.7h11.1M660.1 287.6h11.1M660.1 297.6h11.1" stroke="#fff" stroke-opacity="0.4" stroke-width="0.9"/>
<text x="38.9" y="244.5" text-anchor="end" font-size="8" fill="#444" stroke="#444" stroke-width="0.22">BL6J</text>
<text x="38.9" y="254.4" text-anchor="end" font-size="8" fill="#444" stroke="#444" stroke-width="0.22">129S1</text>
<text x="38.9" y="264.4" text-anchor="end" font-size="8" fill="#444" stroke="#444" stroke-width="0.22">CAST</text>
<text x="38.9" y="274.3" text-anchor="end" font-size="8" fill="#444" font-style="italic" stroke="#444" stroke-width="0.22">M. spretus</text>
<text x="38.9" y="284.2" text-anchor="end" font-size="8" fill="#444" font-style="italic" stroke="#444" stroke-width="0.22">M. pahari</text>
<text x="38.9" y="294.1" text-anchor="end" font-size="8" fill="#444" stroke="#444" stroke-width="0.22">rat (mRM)</text>
<text x="38.9" y="304.1" text-anchor="end" font-size="8" fill="#444" stroke="#444" stroke-width="0.22">rat (rRM)</text>
<text transform="translate(55.2 314.6) rotate(-90)" text-anchor="end" font-size="8.2" fill="#444" stroke="#444" stroke-width="0.22">MLTR18A_MM</text>
<text transform="translate(79.7 314.6) rotate(-90)" text-anchor="end" font-size="8.2" fill="#444" stroke="#444" stroke-width="0.22">LTRIS6</text>
<text transform="translate(104.2 314.6) rotate(-90)" text-anchor="end" font-size="8.2" fill="#444" stroke="#444" stroke-width="0.22">MMTV–int</text>
<text transform="translate(128.7 314.6) rotate(-90)" text-anchor="end" font-size="8.2" fill="#444" stroke="#444" stroke-width="0.22">RLTR13D3</text>
<text transform="translate(153.2 314.6) rotate(-90)" text-anchor="end" font-size="8.2" fill="#444" stroke="#444" stroke-width="0.22">LTRIS3</text>
<text transform="translate(177.6 314.6) rotate(-90)" text-anchor="end" font-size="8.2" fill="#444" stroke="#444" stroke-width="0.22">RLTR1D2_MM</text>
<text transform="translate(202.1 314.6) rotate(-90)" text-anchor="end" font-size="8.2" fill="#444" stroke="#444" stroke-width="0.22">RLTR44E</text>
<text transform="translate(226.6 314.6) rotate(-90)" text-anchor="end" font-size="8.2" fill="#444" stroke="#444" stroke-width="0.22">ERVB3_1–I_MM</text>
<text transform="translate(251.1 314.6) rotate(-90)" text-anchor="end" font-size="8.2" fill="#444" stroke="#444" stroke-width="0.22">RLTR4_Mm</text>
<text transform="translate(275.6 314.6) rotate(-90)" text-anchor="end" font-size="8.2" fill="#444" stroke="#444" stroke-width="0.22">IAP5–Mm_LTR</text>
<text transform="translate(300.1 314.6) rotate(-90)" text-anchor="end" font-size="8.2" fill="#444" stroke="#444" stroke-width="0.22">RLTR40</text>
<text transform="translate(324.6 314.6) rotate(-90)" text-anchor="end" font-size="8.2" fill="#444" stroke="#444" stroke-width="0.22">RMER6A</text>
<text transform="translate(349.1 314.6) rotate(-90)" text-anchor="end" font-size="8.2" fill="#444" stroke="#444" stroke-width="0.22">BGLII_B</text>
<text transform="translate(373.6 314.6) rotate(-90)" text-anchor="end" font-size="8.2" fill="#444" stroke="#444" stroke-width="0.22">RLTR6_Mm</text>
<text transform="translate(398.1 314.6) rotate(-90)" text-anchor="end" font-size="8.2" fill="#444" stroke="#444" stroke-width="0.22">RMER21B</text>
<text transform="translate(422.5 314.6) rotate(-90)" text-anchor="end" font-size="8.2" fill="#444" stroke="#444" stroke-width="0.22">IAPEy–int</text>
<text transform="translate(447 314.6) rotate(-90)" text-anchor="end" font-size="8.2" fill="#444" stroke="#444" stroke-width="0.22">RLTR1B–int</text>
<text transform="translate(471.5 314.6) rotate(-90)" text-anchor="end" font-size="8.2" fill="#444" stroke="#444" stroke-width="0.22">LTRIS2</text>
<text transform="translate(496 314.6) rotate(-90)" text-anchor="end" font-size="8.2" fill="#444" stroke="#444" stroke-width="0.22">RLTR26</text>
<text transform="translate(520.5 314.6) rotate(-90)" text-anchor="end" font-size="8.2" fill="#444" stroke="#444" stroke-width="0.22">MuRRS4–int</text>
<text transform="translate(545 314.6) rotate(-90)" text-anchor="end" font-size="8.2" fill="#444" stroke="#444" stroke-width="0.22">RLTR25A</text>
<text transform="translate(569.5 314.6) rotate(-90)" text-anchor="end" font-size="8.2" fill="#444" stroke="#444" stroke-width="0.22">RLTR10F</text>
<text transform="translate(594 314.6) rotate(-90)" text-anchor="end" font-size="8.2" fill="#444" stroke="#444" stroke-width="0.22">ETnERV2–int</text>
<text transform="translate(618.5 314.6) rotate(-90)" text-anchor="end" font-size="8.2" fill="#444" stroke="#444" stroke-width="0.22">RMER17B2</text>
<text transform="translate(643 314.6) rotate(-90)" text-anchor="end" font-size="8.2" fill="#444" stroke="#444" stroke-width="0.22">MMERVK10D3_I</text>
<text transform="translate(667.5 314.6) rotate(-90)" text-anchor="end" font-size="8.2" fill="#444" stroke="#444" stroke-width="0.22">MMERVK9E_I</text>
<defs><linearGradient id="cb" x1="0" x2="1" y1="0" y2="0"><stop offset="0" stop-color="#008a5e"/><stop offset="0.12" stop-color="#4ea872"/><stop offset="0.25" stop-color="#a6d08e"/><stop offset="0.38" stop-color="#d8ecca"/><stop offset="0.5" stop-color="#fcfbf4"/><stop offset="0.62" stop-color="#f4dcaa"/><stop offset="0.75" stop-color="#f6aaa2"/><stop offset="0.88" stop-color="#e07896"/><stop offset="1" stop-color="#a23a66"/></linearGradient></defs>
<rect x="553.9" y="390.1" width="116.5" height="5.6" rx="2.2" fill="url(#cb)"/>
<path d="M582.9 390.1V395.7" stroke="#fff" stroke-width="0.6"/>
<path d="M611.9 390.1V395.7" stroke="#fff" stroke-width="0.6"/>
<path d="M641.2 390.1V395.7" stroke="#fff" stroke-width="0.6"/>
<text x="554.3" y="403.8" text-anchor="middle" font-size="6.5" fill="#555" stroke="#555" stroke-width="0.22">-8</text>
<text x="582.6" y="403.8" text-anchor="middle" font-size="6.5" fill="#555" stroke="#555" stroke-width="0.22">-4</text>
<text x="612" y="403.8" text-anchor="middle" font-size="6.5" fill="#555" stroke="#555" stroke-width="0.22">0</text>
<text x="641.2" y="403.8" text-anchor="middle" font-size="6.5" fill="#555" stroke="#555" stroke-width="0.22">4</text>
<text x="670.2" y="403.8" text-anchor="middle" font-size="6.5" fill="#555" stroke="#555" stroke-width="0.22">8</text>
<text x="516.8" y="394.3" text-anchor="middle" font-size="8" fill="#444" stroke="#444" stroke-width="0.22">log2 TE</text>
<text x="516.8" y="402.1" text-anchor="middle" font-size="8" fill="#444" stroke="#444" stroke-width="0.22">enrichment</text>
<text x="0.2" y="433.9" font-size="12.8" font-weight="bold" fill="#111" stroke="#111" stroke-width="0.22">b</text>
<g fill="none" stroke="#ece6db" stroke-width="4.2">
<path d="M3 500.9H200.5A3.4 3.4 0 0 0 200.5 494.1L196 493.9"/>
<path d="M191 493.7L116 489.9" stroke-dasharray="7.4 5.9"/>
<path d="M109 489.7H103.5A2.8 2.8 0 0 1 103.5 484.1H234"/>
<path d="M3 537H94C104 537 104 528.5 114 528.5"/>
<path d="M121 528.5H183" stroke-dasharray="7.2 6.1"/>
<path d="M189.5 528.5C197 528.5 197 521.3 206 521.3H245"/>
<path d="M413.1 463.7H515"/>
<path d="M535.7 463.7H618.5"/>
</g>
<path d="M233.4 480.4L245.7 484.1L233.4 487.8Z" fill="#ece6db"/>
<path d="M244.7 517.4L257 521.3L244.7 525.2Z" fill="#ece6db"/>
<path d="M514.8 460.1L527.3 463.7L514.8 467.3Z" fill="#ece6db"/>
<path d="M618.1 460.1L631.1 463.7L618.1 467.3Z" fill="#ece6db"/>
<path d="M3 473.85H247.7M3 511.85H262M309 473.85H677.5" stroke="#aaa" stroke-width="1.3"/>
<path d="M3 547.3H247.7M309 547.3H481" stroke="#7c7c7c" stroke-width="1.2"/>
<path d="M16.8 471.85H24.9V469.85L31.7 473.85L24.9 477.85V475.85H16.8Z" fill="#0a8383"/>
<path d="M43.5 471.85H51.4V469.85L58.2 473.85L51.4 477.85V475.85H43.5Z" fill="#0a8383"/>
<rect x="62.9" y="470.35" width="6" height="7" fill="#d1b68c"/>
<path d="M88.3 471.85H77.7V469.85L70.9 473.85L77.7 477.85V475.85H88.3Z" fill="#0a8383"/>
<rect x="89.3" y="470.35" width="18" height="7" fill="#7c6650"/>
<rect x="111.4" y="471.75" width="5.6" height="4.2" fill="#0a8383"/>
<rect x="116.9" y="470.35" width="8.8" height="7" fill="#7c6650"/>
<path d="M125.6 471.85H130.9V469.85L138.4 473.85L130.9 477.85V475.85H125.6Z" fill="#0a8383"/>
<rect x="141.5" y="470.35" width="9.2" height="7" fill="#d1b68c"/>
<rect x="150.7" y="470.35" width="15.3" height="7" fill="#7c6650"/>
<path d="M179.9 471.85H173.4V469.85L166.6 473.85L173.4 477.85V475.85H179.9Z" fill="#0a8383"/>
<path d="M181.9 471.85H188.8V469.85L195.6 473.85L188.8 477.85V475.85H181.9Z" fill="#0a8383"/>
<path d="M203.8 471.85H210.9V469.85L217.7 473.85L210.9 477.85V475.85H203.8Z" fill="#0a8383"/>
<rect x="219.1" y="470.35" width="7.2" height="7" fill="#d1b68c"/>
<path d="M228.3 471.85H229.7V469.85L236.5 473.85L229.7 477.85V475.85H228.3Z" fill="#0a8383"/>
<path d="M16.8 509.85H24.9V507.85L31.7 511.85L24.9 515.85V513.85H16.8Z" fill="#0a8383"/>
<path d="M43.5 509.85H51.4V507.85L58.2 511.85L51.4 515.85V513.85H43.5Z" fill="#0a8383"/>
<rect x="62.9" y="508.35" width="6" height="7" fill="#d1b68c"/>
<path d="M88.3 509.85H77.7V507.85L70.9 511.85L77.7 515.85V513.85H88.3Z" fill="#0a8383"/>
<rect x="89.3" y="508.35" width="18" height="7" fill="#7c6650"/>
<rect x="111.4" y="509.75" width="5.6" height="4.2" fill="#0a8383"/>
<rect x="116.9" y="508.35" width="8.8" height="7" fill="#7c6650"/>
<path d="M125.6 509.85H130.9V507.85L138.4 511.85L130.9 515.85V513.85H125.6Z" fill="#0a8383"/>
<rect x="141.5" y="508.35" width="9.2" height="7" fill="#d1b68c"/>
<rect x="150.7" y="508.35" width="15.3" height="7" fill="#7c6650"/>
<path d="M179.9 509.85H173.4V507.85L166.6 511.85L173.4 515.85V513.85H179.9Z" fill="#0a8383"/>
<path d="M181.9 509.85H188.8V507.85L195.6 511.85L188.8 515.85V513.85H181.9Z" fill="#0a8383"/>
<rect x="197.3" y="508.35" width="17.7" height="7" fill="#4b3d32"/>
<path d="M218.1 509.85H225.2V507.85L232 511.85L225.2 515.85V513.85H218.1Z" fill="#0a8383"/>
<rect x="233.4" y="508.35" width="7.2" height="7" fill="#d1b68c"/>
<path d="M242.6 509.85H244V507.85L250.8 511.85L244 515.85V513.85H242.6Z" fill="#0a8383"/>
<path d="M16.8 545.3H24.9V543.3L31.7 547.3L24.9 551.3V549.3H16.8Z" fill="#0a8383"/>
<path d="M43.5 545.3H51.4V543.3L58.2 547.3L51.4 551.3V549.3H43.5Z" fill="#0a8383"/>
<rect x="62.9" y="543.8" width="6" height="7" fill="#d1b68c"/>
<path d="M88.3 545.3H77.7V543.3L70.9 547.3L77.7 551.3V549.3H88.3Z" fill="#0a8383"/>
<rect x="89.3" y="543.8" width="18" height="7" fill="#7c6650"/>
<rect x="111.4" y="545.2" width="5.6" height="4.2" fill="#0a8383"/>
<rect x="116.9" y="543.8" width="8.8" height="7" fill="#7c6650"/>
<path d="M125.6 545.3H130.9V543.3L138.4 547.3L130.9 551.3V549.3H125.6Z" fill="#0a8383"/>
<rect x="141.5" y="543.8" width="9.2" height="7" fill="#d1b68c"/>
<rect x="150.7" y="543.8" width="15.3" height="7" fill="#7c6650"/>
<path d="M179.9 545.3H173.4V543.3L166.6 547.3L173.4 551.3V549.3H179.9Z" fill="#0a8383"/>
<path d="M181.9 545.3H188.8V543.3L195.6 547.3L188.8 551.3V549.3H181.9Z" fill="#0a8383"/>
<path d="M203.8 545.3H210.9V543.3L217.7 547.3L210.9 551.3V549.3H203.8Z" fill="#0a8383"/>
<rect x="219.1" y="543.8" width="7.2" height="7" fill="#d1b68c"/>
<path d="M228.3 545.3H229.7V543.3L236.5 547.3L229.7 551.3V549.3H228.3Z" fill="#0a8383"/>
<path d="M313.2 471.85H321.4V469.85L328.2 473.85L321.4 477.85V475.85H313.2Z" fill="#0a8383"/>
<rect x="332" y="470.35" width="18.4" height="7" fill="#4b3d32"/>
<path d="M354.2 471.85H362.5V469.85L369.3 473.85L362.5 477.85V475.85H354.2Z" fill="#0a8383"/>
<rect x="373.8" y="470.35" width="5.9" height="7" fill="#d1b68c"/>
<path d="M398.5 471.85H388.6V469.85L381.8 473.85L388.6 477.85V475.85H398.5Z" fill="#0a8383"/>
<rect x="400.2" y="470.35" width="17.7" height="7" fill="#7c6650"/>
<rect x="422.1" y="471.75" width="5.3" height="4.2" fill="#0a8383"/>
<rect x="427.3" y="470.35" width="8.8" height="7" fill="#7c6650"/>
<path d="M436 471.85H441.8V469.85L448.6 473.85L441.8 477.85V475.85H436Z" fill="#0a8383"/>
<rect x="449.1" y="470.35" width="17.6" height="7" fill="#4b3d32"/>
<rect x="470.3" y="470.35" width="9" height="7" fill="#d1b68c"/>
<rect x="479.3" y="470.35" width="15.2" height="7" fill="#7c6650"/>
<path d="M508.1 471.85H502.3V469.85L495.5 473.85L502.3 477.85V475.85H508.1Z" fill="#0a8383"/>
<path d="M510.6 471.85H517.4V469.85L524.2 473.85L517.4 477.85V475.85H510.6Z" fill="#0a8383"/>
<rect x="525.8" y="470.35" width="8.8" height="7" fill="#4b3d32"/>
<rect x="534.6" y="470.35" width="8.4" height="7" fill="#7c6650"/>
<rect x="547.2" y="471.75" width="5.3" height="4.2" fill="#0a8383"/>
<rect x="552.4" y="470.35" width="8.8" height="7" fill="#7c6650"/>
<path d="M561.1 471.85H566.9V469.85L573.7 473.85L566.9 477.85V475.85H561.1Z" fill="#0a8383"/>
<rect x="577.3" y="470.35" width="9.5" height="7" fill="#d1b68c"/>
<rect x="586.8" y="470.35" width="15" height="7" fill="#7c6650"/>
<path d="M615.4 471.85H609.7V469.85L602.9 473.85L609.7 477.85V475.85H615.4Z" fill="#0a8383"/>
<path d="M618.1 471.85H624.3V469.85L631.1 473.85L624.3 477.85V475.85H618.1Z" fill="#3fbfc5"/>
<path d="M639.8 471.85H646.2V469.85L653 473.85L646.2 477.85V475.85H639.8Z" fill="#0a8383"/>
<rect x="655.1" y="470.35" width="6.9" height="7" fill="#d1b68c"/>
<path d="M663.9 471.85H665.4V469.85L672.2 473.85L665.4 477.85V475.85H663.9Z" fill="#0a8383"/>
<rect x="319.4" y="543.8" width="17.6" height="7" fill="#4b3d32"/>
<path d="M343.5 545.3H351.1V543.3L357.9 547.3L351.1 551.3V549.3H343.5Z" fill="#0a8383"/>
<path d="M371.3 545.3H379.2V543.3L386 547.3L379.2 551.3V549.3H371.3Z" fill="#0a8383"/>
<rect x="391.2" y="543.8" width="5.2" height="7" fill="#d1b68c"/>
<path d="M415.2 545.3H405.3V543.3L398.5 547.3L405.3 551.3V549.3H415.2Z" fill="#0a8383"/>
<rect x="416.9" y="543.8" width="7.7" height="7" fill="#7c6650"/>
<rect x="424.6" y="543.8" width="9" height="7" fill="#4b3d32"/>
<path d="M436.5 545.3H443.5V543.3L450.3 547.3L443.5 551.3V549.3H436.5Z" fill="#0a8383"/>
<rect x="451.8" y="543.8" width="7.3" height="7" fill="#d1b68c"/>
<path d="M460.8 545.3H462.7V543.3L469.5 547.3L462.7 551.3V549.3H460.8Z" fill="#0a8383"/>
<rect x="311.5" y="508.5" width="18.4" height="6.3" fill="#4b3d32"/>
<g stroke="#717171" stroke-width="1.45" fill="none" stroke-linecap="round" stroke-linejoin="round">
<path d="M260.3 482.4L297 474.4M289.4 473.2L297.2 474.4L290.6 478.5"/>
<path d="M260.9 538.6L297.7 547M290.6 543.1L297.9 547L291 549.3"/>
</g>
<g font-weight="bold" font-size="8" text-anchor="middle" fill="#727272" stroke="#727272" stroke-width="0.22">
<text x="276.4" y="461.7">locus</text><text x="276.4" y="468.7">expansion</text>
<text x="276.4" y="556.2">locus</text><text x="276.4" y="563.7">contraction</text>
</g>
<text x="279.1" y="538.8" font-size="16.5" text-anchor="middle" fill="#6e6e6e" stroke="#6e6e6e" stroke-width="0.3">?</text>
<g font-weight="bold" font-size="8" text-anchor="middle" fill="#4e4a46" stroke="#4e4a46" stroke-width="0.22">
<text x="319.4" y="488.7">retro-</text><text x="319.4" y="496.8">transposing</text><text x="319.4" y="504.8">ERV</text>
</g>
<defs><marker id="rh" viewBox="0 0 10 10" refX="8" refY="5" markerWidth="4.6" markerHeight="4.6" orient="auto"><path d="M0 1L10 5L0 9Z" fill="#8c1d22"/></marker>
<marker id="ch" viewBox="0 0 10 10" refX="5" refY="5" markerWidth="6" markerHeight="6" orient="auto"><path d="M5 0V10" stroke="#3fbfc5" stroke-width="2"/></marker></defs>
<g stroke="#8c1d22" stroke-width="1.5" fill="none" marker-end="url(#rh)">
<path d="M305.2 502.3Q275.4 488 215.5 503"/>
<path d="M337 508.5Q360 503 357 485.3"/>
<path d="M341.8 511.7Q405 512 443.2 485.2"/>
<path d="M337.6 515.2Q352 521 341.6 535.3"/>
<path d="M423.6 527.8Q418 503 443.5 501.5"/>
<path d="M466.4 510.6Q470 533 447 537"/>
<path d="M565.1 495.2L557.6 485.3"/>
<path d="M583.1 495.2L592.2 485.1"/>
</g>
<g font-weight="bold" font-size="8" text-anchor="middle" fill="#8c1d22" stroke="#8c1d22" stroke-width="0.22">
<text x="444.5" y="517.3">cluster</text><text x="444.5" y="524.6">instability</text>
<text x="574.8" y="504.4">duplicated</text><text x="574.8" y="511.6">ERVs</text>
</g>
<g stroke="#3fbfc5" stroke-width="1.6" fill="none">
<path d="M459.7 485.2C465 505 500 515 569.3 523.8"/>
<path d="M531.4 485.2C532 505 545 519 569.3 523.8"/>
<path d="M475.5 524C510 525.5 545 524.5 570 523C595 521.5 618 515 624.8 505.7"/>
<path d="M454.2 485H464.2M527 485H536M475.5 519.6V528.4"/>
</g>
<text x="511" y="510.5" font-size="16.5" text-anchor="middle" fill="#3fbfc5" stroke="#3fbfc5" stroke-width="0.3">?</text>
<g font-weight="bold" font-size="8" text-anchor="middle" fill="#3fbfc5" stroke="#3fbfc5" stroke-width="0.22">
<text x="624.8" y="485.6">new</text><text x="624.8" y="493.3">KZFP</text><text x="624.8" y="501.7">gene</text>
</g>
<g font-weight="bold" font-size="8" fill="#c2b9a9" stroke="#c2b9a9" stroke-width="0.22">
<text x="433" y="456.7">duplicated region</text><text x="544" y="457">duplicated region</text>
</g>
<rect x="514.6" y="547" width="169.6" height="25.6" fill="#fff" stroke="#8a8a8a" stroke-width="0.8"/>
<path d="M522.1 552.8H531.7V550.8L539.2 555L531.7 559.2V557.2H522.1Z" fill="#0a8383"/>
<rect x="589.1" y="551.8" width="17.1" height="6.6" fill="#7c6650"/>
<rect x="522.1" y="562.9" width="17.1" height="6" fill="#d1b68c"/>
<rect x="589.1" y="563" width="17.1" height="6" fill="#4b3d32"/>
<g font-weight="bold" font-size="8">
<text x="543.6" y="557.9" fill="#0a8383" stroke="#0a8383" stroke-width="0.22">KZFP gene</text>
<text x="610.1" y="557.9" fill="#7a6651" stroke="#7a6651" stroke-width="0.22">old ERV insertion</text>
<text x="543.6" y="568.4" fill="#d1b68c" font-weight="normal" stroke="#d1b68c" stroke-width="0.22">LINE</text>
<text x="610.1" y="568.4" fill="#3d3129" stroke="#3d3129" stroke-width="0.22">new ERV insertion</text>
</g>
</svg></body></html>
